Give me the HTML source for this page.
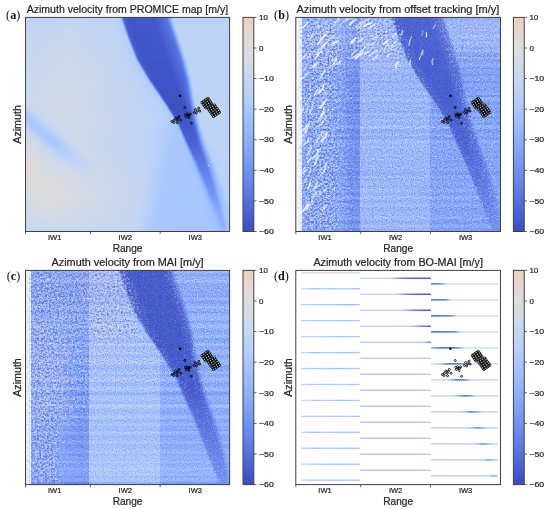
<!DOCTYPE html><html><head><meta charset="utf-8"><style>html,body{margin:0;padding:0;background:#fff;width:550px;height:509px;overflow:hidden;position:relative}.im{position:absolute}.im i{display:block;height:1px}svg{position:absolute;left:0;top:0;will-change:transform}</style></head><body><div class="im" style="left:25px;top:17px;width:205px"><i style="background:linear-gradient(90deg,#bed2f6 0.5px,#c0d4f5 60.5px,#b9d0f9 90.5px,#b5cdfa 94.5px,#a5c3fe 95.5px,#80a3fa 96.5px,#5a78e4 97.5px,#485fd1 98.5px,#4257c9 101.5px,#4358cb 128.5px,#5673e0 140.5px,#5a78e4 141.5px,#6485ec 142.5px,#86a9fc 144.5px,#98b9ff 145.5px,#a9c6fd 146.5px,#b5cdfa 147.5px,#bad0f8 148.5px,#bad0f8 204.5px)"></i><i style="background:linear-gradient(90deg,#bed2f6 0.5px,#c0d4f5 51.5px,#bbd1f8 86.5px,#b5cdfa 94.5px,#aec9fc 95.5px,#8db0fe 96.5px,#6687ed 97.5px,#4b64d5 98.5px,#445acc 100.5px,#4257c9 104.5px,#4358cb 128.5px,#4f69d9 136.5px,#5875e1 141.5px,#6180e9 142.5px,#6e90f2 143.5px,#93b5fe 145.5px,#a3c2fe 146.5px,#b1cbfc 147.5px,#b9d0f9 148.5px,#bad0f8 204.5px)"></i><i style="background:linear-gradient(90deg,#bed2f6 0.5px,#c1d4f4 48.5px,#bbd1f8 86.5px,#b3cdfb 95.5px,#9abbff 96.5px,#7295f4 97.5px,#516ddb 98.5px,#465ecf 99.5px,#4257c9 103.5px,#4358cb 129.5px,#5673e0 141.5px,#5d7ce6 142.5px,#7a9df8 144.5px,#8caffe 145.5px,#9ebeff 146.5px,#adc9fd 147.5px,#b7cff9 148.5px,#bad0f8 152.5px,#bad0f8 204.5px)"></i><i style="background:linear-gradient(90deg,#bed2f6 0.5px,#c1d4f4 51.5px,#bbd1f8 87.5px,#b5cdfa 95.5px,#a6c4fe 96.5px,#80a3fa 97.5px,#5a78e4 98.5px,#485fd1 99.5px,#4257c9 102.5px,#4358cb 129.5px,#5673e0 141.5px,#5a78e4 142.5px,#6485ec 143.5px,#86a9fc 145.5px,#98b9ff 146.5px,#a9c6fd 147.5px,#b5cdfa 148.5px,#bad0f8 149.5px,#bad0f8 204.5px)"></i><i style="background:linear-gradient(90deg,#bfd3f6 0.5px,#c1d4f4 61.5px,#bad0f8 90.5px,#b6cefa 95.5px,#aec9fc 96.5px,#8db0fe 97.5px,#6687ed 98.5px,#4b64d5 99.5px,#445acc 101.5px,#4257c9 105.5px,#4358cb 129.5px,#4f69d9 137.5px,#5875e1 142.5px,#6180e9 143.5px,#80a3fa 145.5px,#93b5fe 146.5px,#a5c3fe 147.5px,#b2ccfb 148.5px,#b9d0f9 149.5px,#bad0f8 204.5px)"></i><i style="background:linear-gradient(90deg,#bfd3f6 0.5px,#c3d5f4 49.5px,#bcd2f7 87.5px,#b5cdfa 96.5px,#9bbcff 97.5px,#7396f5 98.5px,#536edd 99.5px,#465ecf 100.5px,#4257c9 104.5px,#4358cb 130.5px,#5673e0 142.5px,#5d7ce6 143.5px,#7a9df8 145.5px,#8db0fe 146.5px,#9fbfff 147.5px,#aec9fc 148.5px,#b9d0f9 149.5px,#bbd1f8 153.5px,#bbd1f8 204.5px)"></i><i style="background:linear-gradient(90deg,#c0d4f5 0.5px,#c4d5f3 50.5px,#bed2f6 86.5px,#b6cefa 96.5px,#a7c5fe 97.5px,#81a4fb 98.5px,#5b7ae5 99.5px,#485fd1 100.5px,#4257c9 103.5px,#4358cb 130.5px,#5673e0 142.5px,#5a78e4 143.5px,#6485ec 144.5px,#86a9fc 146.5px,#9abbff 147.5px,#aac7fd 148.5px,#b6cefa 149.5px,#bbd1f8 150.5px,#bbd1f8 204.5px)"></i><i style="background:linear-gradient(90deg,#c1d4f4 0.5px,#c4d5f3 60.5px,#bcd2f7 90.5px,#b7cff9 96.5px,#b1cbfc 97.5px,#8fb1fe 98.5px,#6788ee 99.5px,#4b64d5 100.5px,#455cce 101.5px,#4257c9 104.5px,#4358cb 130.5px,#5875e1 143.5px,#6180e9 144.5px,#81a4fb 146.5px,#94b6ff 147.5px,#a6c4fe 148.5px,#b3cdfb 149.5px,#bbd1f8 150.5px,#bcd2f7 204.5px)"></i><i style="background:linear-gradient(90deg,#c1d4f4 0.5px,#c5d6f2 49.5px,#bfd3f6 87.5px,#b9d0f9 96.5px,#b6cefa 97.5px,#9dbdff 98.5px,#7597f6 99.5px,#536edd 100.5px,#465ecf 101.5px,#4257c9 105.5px,#4358cb 131.5px,#5673e0 143.5px,#5d7ce6 144.5px,#6a8bef 145.5px,#8db0fe 147.5px,#a1c0ff 148.5px,#afcafc 149.5px,#bad0f8 150.5px,#bcd2f7 154.5px,#bcd2f7 204.5px)"></i><i style="background:linear-gradient(90deg,#c3d5f4 0.5px,#c6d6f1 52.5px,#bfd3f6 89.5px,#b7cff9 97.5px,#a9c6fd 98.5px,#82a6fb 99.5px,#5b7ae5 100.5px,#485fd1 101.5px,#4257c9 104.5px,#4358cb 131.5px,#4f69d9 139.5px,#5673e0 143.5px,#5a78e4 144.5px,#6485ec 145.5px,#88abfd 147.5px,#9bbcff 148.5px,#b9d0f9 150.5px,#bed2f6 151.5px,#bed2f6 204.5px)"></i><i style="background:linear-gradient(90deg,#c3d5f4 0.5px,#c6d6f1 43.5px,#c1d4f4 85.5px,#b9d0f9 97.5px,#b2ccfb 98.5px,#90b2fe 99.5px,#6788ee 100.5px,#4b64d5 101.5px,#455cce 102.5px,#4257c9 105.5px,#4358cb 132.5px,#5875e1 144.5px,#6180e9 145.5px,#6f92f3 146.5px,#82a6fb 147.5px,#96b7ff 148.5px,#a7c5fe 149.5px,#b5cdfa 150.5px,#bed2f6 151.5px,#bed2f6 204.5px)"></i><i style="background:linear-gradient(90deg,#c4d5f3 0.5px,#c7d7f0 53.5px,#c0d4f5 89.5px,#b7cff9 98.5px,#9ebeff 99.5px,#7597f6 100.5px,#536edd 101.5px,#465ecf 102.5px,#4257c9 106.5px,#4358cb 132.5px,#5673e0 144.5px,#5d7ce6 145.5px,#6a8bef 146.5px,#8fb1fe 148.5px,#a2c1ff 149.5px,#b2ccfb 150.5px,#bbd1f8 151.5px,#bfd3f6 153.5px,#bfd3f6 204.5px)"></i><i style="background:linear-gradient(90deg,#c4d5f3 0.5px,#c7d7f0 49.5px,#c1d4f4 87.5px,#b9d0f9 98.5px,#aac7fd 99.5px,#84a7fc 100.5px,#5b7ae5 101.5px,#485fd1 102.5px,#4257c9 105.5px,#4358cb 132.5px,#4f69d9 140.5px,#5572df 144.5px,#5a78e4 145.5px,#6485ec 146.5px,#88abfd 148.5px,#9dbdff 149.5px,#adc9fd 150.5px,#bad0f8 151.5px,#bfd3f6 152.5px,#bfd3f6 204.5px)"></i><i style="background:linear-gradient(90deg,#c4d5f3 0.5px,#c7d7f0 45.5px,#c3d5f4 84.5px,#bad0f8 98.5px,#b2ccfb 99.5px,#92b4fe 100.5px,#688aef 101.5px,#4b64d5 102.5px,#455cce 103.5px,#4257c9 106.5px,#4358cb 133.5px,#5875e1 145.5px,#6180e9 146.5px,#6f92f3 147.5px,#82a6fb 148.5px,#96b7ff 149.5px,#a7c5fe 150.5px,#b6cefa 151.5px,#bed2f6 152.5px,#bfd3f6 204.5px)"></i><i style="background:linear-gradient(90deg,#c4d5f3 0.5px,#c9d7f0 46.5px,#c1d4f4 88.5px,#bad0f8 98.5px,#b7cff9 99.5px,#9fbfff 100.5px,#7699f6 101.5px,#5470de 102.5px,#465ecf 103.5px,#4055c8 108.5px,#4257c9 132.5px,#4e68d8 140.5px,#5673e0 145.5px,#5d7ce6 146.5px,#6a8bef 147.5px,#8fb1fe 149.5px,#a2c1ff 150.5px,#b2ccfb 151.5px,#bcd2f7 152.5px,#bfd3f6 156.5px,#bfd3f6 204.5px)"></i><i style="background:linear-gradient(90deg,#c4d5f3 0.5px,#c9d7f0 49.5px,#c1d4f4 88.5px,#b9d0f9 99.5px,#aac7fd 100.5px,#84a7fc 101.5px,#5d7ce6 102.5px,#485fd1 103.5px,#4055c8 107.5px,#4257c9 132.5px,#4b64d5 139.5px,#5572df 145.5px,#5a78e4 146.5px,#6485ec 147.5px,#88abfd 149.5px,#9dbdff 150.5px,#adc9fd 151.5px,#bad0f8 152.5px,#bfd3f6 153.5px,#bfd3f6 204.5px)"></i><i style="background:linear-gradient(90deg,#c5d6f2 0.5px,#c9d7f0 51.5px,#c0d4f5 91.5px,#bad0f8 99.5px,#b3cdfb 100.5px,#93b5fe 101.5px,#688aef 102.5px,#4b64d5 103.5px,#455cce 104.5px,#4055c8 108.5px,#4257c9 133.5px,#5875e1 146.5px,#6180e9 147.5px,#6f92f3 148.5px,#82a6fb 149.5px,#96b7ff 150.5px,#a7c5fe 151.5px,#b6cefa 152.5px,#bed2f6 153.5px,#bfd3f6 204.5px)"></i><i style="background:linear-gradient(90deg,#c5d6f2 0.5px,#c9d7f0 53.5px,#c0d4f5 92.5px,#b7cff9 100.5px,#9fbfff 101.5px,#7699f6 102.5px,#5470de 103.5px,#465ecf 104.5px,#4055c8 109.5px,#4257c9 133.5px,#4e68d8 141.5px,#5673e0 146.5px,#5d7ce6 147.5px,#6a8bef 148.5px,#8fb1fe 150.5px,#a2c1ff 151.5px,#b2ccfb 152.5px,#bcd2f7 153.5px,#bfd3f6 157.5px,#bfd3f6 204.5px)"></i><i style="background:linear-gradient(90deg,#c5d6f2 0.5px,#c9d7f0 54.5px,#c0d4f5 92.5px,#b9d0f9 100.5px,#abc8fd 101.5px,#85a8fc 102.5px,#5d7ce6 103.5px,#485fd1 104.5px,#4055c8 108.5px,#4257c9 133.5px,#4b64d5 140.5px,#5572df 146.5px,#5977e3 147.5px,#6485ec 148.5px,#88abfd 150.5px,#9dbdff 151.5px,#adc9fd 152.5px,#bad0f8 153.5px,#bfd3f6 154.5px,#bfd3f6 204.5px)"></i><i style="background:linear-gradient(90deg,#c5d6f2 0.5px,#c9d7f0 49.5px,#c1d4f4 90.5px,#bad0f8 100.5px,#b3cdfb 101.5px,#93b5fe 102.5px,#688aef 103.5px,#4b64d5 104.5px,#455cce 105.5px,#4055c8 109.5px,#4257c9 134.5px,#5875e1 147.5px,#6180e9 148.5px,#6f92f3 149.5px,#82a6fb 150.5px,#96b7ff 151.5px,#a7c5fe 152.5px,#b6cefa 153.5px,#bed2f6 154.5px,#bfd3f6 204.5px)"></i><i style="background:linear-gradient(90deg,#c5d6f2 0.5px,#c9d7f0 47.5px,#c3d5f4 87.5px,#bad0f8 100.5px,#b7cff9 101.5px,#a1c0ff 102.5px,#7699f6 103.5px,#5470de 104.5px,#465ecf 105.5px,#4055c8 108.5px,#4257c9 134.5px,#5673e0 147.5px,#5d7ce6 148.5px,#6a8bef 149.5px,#8fb1fe 151.5px,#a2c1ff 152.5px,#b2ccfb 153.5px,#bcd2f7 154.5px,#bfd3f6 158.5px,#bfd3f6 204.5px)"></i><i style="background:linear-gradient(90deg,#c5d6f2 0.5px,#cad8ef 47.5px,#c1d4f4 91.5px,#b9d0f9 101.5px,#abc8fd 102.5px,#86a9fc 103.5px,#5e7de7 104.5px,#485fd1 105.5px,#4055c8 109.5px,#4257c9 134.5px,#485fd1 139.5px,#5572df 147.5px,#5977e3 148.5px,#6485ec 149.5px,#88abfd 151.5px,#9dbdff 152.5px,#adc9fd 153.5px,#bad0f8 154.5px,#bfd3f6 155.5px,#bfd3f6 204.5px)"></i><i style="background:linear-gradient(90deg,#c5d6f2 0.5px,#cad8ef 49.5px,#c1d4f4 91.5px,#bad0f8 101.5px,#b5cdfa 102.5px,#97b8ff 103.5px,#6c8ff1 104.5px,#4e68d8 105.5px,#455cce 106.5px,#4055c8 110.5px,#4257c9 135.5px,#5572df 147.5px,#5875e1 148.5px,#6180e9 149.5px,#6f92f3 150.5px,#82a6fb 151.5px,#96b7ff 152.5px,#a7c5fe 153.5px,#b6cefa 154.5px,#bed2f6 155.5px,#bfd3f6 204.5px)"></i><i style="background:linear-gradient(90deg,#c5d6f2 0.5px,#cad8ef 46.5px,#c1d4f4 91.5px,#b9d0f9 102.5px,#a6c4fe 103.5px,#7da0f9 104.5px,#5977e3 105.5px,#465ecf 106.5px,#4055c8 109.5px,#4257c9 135.5px,#4b64d5 142.5px,#5572df 148.5px,#5d7ce6 149.5px,#6a8bef 150.5px,#8fb1fe 152.5px,#a2c1ff 153.5px,#b2ccfb 154.5px,#bcd2f7 155.5px,#bfd3f6 159.5px,#bfd3f6 204.5px)"></i><i style="background:linear-gradient(90deg,#c5d6f2 0.5px,#cad8ef 44.5px,#c3d5f4 89.5px,#b9d0f9 102.5px,#b1cbfc 103.5px,#8fb1fe 104.5px,#6485ec 105.5px,#4a63d3 106.5px,#4358cb 108.5px,#4055c8 112.5px,#4257c9 136.5px,#5572df 148.5px,#5977e3 149.5px,#6485ec 150.5px,#88abfd 152.5px,#9dbdff 153.5px,#adc9fd 154.5px,#bad0f8 155.5px,#bfd3f6 156.5px,#bfd3f6 204.5px)"></i><i style="background:linear-gradient(90deg,#c5d6f2 0.5px,#cad8ef 41.5px,#c5d6f2 81.5px,#bcd2f7 99.5px,#b7cff9 103.5px,#9ebeff 104.5px,#7597f6 105.5px,#536edd 106.5px,#455cce 107.5px,#4055c8 111.5px,#4257c9 136.5px,#4e68d8 144.5px,#5875e1 149.5px,#6180e9 150.5px,#6f92f3 151.5px,#82a6fb 152.5px,#96b7ff 153.5px,#a7c5fe 154.5px,#b6cefa 155.5px,#bed2f6 156.5px,#bfd3f6 204.5px)"></i><i style="background:linear-gradient(90deg,#c5d6f2 0.5px,#cad8ef 39.5px,#c6d6f1 77.5px,#bed2f6 98.5px,#b9d0f9 103.5px,#abc8fd 104.5px,#85a8fc 105.5px,#5e7de7 106.5px,#485fd1 107.5px,#4358cb 109.5px,#4055c8 113.5px,#4257c9 136.5px,#4b64d5 143.5px,#5572df 149.5px,#5d7ce6 150.5px,#6a8bef 151.5px,#8fb1fe 153.5px,#a2c1ff 154.5px,#b2ccfb 155.5px,#bcd2f7 156.5px,#bfd3f6 160.5px,#bfd3f6 204.5px)"></i><i style="background:linear-gradient(90deg,#c6d6f1 0.5px,#cad8ef 45.5px,#c4d5f3 86.5px,#bad0f8 102.5px,#b3cdfb 104.5px,#96b7ff 105.5px,#6c8ff1 106.5px,#4e68d8 107.5px,#455cce 108.5px,#4055c8 112.5px,#4257c9 137.5px,#5572df 149.5px,#5977e3 150.5px,#6485ec 151.5px,#89acfd 153.5px,#9dbdff 154.5px,#adc9fd 155.5px,#bad0f8 156.5px,#bfd3f6 157.5px,#bfd3f6 204.5px)"></i><i style="background:linear-gradient(90deg,#c6d6f1 0.5px,#cbd8ee 47.5px,#c1d4f4 93.5px,#b7cff9 104.5px,#a5c3fe 105.5px,#7da0f9 106.5px,#5977e3 107.5px,#465ecf 108.5px,#4055c8 111.5px,#4257c9 137.5px,#4e68d8 145.5px,#5875e1 150.5px,#6180e9 151.5px,#6f92f3 152.5px,#82a6fb 153.5px,#96b7ff 154.5px,#a9c6fd 155.5px,#b6cefa 156.5px,#bed2f6 157.5px,#bfd3f6 204.5px)"></i><i style="background:linear-gradient(90deg,#c6d6f1 0.5px,#cbd8ee 49.5px,#c1d4f4 93.5px,#b7cff9 104.5px,#afcafc 105.5px,#8db0fe 106.5px,#6485ec 107.5px,#4a63d3 108.5px,#4358cb 110.5px,#4055c8 114.5px,#4257c9 138.5px,#5572df 150.5px,#5d7ce6 151.5px,#6a8bef 152.5px,#90b2fe 154.5px,#b2ccfb 156.5px,#bcd2f7 157.5px,#bfd3f6 161.5px,#bfd3f6 204.5px)"></i><i style="background:linear-gradient(90deg,#c6d6f1 0.5px,#cbd8ee 48.5px,#c1d4f4 94.5px,#b9d0f9 104.5px,#b6cefa 105.5px,#9dbdff 106.5px,#7396f5 107.5px,#536edd 108.5px,#455cce 109.5px,#4055c8 113.5px,#4257c9 138.5px,#5572df 150.5px,#5977e3 151.5px,#6485ec 152.5px,#89acfd 154.5px,#9dbdff 155.5px,#aec9fc 156.5px,#bad0f8 157.5px,#bfd3f6 158.5px,#bfd3f6 204.5px)"></i><i style="background:linear-gradient(90deg,#c6d6f1 0.5px,#cbd8ee 44.5px,#c4d5f3 88.5px,#bad0f8 103.5px,#b7cff9 105.5px,#aac7fd 106.5px,#84a7fc 107.5px,#5d7ce6 108.5px,#465ecf 109.5px,#4055c8 112.5px,#4257c9 138.5px,#4e68d8 146.5px,#5673e0 151.5px,#6180e9 152.5px,#6f92f3 153.5px,#82a6fb 154.5px,#96b7ff 155.5px,#a9c6fd 156.5px,#b6cefa 157.5px,#bed2f6 158.5px,#bfd3f6 204.5px)"></i><i style="background:linear-gradient(90deg,#c6d6f1 0.5px,#cbd8ee 43.5px,#c5d6f2 84.5px,#bcd2f7 101.5px,#b7cff9 105.5px,#b2ccfb 106.5px,#94b6ff 107.5px,#6b8df0 108.5px,#4e68d8 109.5px,#455cce 110.5px,#4055c8 114.5px,#4257c9 139.5px,#5572df 151.5px,#5d7ce6 152.5px,#6a8bef 153.5px,#90b2fe 155.5px,#a3c2fe 156.5px,#b2ccfb 157.5px,#bcd2f7 158.5px,#bfd3f6 162.5px,#bfd3f6 204.5px)"></i><i style="background:linear-gradient(90deg,#c6d6f1 0.5px,#cbd8ee 39.5px,#c7d7f0 75.5px,#bed2f6 100.5px,#b6cefa 106.5px,#a3c2fe 107.5px,#7b9ff9 108.5px,#5977e3 109.5px,#455cce 110.5px,#4055c8 114.5px,#4257c9 139.5px,#4e68d8 147.5px,#5977e3 152.5px,#6485ec 153.5px,#89acfd 155.5px,#9dbdff 156.5px,#aec9fc 157.5px,#bad0f8 158.5px,#bfd3f6 159.5px,#bfd3f6 204.5px)"></i><i style="background:linear-gradient(90deg,#c6d6f1 0.5px,#ccd9ed 45.5px,#c3d5f4 92.5px,#b9d0f9 105.5px,#b6cefa 106.5px,#aec9fc 107.5px,#8caffe 108.5px,#6384eb 109.5px,#4961d2 110.5px,#445acc 111.5px,#4055c8 114.5px,#4257c9 140.5px,#5673e0 152.5px,#6180e9 153.5px,#6f92f3 154.5px,#82a6fb 155.5px,#97b8ff 156.5px,#a9c6fd 157.5px,#b6cefa 158.5px,#bed2f6 159.5px,#bfd3f6 204.5px)"></i><i style="background:linear-gradient(90deg,#c6d6f1 0.5px,#ccd9ed 44.5px,#c4d5f3 89.5px,#bad0f8 104.5px,#b5cdfa 107.5px,#9bbcff 108.5px,#7295f4 109.5px,#536edd 110.5px,#455cce 111.5px,#4055c8 115.5px,#4257c9 140.5px,#5572df 152.5px,#5d7ce6 153.5px,#6a8bef 154.5px,#90b2fe 156.5px,#a3c2fe 157.5px,#b2ccfb 158.5px,#bcd2f7 159.5px,#bfd3f6 163.5px,#bfd3f6 204.5px)"></i><i style="background:linear-gradient(90deg,#c6d6f1 0.5px,#ccd9ed 42.5px,#c4d5f3 90.5px,#bbd1f8 103.5px,#b6cefa 107.5px,#a7c5fe 108.5px,#82a6fb 109.5px,#5d7ce6 110.5px,#465ecf 111.5px,#4055c8 114.5px,#4257c9 140.5px,#4e68d8 148.5px,#5572df 152.5px,#5977e3 153.5px,#6485ec 154.5px,#89acfd 156.5px,#9dbdff 157.5px,#aec9fc 158.5px,#bad0f8 159.5px,#bfd3f6 160.5px,#bfd3f6 204.5px)"></i><i style="background:linear-gradient(90deg,#c6d6f1 0.5px,#ccd9ed 40.5px,#c6d6f1 82.5px,#bed2f6 101.5px,#b6cefa 107.5px,#b1cbfc 108.5px,#93b5fe 109.5px,#6a8bef 110.5px,#4c66d6 111.5px,#455cce 112.5px,#4055c8 114.5px,#4257c9 141.5px,#5673e0 153.5px,#6180e9 154.5px,#82a6fb 156.5px,#97b8ff 157.5px,#a9c6fd 158.5px,#b6cefa 159.5px,#bed2f6 160.5px,#bfd3f6 204.5px)"></i><i style="background:linear-gradient(90deg,#c6d6f1 0.5px,#ccd9ed 38.5px,#c7d7f0 77.5px,#bed2f6 101.5px,#b5cdfa 108.5px,#a1c0ff 109.5px,#7a9df8 110.5px,#5977e3 111.5px,#455cce 112.5px,#4055c8 116.5px,#4257c9 141.5px,#5572df 153.5px,#5d7ce6 154.5px,#6a8bef 155.5px,#7da0f9 156.5px,#90b2fe 157.5px,#a3c2fe 158.5px,#b2ccfb 159.5px,#bcd2f7 160.5px,#bfd3f6 164.5px,#bfd3f6 204.5px)"></i><i style="background:linear-gradient(90deg,#c7d7f0 0.5px,#ccd9ed 43.5px,#c6d6f1 82.5px,#bed2f6 102.5px,#b5cdfa 108.5px,#adc9fd 109.5px,#8badfd 110.5px,#6282ea 111.5px,#4961d2 112.5px,#4257c9 114.5px,#4257c9 141.5px,#4e68d8 149.5px,#5470de 153.5px,#5977e3 154.5px,#6485ec 155.5px,#89acfd 157.5px,#9dbdff 158.5px,#aec9fc 159.5px,#bad0f8 160.5px,#bfd3f6 161.5px,#bfd3f6 204.5px)"></i><i style="background:linear-gradient(90deg,#c7d7f0 0.5px,#ccd9ed 41.5px,#c9d7f0 73.5px,#bfd3f6 100.5px,#b3cdfb 109.5px,#9abbff 110.5px,#7295f4 111.5px,#516ddb 112.5px,#455cce 113.5px,#4055c8 117.5px,#4257c9 142.5px,#5673e0 154.5px,#6180e9 155.5px,#82a6fb 157.5px,#97b8ff 158.5px,#a9c6fd 159.5px,#b7cff9 160.5px,#bed2f6 161.5px,#bfd3f6 204.5px)"></i><i style="background:linear-gradient(90deg,#c7d7f0 0.5px,#cdd9ec 44.5px,#c4d5f3 91.5px,#bad0f8 106.5px,#b5cdfa 109.5px,#a6c4fe 110.5px,#81a4fb 111.5px,#5b7ae5 112.5px,#465ecf 113.5px,#4055c8 116.5px,#4257c9 142.5px,#5572df 154.5px,#5d7ce6 155.5px,#6a8bef 156.5px,#7da0f9 157.5px,#90b2fe 158.5px,#a3c2fe 159.5px,#b3cdfb 160.5px,#bcd2f7 161.5px,#bfd3f6 165.5px,#bfd3f6 204.5px)"></i><i style="background:linear-gradient(90deg,#c7d7f0 0.5px,#cdd9ec 47.5px,#c3d5f4 94.5px,#b7cff9 108.5px,#b1cbfc 110.5px,#93b5fe 111.5px,#6b8df0 112.5px,#4e68d8 113.5px,#445acc 114.5px,#4055c8 117.5px,#4257c9 143.5px,#5470de 154.5px,#5977e3 155.5px,#7699f6 157.5px,#8badfd 158.5px,#9ebeff 159.5px,#aec9fc 160.5px,#bad0f8 161.5px,#bfd3f6 162.5px,#bfd3f6 204.5px)"></i><i style="background:linear-gradient(90deg,#c7d7f0 0.5px,#cdd9ec 44.5px,#c4d5f3 92.5px,#bbd1f8 105.5px,#b3cdfb 110.5px,#a7c5fe 111.5px,#82a6fb 112.5px,#5d7ce6 113.5px,#465ecf 114.5px,#4055c8 117.5px,#4257c9 143.5px,#4b64d5 149.5px,#5470de 154.5px,#5875e1 155.5px,#6282ea 156.5px,#85a8fc 158.5px,#98b9ff 159.5px,#aac7fd 160.5px,#b7cff9 161.5px,#bfd3f6 162.5px,#bfd3f6 204.5px)"></i><i style="background:linear-gradient(90deg,#c7d7f0 0.5px,#cdd9ec 42.5px,#c6d6f1 84.5px,#bed2f6 103.5px,#b5cdfa 110.5px,#b2ccfb 111.5px,#9abbff 112.5px,#7295f4 113.5px,#536edd 114.5px,#455cce 115.5px,#4055c8 117.5px,#4055c8 142.5px,#4a63d3 149.5px,#5572df 155.5px,#5e7de7 156.5px,#6c8ff1 157.5px,#80a3fa 158.5px,#93b5fe 159.5px,#a6c4fe 160.5px,#b5cdfa 161.5px,#bed2f6 162.5px,#bfd3f6 204.5px)"></i><i style="background:linear-gradient(90deg,#c7d7f0 0.5px,#cdd9ec 42.5px,#c6d6f1 85.5px,#bcd2f7 105.5px,#b3cdfb 111.5px,#abc8fd 112.5px,#89acfd 113.5px,#6282ea 114.5px,#4961d2 115.5px,#4257c9 117.5px,#3f53c6 121.5px,#4055c8 143.5px,#4e68d8 151.5px,#5572df 155.5px,#5b7ae5 156.5px,#688aef 157.5px,#8fb1fe 159.5px,#a2c1ff 160.5px,#b2ccfb 161.5px,#bcd2f7 162.5px,#bfd3f6 166.5px,#bfd3f6 204.5px)"></i><i style="background:linear-gradient(90deg,#c7d7f0 0.5px,#cdd9ec 40.5px,#c9d7f0 76.5px,#bed2f6 104.5px,#b3cdfb 112.5px,#9fbfff 113.5px,#799cf8 114.5px,#5875e1 115.5px,#455cce 116.5px,#4055c8 118.5px,#4055c8 143.5px,#4c66d6 151.5px,#5470de 155.5px,#5977e3 156.5px,#6485ec 157.5px,#89acfd 159.5px,#9dbdff 160.5px,#aec9fc 161.5px,#bad0f8 162.5px,#bfd3f6 163.5px,#bfd3f6 204.5px)"></i><i style="background:linear-gradient(90deg,#c7d7f0 0.5px,#cdd9ec 38.5px,#c9d7f0 76.5px,#bfd3f6 103.5px,#b3cdfb 112.5px,#aec9fc 113.5px,#90b2fe 114.5px,#688aef 115.5px,#4c66d6 116.5px,#445acc 117.5px,#3f53c6 121.5px,#4055c8 144.5px,#5673e0 156.5px,#6180e9 157.5px,#84a7fc 159.5px,#98b9ff 160.5px,#aac7fd 161.5px,#b7cff9 162.5px,#bed2f6 163.5px,#bfd3f6 204.5px)"></i><i style="background:linear-gradient(90deg,#c7d7f0 0.5px,#cedaeb 40.5px,#c5d6f2 90.5px,#bbd1f8 108.5px,#b3cdfb 113.5px,#a5c3fe 114.5px,#80a3fa 115.5px,#5a78e4 116.5px,#465ecf 117.5px,#4257c9 119.5px,#3f53c6 123.5px,#4055c8 144.5px,#4e68d8 152.5px,#5572df 156.5px,#5e7de7 157.5px,#7ea1fa 159.5px,#93b5fe 160.5px,#a6c4fe 161.5px,#b5cdfa 162.5px,#bed2f6 163.5px,#bfd3f6 204.5px)"></i><i style="background:linear-gradient(90deg,#c7d7f0 0.5px,#cedaeb 43.5px,#c4d5f3 94.5px,#bad0f8 109.5px,#b1cbfc 114.5px,#97b8ff 115.5px,#6f92f3 116.5px,#516ddb 117.5px,#445acc 118.5px,#3f53c6 122.5px,#4055c8 144.5px,#4c66d6 152.5px,#5470de 156.5px,#5a78e4 157.5px,#6788ee 158.5px,#7a9df8 159.5px,#8db0fe 160.5px,#a1c0ff 161.5px,#b1cbfc 162.5px,#bbd1f8 163.5px,#bfd3f6 165.5px,#bfd3f6 204.5px)"></i><i style="background:linear-gradient(90deg,#c7d7f0 0.5px,#cedaeb 40.5px,#c6d6f1 86.5px,#bed2f6 106.5px,#b3cdfb 114.5px,#aac7fd 115.5px,#88abfd 116.5px,#6180e9 117.5px,#485fd1 118.5px,#4358cb 119.5px,#3f53c6 123.5px,#4055c8 145.5px,#5470de 156.5px,#5875e1 157.5px,#6384eb 158.5px,#88abfd 160.5px,#9dbdff 161.5px,#adc9fd 162.5px,#bad0f8 163.5px,#bfd3f6 164.5px,#bfd3f6 204.5px)"></i><i style="background:linear-gradient(90deg,#c7d7f0 0.5px,#cedaeb 39.5px,#c9d7f0 78.5px,#bed2f6 107.5px,#b2ccfb 115.5px,#9ebeff 116.5px,#779af7 117.5px,#5673e0 118.5px,#445acc 119.5px,#3f53c6 123.5px,#4055c8 145.5px,#4e68d8 153.5px,#536edd 156.5px,#5673e0 157.5px,#6180e9 158.5px,#6f92f3 159.5px,#82a6fb 160.5px,#97b8ff 161.5px,#a9c6fd 162.5px,#b7cff9 163.5px,#bed2f6 164.5px,#bfd3f6 204.5px)"></i><i style="background:linear-gradient(90deg,#c7d7f0 0.5px,#cedaeb 38.5px,#cad8ef 74.5px,#bfd3f6 106.5px,#b3cdfb 115.5px,#adc9fd 116.5px,#8fb1fe 117.5px,#6788ee 118.5px,#4b64d5 119.5px,#445acc 120.5px,#3f53c6 124.5px,#4055c8 146.5px,#5572df 157.5px,#5d7ce6 158.5px,#6b8df0 159.5px,#7ea1fa 160.5px,#92b4fe 161.5px,#a5c3fe 162.5px,#b3cdfb 163.5px,#bcd2f7 164.5px,#bfd3f6 168.5px,#bfd3f6 204.5px)"></i><i style="background:linear-gradient(90deg,#c9d7f0 0.5px,#cedaeb 44.5px,#c6d6f1 87.5px,#bcd2f7 109.5px,#b2ccfb 116.5px,#a3c2fe 117.5px,#7ea1fa 118.5px,#5977e3 119.5px,#455cce 120.5px,#3f53c6 123.5px,#4055c8 146.5px,#465ecf 150.5px,#5470de 157.5px,#5a78e4 158.5px,#6788ee 159.5px,#8caffe 161.5px,#9fbfff 162.5px,#b1cbfc 163.5px,#bbd1f8 164.5px,#bfd3f6 166.5px,#bfd3f6 204.5px)"></i><i style="background:linear-gradient(90deg,#c9d7f0 0.5px,#cedaeb 42.5px,#c7d7f0 83.5px,#bed2f6 108.5px,#b3cdfb 116.5px,#afcafc 117.5px,#96b7ff 118.5px,#6e90f2 119.5px,#506bda 120.5px,#445acc 121.5px,#3f53c6 125.5px,#4055c8 146.5px,#485fd1 151.5px,#536edd 157.5px,#5875e1 158.5px,#6384eb 159.5px,#7396f5 160.5px,#88abfd 161.5px,#9bbcff 162.5px,#adc9fd 163.5px,#b9d0f9 164.5px,#bfd3f6 165.5px,#bfd3f6 204.5px)"></i><i style="background:linear-gradient(90deg,#c9d7f0 0.5px,#cedaeb 41.5px,#c9d7f0 79.5px,#bed2f6 109.5px,#b3cdfb 117.5px,#a9c6fd 118.5px,#85a8fc 119.5px,#5f7fe8 120.5px,#485fd1 121.5px,#4055c8 123.5px,#4055c8 147.5px,#5572df 158.5px,#5f7fe8 159.5px,#82a6fb 161.5px,#96b7ff 162.5px,#a9c6fd 163.5px,#b6cefa 164.5px,#bed2f6 165.5px,#bfd3f6 204.5px)"></i><i style="background:linear-gradient(90deg,#c9d7f0 0.5px,#cedaeb 39.5px,#cbd8ee 70.5px,#bfd3f6 108.5px,#b2ccfb 118.5px,#9dbdff 119.5px,#7597f6 120.5px,#5572df 121.5px,#445acc 122.5px,#3f53c6 126.5px,#4055c8 147.5px,#4a63d3 153.5px,#5470de 158.5px,#5d7ce6 159.5px,#6a8bef 160.5px,#7da0f9 161.5px,#90b2fe 162.5px,#a3c2fe 163.5px,#b3cdfb 164.5px,#bcd2f7 165.5px,#bfd3f6 169.5px,#bfd3f6 204.5px)"></i><i style="background:linear-gradient(90deg,#c9d7f0 0.5px,#cedaeb 38.5px,#cbd8ee 71.5px,#bfd3f6 108.5px,#b3cdfb 118.5px,#adc9fd 119.5px,#8db0fe 120.5px,#6687ed 121.5px,#4a63d3 122.5px,#4358cb 123.5px,#3f53c6 126.5px,#4055c8 148.5px,#536edd 158.5px,#5977e3 159.5px,#6687ed 160.5px,#8caffe 162.5px,#9fbfff 163.5px,#afcafc 164.5px,#bbd1f8 165.5px,#bfd3f6 167.5px,#bfd3f6 204.5px)"></i><i style="background:linear-gradient(90deg,#c9d7f0 0.5px,#cfdaea 43.5px,#c4d5f3 97.5px,#bbd1f8 113.5px,#b2ccfb 119.5px,#a2c1ff 120.5px,#7da0f9 121.5px,#5875e1 122.5px,#445acc 123.5px,#3f53c6 127.5px,#4055c8 148.5px,#536edd 158.5px,#5673e0 159.5px,#6282ea 160.5px,#86a9fc 162.5px,#9abbff 163.5px,#abc8fd 164.5px,#b9d0f9 165.5px,#bfd3f6 166.5px,#bfd3f6 204.5px)"></i><i style="background:linear-gradient(90deg,#c9d7f0 0.5px,#cfdaea 43.5px,#c3d5f4 101.5px,#b9d0f9 116.5px,#afcafc 120.5px,#94b6ff 121.5px,#6c8ff1 122.5px,#4f69d9 123.5px,#4358cb 124.5px,#3f53c6 127.5px,#4055c8 148.5px,#4a63d3 154.5px,#5572df 159.5px,#5e7de7 160.5px,#81a4fb 162.5px,#96b7ff 163.5px,#a7c5fe 164.5px,#b6cefa 165.5px,#bed2f6 166.5px,#bfd3f6 204.5px)"></i><i style="background:linear-gradient(90deg,#c9d7f0 0.5px,#cfdaea 42.5px,#c6d6f1 89.5px,#bed2f6 111.5px,#b2ccfb 120.5px,#a7c5fe 121.5px,#84a7fc 122.5px,#5e7de7 123.5px,#465ecf 124.5px,#3f53c6 127.5px,#4055c8 149.5px,#5470de 159.5px,#5b7ae5 160.5px,#7b9ff9 162.5px,#90b2fe 163.5px,#a3c2fe 164.5px,#b2ccfb 165.5px,#bcd2f7 166.5px,#bfd3f6 170.5px,#bfd3f6 204.5px)"></i><i style="background:linear-gradient(90deg,#c9d7f0 0.5px,#cfdaea 42.5px,#c6d6f1 89.5px,#bcd2f7 114.5px,#b1cbfc 121.5px,#9bbcff 122.5px,#7396f5 123.5px,#5470de 124.5px,#445acc 125.5px,#3f53c6 127.5px,#4055c8 149.5px,#465ecf 153.5px,#536edd 159.5px,#5977e3 160.5px,#6687ed 161.5px,#8badfd 163.5px,#9ebeff 164.5px,#afcafc 165.5px,#bbd1f8 166.5px,#bfd3f6 168.5px,#bfd3f6 204.5px)"></i><i style="background:linear-gradient(90deg,#c9d7f0 0.5px,#cfdaea 40.5px,#cad8ef 76.5px,#bed2f6 113.5px,#b3cdfb 121.5px,#abc8fd 122.5px,#8caffe 123.5px,#6485ec 124.5px,#4961d2 125.5px,#4358cb 126.5px,#3f53c6 129.5px,#4055c8 150.5px,#536edd 159.5px,#5673e0 160.5px,#6282ea 161.5px,#85a8fc 163.5px,#9abbff 164.5px,#abc8fd 165.5px,#b9d0f9 166.5px,#bfd3f6 167.5px,#bfd3f6 204.5px)"></i><i style="background:linear-gradient(90deg,#c9d7f0 0.5px,#cfdaea 40.5px,#c9d7f0 81.5px,#bed2f6 113.5px,#b2ccfb 122.5px,#a1c0ff 123.5px,#7b9ff9 124.5px,#5673e0 125.5px,#445acc 126.5px,#3f53c6 128.5px,#4055c8 150.5px,#4e68d8 157.5px,#5470de 160.5px,#5e7de7 161.5px,#80a3fa 163.5px,#94b6ff 164.5px,#a7c5fe 165.5px,#b6cefa 166.5px,#bed2f6 167.5px,#bfd3f6 204.5px)"></i><i style="background:linear-gradient(90deg,#c9d7f0 0.5px,#cfdaea 40.5px,#c9d7f0 81.5px,#bed2f6 114.5px,#b3cdfb 122.5px,#b1cbfc 123.5px,#97b8ff 124.5px,#6f92f3 125.5px,#506bda 126.5px,#4358cb 127.5px,#3f53c6 130.5px,#4055c8 150.5px,#465ecf 154.5px,#5470de 160.5px,#5b7ae5 161.5px,#6a8bef 162.5px,#7da0f9 163.5px,#92b4fe 164.5px,#a5c3fe 165.5px,#b3cdfb 166.5px,#bcd2f7 167.5px,#bfd3f6 171.5px,#bfd3f6 204.5px)"></i><i style="background:linear-gradient(90deg,#c9d7f0 0.5px,#cfdaea 38.5px,#cbd8ee 73.5px,#bed2f6 114.5px,#b3cdfb 123.5px,#abc8fd 124.5px,#8badfd 125.5px,#6384eb 126.5px,#4961d2 127.5px,#4257c9 128.5px,#3f53c6 132.5px,#4055c8 151.5px,#536edd 160.5px,#5a78e4 161.5px,#6788ee 162.5px,#7a9df8 163.5px,#8db0fe 164.5px,#a1c0ff 165.5px,#b1cbfc 166.5px,#bbd1f8 167.5px,#bfd3f6 169.5px,#bfd3f6 204.5px)"></i><i style="background:linear-gradient(90deg,#c9d7f0 0.5px,#cfdaea 38.5px,#cbd8ee 73.5px,#bed2f6 115.5px,#b2ccfb 124.5px,#a3c2fe 125.5px,#7da0f9 126.5px,#5977e3 127.5px,#445acc 128.5px,#3f53c6 130.5px,#4055c8 151.5px,#4e68d8 158.5px,#516ddb 160.5px,#5875e1 161.5px,#6485ec 162.5px,#8badfd 164.5px,#9ebeff 165.5px,#afcafc 166.5px,#bad0f8 167.5px,#bfd3f6 168.5px,#bfd3f6 204.5px)"></i><i style="background:linear-gradient(90deg,#c9d7f0 0.5px,#cfdaea 36.5px,#ccd9ed 69.5px,#bed2f6 115.5px,#b3cdfb 124.5px,#b1cbfc 125.5px,#98b9ff 126.5px,#7093f3 127.5px,#516ddb 128.5px,#4358cb 129.5px,#3f53c6 132.5px,#4055c8 152.5px,#516ddb 160.5px,#5673e0 161.5px,#6282ea 162.5px,#86a9fc 164.5px,#9bbcff 165.5px,#adc9fd 166.5px,#b9d0f9 167.5px,#bfd3f6 168.5px,#bfd3f6 204.5px)"></i><i style="background:linear-gradient(90deg,#c9d7f0 0.5px,#cfdaea 36.5px,#ccd9ed 69.5px,#bed2f6 116.5px,#b3cdfb 125.5px,#adc9fd 126.5px,#8caffe 127.5px,#6485ec 128.5px,#4961d2 129.5px,#4257c9 130.5px,#3e51c5 133.5px,#3f53c6 151.5px,#4a63d3 157.5px,#5572df 161.5px,#5f7fe8 162.5px,#6f92f3 163.5px,#84a7fc 164.5px,#97b8ff 165.5px,#aac7fd 166.5px,#b7cff9 167.5px,#bed2f6 168.5px,#bfd3f6 204.5px)"></i><i style="background:linear-gradient(90deg,#c9d7f0 0.5px,#cfdaea 36.5px,#ccd9ed 69.5px,#bed2f6 117.5px,#b2ccfb 126.5px,#a5c3fe 127.5px,#80a3fa 128.5px,#5a78e4 129.5px,#445acc 130.5px,#3f53c6 132.5px,#3f53c6 152.5px,#5470de 161.5px,#5d7ce6 162.5px,#80a3fa 164.5px,#94b6ff 165.5px,#a7c5fe 166.5px,#b6cefa 167.5px,#bed2f6 168.5px,#bfd3f6 204.5px)"></i><i style="background:linear-gradient(90deg,#c9d7f0 0.5px,#cfdaea 36.5px,#ccd9ed 69.5px,#bed2f6 117.5px,#b3cdfb 126.5px,#b1cbfc 127.5px,#9bbcff 128.5px,#7396f5 129.5px,#536edd 130.5px,#4358cb 131.5px,#3e51c5 133.5px,#3f53c6 152.5px,#465ecf 156.5px,#536edd 161.5px,#5b7ae5 162.5px,#6a8bef 163.5px,#7da0f9 164.5px,#90b2fe 165.5px,#a3c2fe 166.5px,#b3cdfb 167.5px,#bcd2f7 168.5px,#bfd3f6 172.5px,#bfd3f6 204.5px)"></i><i style="background:linear-gradient(90deg,#c9d7f0 0.5px,#cfdaea 34.5px,#ccd9ed 69.5px,#bed2f6 118.5px,#b3cdfb 127.5px,#adc9fd 128.5px,#8fb1fe 129.5px,#6788ee 130.5px,#4a63d3 131.5px,#4257c9 132.5px,#3e51c5 135.5px,#3f53c6 152.5px,#455cce 156.5px,#516ddb 161.5px,#5977e3 162.5px,#799cf8 164.5px,#8db0fe 165.5px,#a1c0ff 166.5px,#b1cbfc 167.5px,#bbd1f8 168.5px,#bfd3f6 170.5px,#bfd3f6 204.5px)"></i><i style="background:linear-gradient(90deg,#c9d7f0 0.5px,#cfdaea 34.5px,#cdd9ec 65.5px,#bed2f6 118.5px,#b5cdfa 127.5px,#b2ccfb 128.5px,#a6c4fe 129.5px,#82a6fb 130.5px,#5b7ae5 131.5px,#445acc 132.5px,#3e51c5 134.5px,#3f53c6 153.5px,#516ddb 161.5px,#5673e0 162.5px,#7699f6 164.5px,#8badfd 165.5px,#9ebeff 166.5px,#afcafc 167.5px,#bad0f8 168.5px,#bfd3f6 169.5px,#bfd3f6 204.5px)"></i><i style="background:linear-gradient(90deg,#c9d7f0 0.5px,#d1dae9 40.5px,#c7d7f0 87.5px,#bcd2f7 121.5px,#b3cdfb 128.5px,#b1cbfc 129.5px,#9dbdff 130.5px,#7699f6 131.5px,#5572df 132.5px,#4257c9 133.5px,#3e51c5 136.5px,#3f53c6 153.5px,#465ecf 157.5px,#506bda 161.5px,#5572df 162.5px,#6282ea 163.5px,#86a9fc 165.5px,#9bbcff 166.5px,#adc9fd 167.5px,#b9d0f9 168.5px,#bfd3f6 169.5px,#bfd3f6 204.5px)"></i><i style="background:linear-gradient(90deg,#c9d7f0 0.5px,#d1dae9 40.5px,#c7d7f0 87.5px,#bcd2f7 121.5px,#b3cdfb 129.5px,#aec9fc 130.5px,#92b4fe 131.5px,#688aef 132.5px,#4b64d5 133.5px,#4055c8 134.5px,#3e51c5 138.5px,#3f53c6 154.5px,#506bda 161.5px,#5470de 162.5px,#5f7fe8 163.5px,#6f92f3 164.5px,#84a7fc 165.5px,#97b8ff 166.5px,#aac7fd 167.5px,#b7cff9 168.5px,#bed2f6 169.5px,#bfd3f6 204.5px)"></i><i style="background:linear-gradient(90deg,#c9d7f0 0.5px,#d1dae9 40.5px,#c9d7f0 83.5px,#bcd2f7 122.5px,#b2ccfb 130.5px,#a7c5fe 131.5px,#85a8fc 132.5px,#5e7de7 133.5px,#455cce 134.5px,#3e51c5 136.5px,#3f53c6 154.5px,#536edd 162.5px,#5d7ce6 163.5px,#80a3fa 165.5px,#94b6ff 166.5px,#a7c5fe 167.5px,#b6cefa 168.5px,#bed2f6 169.5px,#bfd3f6 204.5px)"></i><i style="background:linear-gradient(90deg,#cad8ef 0.5px,#d1dae9 44.5px,#c0d4f5 115.5px,#b7cff9 128.5px,#b2ccfb 131.5px,#9fbfff 132.5px,#779af7 133.5px,#5470de 134.5px,#4257c9 135.5px,#3e51c5 138.5px,#3f53c6 154.5px,#465ecf 158.5px,#516ddb 162.5px,#5a78e4 163.5px,#7da0f9 165.5px,#90b2fe 166.5px,#a3c2fe 167.5px,#b3cdfb 168.5px,#bcd2f7 169.5px,#bfd3f6 173.5px,#bfd3f6 204.5px)"></i><i style="background:linear-gradient(90deg,#cad8ef 0.5px,#d1dae9 44.5px,#bfd3f6 119.5px,#b3cdfb 131.5px,#afcafc 132.5px,#93b5fe 133.5px,#6b8df0 134.5px,#4c66d6 135.5px,#4055c8 136.5px,#3e51c5 138.5px,#3f53c6 155.5px,#506bda 162.5px,#5875e1 163.5px,#6687ed 164.5px,#799cf8 165.5px,#8db0fe 166.5px,#a1c0ff 167.5px,#b1cbfc 168.5px,#bbd1f8 169.5px,#bfd3f6 171.5px,#bfd3f6 204.5px)"></i><i style="background:linear-gradient(90deg,#cad8ef 0.5px,#d1dae9 44.5px,#bfd3f6 119.5px,#b5cdfa 131.5px,#b2ccfb 132.5px,#a9c6fd 133.5px,#86a9fc 134.5px,#5f7fe8 135.5px,#455cce 136.5px,#3f53c6 137.5px,#3f53c6 155.5px,#4f69d9 162.5px,#5673e0 163.5px,#6384eb 164.5px,#7699f6 165.5px,#89acfd 166.5px,#9ebeff 167.5px,#afcafc 168.5px,#bad0f8 169.5px,#bfd3f6 170.5px,#bfd3f6 204.5px)"></i><i style="background:linear-gradient(90deg,#cad8ef 0.5px,#d1dae9 44.5px,#bfd3f6 120.5px,#b7cff9 130.5px,#b2ccfb 133.5px,#a1c0ff 134.5px,#7a9df8 135.5px,#5572df 136.5px,#4257c9 137.5px,#3e51c5 138.5px,#3f53c6 156.5px,#4f69d9 162.5px,#5470de 163.5px,#6180e9 164.5px,#86a9fc 166.5px,#9bbcff 167.5px,#adc9fd 168.5px,#b9d0f9 169.5px,#bfd3f6 170.5px,#bfd3f6 204.5px)"></i><i style="background:linear-gradient(90deg,#cad8ef 0.5px,#d1dae9 44.5px,#bfd3f6 121.5px,#b3cdfb 133.5px,#afcafc 134.5px,#96b7ff 135.5px,#6e90f2 136.5px,#4e68d8 137.5px,#4055c8 138.5px,#3e51c5 140.5px,#3f53c6 156.5px,#4e68d8 162.5px,#536edd 163.5px,#5e7de7 164.5px,#82a6fb 166.5px,#97b8ff 167.5px,#aac7fd 168.5px,#b7cff9 169.5px,#bed2f6 170.5px,#bfd3f6 204.5px)"></i><i style="background:linear-gradient(90deg,#cad8ef 0.5px,#d1dae9 44.5px,#bfd3f6 121.5px,#b5cdfa 133.5px,#b2ccfb 134.5px,#aac7fd 135.5px,#89acfd 136.5px,#6282ea 137.5px,#465ecf 138.5px,#3f53c6 139.5px,#3e51c5 156.5px,#4e68d8 162.5px,#516ddb 163.5px,#5b7ae5 164.5px,#6b8df0 165.5px,#80a3fa 166.5px,#94b6ff 167.5px,#a7c5fe 168.5px,#b6cefa 169.5px,#bed2f6 170.5px,#bfd3f6 204.5px)"></i><i style="background:linear-gradient(90deg,#cad8ef 0.5px,#d1dae9 44.5px,#bed2f6 124.5px,#b5cdfa 133.5px,#b2ccfb 135.5px,#a2c1ff 136.5px,#7da0f9 137.5px,#5673e0 138.5px,#4257c9 139.5px,#3e51c5 140.5px,#3f53c6 157.5px,#506bda 163.5px,#5977e3 164.5px,#7b9ff9 166.5px,#90b2fe 167.5px,#a3c2fe 168.5px,#b3cdfb 169.5px,#bcd2f7 170.5px,#bfd3f6 174.5px,#bfd3f6 204.5px)"></i><i style="background:linear-gradient(90deg,#cad8ef 0.5px,#d1dae9 44.5px,#bed2f6 125.5px,#b3cdfb 135.5px,#b1cbfc 136.5px,#98b9ff 137.5px,#6f92f3 138.5px,#4f69d9 139.5px,#3f53c6 140.5px,#3d50c3 144.5px,#3e51c5 156.5px,#455cce 160.5px,#4f69d9 163.5px,#5673e0 164.5px,#799cf8 166.5px,#8db0fe 167.5px,#a1c0ff 168.5px,#b1cbfc 169.5px,#bbd1f8 170.5px,#bfd3f6 172.5px,#bfd3f6 204.5px)"></i><i style="background:linear-gradient(90deg,#cad8ef 0.5px,#d1dae9 44.5px,#bed2f6 125.5px,#b5cdfa 135.5px,#abc8fd 137.5px,#8caffe 138.5px,#6384eb 139.5px,#465ecf 140.5px,#3e51c5 141.5px,#3e51c5 157.5px,#485fd1 161.5px,#4e68d8 163.5px,#5572df 164.5px,#7597f6 166.5px,#89acfd 167.5px,#9ebeff 168.5px,#afcafc 169.5px,#bad0f8 170.5px,#bfd3f6 171.5px,#bfd3f6 204.5px)"></i><i style="background:linear-gradient(90deg,#c9d7f0 0.5px,#d1dae9 38.5px,#cad8ef 79.5px,#bcd2f7 128.5px,#b2ccfb 137.5px,#a2c1ff 138.5px,#7da0f9 139.5px,#5673e0 140.5px,#4055c8 141.5px,#3d50c3 144.5px,#3e51c5 157.5px,#4c66d6 163.5px,#536edd 164.5px,#5f7fe8 165.5px,#85a8fc 167.5px,#9abbff 168.5px,#abc8fd 169.5px,#b9d0f9 170.5px,#bfd3f6 171.5px,#bfd3f6 204.5px)"></i><i style="background:linear-gradient(90deg,#c9d7f0 0.5px,#d1dae9 38.5px,#cad8ef 79.5px,#bcd2f7 129.5px,#b3cdfb 137.5px,#afcafc 138.5px,#96b7ff 139.5px,#6e90f2 140.5px,#4e68d8 141.5px,#3f53c6 142.5px,#3d50c3 144.5px,#3e51c5 158.5px,#506bda 164.5px,#5b7ae5 165.5px,#81a4fb 167.5px,#96b7ff 168.5px,#a7c5fe 169.5px,#b6cefa 170.5px,#bed2f6 171.5px,#bfd3f6 204.5px)"></i><i style="background:linear-gradient(90deg,#c9d7f0 0.5px,#d1dae9 38.5px,#cad8ef 79.5px,#bcd2f7 129.5px,#b3cdfb 137.5px,#b2ccfb 138.5px,#aac7fd 139.5px,#88abfd 140.5px,#5f7fe8 141.5px,#445acc 142.5px,#3e51c5 143.5px,#3e51c5 158.5px,#485fd1 162.5px,#4f69d9 164.5px,#5977e3 165.5px,#688aef 166.5px,#7da0f9 167.5px,#92b4fe 168.5px,#a5c3fe 169.5px,#b3cdfb 170.5px,#bcd2f7 171.5px,#bfd3f6 175.5px,#bfd3f6 204.5px)"></i><i style="background:linear-gradient(90deg,#c7d7f0 0.5px,#cedaeb 22.5px,#cfdaea 55.5px,#bcd2f7 130.5px,#b1cbfc 139.5px,#9fbfff 140.5px,#799cf8 141.5px,#5470de 142.5px,#3f53c6 143.5px,#3d50c3 145.5px,#3d50c3 158.5px,#465ecf 162.5px,#4e68d8 164.5px,#5673e0 165.5px,#6485ec 166.5px,#779af7 167.5px,#8caffe 168.5px,#a1c0ff 169.5px,#b1cbfc 170.5px,#bbd1f8 171.5px,#bfd3f6 173.5px,#bfd3f6 204.5px)"></i><i style="background:linear-gradient(90deg,#c5d6f2 0.5px,#cdd9ec 14.5px,#d1dae9 47.5px,#bcd2f7 130.5px,#b5cdfa 138.5px,#aec9fc 140.5px,#93b5fe 141.5px,#6a8bef 142.5px,#4a63d3 143.5px,#3e51c5 144.5px,#3e51c5 159.5px,#4c66d6 164.5px,#536edd 165.5px,#6180e9 166.5px,#7396f5 167.5px,#88abfd 168.5px,#9dbdff 169.5px,#aec9fc 170.5px,#bad0f8 171.5px,#bfd3f6 172.5px,#bfd3f6 204.5px)"></i><i style="background:linear-gradient(90deg,#c3d5f4 0.5px,#ccd9ed 11.5px,#d1dae9 46.5px,#bcd2f7 131.5px,#b2ccfb 140.5px,#a7c5fe 141.5px,#84a7fc 142.5px,#5d7ce6 143.5px,#4257c9 144.5px,#3d50c3 145.5px,#3e51c5 159.5px,#485fd1 163.5px,#516ddb 165.5px,#5e7de7 166.5px,#84a7fc 168.5px,#98b9ff 169.5px,#aac7fd 170.5px,#b7cff9 171.5px,#bfd3f6 172.5px,#bfd3f6 204.5px)"></i><i style="background:linear-gradient(90deg,#bfd3f6 0.5px,#cbd8ee 9.5px,#d1dae9 42.5px,#c7d7f0 87.5px,#bcd2f7 132.5px,#b1cbfc 141.5px,#9dbdff 142.5px,#7597f6 143.5px,#536edd 144.5px,#3f53c6 145.5px,#3d50c3 147.5px,#3e51c5 160.5px,#4a63d3 164.5px,#4f69d9 165.5px,#5a78e4 166.5px,#80a3fa 168.5px,#94b6ff 169.5px,#a7c5fe 170.5px,#b6cefa 171.5px,#bed2f6 172.5px,#bfd3f6 204.5px)"></i><i style="background:linear-gradient(90deg,#bbd1f8 0.5px,#cbd8ee 9.5px,#d1dae9 42.5px,#c7d7f0 87.5px,#bcd2f7 132.5px,#b2ccfb 141.5px,#adc9fd 142.5px,#8fb1fe 143.5px,#6687ed 144.5px,#485fd1 145.5px,#3d50c3 146.5px,#3e51c5 160.5px,#455cce 163.5px,#4c66d6 165.5px,#5673e0 166.5px,#7a9df8 168.5px,#8fb1fe 169.5px,#a3c2fe 170.5px,#b3cdfb 171.5px,#bcd2f7 172.5px,#bfd3f6 176.5px,#bfd3f6 204.5px)"></i><i style="background:linear-gradient(90deg,#b7cff9 0.5px,#cad8ef 9.5px,#cfdaea 28.5px,#cedaeb 61.5px,#bbd1f8 134.5px,#b1cbfc 142.5px,#a5c3fe 143.5px,#80a3fa 144.5px,#5977e3 145.5px,#4055c8 146.5px,#3d50c3 147.5px,#3d50c3 160.5px,#4b64d5 165.5px,#5470de 166.5px,#7699f6 168.5px,#8badfd 169.5px,#9fbfff 170.5px,#afcafc 171.5px,#bbd1f8 172.5px,#bfd3f6 174.5px,#bfd3f6 204.5px)"></i><i style="background:linear-gradient(90deg,#b3cdfb 0.5px,#c9d7f0 9.5px,#cedaeb 22.5px,#cfdaea 55.5px,#bcd2f7 133.5px,#afcafc 143.5px,#98b9ff 144.5px,#7093f3 145.5px,#506bda 146.5px,#3e51c5 147.5px,#3d50c3 160.5px,#4b64d5 165.5px,#516ddb 166.5px,#5f7fe8 167.5px,#7295f4 168.5px,#86a9fc 169.5px,#9bbcff 170.5px,#adc9fd 171.5px,#bad0f8 172.5px,#bfd3f6 173.5px,#bfd3f6 204.5px)"></i><i style="background:linear-gradient(90deg,#afcafc 0.5px,#c9d7f0 10.5px,#cedaeb 20.5px,#cfdaea 54.5px,#bcd2f7 133.5px,#b2ccfb 142.5px,#b1cbfc 143.5px,#aac7fd 144.5px,#8badfd 145.5px,#6384eb 146.5px,#455cce 147.5px,#3e51c5 148.5px,#3e51c5 161.5px,#4a63d3 165.5px,#506bda 166.5px,#5d7ce6 167.5px,#82a6fb 169.5px,#97b8ff 170.5px,#aac7fd 171.5px,#b7cff9 172.5px,#bed2f6 173.5px,#bfd3f6 204.5px)"></i><i style="background:linear-gradient(90deg,#adc9fd 0.5px,#c9d7f0 11.5px,#cedaeb 21.5px,#cfdaea 54.5px,#c0d4f5 123.5px,#bad0f8 137.5px,#afcafc 144.5px,#a1c0ff 145.5px,#7da0f9 146.5px,#5673e0 147.5px,#4055c8 148.5px,#3e51c5 150.5px,#3e51c5 161.5px,#4a63d3 165.5px,#4f69d9 166.5px,#5a78e4 167.5px,#7ea1fa 169.5px,#93b5fe 170.5px,#a6c4fe 171.5px,#b5cdfa 172.5px,#bed2f6 173.5px,#bfd3f6 204.5px)"></i><i style="background:linear-gradient(90deg,#abc8fd 0.5px,#b3cdfb 4.5px,#c5d6f2 10.5px,#cdd9ec 18.5px,#cfdaea 49.5px,#bcd2f7 134.5px,#aec9fc 145.5px,#96b7ff 146.5px,#6e90f2 147.5px,#4e68d8 148.5px,#3f53c6 149.5px,#3f53c6 162.5px,#4c66d6 166.5px,#5673e0 167.5px,#7a9df8 169.5px,#8fb1fe 170.5px,#a2c1ff 171.5px,#b2ccfb 172.5px,#bcd2f7 173.5px,#bfd3f6 177.5px,#bfd3f6 204.5px)"></i><i style="background:linear-gradient(90deg,#aac7fd 0.5px,#b6cefa 6.5px,#c6d6f1 12.5px,#cedaeb 20.5px,#cfdaea 54.5px,#c0d4f5 123.5px,#bad0f8 137.5px,#afcafc 145.5px,#a7c5fe 146.5px,#88abfd 147.5px,#6180e9 148.5px,#445acc 149.5px,#3e51c5 150.5px,#3f53c6 162.5px,#485fd1 165.5px,#5470de 167.5px,#7699f6 169.5px,#8badfd 170.5px,#9ebeff 171.5px,#afcafc 172.5px,#bbd1f8 173.5px,#bfd3f6 175.5px,#bfd3f6 204.5px)"></i><i style="background:linear-gradient(90deg,#aac7fd 0.5px,#b1cbfc 5.5px,#cad8ef 15.5px,#cfdaea 28.5px,#cdd9ec 65.5px,#c0d4f5 123.5px,#bad0f8 137.5px,#aec9fc 146.5px,#9ebeff 147.5px,#799cf8 148.5px,#5470de 149.5px,#4055c8 150.5px,#4055c8 163.5px,#4b64d5 166.5px,#536edd 167.5px,#5f7fe8 168.5px,#7295f4 169.5px,#86a9fc 170.5px,#9bbcff 171.5px,#adc9fd 172.5px,#b9d0f9 173.5px,#bfd3f6 174.5px,#bfd3f6 204.5px)"></i><i style="background:linear-gradient(90deg,#a9c6fd 0.5px,#b1cbfc 6.5px,#cad8ef 16.5px,#cfdaea 27.5px,#cdd9ec 65.5px,#c0d4f5 123.5px,#bad0f8 137.5px,#afcafc 146.5px,#abc8fd 147.5px,#92b4fe 148.5px,#6b8df0 149.5px,#4b64d5 150.5px,#3f53c6 151.5px,#4055c8 163.5px,#4a63d3 166.5px,#506bda 167.5px,#5d7ce6 168.5px,#82a6fb 170.5px,#97b8ff 171.5px,#a9c6fd 172.5px,#b7cff9 173.5px,#bed2f6 174.5px,#bfd3f6 204.5px)"></i><i style="background:linear-gradient(90deg,#aac7fd 0.5px,#abc8fd 5.5px,#c6d6f1 15.5px,#cedaeb 23.5px,#cedaeb 59.5px,#c0d4f5 123.5px,#bad0f8 137.5px,#aec9fc 147.5px,#a5c3fe 148.5px,#84a7fc 149.5px,#5e7de7 150.5px,#445acc 151.5px,#3f53c6 152.5px,#4055c8 163.5px,#455cce 165.5px,#4f69d9 167.5px,#5a78e4 168.5px,#7ea1fa 170.5px,#93b5fe 171.5px,#a6c4fe 172.5px,#b5cdfa 173.5px,#bed2f6 174.5px,#bfd3f6 204.5px)"></i><i style="background:linear-gradient(90deg,#aac7fd 0.5px,#adc9fd 7.5px,#c7d7f0 17.5px,#cedaeb 24.5px,#cdd9ec 64.5px,#c0d4f5 124.5px,#b9d0f9 139.5px,#adc9fd 148.5px,#9abbff 149.5px,#7699f6 150.5px,#5470de 151.5px,#4055c8 152.5px,#4055c8 163.5px,#455cce 165.5px,#4c66d6 167.5px,#5673e0 168.5px,#7a9df8 170.5px,#8fb1fe 171.5px,#a2c1ff 172.5px,#b2ccfb 173.5px,#bcd2f7 174.5px,#bfd3f6 178.5px,#bfd3f6 204.5px)"></i><i style="background:linear-gradient(90deg,#abc8fd 0.5px,#abc8fd 7.5px,#c4d5f3 16.5px,#cdd9ec 23.5px,#cfdaea 52.5px,#c0d4f5 125.5px,#b6cefa 141.5px,#adc9fd 148.5px,#a9c6fd 149.5px,#8db0fe 150.5px,#688aef 151.5px,#4961d2 152.5px,#4055c8 153.5px,#4257c9 164.5px,#4c66d6 167.5px,#5470de 168.5px,#7699f6 170.5px,#8badfd 171.5px,#9ebeff 172.5px,#afcafc 173.5px,#bad0f8 174.5px,#bfd3f6 175.5px,#bfd3f6 204.5px)"></i><i style="background:linear-gradient(90deg,#adc9fd 0.5px,#aac7fd 7.5px,#b5cdfa 12.5px,#cbd8ee 21.5px,#cfdaea 34.5px,#ccd9ed 69.5px,#c0d4f5 124.5px,#b9d0f9 138.5px,#adc9fd 149.5px,#a1c0ff 150.5px,#80a3fa 151.5px,#5b7ae5 152.5px,#4358cb 153.5px,#4055c8 155.5px,#4257c9 164.5px,#465ecf 166.5px,#516ddb 168.5px,#5f7fe8 169.5px,#7295f4 170.5px,#86a9fc 171.5px,#9abbff 172.5px,#abc8fd 173.5px,#b9d0f9 174.5px,#bfd3f6 175.5px,#bfd3f6 204.5px)"></i><i style="background:linear-gradient(90deg,#aec9fc 0.5px,#aac7fd 5.5px,#adc9fd 10.5px,#cbd8ee 22.5px,#cfdaea 34.5px,#ccd9ed 69.5px,#c0d4f5 124.5px,#b9d0f9 138.5px,#abc8fd 150.5px,#97b8ff 151.5px,#7295f4 152.5px,#516ddb 153.5px,#4055c8 154.5px,#4055c8 164.5px,#4a63d3 167.5px,#506bda 168.5px,#5d7ce6 169.5px,#82a6fb 171.5px,#96b7ff 172.5px,#a9c6fd 173.5px,#b6cefa 174.5px,#bed2f6 175.5px,#bfd3f6 204.5px)"></i><i style="background:linear-gradient(90deg,#b1cbfc 0.5px,#aac7fd 5.5px,#adc9fd 11.5px,#cbd8ee 23.5px,#cfdaea 35.5px,#ccd9ed 69.5px,#c0d4f5 124.5px,#bad0f8 136.5px,#abc8fd 150.5px,#a3c2fe 151.5px,#84a7fc 152.5px,#5f7fe8 153.5px,#455cce 154.5px,#4257c9 155.5px,#4358cb 165.5px,#4e68d8 168.5px,#5977e3 169.5px,#7da0f9 171.5px,#92b4fe 172.5px,#b3cdfb 174.5px,#bcd2f7 175.5px,#bfd3f6 179.5px,#bfd3f6 204.5px)"></i><i style="background:linear-gradient(90deg,#b5cdfa 0.5px,#aac7fd 5.5px,#adc9fd 12.5px,#c5d6f2 21.5px,#cedaeb 28.5px,#cdd9ec 64.5px,#c0d4f5 124.5px,#bad0f8 136.5px,#aac7fd 151.5px,#93b5fe 152.5px,#6f92f3 153.5px,#4f69d9 154.5px,#4257c9 155.5px,#4257c9 165.5px,#4c66d6 168.5px,#5572df 169.5px,#779af7 171.5px,#8caffe 172.5px,#9fbfff 173.5px,#afcafc 174.5px,#bad0f8 175.5px,#bfd3f6 176.5px,#bfd3f6 204.5px)"></i><i style="background:linear-gradient(90deg,#b7cff9 0.5px,#abc8fd 6.5px,#abc8fd 12.5px,#b2ccfb 16.5px,#c9d7f0 24.5px,#cedaeb 30.5px,#cdd9ec 64.5px,#c0d4f5 124.5px,#b7cff9 138.5px,#abc8fd 151.5px,#9fbfff 152.5px,#7ea1fa 153.5px,#5b7ae5 154.5px,#445acc 155.5px,#4257c9 157.5px,#4257c9 165.5px,#465ecf 167.5px,#536edd 169.5px,#7295f4 171.5px,#86a9fc 172.5px,#9abbff 173.5px,#b7cff9 175.5px,#bed2f6 176.5px,#bfd3f6 204.5px)"></i><i style="background:linear-gradient(90deg,#bbd1f8 0.5px,#adc9fd 6.5px,#aac7fd 12.5px,#b2ccfb 17.5px,#c9d7f0 25.5px,#cfdaea 33.5px,#ccd9ed 68.5px,#c0d4f5 125.5px,#b6cefa 139.5px,#abc8fd 151.5px,#a7c5fe 152.5px,#8db0fe 153.5px,#6a8bef 154.5px,#4b64d5 155.5px,#4257c9 156.5px,#4358cb 166.5px,#4a63d3 168.5px,#506bda 169.5px,#5b7ae5 170.5px,#81a4fb 172.5px,#94b6ff 173.5px,#a6c4fe 174.5px,#b5cdfa 175.5px,#bcd2f7 176.5px,#bfd3f6 180.5px,#bfd3f6 204.5px)"></i><i style="background:linear-gradient(90deg,#bed2f6 0.5px,#abc8fd 8.5px,#abc8fd 15.5px,#c4d5f3 24.5px,#cedaeb 31.5px,#cdd9ec 63.5px,#c1d4f4 118.5px,#bcd2f7 132.5px,#aac7fd 152.5px,#9bbcff 153.5px,#7a9df8 154.5px,#5875e1 155.5px,#4358cb 156.5px,#4358cb 166.5px,#4e68d8 169.5px,#5875e1 170.5px,#7b9ff9 172.5px,#8fb1fe 173.5px,#b1cbfc 175.5px,#bbd1f8 176.5px,#bfd3f6 180.5px,#bfd3f6 204.5px)"></i><i style="background:linear-gradient(90deg,#c1d4f4 0.5px,#adc9fd 8.5px,#aac7fd 15.5px,#bad0f8 22.5px,#c7d7f0 27.5px,#cfdaea 35.5px,#cbd8ee 73.5px,#c0d4f5 125.5px,#b6cefa 138.5px,#aac7fd 152.5px,#a5c3fe 153.5px,#89acfd 154.5px,#6687ed 155.5px,#4961d2 156.5px,#4358cb 157.5px,#4358cb 166.5px,#485fd1 168.5px,#4c66d6 169.5px,#5572df 170.5px,#6384eb 171.5px,#7699f6 172.5px,#89acfd 173.5px,#9bbcff 174.5px,#adc9fd 175.5px,#b9d0f9 176.5px,#bed2f6 177.5px,#bfd3f6 204.5px)"></i><i style="background:linear-gradient(90deg,#c4d5f3 0.5px,#aac7fd 11.5px,#adc9fd 18.5px,#cbd8ee 30.5px,#cfdaea 39.5px,#cad8ef 77.5px,#bed2f6 130.5px,#abc8fd 150.5px,#a9c6fd 153.5px,#96b7ff 154.5px,#7597f6 155.5px,#5572df 156.5px,#4358cb 157.5px,#445acc 167.5px,#4b64d5 169.5px,#516ddb 170.5px,#7093f3 172.5px,#84a7fc 173.5px,#97b8ff 174.5px,#b5cdfa 176.5px,#bcd2f7 177.5px,#bfd3f6 191.5px,#bfd3f6 204.5px)"></i><i style="background:linear-gradient(90deg,#c6d6f1 0.5px,#abc8fd 11.5px,#abc8fd 18.5px,#b6cefa 23.5px,#cad8ef 30.5px,#cfdaea 38.5px,#cad8ef 77.5px,#bed2f6 130.5px,#abc8fd 150.5px,#aac7fd 153.5px,#a1c0ff 154.5px,#84a7fc 155.5px,#6282ea 156.5px,#485fd1 157.5px,#445acc 158.5px,#445acc 167.5px,#4a63d3 169.5px,#506bda 170.5px,#5b7ae5 171.5px,#7ea1fa 173.5px,#92b4fe 174.5px,#a3c2fe 175.5px,#b2ccfb 176.5px,#bbd1f8 177.5px,#bfd3f6 184.5px,#bfd3f6 204.5px)"></i><i style="background:linear-gradient(90deg,#c7d7f0 0.5px,#b9d0f9 7.5px,#abc8fd 12.5px,#abc8fd 19.5px,#b9d0f9 25.5px,#c7d7f0 30.5px,#cedaeb 37.5px,#ccd9ed 68.5px,#c1d4f4 119.5px,#bcd2f7 131.5px,#abc8fd 149.5px,#a7c5fe 154.5px,#92b4fe 155.5px,#7093f3 156.5px,#516ddb 157.5px,#445acc 158.5px,#455cce 168.5px,#4e68d8 170.5px,#5875e1 171.5px,#799cf8 173.5px,#8caffe 174.5px,#aec9fc 176.5px,#b9d0f9 177.5px,#bed2f6 178.5px,#bfd3f6 204.5px)"></i><i style="background:linear-gradient(90deg,#c9d7f0 0.5px,#c1d4f4 5.5px,#adc9fd 13.5px,#aac7fd 19.5px,#b2ccfb 24.5px,#c6d6f1 31.5px,#cdd9ec 36.5px,#cedaeb 55.5px,#bed2f6 130.5px,#abc8fd 148.5px,#a9c6fd 154.5px,#9dbdff 155.5px,#7ea1fa 156.5px,#5e7de7 157.5px,#465ecf 158.5px,#445acc 160.5px,#455cce 168.5px,#4c66d6 170.5px,#5470de 171.5px,#6282ea 172.5px,#7597f6 173.5px,#98b9ff 175.5px,#b6cefa 177.5px,#bcd2f7 178.5px,#bfd3f6 202.5px,#bfd3f6 204.5px)"></i><i style="background:linear-gradient(90deg,#cad8ef 0.5px,#c4d5f3 5.5px,#adc9fd 14.5px,#aac7fd 20.5px,#b2ccfb 25.5px,#c9d7f0 33.5px,#cedaeb 39.5px,#cbd8ee 73.5px,#c1d4f4 119.5px,#bcd2f7 131.5px,#adc9fd 146.5px,#a9c6fd 154.5px,#a5c3fe 155.5px,#8caffe 156.5px,#6b8df0 157.5px,#4f69d9 158.5px,#445acc 159.5px,#455cce 168.5px,#4b64d5 170.5px,#516ddb 171.5px,#5e7de7 172.5px,#81a4fb 174.5px,#a5c3fe 176.5px,#b2ccfb 177.5px,#bbd1f8 178.5px,#bed2f6 182.5px,#bfd3f6 204.5px)"></i><i style="background:linear-gradient(90deg,#cbd8ee 0.5px,#c5d6f2 6.5px,#adc9fd 15.5px,#aac7fd 22.5px,#b7cff9 28.5px,#c9d7f0 34.5px,#cedaeb 41.5px,#cbd8ee 73.5px,#c1d4f4 119.5px,#bcd2f7 131.5px,#abc8fd 147.5px,#a9c6fd 155.5px,#97b8ff 156.5px,#7a9df8 157.5px,#5a78e4 158.5px,#465ecf 159.5px,#465ecf 169.5px,#4f69d9 171.5px,#5a78e4 172.5px,#7da0f9 174.5px,#8fb1fe 175.5px,#aec9fc 177.5px,#b9d0f9 178.5px,#bed2f6 180.5px,#bfd3f6 204.5px)"></i><i style="background:linear-gradient(90deg,#ccd9ed 0.5px,#c7d7f0 6.5px,#adc9fd 16.5px,#aac7fd 23.5px,#bad0f8 30.5px,#c7d7f0 35.5px,#cedaeb 42.5px,#cbd8ee 73.5px,#c1d4f4 119.5px,#bcd2f7 130.5px,#abc8fd 147.5px,#a9c6fd 155.5px,#a1c0ff 156.5px,#86a9fc 157.5px,#6788ee 158.5px,#4c66d6 159.5px,#455cce 160.5px,#465ecf 169.5px,#4e68d8 171.5px,#5673e0 172.5px,#779af7 174.5px,#9bbcff 176.5px,#b6cefa 178.5px,#bcd2f7 179.5px,#bfd3f6 204.5px)"></i><i style="background:linear-gradient(90deg,#ccd9ed 0.5px,#cad8ef 6.5px,#adc9fd 17.5px,#aac7fd 24.5px,#b3cdfb 29.5px,#cad8ef 37.5px,#cedaeb 45.5px,#c9d7f0 82.5px,#bfd3f6 127.5px,#abc8fd 147.5px,#a9c6fd 155.5px,#a6c4fe 156.5px,#93b5fe 157.5px,#7699f6 158.5px,#5875e1 159.5px,#465ecf 160.5px,#465ecf 169.5px,#4c66d6 171.5px,#5470de 172.5px,#7295f4 174.5px,#84a7fc 175.5px,#a6c4fe 177.5px,#bbd1f8 179.5px,#bfd3f6 193.5px,#bfd3f6 204.5px)"></i><i style="background:linear-gradient(90deg,#cdd9ec 0.5px,#cad8ef 7.5px,#bbd1f8 13.5px,#abc8fd 19.5px,#abc8fd 26.5px,#b6cefa 31.5px,#cad8ef 38.5px,#cedaeb 46.5px,#c7d7f0 87.5px,#bfd3f6 127.5px,#abc8fd 146.5px,#a7c5fe 156.5px,#9dbdff 157.5px,#82a6fb 158.5px,#6485ec 159.5px,#4b64d5 160.5px,#465ecf 161.5px,#485fd1 170.5px,#516ddb 172.5px,#6e90f2 174.5px,#80a3fa 175.5px,#a1c0ff 177.5px,#afcafc 178.5px,#b9d0f9 179.5px,#bcd2f7 181.5px,#bfd3f6 204.5px)"></i><i style="background:linear-gradient(90deg,#cdd9ec 0.5px,#ccd9ed 7.5px,#b9d0f9 15.5px,#aec9fc 19.5px,#aac7fd 24.5px,#aec9fc 29.5px,#cad8ef 39.5px,#cedaeb 47.5px,#c6d6f1 92.5px,#bfd3f6 127.5px,#aac7fd 147.5px,#a7c5fe 156.5px,#a3c2fe 157.5px,#8fb1fe 158.5px,#7093f3 159.5px,#5572df 160.5px,#465ecf 161.5px,#485fd1 170.5px,#4f69d9 172.5px,#688aef 174.5px,#8caffe 176.5px,#abc8fd 178.5px,#b6cefa 179.5px,#bcd2f7 181.5px,#bfd3f6 204.5px)"></i><i style="background:linear-gradient(90deg,#cedaeb 0.5px,#cdd9ec 7.5px,#c5d6f2 12.5px,#adc9fd 21.5px,#aac7fd 27.5px,#b2ccfb 32.5px,#cad8ef 40.5px,#cedaeb 48.5px,#bfd3f6 127.5px,#abc8fd 145.5px,#a6c4fe 157.5px,#98b9ff 158.5px,#7ea1fa 159.5px,#6180e9 160.5px,#4a63d3 161.5px,#465ecf 162.5px,#485fd1 170.5px,#4e68d8 172.5px,#5673e0 173.5px,#7699f6 175.5px,#97b8ff 177.5px,#b3cdfb 179.5px,#bcd2f7 181.5px,#bfd3f6 204.5px)"></i><i style="background:linear-gradient(90deg,#cedaeb 0.5px,#cdd9ec 8.5px,#c3d5f4 14.5px,#adc9fd 22.5px,#aac7fd 28.5px,#b2ccfb 33.5px,#c7d7f0 40.5px,#cedaeb 47.5px,#c5d6f2 98.5px,#bfd3f6 127.5px,#aac7fd 146.5px,#a7c5fe 157.5px,#9fbfff 158.5px,#89acfd 159.5px,#6e90f2 160.5px,#536edd 161.5px,#485fd1 162.5px,#4961d2 171.5px,#4c66d6 172.5px,#5470de 173.5px,#7093f3 175.5px,#82a6fb 176.5px,#a2c1ff 178.5px,#afcafc 179.5px,#b9d0f9 180.5px,#bed2f6 185.5px,#bfd3f6 204.5px)"></i><i style="background:linear-gradient(90deg,#cfdaea 0.5px,#cedaeb 9.5px,#c0d4f5 16.5px,#adc9fd 23.5px,#aac7fd 29.5px,#b1cbfc 33.5px,#c7d7f0 41.5px,#cedaeb 48.5px,#bfd3f6 127.5px,#abc8fd 144.5px,#a7c5fe 157.5px,#a5c3fe 158.5px,#94b6ff 159.5px,#7a9df8 160.5px,#5e7de7 161.5px,#4a63d3 162.5px,#485fd1 164.5px,#4961d2 171.5px,#536edd 173.5px,#6c8ff1 175.5px,#7ea1fa 176.5px,#9ebeff 178.5px,#b6cefa 180.5px,#bbd1f8 181.5px,#bfd3f6 198.5px,#bfd3f6 204.5px)"></i><i style="background:linear-gradient(90deg,#d1dae9 0.5px,#cfdaea 9.5px,#c0d4f5 17.5px,#adc9fd 24.5px,#aac7fd 30.5px,#b6cefa 36.5px,#c7d7f0 42.5px,#cedaeb 49.5px,#bfd3f6 126.5px,#aac7fd 146.5px,#a6c4fe 158.5px,#9dbdff 159.5px,#85a8fc 160.5px,#6b8df0 161.5px,#516ddb 162.5px,#4961d2 163.5px,#4961d2 171.5px,#506bda 173.5px,#5a78e4 174.5px,#799cf8 176.5px,#9abbff 178.5px,#b3cdfb 180.5px,#bad0f8 181.5px,#bfd3f6 192.5px,#bfd3f6 204.5px)"></i><i style="background:linear-gradient(90deg,#d1dae9 0.5px,#cfdaea 10.5px,#c0d4f5 18.5px,#abc8fd 26.5px,#abc8fd 31.5px,#b7cff9 37.5px,#c9d7f0 44.5px,#cedaeb 52.5px,#bfd3f6 126.5px,#aac7fd 145.5px,#a6c4fe 158.5px,#a2c1ff 159.5px,#90b2fe 160.5px,#779af7 161.5px,#5b7ae5 162.5px,#4b64d5 163.5px,#4b64d5 172.5px,#5875e1 174.5px,#7597f6 176.5px,#94b6ff 178.5px,#afcafc 180.5px,#b7cff9 181.5px,#bbd1f8 183.5px,#bfd3f6 197.5px,#bfd3f6 204.5px)"></i><i style="background:linear-gradient(90deg,#d2dbe8 0.5px,#d1dae9 9.5px,#c6d6f1 17.5px,#aec9fc 26.5px,#abc8fd 31.5px,#b5cdfa 37.5px,#c9d7f0 45.5px,#cedaeb 53.5px,#bfd3f6 126.5px,#aac7fd 145.5px,#a6c4fe 159.5px,#98b9ff 160.5px,#82a6fb 161.5px,#688aef 162.5px,#516ddb 163.5px,#4a63d3 164.5px,#4b64d5 172.5px,#5572df 174.5px,#6180e9 175.5px,#80a3fa 177.5px,#9ebeff 179.5px,#abc8fd 180.5px,#b5cdfa 181.5px,#bbd1f8 183.5px,#bfd3f6 200.5px,#bfd3f6 204.5px)"></i><i style="background:linear-gradient(90deg,#d3dbe7 0.5px,#d2dbe8 9.5px,#c6d6f1 18.5px,#aec9fc 27.5px,#abc8fd 30.5px,#b1cbfc 36.5px,#c9d7f0 46.5px,#cedaeb 54.5px,#bfd3f6 126.5px,#aac7fd 145.5px,#a6c4fe 159.5px,#9fbfff 160.5px,#8db0fe 161.5px,#7597f6 162.5px,#5b7ae5 163.5px,#4c66d6 164.5px,#4b64d5 172.5px,#536edd 174.5px,#5d7ce6 175.5px,#7a9df8 177.5px,#8badfd 178.5px,#a6c4fe 180.5px,#b9d0f9 182.5px,#bfd3f6 192.5px,#bfd3f6 204.5px)"></i><i style="background:linear-gradient(90deg,#d3dbe7 0.5px,#d4dbe6 7.5px,#c9d7f0 18.5px,#afcafc 28.5px,#adc9fd 32.5px,#b6cefa 39.5px,#c9d7f0 47.5px,#cdd9ec 54.5px,#bfd3f6 126.5px,#aac7fd 145.5px,#a6c4fe 159.5px,#a5c3fe 160.5px,#96b7ff 161.5px,#80a3fa 162.5px,#6788ee 163.5px,#516ddb 164.5px,#4c66d6 165.5px,#4e68d8 173.5px,#516ddb 174.5px,#5977e3 175.5px,#7699f6 177.5px,#93b5fe 179.5px,#adc9fd 181.5px,#b6cefa 182.5px,#bbd1f8 184.5px,#bfd3f6 201.5px,#bfd3f6 204.5px)"></i><i style="background:linear-gradient(90deg,#d4dbe6 0.5px,#d3dbe7 9.5px,#c9d7f0 19.5px,#bad0f8 25.5px,#b1cbfc 29.5px,#aec9fc 33.5px,#b9d0f9 41.5px,#cad8ef 49.5px,#cdd9ec 58.5px,#bfd3f6 126.5px,#aac7fd 144.5px,#a6c4fe 160.5px,#9ebeff 161.5px,#8badfd 162.5px,#7396f5 163.5px,#5b7ae5 164.5px,#4e68d8 165.5px,#4e68d8 173.5px,#506bda 174.5px,#5673e0 175.5px,#7093f3 177.5px,#8db0fe 179.5px,#a9c6fd 181.5px,#b9d0f9 183.5px,#bfd3f6 193.5px,#bfd3f6 204.5px)"></i><i style="background:linear-gradient(90deg,#d5dbe5 0.5px,#d4dbe6 9.5px,#c7d7f0 21.5px,#b3cdfb 29.5px,#afcafc 35.5px,#b7cff9 41.5px,#cad8ef 50.5px,#cdd9ec 59.5px,#bfd3f6 126.5px,#aac7fd 144.5px,#a6c4fe 160.5px,#a2c1ff 161.5px,#93b5fe 162.5px,#7ea1fa 163.5px,#6687ed 164.5px,#536edd 165.5px,#4e68d8 166.5px,#4e68d8 173.5px,#5470de 175.5px,#6b8df0 177.5px,#89acfd 179.5px,#a3c2fe 181.5px,#afcafc 182.5px,#bad0f8 184.5px,#bfd3f6 198.5px,#bfd3f6 204.5px)"></i><i style="background:linear-gradient(90deg,#d5dbe5 0.5px,#d6dce4 7.5px,#c7d7f0 22.5px,#b3cdfb 31.5px,#b1cbfc 36.5px,#bad0f8 43.5px,#cad8ef 51.5px,#cdd9ec 60.5px,#bfd3f6 126.5px,#aac7fd 144.5px,#a7c5fe 159.5px,#a5c3fe 161.5px,#9bbcff 162.5px,#88abfd 163.5px,#7295f4 164.5px,#5b7ae5 165.5px,#4f69d9 166.5px,#506bda 174.5px,#536edd 175.5px,#5a78e4 176.5px,#7699f6 178.5px,#92b4fe 180.5px,#aac7fd 182.5px,#b3cdfb 183.5px,#bad0f8 185.5px,#bfd3f6 196.5px,#bfd3f6 204.5px)"></i><i style="background:linear-gradient(90deg,#d6dce4 0.5px,#d7dce3 6.5px,#cad8ef 22.5px,#b5cdfa 32.5px,#b2ccfb 37.5px,#bcd2f7 45.5px,#cbd8ee 53.5px,#ccd9ed 65.5px,#bfd3f6 125.5px,#aac7fd 144.5px,#a7c5fe 159.5px,#a6c4fe 161.5px,#a1c0ff 162.5px,#92b4fe 163.5px,#7da0f9 164.5px,#6687ed 165.5px,#5470de 166.5px,#4f69d9 167.5px,#506bda 174.5px,#5875e1 176.5px,#80a3fa 179.5px,#9abbff 181.5px,#b1cbfc 183.5px,#bad0f8 185.5px,#bfd3f6 199.5px,#bfd3f6 204.5px)"></i><i style="background:linear-gradient(90deg,#d7dce3 0.5px,#d6dce4 8.5px,#c9d7f0 24.5px,#b5cdfa 33.5px,#b5cdfa 40.5px,#c1d4f4 48.5px,#ccd9ed 56.5px,#cbd8ee 75.5px,#bfd3f6 125.5px,#aac7fd 144.5px,#a7c5fe 159.5px,#a3c2fe 162.5px,#98b9ff 163.5px,#86a9fc 164.5px,#7093f3 165.5px,#5b7ae5 166.5px,#516ddb 167.5px,#516ddb 175.5px,#5673e0 176.5px,#5f7fe8 177.5px,#7a9df8 179.5px,#94b6ff 181.5px,#adc9fd 183.5px,#b9d0f9 185.5px,#bfd3f6 195.5px,#bfd3f6 204.5px)"></i><i style="background:linear-gradient(90deg,#d8dce2 0.5px,#d7dce3 8.5px,#cedaeb 19.5px,#c7d7f0 26.5px,#b6cefa 35.5px,#b6cefa 42.5px,#ccd9ed 56.5px,#cbd8ee 76.5px,#bfd3f6 125.5px,#aac7fd 144.5px,#a7c5fe 159.5px,#a5c3fe 162.5px,#9ebeff 163.5px,#8fb1fe 164.5px,#7b9ff9 165.5px,#6485ec 166.5px,#5572df 167.5px,#516ddb 168.5px,#516ddb 175.5px,#5b7ae5 177.5px,#7699f6 179.5px,#90b2fe 181.5px,#a9c6fd 183.5px,#b2ccfb 184.5px,#bad0f8 186.5px,#bfd3f6 200.5px,#bfd3f6 204.5px)"></i><i style="background:linear-gradient(90deg,#d8dce2 0.5px,#d9dce1 6.5px,#cfdaea 17.5px,#c9d7f0 27.5px,#b6cefa 36.5px,#b9d0f9 44.5px,#ccd9ed 57.5px,#cbd8ee 76.5px,#bfd3f6 125.5px,#aac7fd 143.5px,#a7c5fe 160.5px,#a6c4fe 162.5px,#a2c1ff 163.5px,#96b7ff 164.5px,#84a7fc 165.5px,#7093f3 166.5px,#5b7ae5 167.5px,#536edd 168.5px,#536edd 175.5px,#5470de 176.5px,#5977e3 177.5px,#7093f3 179.5px,#8caffe 181.5px,#aec9fc 184.5px,#b6cefa 185.5px,#bed2f6 191.5px,#bfd3f6 204.5px)"></i><i style="background:linear-gradient(90deg,#d9dce1 0.5px,#dadce0 6.5px,#cfdaea 18.5px,#ccd9ed 26.5px,#b7cff9 37.5px,#bad0f8 45.5px,#ccd9ed 59.5px,#c9d7f0 87.5px,#bfd3f6 125.5px,#aac7fd 143.5px,#a7c5fe 160.5px,#a5c3fe 163.5px,#9dbdff 164.5px,#8caffe 165.5px,#7a9df8 166.5px,#6485ec 167.5px,#5673e0 168.5px,#536edd 169.5px,#5470de 176.5px,#5875e1 177.5px,#6c8ff1 179.5px,#88abfd 181.5px,#aac7fd 184.5px,#b3cdfb 185.5px,#bad0f8 187.5px,#bfd3f6 201.5px,#bfd3f6 204.5px)"></i><i style="background:linear-gradient(90deg,#dadce0 0.5px,#dbdcde 6.5px,#cfdaea 18.5px,#cbd8ee 28.5px,#b9d0f9 38.5px,#bad0f8 45.5px,#ccd9ed 60.5px,#cad8ef 82.5px,#bfd3f6 125.5px,#aac7fd 143.5px,#a7c5fe 160.5px,#a5c3fe 163.5px,#a1c0ff 164.5px,#94b6ff 165.5px,#82a6fb 166.5px,#6f92f3 167.5px,#5b7ae5 168.5px,#5470de 169.5px,#5470de 176.5px,#5673e0 177.5px,#5d7ce6 178.5px,#7699f6 180.5px,#8fb1fe 182.5px,#a6c4fe 184.5px,#b6cefa 186.5px,#bed2f6 192.5px,#bfd3f6 204.5px)"></i><i style="background:linear-gradient(90deg,#dbdcde 0.5px,#dadce0 7.5px,#cfdaea 19.5px,#ccd9ed 28.5px,#bad0f8 39.5px,#bbd1f8 47.5px,#ccd9ed 61.5px,#c7d7f0 93.5px,#c0d4f5 123.5px,#aac7fd 143.5px,#a7c5fe 161.5px,#a3c2fe 164.5px,#9abbff 165.5px,#8badfd 166.5px,#799cf8 167.5px,#6485ec 168.5px,#5875e1 169.5px,#5572df 171.5px,#5673e0 177.5px,#5b7ae5 178.5px,#6485ec 179.5px,#7ea1fa 181.5px,#97b8ff 183.5px,#adc9fd 185.5px,#b9d0f9 187.5px,#bfd3f6 199.5px,#bfd3f6 204.5px)"></i><i style="background:linear-gradient(90deg,#dbdcde 0.5px,#dddcdc 5.5px,#d1dae9 17.5px,#ccd9ed 30.5px,#bbd1f8 40.5px,#bcd2f7 48.5px,#ccd9ed 61.5px,#c9d7f0 88.5px,#c0d4f5 123.5px,#aac7fd 143.5px,#a7c5fe 161.5px,#a5c3fe 164.5px,#9fbfff 165.5px,#92b4fe 166.5px,#81a4fb 167.5px,#5d7ce6 169.5px,#5673e0 170.5px,#5673e0 177.5px,#5977e3 178.5px,#6e90f2 180.5px,#88abfd 182.5px,#a9c6fd 185.5px,#b7cff9 187.5px,#bed2f6 195.5px,#bfd3f6 204.5px)"></i><i style="background:linear-gradient(90deg,#dcdddd 0.5px,#dddcdc 5.5px,#d2dbe8 16.5px,#cdd9ec 30.5px,#bbd1f8 43.5px,#c1d4f4 53.5px,#ccd9ed 63.5px,#c1d4f4 122.5px,#aac7fd 143.5px,#a7c5fe 162.5px,#a2c1ff 165.5px,#98b9ff 166.5px,#799cf8 168.5px,#6485ec 169.5px,#5977e3 170.5px,#5673e0 172.5px,#5673e0 177.5px,#5e7de7 179.5px,#84a7fc 182.5px,#a5c3fe 185.5px,#b5cdfa 187.5px,#bbd1f8 190.5px,#bfd3f6 204.5px)"></i><i style="background:linear-gradient(90deg,#dcdddd 0.5px,#dedcdb 5.5px,#d2dbe8 17.5px,#cdd9ec 32.5px,#bed2f6 43.5px,#bfd3f6 51.5px,#ccd9ed 64.5px,#c1d4f4 122.5px,#aac7fd 142.5px,#a7c5fe 162.5px,#a5c3fe 165.5px,#9ebeff 166.5px,#81a4fb 168.5px,#5e7de7 170.5px,#5875e1 171.5px,#5875e1 178.5px,#5d7ce6 179.5px,#7295f4 181.5px,#8badfd 183.5px,#aac7fd 186.5px,#b7cff9 188.5px,#bed2f6 196.5px,#bfd3f6 204.5px)"></i><i style="background:linear-gradient(90deg,#dddcdc 0.5px,#dfdbd9 4.5px,#d2dbe8 17.5px,#cedaeb 32.5px,#bed2f6 45.5px,#c5d6f2 57.5px,#ccd9ed 65.5px,#c1d4f4 122.5px,#aac7fd 142.5px,#a7c5fe 162.5px,#a2c1ff 166.5px,#97b8ff 167.5px,#779af7 169.5px,#6485ec 170.5px,#5a78e4 171.5px,#5875e1 173.5px,#5875e1 178.5px,#5b7ae5 179.5px,#6e90f2 181.5px,#88abfd 183.5px,#a7c5fe 186.5px,#b6cefa 188.5px,#bed2f6 195.5px,#bfd3f6 204.5px)"></i><i style="background:linear-gradient(90deg,#dddcdc 0.5px,#dfdbd9 5.5px,#d2dbe8 18.5px,#cedaeb 34.5px,#bfd3f6 46.5px,#c4d5f3 56.5px,#ccd9ed 66.5px,#c0d4f5 123.5px,#aac7fd 142.5px,#a7c5fe 163.5px,#a3c2fe 166.5px,#9dbdff 167.5px,#80a3fa 169.5px,#5f7fe8 171.5px,#5977e3 172.5px,#5a78e4 179.5px,#6a8bef 181.5px,#84a7fc 183.5px,#a3c2fe 186.5px,#b3cdfb 188.5px,#bbd1f8 192.5px,#bfd3f6 204.5px)"></i><i style="background:linear-gradient(90deg,#dedcdb 0.5px,#e0dbd8 4.5px,#d2dbe8 18.5px,#cfdaea 34.5px,#c0d4f5 47.5px,#c5d6f2 57.5px,#ccd9ed 67.5px,#c0d4f5 123.5px,#abc8fd 140.5px,#a7c5fe 163.5px,#a5c3fe 166.5px,#a1c0ff 167.5px,#96b7ff 168.5px,#779af7 170.5px,#6485ec 171.5px,#5b7ae5 172.5px,#5a78e4 179.5px,#5e7de7 180.5px,#7396f5 182.5px,#8caffe 184.5px,#a9c6fd 187.5px,#b6cefa 189.5px,#bed2f6 195.5px,#bfd3f6 204.5px)"></i><i style="background:linear-gradient(90deg,#dedcdb 0.5px,#e0dbd8 5.5px,#d4dbe6 16.5px,#cfdaea 35.5px,#c1d4f4 47.5px,#c5d6f2 58.5px,#ccd9ed 68.5px,#c1d4f4 121.5px,#aac7fd 142.5px,#a9c6fd 161.5px,#a3c2fe 167.5px,#8db0fe 169.5px,#80a3fa 170.5px,#6e90f2 171.5px,#6180e9 172.5px,#5a78e4 173.5px,#5a78e4 179.5px,#5d7ce6 180.5px,#6f92f3 182.5px,#88abfd 184.5px,#a6c4fe 187.5px,#b5cdfa 189.5px,#bbd1f8 192.5px,#bfd3f6 204.5px)"></i><i style="background:linear-gradient(90deg,#dedcdb 0.5px,#e1dad6 4.5px,#d4dbe6 17.5px,#cfdaea 37.5px,#c3d5f4 48.5px,#c6d6f1 59.5px,#ccd9ed 71.5px,#c1d4f4 121.5px,#aac7fd 142.5px,#a7c5fe 164.5px,#a5c3fe 167.5px,#9fbfff 168.5px,#86a9fc 170.5px,#6687ed 172.5px,#5e7de7 173.5px,#5b7ae5 175.5px,#5d7ce6 180.5px,#6282ea 181.5px,#779af7 183.5px,#8fb1fe 185.5px,#abc8fd 188.5px,#b7cff9 190.5px,#bed2f6 198.5px,#bfd3f6 204.5px)"></i><i style="background:linear-gradient(90deg,#dfdbd9 0.5px,#e0dbd8 5.5px,#d4dbe6 17.5px,#d1dae9 37.5px,#c3d5f4 51.5px,#ccd9ed 71.5px,#c1d4f4 121.5px,#aac7fd 141.5px,#a9c6fd 162.5px,#a2c1ff 168.5px,#8caffe 170.5px,#7ea1fa 171.5px,#6c8ff1 172.5px,#6180e9 173.5px,#5d7ce6 174.5px,#5d7ce6 180.5px,#5f7fe8 181.5px,#688aef 182.5px,#ebf0fc 183.5px,#81a4fb 184.5px,#9fbfff 187.5px,#b6cefa 190.5px,#bed2f6 197.5px,#bfd3f6 204.5px)"></i><i style="background:linear-gradient(90deg,#dfdbd9 0.5px,#e1dad6 5.5px,#d5dbe5 16.5px,#cfdaea 40.5px,#c4d5f3 52.5px,#ccd9ed 71.5px,#c1d4f4 121.5px,#aac7fd 141.5px,#a9c6fd 162.5px,#a3c2fe 168.5px,#9dbdff 169.5px,#84a7fc 171.5px,#6687ed 173.5px,#5e7de7 174.5px,#5d7ce6 180.5px,#5f7fe8 181.5px,#6687ed 182.5px,#89acfd 185.5px,#a6c4fe 188.5px,#b5cdfa 190.5px,#bed2f6 197.5px,#bfd3f6 204.5px)"></i><i style="background:linear-gradient(90deg,#dfdbd9 0.5px,#e1dad6 5.5px,#d4dbe6 18.5px,#d1dae9 40.5px,#c5d6f2 52.5px,#cdd9ec 73.5px,#c1d4f4 121.5px,#aac7fd 141.5px,#a7c5fe 165.5px,#a5c3fe 168.5px,#9fbfff 169.5px,#89acfd 171.5px,#7b9ff9 172.5px,#6b8df0 173.5px,#6282ea 174.5px,#5e7de7 175.5px,#5e7de7 181.5px,#6e90f2 183.5px,#86a9fc 185.5px,#a3c2fe 188.5px,#b7cff9 191.5px,#bed2f6 199.5px,#bfd3f6 204.5px)"></i><i style="background:linear-gradient(90deg,#dfdbd9 0.5px,#e1dad6 5.5px,#d5dbe5 17.5px,#d1dae9 41.5px,#c6d6f1 53.5px,#cdd9ec 75.5px,#c1d4f4 121.5px,#abc8fd 139.5px,#a7c5fe 165.5px,#a2c1ff 169.5px,#8fb1fe 171.5px,#82a6fb 172.5px,#7295f4 173.5px,#6687ed 174.5px,#5f7fe8 175.5px,#5f7fe8 181.5px,#6282ea 182.5px,#779af7 184.5px,#8db0fe 186.5px,#a9c6fd 189.5px,#b6cefa 191.5px,#bed2f6 198.5px,#bfd3f6 204.5px)"></i><i style="background:linear-gradient(90deg,#dfdbd9 0.5px,#e1dad6 5.5px,#d5dbe5 17.5px,#d2dbe8 41.5px,#c7d7f0 55.5px,#cdd9ec 75.5px,#c1d4f4 121.5px,#abc8fd 139.5px,#a7c5fe 166.5px,#a3c2fe 169.5px,#9ebeff 170.5px,#88abfd 172.5px,#7a9df8 173.5px,#6a8bef 174.5px,#6282ea 175.5px,#5f7fe8 177.5px,#5f7fe8 181.5px,#6282ea 182.5px,#688aef 183.5px,#81a4fb 185.5px,#9ebeff 188.5px,#b3cdfb 191.5px,#bbd1f8 195.5px,#bfd3f6 204.5px)"></i><i style="background:linear-gradient(90deg,#dfdbd9 0.5px,#e1dad6 5.5px,#d5dbe5 18.5px,#d2dbe8 43.5px,#c9d7f0 55.5px,#cdd9ec 76.5px,#c1d4f4 121.5px,#aac7fd 140.5px,#a9c6fd 164.5px,#a5c3fe 169.5px,#a1c0ff 170.5px,#8db0fe 172.5px,#81a4fb 173.5px,#7093f3 174.5px,#6687ed 175.5px,#6180e9 176.5px,#6180e9 182.5px,#7093f3 184.5px,#89acfd 186.5px,#abc8fd 190.5px,#b7cff9 192.5px,#bed2f6 200.5px,#bfd3f6 204.5px)"></i><i style="background:linear-gradient(90deg,#dfdbd9 0.5px,#e1dad6 5.5px,#d6dce4 17.5px,#d2dbe8 44.5px,#cad8ef 57.5px,#cdd9ec 77.5px,#c1d4f4 121.5px,#abc8fd 138.5px,#a7c5fe 167.5px,#a3c2fe 170.5px,#9dbdff 171.5px,#86a9fc 173.5px,#6a8bef 175.5px,#6384eb 176.5px,#6180e9 178.5px,#6180e9 182.5px,#6e90f2 184.5px,#86a9fc 186.5px,#a1c0ff 189.5px,#b6cefa 192.5px,#bed2f6 199.5px,#bfd3f6 204.5px)"></i><i style="background:linear-gradient(90deg,#dfdbd9 0.5px,#e1dad6 5.5px,#d7dce3 16.5px,#d2dbe8 45.5px,#cad8ef 58.5px,#cdd9ec 74.5px,#c1d4f4 121.5px,#abc8fd 138.5px,#a7c5fe 167.5px,#a5c3fe 170.5px,#9fbfff 171.5px,#8badfd 173.5px,#6f92f3 175.5px,#6687ed 176.5px,#6282ea 177.5px,#6282ea 182.5px,#6485ec 183.5px,#82a6fb 186.5px,#9fbfff 189.5px,#b3cdfb 192.5px,#bbd1f8 196.5px,#bfd3f6 204.5px)"></i><i style="background:linear-gradient(90deg,#dedcdb 0.5px,#e1dad6 5.5px,#d7dce3 17.5px,#d2dbe8 47.5px,#cbd8ee 60.5px,#cdd9ec 74.5px,#c1d4f4 121.5px,#abc8fd 138.5px,#a7c5fe 167.5px,#a2c1ff 171.5px,#85a8fc 174.5px,#6a8bef 176.5px,#6282ea 178.5px,#6384eb 183.5px,#6a8bef 184.5px,#8badfd 187.5px,#a5c3fe 190.5px,#b6cefa 193.5px,#bed2f6 199.5px,#bfd3f6 204.5px)"></i><i style="background:linear-gradient(90deg,#dedcdb 0.5px,#e1dad6 5.5px,#d7dce3 18.5px,#d2dbe8 48.5px,#ccd9ed 61.5px,#cdd9ec 79.5px,#c1d4f4 121.5px,#abc8fd 138.5px,#a7c5fe 168.5px,#a3c2fe 171.5px,#9ebeff 172.5px,#89acfd 174.5px,#6e90f2 176.5px,#6384eb 178.5px,#6384eb 183.5px,#688aef 184.5px,#88abfd 187.5px,#a2c1ff 190.5px,#b6cefa 193.5px,#bed2f6 200.5px,#bfd3f6 204.5px)"></i><i style="background:linear-gradient(90deg,#dedcdb 0.5px,#e0dbd8 6.5px,#d7dce3 18.5px,#d3dbe7 47.5px,#cdd9ec 62.5px,#cedaeb 75.5px,#c3d5f4 119.5px,#aac7fd 140.5px,#a9c6fd 166.5px,#a5c3fe 171.5px,#a1c0ff 172.5px,#8db0fe 174.5px,#7597f6 176.5px,#6a8bef 177.5px,#6485ec 178.5px,#6485ec 183.5px,#6788ee 184.5px,#85a8fc 187.5px,#98b9ff 189.5px,#b3cdfb 193.5px,#bbd1f8 197.5px,#bfd3f6 204.5px)"></i><i style="background:linear-gradient(90deg,#dedcdb 0.5px,#e0dbd8 6.5px,#d8dce2 18.5px,#d2dbe8 51.5px,#cedaeb 63.5px,#ccd9ed 85.5px,#c3d5f4 119.5px,#aac7fd 139.5px,#a9c6fd 166.5px,#a2c1ff 172.5px,#92b4fe 174.5px,#88abfd 175.5px,#6e90f2 177.5px,#6788ee 178.5px,#6485ec 180.5px,#6687ed 184.5px,#6c8ff1 185.5px,#8db0fe 188.5px,#adc9fd 192.5px,#b9d0f9 195.5px,#bfd3f6 204.5px)"></i><i style="background:linear-gradient(90deg,#dddcdc 0.5px,#e0dbd8 5.5px,#d8dce2 18.5px,#d2dbe8 52.5px,#cedaeb 64.5px,#ccd9ed 85.5px,#c3d5f4 119.5px,#aac7fd 139.5px,#a9c6fd 166.5px,#a3c2fe 172.5px,#96b7ff 174.5px,#81a4fb 176.5px,#7396f5 177.5px,#6687ed 179.5px,#6687ed 184.5px,#6b8df0 185.5px,#8badfd 188.5px,#a3c2fe 191.5px,#b5cdfa 194.5px,#bad0f8 196.5px,#bed2f6 204.5px)"></i><i style="background:linear-gradient(90deg,#dddcdc 0.5px,#dfdbd9 5.5px,#d8dce2 22.5px,#d1dae9 57.5px,#c9d7f0 100.5px,#c3d5f4 119.5px,#abc8fd 137.5px,#a7c5fe 169.5px,#a5c3fe 172.5px,#9abbff 174.5px,#86a9fc 176.5px,#6e90f2 178.5px,#6687ed 180.5px,#6687ed 184.5px,#6a8bef 185.5px,#88abfd 188.5px,#a1c0ff 191.5px,#b3cdfb 194.5px,#bbd1f8 198.5px,#bed2f6 204.5px)"></i><i style="background:linear-gradient(90deg,#dcdddd 0.5px,#dfdbd9 5.5px,#d9dce1 19.5px,#d1dae9 59.5px,#c4d5f3 118.5px,#abc8fd 137.5px,#a9c6fd 167.5px,#a3c2fe 173.5px,#8badfd 176.5px,#7295f4 178.5px,#6788ee 180.5px,#688aef 185.5px,#6f92f3 186.5px,#90b2fe 189.5px,#adc9fd 193.5px,#b9d0f9 196.5px,#bed2f6 204.5px)"></i><i style="background:linear-gradient(90deg,#dcdddd 0.5px,#dfdbd9 6.5px,#d9dce1 19.5px,#d2dbe8 57.5px,#c3d5f4 119.5px,#abc8fd 137.5px,#a9c6fd 167.5px,#a3c2fe 173.5px,#98b9ff 175.5px,#85a8fc 177.5px,#779af7 178.5px,#6a8bef 180.5px,#688aef 185.5px,#6e90f2 186.5px,#8db0fe 189.5px,#aac7fd 193.5px,#b5cdfa 195.5px,#bbd1f8 199.5px,#bed2f6 204.5px)"></i><i style="background:linear-gradient(90deg,#dcdddd 0.5px,#dedcdb 8.5px,#d9dce1 22.5px,#c4d5f3 118.5px,#aac7fd 138.5px,#a9c6fd 168.5px,#a2c1ff 174.5px,#89acfd 177.5px,#7295f4 179.5px,#688aef 181.5px,#688aef 185.5px,#6b8df0 186.5px,#8badfd 189.5px,#9bbcff 191.5px,#afcafc 194.5px,#b9d0f9 197.5px,#bed2f6 204.5px)"></i><i style="background:linear-gradient(90deg,#dbdcde 0.5px,#dedcdb 6.5px,#dadce0 22.5px,#c4d5f3 118.5px,#aac7fd 138.5px,#a9c6fd 168.5px,#a3c2fe 174.5px,#97b8ff 176.5px,#84a7fc 178.5px,#7699f6 179.5px,#6b8df0 181.5px,#6b8df0 186.5px,#7295f4 187.5px,#92b4fe 190.5px,#adc9fd 194.5px,#b9d0f9 197.5px,#bed2f6 204.5px)"></i><i style="background:linear-gradient(90deg,#dbdcde 0.5px,#dedcdb 7.5px,#dadce0 23.5px,#c4d5f3 118.5px,#aac7fd 138.5px,#a9c6fd 168.5px,#a5c3fe 174.5px,#9abbff 176.5px,#89acfd 178.5px,#7b9ff9 179.5px,#7295f4 180.5px,#6a8bef 182.5px,#6b8df0 186.5px,#7093f3 187.5px,#8fb1fe 190.5px,#abc8fd 194.5px,#b7cff9 197.5px,#bed2f6 204.5px)"></i><i style="background:linear-gradient(90deg,#dadce0 0.5px,#dddcdc 6.5px,#c5d6f2 116.5px,#b5cdfa 129.5px,#aac7fd 138.5px,#a9c6fd 169.5px,#a2c1ff 175.5px,#8caffe 178.5px,#7699f6 180.5px,#6b8df0 182.5px,#6b8df0 186.5px,#6e90f2 187.5px,#8db0fe 190.5px,#a9c6fd 194.5px,#b7cff9 197.5px,#bed2f6 204.5px)"></i><i style="background:linear-gradient(90deg,#dadce0 0.5px,#dddcdc 9.5px,#c4d5f3 117.5px,#abc8fd 136.5px,#a9c6fd 169.5px,#a3c2fe 175.5px,#98b9ff 177.5px,#88abfd 179.5px,#7a9df8 180.5px,#6e90f2 182.5px,#6e90f2 187.5px,#7597f6 188.5px,#94b6ff 191.5px,#b2ccfb 196.5px,#bad0f8 199.5px,#bed2f6 204.5px)"></i><i style="background:linear-gradient(90deg,#d9dce1 0.5px,#dddcdc 8.5px,#d6dce4 45.5px,#c4d5f3 117.5px,#abc8fd 136.5px,#a9c6fd 170.5px,#a5c3fe 175.5px,#94b6ff 178.5px,#8caffe 179.5px,#7699f6 181.5px,#6c8ff1 183.5px,#6e90f2 187.5px,#7396f5 188.5px,#92b4fe 191.5px,#abc8fd 195.5px,#b7cff9 198.5px,#bed2f6 204.5px)"></i><i style="background:linear-gradient(90deg,#d9dce1 0.5px,#dcdddd 9.5px,#d8dce2 39.5px,#c4d5f3 117.5px,#aac7fd 137.5px,#a9c6fd 170.5px,#a2c1ff 176.5px,#97b8ff 178.5px,#86a9fc 180.5px,#7a9df8 181.5px,#6f92f3 183.5px,#6e90f2 187.5px,#7093f3 188.5px,#8fb1fe 191.5px,#aac7fd 195.5px,#b7cff9 198.5px,#bed2f6 204.5px)"></i><i style="background:linear-gradient(90deg,#d9dce1 0.5px,#dcdddd 12.5px,#d8dce2 39.5px,#c6d6f1 113.5px,#bad0f8 125.5px,#aac7fd 137.5px,#a9c6fd 170.5px,#a3c2fe 176.5px,#93b5fe 179.5px,#8badfd 180.5px,#7ea1fa 181.5px,#7093f3 183.5px,#6e90f2 186.5px,#7093f3 188.5px,#779af7 189.5px,#8db0fe 191.5px,#a9c6fd 195.5px,#b6cefa 198.5px,#bcd2f7 204.5px)"></i><i style="background:linear-gradient(90deg,#d8dce2 0.5px,#dcdddd 10.5px,#d9dce1 36.5px,#d1dae9 71.5px,#c4d5f3 117.5px,#aac7fd 137.5px,#a9c6fd 171.5px,#a2c1ff 177.5px,#8db0fe 180.5px,#799cf8 182.5px,#7093f3 184.5px,#7093f3 188.5px,#7699f6 189.5px,#94b6ff 192.5px,#b2ccfb 197.5px,#bad0f8 201.5px,#bcd2f7 204.5px)"></i><i style="background:linear-gradient(90deg,#d8dce2 0.5px,#dcdddd 16.5px,#d7dce3 43.5px,#c4d5f3 117.5px,#abc8fd 135.5px,#a9c6fd 171.5px,#a3c2fe 177.5px,#92b4fe 180.5px,#89acfd 181.5px,#7da0f9 182.5px,#7295f4 184.5px,#7093f3 188.5px,#7597f6 189.5px,#92b4fe 192.5px,#abc8fd 196.5px,#b7cff9 199.5px,#bcd2f7 204.5px)"></i><i style="background:linear-gradient(90deg,#d7dce3 0.5px,#dbdcde 9.5px,#dadce0 33.5px,#d1dae9 71.5px,#c4d5f3 117.5px,#abc8fd 135.5px,#a9c6fd 171.5px,#a3c2fe 177.5px,#9bbcff 179.5px,#8db0fe 181.5px,#7a9df8 183.5px,#7295f4 185.5px,#7093f3 188.5px,#7396f5 189.5px,#98b9ff 193.5px,#b3cdfb 198.5px,#bbd1f8 202.5px,#bcd2f7 204.5px)"></i><i style="background:linear-gradient(90deg,#d7dce3 0.5px,#dbdcde 12.5px,#dadce0 33.5px,#d1dae9 71.5px,#c4d5f3 117.5px,#aac7fd 136.5px,#a9c6fd 172.5px,#a2c1ff 178.5px,#90b2fe 181.5px,#7da0f9 183.5px,#7396f5 185.5px,#7396f5 189.5px,#799cf8 190.5px,#97b8ff 193.5px,#b6cefa 199.5px,#bcd2f7 204.5px)"></i><i style="background:linear-gradient(90deg,#d6dce4 0.5px,#dbdcde 11.5px,#dadce0 33.5px,#d1dae9 71.5px,#c4d5f3 117.5px,#aac7fd 136.5px,#a9c6fd 172.5px,#a3c2fe 178.5px,#93b5fe 181.5px,#8caffe 182.5px,#81a4fb 183.5px,#7699f6 185.5px,#7396f5 188.5px,#7396f5 189.5px,#779af7 190.5px,#96b7ff 193.5px,#b5cdfa 199.5px,#bcd2f7 204.5px)"></i><i style="background:linear-gradient(90deg,#d6dce4 0.5px,#dbdcde 13.5px,#dadce0 33.5px,#d1dae9 71.5px,#c4d5f3 116.5px,#aac7fd 136.5px,#a9c6fd 172.5px,#a5c3fe 178.5px,#96b7ff 181.5px,#90b2fe 182.5px,#7da0f9 184.5px,#7597f6 186.5px,#7597f6 189.5px,#779af7 190.5px,#7ea1fa 191.5px,#9bbcff 194.5px,#b3cdfb 199.5px,#bbd1f8 203.5px,#bbd1f8 204.5px)"></i><i style="background:linear-gradient(90deg,#d6dce4 0.5px,#dbdcde 15.5px,#dadce0 33.5px,#d2dbe8 65.5px,#c4d5f3 116.5px,#aac7fd 136.5px,#a9c6fd 173.5px,#a2c1ff 179.5px,#8caffe 183.5px,#81a4fb 184.5px,#7a9df8 185.5px,#7597f6 188.5px,#7699f6 190.5px,#86a9fc 192.5px,#9abbff 194.5px,#b6cefa 200.5px,#bbd1f8 204.5px)"></i><i style="background:linear-gradient(90deg,#d5dbe5 0.5px,#dbdcde 14.5px,#dadce0 33.5px,#d2dbe8 65.5px,#c4d5f3 116.5px,#abc8fd 134.5px,#a9c6fd 173.5px,#a1c0ff 180.5px,#8fb1fe 183.5px,#7ea1fa 185.5px,#7699f6 187.5px,#779af7 190.5px,#7b9ff9 191.5px,#98b9ff 194.5px,#b5cdfa 200.5px,#bbd1f8 204.5px)"></i><i style="background:linear-gradient(90deg,#d5dbe5 0.5px,#dbdcde 16.5px,#d9dce1 36.5px,#d1dae9 71.5px,#c4d5f3 116.5px,#abc8fd 134.5px,#a9c6fd 173.5px,#a2c1ff 180.5px,#92b4fe 183.5px,#7b9ff9 186.5px,#779af7 189.5px,#7a9df8 191.5px,#96b7ff 194.5px,#abc8fd 198.5px,#b9d0f9 202.5px,#bbd1f8 204.5px)"></i><i style="background:linear-gradient(90deg,#d5dbe5 0.5px,#dbdcde 18.5px,#d8dce2 39.5px,#cad8ef 99.5px,#c3d5f4 117.5px,#aac7fd 135.5px,#a9c6fd 174.5px,#a3c2fe 180.5px,#8fb1fe 184.5px,#84a7fc 185.5px,#7a9df8 187.5px,#7a9df8 191.5px,#80a3fa 192.5px,#9dbdff 195.5px,#b6cefa 201.5px,#bad0f8 204.5px)"></i><i style="background:linear-gradient(90deg,#d4dbe6 0.5px,#dadce0 14.5px,#d9dce1 35.5px,#d1dae9 70.5px,#c4d5f3 116.5px,#aac7fd 135.5px,#a9c6fd 174.5px,#a1c0ff 181.5px,#92b4fe 184.5px,#81a4fb 186.5px,#799cf8 189.5px,#7a9df8 191.5px,#7ea1fa 192.5px,#9bbcff 195.5px,#b5cdfa 201.5px,#bad0f8 204.5px)"></i><i style="background:linear-gradient(90deg,#d4dbe6 0.5px,#dadce0 16.5px,#d9dce1 34.5px,#cfdaea 75.5px,#c4d5f3 116.5px,#abc8fd 134.5px,#a9c6fd 174.5px,#a2c1ff 181.5px,#94b6ff 184.5px,#84a7fc 186.5px,#7a9df8 189.5px,#7da0f9 192.5px,#98b9ff 195.5px,#a7c5fe 198.5px,#b3cdfb 201.5px,#bad0f8 204.5px)"></i><i style="background:linear-gradient(90deg,#d3dbe7 0.5px,#dadce0 17.5px,#d7dce3 40.5px,#c5d6f2 114.5px,#abc8fd 133.5px,#a9c6fd 175.5px,#a1c0ff 182.5px,#92b4fe 185.5px,#81a4fb 187.5px,#7b9ff9 190.5px,#7da0f9 192.5px,#9ebeff 196.5px,#b6cefa 202.5px,#b9d0f9 204.5px)"></i><i style="background:linear-gradient(90deg,#d3dbe7 0.5px,#dadce0 20.5px,#c5d6f2 114.5px,#abc8fd 133.5px,#a9c6fd 175.5px,#a2c1ff 182.5px,#94b6ff 185.5px,#84a7fc 187.5px,#7da0f9 189.5px,#7da0f9 192.5px,#8badfd 194.5px,#96b7ff 195.5px,#a6c4fe 198.5px,#b7cff9 203.5px,#b9d0f9 204.5px)"></i><i style="background:linear-gradient(90deg,#d3dbe7 0.5px,#dadce0 21.5px,#c5d6f2 114.5px,#aac7fd 134.5px,#a9c6fd 175.5px,#a3c2fe 182.5px,#92b4fe 186.5px,#86a9fc 187.5px,#7da0f9 190.5px,#81a4fb 193.5px,#9bbcff 196.5px,#b5cdfa 202.5px,#b9d0f9 204.5px)"></i><i style="background:linear-gradient(90deg,#d2dbe8 0.5px,#d9dce1 18.5px,#d6dce4 41.5px,#c5d6f2 114.5px,#aac7fd 134.5px,#a9c6fd 176.5px,#a1c0ff 183.5px,#94b6ff 186.5px,#85a8fc 188.5px,#7ea1fa 190.5px,#81a4fb 193.5px,#86a9fc 194.5px,#9abbff 196.5px,#a5c3fe 198.5px,#b6cefa 203.5px,#b7cff9 204.5px)"></i><i style="background:linear-gradient(90deg,#d2dbe8 0.5px,#d9dce1 22.5px,#c5d6f2 113.5px,#aac7fd 134.5px,#a9c6fd 176.5px,#a2c1ff 183.5px,#96b7ff 186.5px,#84a7fc 189.5px,#80a3fa 192.5px,#85a8fc 194.5px,#98b9ff 196.5px,#a7c5fe 199.5px,#b7cff9 204.5px)"></i><i style="background:linear-gradient(90deg,#d1dae9 0.5px,#d8dce2 17.5px,#d7dce3 35.5px,#c5d6f2 113.5px,#aac7fd 134.5px,#a9c6fd 176.5px,#a3c2fe 183.5px,#94b6ff 187.5px,#8badfd 188.5px,#82a6fb 190.5px,#81a4fb 193.5px,#84a7fc 194.5px,#9ebeff 197.5px,#b5cdfa 203.5px,#b6cefa 204.5px)"></i><i style="background:linear-gradient(90deg,#d1dae9 0.5px,#d8dce2 20.5px,#c6d6f1 111.5px,#b3cdfb 126.5px,#aac7fd 134.5px,#a9c6fd 177.5px,#a2c1ff 184.5px,#96b7ff 187.5px,#84a7fc 190.5px,#82a6fb 193.5px,#84a7fc 194.5px,#9dbdff 197.5px,#b3cdfb 203.5px,#b6cefa 204.5px)"></i><i style="background:linear-gradient(90deg,#d1dae9 0.5px,#d8dce2 23.5px,#c5d6f2 113.5px,#abc8fd 132.5px,#a9c6fd 177.5px,#a2c1ff 184.5px,#93b5fe 188.5px,#8badfd 189.5px,#82a6fb 192.5px,#84a7fc 194.5px,#89acfd 195.5px,#9dbdff 197.5px,#b2ccfb 203.5px,#b5cdfa 204.5px)"></i><i style="background:linear-gradient(90deg,#cfdaea 0.5px,#d7dce3 19.5px,#cad8ef 97.5px,#c3d5f4 115.5px,#aac7fd 133.5px,#a9c6fd 177.5px,#a3c2fe 184.5px,#96b7ff 188.5px,#8db0fe 189.5px,#84a7fc 192.5px,#88abfd 195.5px,#9bbcff 197.5px,#a2c1ff 198.5px,#b5cdfa 204.5px)"></i><i style="background:linear-gradient(90deg,#cfdaea 0.5px,#d7dce3 23.5px,#c5d6f2 112.5px,#aac7fd 133.5px,#a9c6fd 178.5px,#a2c1ff 185.5px,#93b5fe 189.5px,#8badfd 190.5px,#84a7fc 193.5px,#88abfd 195.5px,#8fb1fe 196.5px,#9abbff 197.5px,#a5c3fe 199.5px,#b3cdfb 204.5px)"></i><i style="background:linear-gradient(90deg,#cedaeb 0.5px,#d6dce4 21.5px,#c7d7f0 106.5px,#c0d4f5 116.5px,#aac7fd 133.5px,#a9c6fd 178.5px,#a1c0ff 186.5px,#96b7ff 189.5px,#8db0fe 190.5px,#85a8fc 193.5px,#88abfd 195.5px,#8db0fe 196.5px,#9fbfff 198.5px,#aac7fd 201.5px,#b3cdfb 204.5px)"></i><i style="background:linear-gradient(90deg,#cedaeb 0.5px,#d5dbe5 20.5px,#ccd9ed 84.5px,#c4d5f3 113.5px,#abc8fd 131.5px,#a9c6fd 178.5px,#a3c2fe 185.5px,#97b8ff 189.5px,#8badfd 191.5px,#86a9fc 194.5px,#8caffe 196.5px,#9fbfff 198.5px,#a5c3fe 199.5px,#b2ccfb 204.5px)"></i><i style="background:linear-gradient(90deg,#cedaeb 0.5px,#d5dbe5 24.5px,#c5d6f2 112.5px,#abc8fd 131.5px,#a9c6fd 178.5px,#a2c1ff 186.5px,#96b7ff 190.5px,#8db0fe 191.5px,#86a9fc 194.5px,#8badfd 196.5px,#a3c2fe 199.5px,#b2ccfb 204.5px)"></i><i style="background:linear-gradient(90deg,#cdd9ec 0.5px,#d4dbe6 21.5px,#c9d7f0 99.5px,#c3d5f4 114.5px,#aac7fd 132.5px,#a9c6fd 179.5px,#a1c0ff 187.5px,#97b8ff 190.5px,#8caffe 192.5px,#88abfd 195.5px,#8badfd 196.5px,#a3c2fe 199.5px,#b1cbfc 204.5px)"></i><i style="background:linear-gradient(90deg,#cdd9ec 0.5px,#d4dbe6 26.5px,#c5d6f2 111.5px,#aac7fd 132.5px,#a9c6fd 179.5px,#a2c1ff 187.5px,#94b6ff 191.5px,#8db0fe 192.5px,#88abfd 195.5px,#89acfd 196.5px,#a2c1ff 199.5px,#b1cbfc 204.5px)"></i><i style="background:linear-gradient(90deg,#ccd9ed 0.5px,#d3dbe7 22.5px,#c9d7f0 97.5px,#c4d5f3 112.5px,#aac7fd 132.5px,#a9c6fd 179.5px,#a2c1ff 187.5px,#97b8ff 191.5px,#8fb1fe 192.5px,#89acfd 195.5px,#8db0fe 197.5px,#a1c0ff 199.5px,#a6c4fe 200.5px,#afcafc 204.5px)"></i><i style="background:linear-gradient(90deg,#ccd9ed 0.5px,#d3dbe7 26.5px,#c5d6f2 110.5px,#aac7fd 132.5px,#a9c6fd 180.5px,#a1c0ff 188.5px,#98b9ff 191.5px,#8badfd 194.5px,#8badfd 196.5px,#8db0fe 197.5px,#9fbfff 199.5px,#aac7fd 202.5px,#afcafc 204.5px)"></i><i style="background:linear-gradient(90deg,#cbd8ee 0.5px,#d2dbe8 22.5px,#c9d7f0 95.5px,#c3d5f4 113.5px,#abc8fd 130.5px,#a9c6fd 180.5px,#a2c1ff 188.5px,#97b8ff 192.5px,#8fb1fe 193.5px,#8badfd 196.5px,#8caffe 197.5px,#93b5fe 198.5px,#9ebeff 199.5px,#a5c3fe 200.5px,#aec9fc 204.5px)"></i><i style="background:linear-gradient(90deg,#cbd8ee 0.5px,#d2dbe8 26.5px,#c6d6f1 107.5px,#bfd3f6 116.5px,#abc8fd 130.5px,#a9c6fd 180.5px,#a1c0ff 189.5px,#98b9ff 192.5px,#8db0fe 194.5px,#8caffe 197.5px,#92b4fe 198.5px,#a3c2fe 200.5px,#aec9fc 204.5px)"></i><i style="background:linear-gradient(90deg,#cbd8ee 0.5px,#d1dae9 29.5px,#c6d6f1 106.5px,#c0d4f5 114.5px,#aac7fd 131.5px,#a9c6fd 181.5px,#9fbfff 190.5px,#96b7ff 193.5px,#8fb1fe 194.5px,#8caffe 197.5px,#90b2fe 198.5px,#a3c2fe 200.5px,#adc9fd 204.5px)"></i><i style="background:linear-gradient(90deg,#cad8ef 0.5px,#cfdaea 24.5px,#c9d7f0 92.5px,#c3d5f4 112.5px,#aac7fd 131.5px,#a9c6fd 181.5px,#a2c1ff 189.5px,#98b9ff 193.5px,#92b4fe 194.5px,#8db0fe 197.5px,#8fb1fe 198.5px,#a2c1ff 200.5px,#a7c5fe 201.5px,#adc9fd 204.5px)"></i><i style="background:linear-gradient(90deg,#cad8ef 0.5px,#cfdaea 28.5px,#c6d6f1 104.5px,#c0d4f5 114.5px,#aac7fd 131.5px,#a9c6fd 181.5px,#a1c0ff 190.5px,#9abbff 193.5px,#8db0fe 196.5px,#8fb1fe 198.5px,#a6c4fe 201.5px,#abc8fd 204.5px)"></i><i style="background:linear-gradient(90deg,#c9d7f0 0.5px,#cedaeb 23.5px,#c9d7f0 89.5px,#c3d5f4 111.5px,#abc8fd 129.5px,#a9c6fd 182.5px,#9fbfff 191.5px,#98b9ff 194.5px,#92b4fe 195.5px,#8fb1fe 198.5px,#93b5fe 199.5px,#a6c4fe 201.5px,#abc8fd 204.5px)"></i><i style="background:linear-gradient(90deg,#c9d7f0 0.5px,#cedaeb 30.5px,#c5d6f2 108.5px,#abc8fd 129.5px,#a9c6fd 182.5px,#a2c1ff 190.5px,#9abbff 194.5px,#93b5fe 195.5px,#8fb1fe 198.5px,#92b4fe 199.5px,#a5c3fe 201.5px,#abc8fd 204.5px)"></i><i style="background:linear-gradient(90deg,#c9d7f0 0.5px,#cdd9ec 29.5px,#c7d7f0 94.5px,#c1d4f4 112.5px,#aac7fd 130.5px,#a9c6fd 182.5px,#9fbfff 192.5px,#97b8ff 195.5px,#92b4fe 196.5px,#92b4fe 199.5px,#a3c2fe 201.5px,#aac7fd 204.5px)"></i><i style="background:linear-gradient(90deg,#c7d7f0 0.5px,#cdd9ec 29.5px,#c6d6f1 100.5px,#c1d4f4 112.5px,#aac7fd 130.5px,#a9c6fd 182.5px,#9ebeff 193.5px,#9abbff 195.5px,#93b5fe 196.5px,#92b4fe 199.5px,#97b8ff 200.5px,#a2c1ff 201.5px,#a7c5fe 202.5px,#aac7fd 204.5px)"></i><i style="background:linear-gradient(90deg,#c7d7f0 0.5px,#ccd9ed 29.5px,#c7d7f0 91.5px,#c3d5f4 110.5px,#aac7fd 130.5px,#a9c6fd 183.5px,#a1c0ff 192.5px,#9bbcff 195.5px,#94b6ff 196.5px,#92b4fe 199.5px,#94b6ff 200.5px,#a7c5fe 202.5px,#aac7fd 204.5px)"></i><i style="background:linear-gradient(90deg,#c7d7f0 0.5px,#ccd9ed 38.5px,#c4d5f3 108.5px,#aac7fd 130.5px,#a9c6fd 183.5px,#9ebeff 194.5px,#92b4fe 198.5px,#94b6ff 200.5px,#a7c5fe 202.5px,#aac7fd 204.5px)"></i><i style="background:linear-gradient(90deg,#c6d6f1 0.5px,#cbd8ee 29.5px,#c6d6f1 95.5px,#c1d4f4 111.5px,#abc8fd 128.5px,#a9c6fd 183.5px,#9ebeff 194.5px,#9abbff 196.5px,#94b6ff 197.5px,#93b5fe 200.5px,#a6c4fe 202.5px,#aac7fd 204.5px)"></i><i style="background:linear-gradient(90deg,#c6d6f1 0.5px,#cbd8ee 37.5px,#c4d5f3 108.5px,#abc8fd 128.5px,#a9c6fd 183.5px,#9ebeff 194.5px,#9bbcff 196.5px,#93b5fe 198.5px,#94b6ff 200.5px,#9abbff 201.5px,#a5c3fe 202.5px,#aac7fd 204.5px)"></i><i style="background:linear-gradient(90deg,#c6d6f1 0.5px,#cad8ef 36.5px,#c5d6f2 101.5px,#bfd3f6 113.5px,#aac7fd 129.5px,#a9c6fd 184.5px,#9ebeff 194.5px,#9dbdff 196.5px,#96b7ff 197.5px,#94b6ff 200.5px,#98b9ff 201.5px,#a3c2fe 202.5px,#a9c6fd 203.5px,#aac7fd 204.5px)"></i></div><div class="im" style="left:295px;top:17px;width:206px"><i style="background:linear-gradient(90deg,#f6f6fa 0.5px,#f6f6fa 6.5px,#94b6ff 7.5px,#9ebeff 34.5px,#97b8ff 46.5px,#80a3fa 56.5px,#7da0f9 64.5px,#a5c3fe 65.5px,#a5c3fe 95.5px,#86a9fc 96.5px,#5977e3 97.5px,#465ecf 98.5px,#485fd1 131.5px,#536edd 145.5px,#5b7ae5 146.5px,#85a8fc 148.5px,#98b9ff 149.5px,#9fbfff 150.5px,#9fbfff 205.5px)"></i><i style="background:linear-gradient(90deg,#f6f6fa 0.5px,#f6f6fa 6.5px,#86a9fc 7.5px,#90b2fe 30.5px,#8caffe 45.5px,#7295f4 56.5px,#6f92f3 64.5px,#97b8ff 65.5px,#97b8ff 95.5px,#89acfd 96.5px,#6282ea 97.5px,#485fd1 98.5px,#485fd1 131.5px,#536edd 145.5px,#5673e0 146.5px,#7699f6 148.5px,#86a9fc 149.5px,#92b4fe 150.5px,#92b4fe 205.5px)"></i><i style="background:linear-gradient(90deg,#f6f6fa 0.5px,#f6f6fa 6.5px,#85a8fc 7.5px,#90b2fe 31.5px,#8badfd 45.5px,#7295f4 56.5px,#6e90f2 64.5px,#97b8ff 65.5px,#97b8ff 95.5px,#92b4fe 96.5px,#6f92f3 97.5px,#4c66d6 98.5px,#465ecf 99.5px,#485fd1 132.5px,#5470de 146.5px,#5e7de7 147.5px,#81a4fb 149.5px,#8db0fe 150.5px,#90b2fe 205.5px)"></i><i style="background:linear-gradient(90deg,#f6f6fa 0.5px,#f6f6fa 6.5px,#8badfd 7.5px,#96b7ff 31.5px,#90b2fe 45.5px,#779af7 56.5px,#7396f5 64.5px,#9bbcff 65.5px,#9bbcff 96.5px,#80a3fa 97.5px,#5875e1 98.5px,#465ecf 99.5px,#485fd1 132.5px,#536edd 146.5px,#5a78e4 147.5px,#7ea1fa 149.5px,#8fb1fe 150.5px,#96b7ff 151.5px,#96b7ff 205.5px)"></i><i style="background:linear-gradient(90deg,#f6f6fa 0.5px,#f6f6fa 6.5px,#8fb1fe 7.5px,#9abbff 29.5px,#96b7ff 45.5px,#7b9ff9 56.5px,#779af7 64.5px,#9fbfff 65.5px,#9fbfff 96.5px,#90b2fe 97.5px,#6485ec 98.5px,#485fd1 99.5px,#485fd1 132.5px,#536edd 146.5px,#5673e0 147.5px,#7a9df8 149.5px,#8db0fe 150.5px,#9abbff 151.5px,#9abbff 205.5px)"></i><i style="background:linear-gradient(90deg,#f6f6fa 0.5px,#f6f6fa 6.5px,#92b4fe 7.5px,#9dbdff 30.5px,#97b8ff 45.5px,#7da0f9 56.5px,#7a9df8 64.5px,#a1c0ff 65.5px,#a1c0ff 96.5px,#9bbcff 97.5px,#7597f6 98.5px,#4e68d8 99.5px,#465ecf 100.5px,#485fd1 133.5px,#5470de 147.5px,#5f7fe8 148.5px,#89acfd 150.5px,#98b9ff 151.5px,#9bbcff 205.5px)"></i><i style="background:linear-gradient(90deg,#f6f6fa 0.5px,#f6f6fa 6.5px,#8db0fe 7.5px,#98b9ff 29.5px,#96b7ff 44.5px,#7a9df8 56.5px,#7699f6 64.5px,#9ebeff 65.5px,#9dbdff 97.5px,#82a6fb 98.5px,#5875e1 99.5px,#465ecf 100.5px,#485fd1 133.5px,#536edd 147.5px,#5a78e4 148.5px,#80a3fa 150.5px,#90b2fe 151.5px,#97b8ff 152.5px,#97b8ff 205.5px)"></i><i style="background:linear-gradient(90deg,#f6f6fa 0.5px,#f6f6fa 6.5px,#8caffe 7.5px,#97b8ff 31.5px,#90b2fe 46.5px,#779af7 56.5px,#7597f6 64.5px,#9bbcff 65.5px,#9bbcff 97.5px,#8db0fe 98.5px,#6485ec 99.5px,#485fd1 100.5px,#485fd1 134.5px,#536edd 147.5px,#5673e0 148.5px,#779af7 150.5px,#8badfd 151.5px,#94b6ff 152.5px,#96b7ff 205.5px)"></i><i style="background:linear-gradient(90deg,#f6f6fa 0.5px,#f6f6fa 6.5px,#90b2fe 7.5px,#9bbcff 29.5px,#97b8ff 45.5px,#7ea1fa 55.5px,#799cf8 64.5px,#9fbfff 65.5px,#9fbfff 97.5px,#9bbcff 98.5px,#7597f6 99.5px,#4e68d8 100.5px,#465ecf 101.5px,#485fd1 134.5px,#5470de 148.5px,#5f7fe8 149.5px,#88abfd 151.5px,#97b8ff 152.5px,#9abbff 205.5px)"></i><i style="background:linear-gradient(90deg,#f6f6fa 0.5px,#f6f6fa 6.5px,#98b9ff 7.5px,#a3c2fe 31.5px,#9ebeff 45.5px,#84a7fc 56.5px,#81a4fb 64.5px,#a7c5fe 65.5px,#a7c5fe 98.5px,#89acfd 99.5px,#5a78e4 100.5px,#465ecf 101.5px,#485fd1 134.5px,#536edd 148.5px,#5b7ae5 149.5px,#86a9fc 151.5px,#9abbff 152.5px,#a2c1ff 153.5px,#a2c1ff 205.5px)"></i><i style="background:linear-gradient(90deg,#f6f6fa 0.5px,#f6f6fa 6.5px,#96b7ff 7.5px,#a1c0ff 30.5px,#9dbdff 44.5px,#81a4fb 57.5px,#7ea1fa 64.5px,#a5c3fe 65.5px,#a5c3fe 98.5px,#96b7ff 99.5px,#688aef 100.5px,#485fd1 101.5px,#485fd1 135.5px,#536edd 148.5px,#5673e0 149.5px,#7da0f9 151.5px,#92b4fe 152.5px,#9ebeff 153.5px,#9fbfff 205.5px)"></i><i style="background:linear-gradient(90deg,#f6f6fa 0.5px,#f6f6fa 6.5px,#92b4fe 7.5px,#9ebeff 29.5px,#98b9ff 45.5px,#7ea1fa 56.5px,#7a9df8 64.5px,#a2c1ff 65.5px,#a2c1ff 98.5px,#9dbdff 99.5px,#7699f6 100.5px,#4f69d9 101.5px,#465ecf 102.5px,#485fd1 135.5px,#5470de 149.5px,#5f7fe8 150.5px,#89acfd 152.5px,#98b9ff 153.5px,#9bbcff 205.5px)"></i><i style="background:linear-gradient(90deg,#f6f6fa 0.5px,#f6f6fa 6.5px,#94b6ff 7.5px,#9fbfff 28.5px,#9bbcff 45.5px,#82a6fb 55.5px,#7da0f9 64.5px,#a3c2fe 65.5px,#a3c2fe 99.5px,#88abfd 100.5px,#5a78e4 101.5px,#465ecf 102.5px,#485fd1 136.5px,#536edd 149.5px,#5b7ae5 150.5px,#84a7fc 152.5px,#97b8ff 153.5px,#9ebeff 154.5px,#9ebeff 205.5px)"></i><i style="background:linear-gradient(90deg,#f6f6fa 0.5px,#f6f6fa 6.5px,#92b4fe 7.5px,#9dbdff 28.5px,#98b9ff 45.5px,#80a3fa 55.5px,#7a9df8 64.5px,#a1c0ff 65.5px,#a1c0ff 99.5px,#93b5fe 100.5px,#6788ee 101.5px,#485fd1 102.5px,#485fd1 136.5px,#536edd 149.5px,#5673e0 150.5px,#6687ed 151.5px,#7b9ff9 152.5px,#8fb1fe 153.5px,#9bbcff 154.5px,#9bbcff 205.5px)"></i><i style="background:linear-gradient(90deg,#f6f6fa 0.5px,#f6f6fa 6.5px,#8caffe 7.5px,#97b8ff 27.5px,#94b6ff 44.5px,#799cf8 56.5px,#7597f6 64.5px,#9bbcff 65.5px,#9bbcff 99.5px,#97b8ff 100.5px,#7396f5 101.5px,#4f69d9 102.5px,#465ecf 103.5px,#485fd1 136.5px,#5470de 150.5px,#7093f3 152.5px,#85a8fc 153.5px,#93b5fe 154.5px,#96b7ff 205.5px)"></i><i style="background:linear-gradient(90deg,#f6f6fa 0.5px,#f6f6fa 6.5px,#8badfd 7.5px,#96b7ff 28.5px,#92b4fe 44.5px,#779af7 56.5px,#7396f5 64.5px,#9abbff 65.5px,#9abbff 100.5px,#81a4fb 101.5px,#5977e3 102.5px,#465ecf 103.5px,#485fd1 137.5px,#536edd 150.5px,#5a78e4 151.5px,#7da0f9 153.5px,#8db0fe 154.5px,#94b6ff 155.5px,#94b6ff 205.5px)"></i><i style="background:linear-gradient(90deg,#f6f6fa 0.5px,#f6f6fa 6.5px,#8caffe 7.5px,#97b8ff 28.5px,#92b4fe 45.5px,#799cf8 56.5px,#7597f6 64.5px,#9dbdff 65.5px,#9dbdff 100.5px,#8fb1fe 101.5px,#6687ed 102.5px,#485fd1 103.5px,#485fd1 137.5px,#536edd 150.5px,#5673e0 151.5px,#779af7 153.5px,#8badfd 154.5px,#96b7ff 155.5px,#96b7ff 205.5px)"></i><i style="background:linear-gradient(90deg,#f6f6fa 0.5px,#f6f6fa 6.5px,#90b2fe 7.5px,#9bbcff 29.5px,#96b7ff 45.5px,#7b9ff9 56.5px,#799cf8 64.5px,#9fbfff 65.5px,#9fbfff 100.5px,#9bbcff 101.5px,#779af7 102.5px,#4f69d9 103.5px,#465ecf 104.5px,#485fd1 137.5px,#5470de 151.5px,#5f7fe8 152.5px,#88abfd 154.5px,#97b8ff 155.5px,#9abbff 205.5px)"></i><i style="background:linear-gradient(90deg,#f6f6fa 0.5px,#f6f6fa 6.5px,#96b7ff 7.5px,#a1c0ff 26.5px,#9dbdff 44.5px,#81a4fb 57.5px,#7ea1fa 64.5px,#a6c4fe 65.5px,#a6c4fe 101.5px,#8badfd 102.5px,#5b7ae5 103.5px,#465ecf 104.5px,#485fd1 138.5px,#536edd 151.5px,#5b7ae5 152.5px,#85a8fc 154.5px,#98b9ff 155.5px,#a1c0ff 156.5px,#a1c0ff 205.5px)"></i><i style="background:linear-gradient(90deg,#f6f6fa 0.5px,#f6f6fa 6.5px,#98b9ff 7.5px,#a3c2fe 30.5px,#9ebeff 45.5px,#85a8fc 55.5px,#80a3fa 64.5px,#a9c6fd 65.5px,#a9c6fd 101.5px,#9abbff 102.5px,#6b8df0 103.5px,#4961d2 104.5px,#465ecf 112.5px,#485fd1 138.5px,#536edd 151.5px,#5673e0 152.5px,#6788ee 153.5px,#7ea1fa 154.5px,#94b6ff 155.5px,#a2c1ff 156.5px,#a2c1ff 205.5px)"></i><i style="background:linear-gradient(90deg,#f6f6fa 0.5px,#f6f6fa 6.5px,#9abbff 7.5px,#a3c2fe 28.5px,#9ebeff 45.5px,#84a7fc 56.5px,#81a4fb 64.5px,#a9c6fd 65.5px,#a9c6fd 101.5px,#a5c3fe 102.5px,#7da0f9 103.5px,#506bda 104.5px,#465ecf 105.5px,#485fd1 139.5px,#5470de 152.5px,#6180e9 153.5px,#779af7 154.5px,#8fb1fe 155.5px,#9fbfff 156.5px,#a3c2fe 159.5px,#a3c2fe 205.5px)"></i><i style="background:linear-gradient(90deg,#f6f6fa 0.5px,#f6f6fa 6.5px,#9abbff 7.5px,#a3c2fe 28.5px,#9ebeff 45.5px,#84a7fc 56.5px,#81a4fb 64.5px,#aac7fd 65.5px,#aac7fd 102.5px,#8fb1fe 103.5px,#5e7de7 104.5px,#465ecf 105.5px,#485fd1 139.5px,#536edd 152.5px,#5b7ae5 153.5px,#86a9fc 155.5px,#9bbcff 156.5px,#a3c2fe 157.5px,#a3c2fe 205.5px)"></i><i style="background:linear-gradient(90deg,#f6f6fa 0.5px,#f6f6fa 6.5px,#90b2fe 7.5px,#9bbcff 28.5px,#96b7ff 45.5px,#7da0f9 55.5px,#799cf8 64.5px,#a2c1ff 65.5px,#a2c1ff 102.5px,#97b8ff 103.5px,#6e90f2 104.5px,#4a63d3 105.5px,#465ecf 107.5px,#485fd1 139.5px,#536edd 152.5px,#5673e0 153.5px,#7a9df8 155.5px,#8db0fe 156.5px,#9abbff 157.5px,#9abbff 205.5px)"></i><i style="background:linear-gradient(90deg,#f6f6fa 0.5px,#f6f6fa 6.5px,#89acfd 7.5px,#93b5fe 30.5px,#8db0fe 45.5px,#7597f6 55.5px,#7093f3 64.5px,#9abbff 65.5px,#98b9ff 103.5px,#7b9ff9 104.5px,#5470de 105.5px,#465ecf 106.5px,#485fd1 140.5px,#5470de 153.5px,#5e7de7 154.5px,#82a6fb 156.5px,#8fb1fe 157.5px,#92b4fe 205.5px)"></i><i style="background:linear-gradient(90deg,#f6f6fa 0.5px,#f6f6fa 6.5px,#8caffe 7.5px,#96b7ff 28.5px,#90b2fe 45.5px,#779af7 55.5px,#7396f5 64.5px,#9dbdff 65.5px,#9dbdff 103.5px,#8db0fe 104.5px,#6384eb 105.5px,#465ecf 106.5px,#485fd1 140.5px,#536edd 153.5px,#5a78e4 154.5px,#7da0f9 156.5px,#8db0fe 157.5px,#94b6ff 158.5px,#94b6ff 205.5px)"></i><i style="background:linear-gradient(90deg,#f6f6fa 0.5px,#f6f6fa 6.5px,#97b8ff 7.5px,#a1c0ff 27.5px,#9bbcff 45.5px,#81a4fb 56.5px,#7ea1fa 64.5px,#a9c6fd 65.5px,#a9c6fd 103.5px,#a3c2fe 104.5px,#7a9df8 105.5px,#4f69d9 106.5px,#465ecf 107.5px,#485fd1 140.5px,#536edd 153.5px,#5673e0 154.5px,#7da0f9 156.5px,#93b5fe 157.5px,#9ebeff 158.5px,#9fbfff 205.5px)"></i><i style="background:linear-gradient(90deg,#f6f6fa 0.5px,#f6f6fa 6.5px,#9ebeff 7.5px,#a7c5fe 30.5px,#9fbfff 46.5px,#88abfd 56.5px,#84a7fc 64.5px,#afcafc 65.5px,#afcafc 104.5px,#93b5fe 105.5px,#5f7fe8 106.5px,#465ecf 107.5px,#485fd1 141.5px,#5470de 154.5px,#6282ea 155.5px,#799cf8 156.5px,#90b2fe 157.5px,#a1c0ff 158.5px,#a5c3fe 161.5px,#a5c3fe 205.5px)"></i><i style="background:linear-gradient(90deg,#f6f6fa 0.5px,#f6f6fa 6.5px,#97b8ff 7.5px,#a1c0ff 30.5px,#9abbff 45.5px,#80a3fa 56.5px,#7da0f9 64.5px,#a9c6fd 65.5px,#a9c6fd 104.5px,#9ebeff 105.5px,#7093f3 106.5px,#4a63d3 107.5px,#465ecf 109.5px,#485fd1 141.5px,#536edd 154.5px,#5a78e4 155.5px,#84a7fc 157.5px,#96b7ff 158.5px,#9dbdff 159.5px,#9dbdff 205.5px)"></i><i style="background:linear-gradient(90deg,#f6f6fa 0.5px,#f6f6fa 6.5px,#90b2fe 7.5px,#9abbff 30.5px,#93b5fe 45.5px,#799cf8 56.5px,#7699f6 64.5px,#a2c1ff 65.5px,#a2c1ff 105.5px,#81a4fb 106.5px,#5572df 107.5px,#465ecf 108.5px,#485fd1 142.5px,#536edd 154.5px,#5673e0 155.5px,#779af7 157.5px,#8badfd 158.5px,#94b6ff 159.5px,#96b7ff 205.5px)"></i><i style="background:linear-gradient(90deg,#f6f6fa 0.5px,#f6f6fa 6.5px,#8caffe 7.5px,#96b7ff 27.5px,#8fb1fe 45.5px,#7597f6 56.5px,#7295f4 64.5px,#9fbfff 65.5px,#9fbfff 105.5px,#8fb1fe 106.5px,#6384eb 107.5px,#465ecf 108.5px,#465ecf 140.5px,#5470de 155.5px,#5e7de7 156.5px,#81a4fb 158.5px,#8db0fe 159.5px,#90b2fe 205.5px)"></i><i style="background:linear-gradient(90deg,#f6f6fa 0.5px,#f6f6fa 6.5px,#85a8fc 7.5px,#8fb1fe 28.5px,#88abfd 45.5px,#6e90f2 56.5px,#6c8ff1 64.5px,#98b9ff 65.5px,#98b9ff 105.5px,#94b6ff 106.5px,#7295f4 107.5px,#4e68d8 108.5px,#455cce 109.5px,#485fd1 142.5px,#536edd 155.5px,#5977e3 156.5px,#7699f6 158.5px,#84a7fc 159.5px,#89acfd 161.5px,#89acfd 205.5px)"></i><i style="background:linear-gradient(90deg,#f6f6fa 0.5px,#f6f6fa 6.5px,#89acfd 7.5px,#92b4fe 30.5px,#8badfd 45.5px,#7295f4 56.5px,#6f92f3 64.5px,#9dbdff 65.5px,#9dbdff 106.5px,#85a8fc 107.5px,#5a78e4 108.5px,#455cce 109.5px,#465ecf 141.5px,#5572df 156.5px,#7396f5 158.5px,#82a6fb 159.5px,#8badfd 160.5px,#8caffe 205.5px)"></i><i style="background:linear-gradient(90deg,#f6f6fa 0.5px,#f6f6fa 6.5px,#93b5fe 7.5px,#9bbcff 27.5px,#94b6ff 45.5px,#7b9ff9 56.5px,#799cf8 64.5px,#a7c5fe 65.5px,#a7c5fe 106.5px,#9dbdff 107.5px,#6f92f3 108.5px,#4a63d3 109.5px,#455cce 110.5px,#465ecf 141.5px,#5470de 156.5px,#5f7fe8 157.5px,#85a8fc 159.5px,#93b5fe 160.5px,#96b7ff 205.5px)"></i><i style="background:linear-gradient(90deg,#f6f6fa 0.5px,#f6f6fa 6.5px,#97b8ff 7.5px,#9fbfff 30.5px,#98b9ff 45.5px,#80a3fa 55.5px,#7da0f9 64.5px,#abc8fd 65.5px,#aac7fd 107.5px,#86a9fc 108.5px,#5572df 109.5px,#455cce 110.5px,#465ecf 142.5px,#536edd 156.5px,#5a78e4 157.5px,#81a4fb 159.5px,#92b4fe 160.5px,#98b9ff 161.5px,#98b9ff 205.5px)"></i><i style="background:linear-gradient(90deg,#f6f6fa 0.5px,#f6f6fa 6.5px,#94b6ff 7.5px,#9dbdff 27.5px,#96b7ff 45.5px,#7da0f9 56.5px,#7a9df8 64.5px,#a9c6fd 65.5px,#a9c6fd 107.5px,#97b8ff 108.5px,#6687ed 109.5px,#465ecf 110.5px,#465ecf 142.5px,#516ddb 156.5px,#5673e0 157.5px,#779af7 159.5px,#8badfd 160.5px,#94b6ff 161.5px,#94b6ff 205.5px)"></i><i style="background:linear-gradient(90deg,#f6f6fa 0.5px,#f6f6fa 6.5px,#8badfd 7.5px,#92b4fe 28.5px,#8badfd 45.5px,#7295f4 56.5px,#6f92f3 64.5px,#9fbfff 65.5px,#9fbfff 107.5px,#9bbcff 108.5px,#7597f6 109.5px,#4e68d8 110.5px,#455cce 111.5px,#465ecf 143.5px,#5470de 157.5px,#5d7ce6 158.5px,#7b9ff9 160.5px,#86a9fc 161.5px,#89acfd 205.5px)"></i><i style="background:linear-gradient(90deg,#f6f6fa 0.5px,#f6f6fa 6.5px,#80a3fa 7.5px,#86a9fc 28.5px,#80a3fa 45.5px,#6788ee 56.5px,#6687ed 64.5px,#94b6ff 65.5px,#94b6ff 108.5px,#80a3fa 109.5px,#5977e3 110.5px,#455cce 111.5px,#465ecf 143.5px,#536edd 157.5px,#5875e1 158.5px,#7a9df8 161.5px,#7da0f9 205.5px)"></i><i style="background:linear-gradient(90deg,#f6f6fa 0.5px,#f6f6fa 6.5px,#82a6fb 7.5px,#89acfd 29.5px,#81a4fb 45.5px,#688aef 56.5px,#6788ee 64.5px,#97b8ff 65.5px,#97b8ff 108.5px,#8fb1fe 109.5px,#688aef 110.5px,#4961d2 111.5px,#455cce 113.5px,#465ecf 143.5px,#516ddb 157.5px,#5572df 158.5px,#779af7 161.5px,#7ea1fa 162.5px,#7ea1fa 205.5px)"></i><i style="background:linear-gradient(90deg,#f6f6fa 0.5px,#f6f6fa 6.5px,#82a6fb 7.5px,#89acfd 28.5px,#82a6fb 45.5px,#6a8bef 56.5px,#6788ee 64.5px,#98b9ff 65.5px,#97b8ff 109.5px,#7a9df8 110.5px,#536edd 111.5px,#455cce 112.5px,#465ecf 144.5px,#536edd 158.5px,#7597f6 161.5px,#7da0f9 162.5px,#7ea1fa 205.5px)"></i><i style="background:linear-gradient(90deg,#f6f6fa 0.5px,#f6f6fa 6.5px,#85a8fc 7.5px,#8caffe 29.5px,#84a7fc 45.5px,#6b8df0 56.5px,#6a8bef 64.5px,#9bbcff 65.5px,#9bbcff 109.5px,#8badfd 110.5px,#6180e9 111.5px,#465ecf 112.5px,#465ecf 144.5px,#536edd 158.5px,#5875e1 159.5px,#7b9ff9 162.5px,#80a3fa 165.5px,#80a3fa 205.5px)"></i><i style="background:linear-gradient(90deg,#f6f6fa 0.5px,#f6f6fa 6.5px,#90b2fe 7.5px,#96b7ff 28.5px,#8fb1fe 45.5px,#7699f6 56.5px,#7597f6 64.5px,#a6c4fe 65.5px,#a6c4fe 109.5px,#a1c0ff 110.5px,#799cf8 111.5px,#4e68d8 112.5px,#455cce 113.5px,#465ecf 145.5px,#516ddb 158.5px,#5572df 159.5px,#81a4fb 162.5px,#89acfd 163.5px,#8badfd 205.5px)"></i><i style="background:linear-gradient(90deg,#f6f6fa 0.5px,#f6f6fa 6.5px,#93b5fe 7.5px,#98b9ff 30.5px,#92b4fe 45.5px,#799cf8 55.5px,#779af7 64.5px,#a3c2fe 65.5px,#a3c2fe 110.5px,#89acfd 111.5px,#5b7ae5 112.5px,#455cce 113.5px,#465ecf 145.5px,#5470de 159.5px,#6e90f2 161.5px,#8badfd 163.5px,#8caffe 205.5px)"></i><i style="background:linear-gradient(90deg,#f6f6fa 0.5px,#f6f6fa 6.5px,#88abfd 7.5px,#8fb1fe 28.5px,#85a8fc 46.5px,#6e90f2 56.5px,#6c8ff1 64.5px,#9abbff 65.5px,#9abbff 110.5px,#92b4fe 111.5px,#6a8bef 112.5px,#4a63d3 113.5px,#455cce 114.5px,#465ecf 145.5px,#516ddb 159.5px,#5875e1 160.5px,#7ea1fa 163.5px,#81a4fb 205.5px)"></i><i style="background:linear-gradient(90deg,#f6f6fa 0.5px,#f6f6fa 6.5px,#81a4fb 7.5px,#86a9fc 31.5px,#7da0f9 46.5px,#6687ed 56.5px,#6485ec 64.5px,#92b4fe 65.5px,#92b4fe 111.5px,#7ea1fa 112.5px,#5977e3 113.5px,#455cce 114.5px,#465ecf 146.5px,#516ddb 159.5px,#5572df 160.5px,#7597f6 163.5px,#799cf8 166.5px,#799cf8 205.5px)"></i><i style="background:linear-gradient(90deg,#f6f6fa 0.5px,#f6f6fa 6.5px,#81a4fb 7.5px,#88abfd 28.5px,#80a3fa 45.5px,#6788ee 56.5px,#6687ed 64.5px,#93b5fe 65.5px,#93b5fe 111.5px,#8fb1fe 112.5px,#6f92f3 113.5px,#4c66d6 114.5px,#455cce 115.5px,#465ecf 146.5px,#5470de 160.5px,#7295f4 163.5px,#7a9df8 165.5px,#7a9df8 205.5px)"></i><i style="background:linear-gradient(90deg,#f6f6fa 0.5px,#f6f6fa 6.5px,#89acfd 7.5px,#8fb1fe 30.5px,#86a9fc 45.5px,#6e90f2 56.5px,#6c8ff1 64.5px,#9bbcff 65.5px,#9bbcff 112.5px,#8badfd 113.5px,#6282ea 114.5px,#465ecf 115.5px,#465ecf 147.5px,#536edd 160.5px,#5a78e4 161.5px,#7597f6 163.5px,#7ea1fa 164.5px,#81a4fb 205.5px)"></i><i style="background:linear-gradient(90deg,#f6f6fa 0.5px,#f6f6fa 6.5px,#93b5fe 7.5px,#98b9ff 29.5px,#90b2fe 45.5px,#779af7 56.5px,#7699f6 64.5px,#a5c3fe 65.5px,#a3c2fe 113.5px,#81a4fb 114.5px,#5470de 115.5px,#455cce 116.5px,#465ecf 147.5px,#516ddb 160.5px,#5977e3 161.5px,#779af7 163.5px,#85a8fc 164.5px,#8badfd 166.5px,#8badfd 205.5px)"></i><i style="background:linear-gradient(90deg,#f6f6fa 0.5px,#f6f6fa 6.5px,#96b7ff 7.5px,#9bbcff 29.5px,#93b5fe 45.5px,#7a9df8 56.5px,#799cf8 64.5px,#a7c5fe 65.5px,#a7c5fe 113.5px,#9dbdff 114.5px,#6f92f3 115.5px,#4961d2 116.5px,#455cce 118.5px,#465ecf 147.5px,#516ddb 160.5px,#5673e0 161.5px,#85a8fc 164.5px,#8db0fe 165.5px,#8db0fe 205.5px)"></i><i style="background:linear-gradient(90deg,#f6f6fa 0.5px,#f6f6fa 6.5px,#93b5fe 7.5px,#98b9ff 30.5px,#90b2fe 45.5px,#779af7 56.5px,#7699f6 64.5px,#a5c3fe 65.5px,#a5c3fe 114.5px,#8badfd 115.5px,#5b7ae5 116.5px,#455cce 117.5px,#465ecf 148.5px,#5470de 161.5px,#6f92f3 163.5px,#80a3fa 164.5px,#89acfd 165.5px,#8badfd 205.5px)"></i><i style="background:linear-gradient(90deg,#f6f6fa 0.5px,#f6f6fa 6.5px,#8fb1fe 7.5px,#93b5fe 28.5px,#8badfd 45.5px,#7396f5 55.5px,#7295f4 64.5px,#a1c0ff 65.5px,#a1c0ff 114.5px,#9bbcff 115.5px,#7597f6 116.5px,#4c66d6 117.5px,#455cce 118.5px,#465ecf 148.5px,#536edd 161.5px,#5a78e4 162.5px,#799cf8 164.5px,#84a7fc 165.5px,#86a9fc 205.5px)"></i><i style="background:linear-gradient(90deg,#f6f6fa 0.5px,#f6f6fa 6.5px,#84a7fc 7.5px,#89acfd 28.5px,#81a4fb 45.5px,#688aef 56.5px,#6788ee 64.5px,#97b8ff 65.5px,#97b8ff 115.5px,#86a9fc 116.5px,#5e7de7 117.5px,#455cce 118.5px,#465ecf 149.5px,#516ddb 161.5px,#5673e0 162.5px,#799cf8 165.5px,#7da0f9 168.5px,#7da0f9 205.5px)"></i><i style="background:linear-gradient(90deg,#f6f6fa 0.5px,#f6f6fa 6.5px,#80a3fa 7.5px,#85a8fc 28.5px,#7a9df8 46.5px,#6485ec 55.5px,#6384eb 64.5px,#93b5fe 65.5px,#90b2fe 116.5px,#7597f6 117.5px,#506bda 118.5px,#455cce 119.5px,#465ecf 149.5px,#5470de 162.5px,#7295f4 165.5px,#779af7 167.5px,#779af7 205.5px)"></i><i style="background:linear-gradient(90deg,#f6f6fa 0.5px,#f6f6fa 6.5px,#86a9fc 7.5px,#8caffe 29.5px,#81a4fb 46.5px,#6b8df0 56.5px,#6a8bef 64.5px,#9abbff 65.5px,#9abbff 116.5px,#8fb1fe 117.5px,#6788ee 118.5px,#485fd1 119.5px,#455cce 127.5px,#485fd1 151.5px,#536edd 162.5px,#7699f6 165.5px,#7ea1fa 166.5px,#80a3fa 205.5px)"></i><i style="background:linear-gradient(90deg,#f6f6fa 0.5px,#f6f6fa 6.5px,#8db0fe 7.5px,#93b5fe 28.5px,#88abfd 46.5px,#7295f4 55.5px,#7093f3 64.5px,#a1c0ff 65.5px,#a1c0ff 117.5px,#85a8fc 118.5px,#5977e3 119.5px,#455cce 120.5px,#465ecf 150.5px,#516ddb 162.5px,#688aef 164.5px,#82a6fb 166.5px,#86a9fc 169.5px,#86a9fc 205.5px)"></i><i style="background:linear-gradient(90deg,#f6f6fa 0.5px,#f6f6fa 6.5px,#8caffe 7.5px,#92b4fe 26.5px,#89acfd 45.5px,#7093f3 56.5px,#6f92f3 64.5px,#9fbfff 65.5px,#9fbfff 117.5px,#9abbff 118.5px,#7295f4 119.5px,#4b64d5 120.5px,#455cce 121.5px,#465ecf 150.5px,#516ddb 162.5px,#5875e1 163.5px,#80a3fa 166.5px,#85a8fc 168.5px,#85a8fc 205.5px)"></i><i style="background:linear-gradient(90deg,#f6f6fa 0.5px,#f6f6fa 6.5px,#8badfd 7.5px,#8fb1fe 28.5px,#86a9fc 45.5px,#6e90f2 56.5px,#6e90f2 64.5px,#9ebeff 65.5px,#9ebeff 118.5px,#8badfd 119.5px,#5f7fe8 120.5px,#455cce 121.5px,#465ecf 151.5px,#516ddb 162.5px,#5572df 163.5px,#7b9ff9 166.5px,#84a7fc 168.5px,#84a7fc 205.5px)"></i><i style="background:linear-gradient(90deg,#f6f6fa 0.5px,#f6f6fa 6.5px,#82a6fb 7.5px,#88abfd 26.5px,#7ea1fa 45.5px,#6788ee 56.5px,#6687ed 64.5px,#97b8ff 65.5px,#94b6ff 119.5px,#7597f6 120.5px,#506bda 121.5px,#455cce 122.5px,#465ecf 151.5px,#536edd 163.5px,#6687ed 165.5px,#7396f5 166.5px,#7b9ff9 167.5px,#7b9ff9 205.5px)"></i><i style="background:linear-gradient(90deg,#f6f6fa 0.5px,#f6f6fa 6.5px,#7b9ff9 7.5px,#81a4fb 27.5px,#779af7 45.5px,#5f7fe8 56.5px,#5f7fe8 64.5px,#8fb1fe 65.5px,#8fb1fe 119.5px,#84a7fc 120.5px,#6180e9 121.5px,#465ecf 122.5px,#465ecf 151.5px,#516ddb 163.5px,#5673e0 164.5px,#7295f4 167.5px,#7597f6 205.5px)"></i><i style="background:linear-gradient(90deg,#f6f6fa 0.5px,#f6f6fa 6.5px,#81a4fb 7.5px,#85a8fc 30.5px,#7a9df8 46.5px,#6485ec 56.5px,#6384eb 64.5px,#94b6ff 65.5px,#94b6ff 120.5px,#7a9df8 121.5px,#5572df 122.5px,#455cce 123.5px,#465ecf 152.5px,#516ddb 163.5px,#5572df 164.5px,#7597f6 167.5px,#7a9df8 169.5px,#7a9df8 205.5px)"></i><i style="background:linear-gradient(90deg,#f6f6fa 0.5px,#f6f6fa 6.5px,#84a7fc 7.5px,#89acfd 28.5px,#80a3fa 45.5px,#688aef 55.5px,#6788ee 64.5px,#98b9ff 65.5px,#98b9ff 120.5px,#92b4fe 121.5px,#6c8ff1 122.5px,#4a63d3 123.5px,#455cce 124.5px,#465ecf 152.5px,#5470de 164.5px,#7699f6 167.5px,#7ea1fa 169.5px,#7ea1fa 205.5px)"></i><i style="background:linear-gradient(90deg,#f6f6fa 0.5px,#f6f6fa 6.5px,#84a7fc 7.5px,#89acfd 28.5px,#80a3fa 45.5px,#6788ee 56.5px,#6788ee 64.5px,#98b9ff 65.5px,#98b9ff 121.5px,#84a7fc 122.5px,#5b7ae5 123.5px,#455cce 124.5px,#465ecf 153.5px,#536edd 164.5px,#6687ed 166.5px,#7396f5 167.5px,#7b9ff9 168.5px,#7da0f9 205.5px)"></i><i style="background:linear-gradient(90deg,#f6f6fa 0.5px,#f6f6fa 6.5px,#88abfd 7.5px,#8db0fe 28.5px,#82a6fb 46.5px,#6c8ff1 55.5px,#6b8df0 64.5px,#9dbdff 65.5px,#9abbff 122.5px,#7699f6 123.5px,#4f69d9 124.5px,#455cce 125.5px,#465ecf 153.5px,#516ddb 164.5px,#5875e1 165.5px,#7396f5 167.5px,#7ea1fa 168.5px,#82a6fb 171.5px,#82a6fb 205.5px)"></i><i style="background:linear-gradient(90deg,#f6f6fa 0.5px,#f6f6fa 6.5px,#8badfd 7.5px,#90b2fe 27.5px,#86a9fc 45.5px,#6e90f2 56.5px,#6e90f2 64.5px,#9ebeff 65.5px,#9ebeff 122.5px,#90b2fe 123.5px,#6687ed 124.5px,#465ecf 125.5px,#465ecf 153.5px,#516ddb 164.5px,#5673e0 165.5px,#7ea1fa 168.5px,#84a7fc 170.5px,#84a7fc 205.5px)"></i><i style="background:linear-gradient(90deg,#f6f6fa 0.5px,#f6f6fa 6.5px,#85a8fc 7.5px,#8badfd 28.5px,#81a4fb 45.5px,#688aef 56.5px,#688aef 64.5px,#9abbff 65.5px,#98b9ff 123.5px,#7da0f9 124.5px,#5572df 125.5px,#455cce 126.5px,#465ecf 154.5px,#5470de 165.5px,#779af7 168.5px,#7ea1fa 169.5px,#7ea1fa 205.5px)"></i><i style="background:linear-gradient(90deg,#f6f6fa 0.5px,#f6f6fa 6.5px,#7a9df8 7.5px,#80a3fa 28.5px,#7699f6 45.5px,#5f7fe8 55.5px,#5e7de7 64.5px,#8fb1fe 65.5px,#8fb1fe 123.5px,#8badfd 124.5px,#6a8bef 125.5px,#4b64d5 126.5px,#455cce 127.5px,#465ecf 154.5px,#536edd 165.5px,#7396f5 169.5px,#7597f6 205.5px)"></i><i style="background:linear-gradient(90deg,#f6f6fa 0.5px,#f6f6fa 6.5px,#7b9ff9 7.5px,#80a3fa 29.5px,#7597f6 46.5px,#5f7fe8 55.5px,#5e7de7 64.5px,#8fb1fe 65.5px,#8fb1fe 124.5px,#82a6fb 125.5px,#5f7fe8 126.5px,#465ecf 127.5px,#465ecf 155.5px,#516ddb 165.5px,#7396f5 169.5px,#7597f6 205.5px)"></i><i style="background:linear-gradient(90deg,#f6f6fa 0.5px,#f6f6fa 6.5px,#88abfd 7.5px,#8caffe 29.5px,#81a4fb 46.5px,#6b8df0 55.5px,#6a8bef 64.5px,#9bbcff 65.5px,#9bbcff 125.5px,#81a4fb 126.5px,#5875e1 127.5px,#455cce 128.5px,#465ecf 155.5px,#516ddb 165.5px,#5875e1 166.5px,#7da0f9 169.5px,#81a4fb 172.5px,#81a4fb 205.5px)"></i><i style="background:linear-gradient(90deg,#f6f6fa 0.5px,#f6f6fa 6.5px,#8badfd 7.5px,#90b2fe 28.5px,#86a9fc 45.5px,#6e90f2 56.5px,#6e90f2 64.5px,#9fbfff 65.5px,#9fbfff 125.5px,#9bbcff 126.5px,#7699f6 127.5px,#4e68d8 128.5px,#455cce 129.5px,#465ecf 155.5px,#516ddb 165.5px,#5673e0 166.5px,#80a3fa 169.5px,#85a8fc 171.5px,#85a8fc 205.5px)"></i><i style="background:linear-gradient(90deg,#f6f6fa 0.5px,#f6f6fa 6.5px,#85a8fc 7.5px,#8badfd 28.5px,#81a4fb 45.5px,#688aef 56.5px,#688aef 64.5px,#9abbff 65.5px,#9abbff 126.5px,#8db0fe 127.5px,#6485ec 128.5px,#465ecf 129.5px,#465ecf 156.5px,#506bda 165.5px,#5572df 166.5px,#799cf8 169.5px,#80a3fa 170.5px,#80a3fa 205.5px)"></i><i style="background:linear-gradient(90deg,#f6f6fa 0.5px,#f6f6fa 6.5px,#86a9fc 7.5px,#8caffe 28.5px,#82a6fb 45.5px,#6a8bef 56.5px,#6a8bef 64.5px,#9bbcff 65.5px,#9bbcff 127.5px,#84a7fc 128.5px,#5977e3 129.5px,#445acc 130.5px,#465ecf 156.5px,#506bda 165.5px,#5470de 166.5px,#799cf8 169.5px,#81a4fb 171.5px,#81a4fb 205.5px)"></i><i style="background:linear-gradient(90deg,#f6f6fa 0.5px,#f6f6fa 6.5px,#88abfd 7.5px,#8caffe 29.5px,#81a4fb 46.5px,#6b8df0 55.5px,#6a8bef 64.5px,#9bbcff 65.5px,#98b9ff 128.5px,#7699f6 129.5px,#4f69d9 130.5px,#445acc 131.5px,#465ecf 156.5px,#536edd 166.5px,#7699f6 169.5px,#80a3fa 170.5px,#81a4fb 205.5px)"></i><i style="background:linear-gradient(90deg,#f6f6fa 0.5px,#f6f6fa 6.5px,#85a8fc 7.5px,#89acfd 29.5px,#7ea1fa 46.5px,#688aef 55.5px,#6788ee 64.5px,#98b9ff 65.5px,#98b9ff 128.5px,#8fb1fe 129.5px,#6788ee 130.5px,#485fd1 131.5px,#445acc 133.5px,#465ecf 157.5px,#516ddb 166.5px,#5977e3 167.5px,#7295f4 169.5px,#7b9ff9 170.5px,#7ea1fa 205.5px)"></i><i style="background:linear-gradient(90deg,#f6f6fa 0.5px,#f6f6fa 6.5px,#84a7fc 7.5px,#89acfd 28.5px,#80a3fa 45.5px,#6788ee 56.5px,#6788ee 64.5px,#98b9ff 65.5px,#98b9ff 129.5px,#84a7fc 130.5px,#5a78e4 131.5px,#445acc 132.5px,#455cce 156.5px,#516ddb 166.5px,#5875e1 167.5px,#7093f3 169.5px,#7a9df8 170.5px,#7ea1fa 173.5px,#7ea1fa 205.5px)"></i><i style="background:linear-gradient(90deg,#f6f6fa 0.5px,#f6f6fa 6.5px,#84a7fc 7.5px,#88abfd 29.5px,#7ea1fa 45.5px,#6788ee 55.5px,#6687ed 64.5px,#97b8ff 65.5px,#96b7ff 130.5px,#7699f6 131.5px,#506bda 132.5px,#445acc 133.5px,#465ecf 157.5px,#506bda 166.5px,#5572df 167.5px,#799cf8 170.5px,#7da0f9 173.5px,#7da0f9 205.5px)"></i><i style="background:linear-gradient(90deg,#f6f6fa 0.5px,#f6f6fa 6.5px,#86a9fc 7.5px,#8badfd 28.5px,#80a3fa 46.5px,#6a8bef 55.5px,#688aef 64.5px,#9abbff 65.5px,#9abbff 130.5px,#92b4fe 131.5px,#6a8bef 132.5px,#4961d2 133.5px,#445acc 134.5px,#465ecf 158.5px,#5470de 167.5px,#799cf8 170.5px,#80a3fa 171.5px,#80a3fa 205.5px)"></i><i style="background:linear-gradient(90deg,#f6f6fa 0.5px,#f6f6fa 6.5px,#8caffe 7.5px,#92b4fe 28.5px,#88abfd 45.5px,#6f92f3 56.5px,#6f92f3 64.5px,#a1c0ff 65.5px,#a1c0ff 131.5px,#8caffe 132.5px,#5f7fe8 133.5px,#455cce 134.5px,#455cce 157.5px,#5470de 167.5px,#7da0f9 170.5px,#85a8fc 171.5px,#86a9fc 205.5px)"></i><i style="background:linear-gradient(90deg,#f6f6fa 0.5px,#f6f6fa 6.5px,#90b2fe 7.5px,#96b7ff 27.5px,#89acfd 46.5px,#7396f5 56.5px,#7396f5 64.5px,#a5c3fe 65.5px,#a3c2fe 132.5px,#81a4fb 133.5px,#5470de 134.5px,#445acc 135.5px,#465ecf 158.5px,#536edd 167.5px,#5d7ce6 168.5px,#7ea1fa 170.5px,#88abfd 171.5px,#89acfd 205.5px)"></i><i style="background:linear-gradient(90deg,#f6f6fa 0.5px,#f6f6fa 6.5px,#8badfd 7.5px,#8fb1fe 28.5px,#84a7fc 46.5px,#6e90f2 55.5px,#6c8ff1 64.5px,#9ebeff 65.5px,#9ebeff 132.5px,#97b8ff 133.5px,#6f92f3 134.5px,#4961d2 135.5px,#445acc 136.5px,#465ecf 159.5px,#516ddb 167.5px,#6788ee 169.5px,#779af7 170.5px,#81a4fb 171.5px,#84a7fc 205.5px)"></i><i style="background:linear-gradient(90deg,#f6f6fa 0.5px,#f6f6fa 6.5px,#7ea1fa 7.5px,#84a7fc 26.5px,#799cf8 45.5px,#6282ea 55.5px,#6180e9 64.5px,#92b4fe 65.5px,#92b4fe 133.5px,#84a7fc 134.5px,#5572df 135.5px,#455cce 136.5px,#455cce 158.5px,#506bda 167.5px,#6180e9 169.5px,#7597f6 171.5px,#779af7 205.5px)"></i><i style="background:linear-gradient(90deg,#f6f6fa 0.5px,#f6f6fa 6.5px,#7da0f9 7.5px,#82a6fb 27.5px,#779af7 45.5px,#6282ea 55.5px,#5f7fe8 64.5px,#92b4fe 65.5px,#90b2fe 134.5px,#6687ed 135.5px,#4e68d8 136.5px,#445acc 137.5px,#455cce 158.5px,#506bda 167.5px,#5e7de7 169.5px,#7396f5 171.5px,#7699f6 205.5px)"></i><i style="background:linear-gradient(90deg,#f6f6fa 0.5px,#f6f6fa 6.5px,#89acfd 7.5px,#8db0fe 28.5px,#82a6fb 46.5px,#6c8ff1 55.5px,#6b8df0 64.5px,#9dbdff 65.5px,#9dbdff 134.5px,#7ea1fa 135.5px,#6384eb 136.5px,#4961d2 137.5px,#445acc 138.5px,#465ecf 160.5px,#5470de 168.5px,#6f92f3 170.5px,#7b9ff9 171.5px,#82a6fb 172.5px,#82a6fb 205.5px)"></i><i style="background:linear-gradient(90deg,#f6f6fa 0.5px,#f6f6fa 6.5px,#92b4fe 7.5px,#97b8ff 26.5px,#8caffe 45.5px,#7597f6 55.5px,#7396f5 64.5px,#a5c3fe 65.5px,#a5c3fe 134.5px,#8badfd 135.5px,#80a3fa 136.5px,#5d7ce6 137.5px,#455cce 138.5px,#455cce 159.5px,#5470de 168.5px,#7093f3 170.5px,#81a4fb 171.5px,#8badfd 172.5px,#8badfd 205.5px)"></i><i style="background:linear-gradient(90deg,#f6f6fa 0.5px,#f6f6fa 6.5px,#94b6ff 7.5px,#9abbff 26.5px,#8fb1fe 45.5px,#779af7 55.5px,#7699f6 64.5px,#a7c5fe 65.5px,#a7c5fe 134.5px,#8db0fe 135.5px,#8db0fe 136.5px,#779af7 137.5px,#5470de 138.5px,#445acc 139.5px,#455cce 159.5px,#536edd 168.5px,#6f92f3 170.5px,#81a4fb 171.5px,#8caffe 172.5px,#8db0fe 205.5px)"></i><i style="background:linear-gradient(90deg,#f6f6fa 0.5px,#f6f6fa 6.5px,#94b6ff 7.5px,#98b9ff 29.5px,#8fb1fe 45.5px,#7699f6 56.5px,#7699f6 64.5px,#a7c5fe 65.5px,#a7c5fe 134.5px,#8db0fe 135.5px,#89acfd 137.5px,#6b8df0 138.5px,#4b64d5 139.5px,#445acc 140.5px,#465ecf 161.5px,#516ddb 168.5px,#5b7ae5 169.5px,#7ea1fa 171.5px,#8badfd 172.5px,#8db0fe 205.5px)"></i><i style="background:linear-gradient(90deg,#f6f6fa 0.5px,#f6f6fa 6.5px,#8badfd 7.5px,#90b2fe 27.5px,#84a7fc 46.5px,#6e90f2 56.5px,#6e90f2 64.5px,#9fbfff 65.5px,#9fbfff 134.5px,#84a7fc 135.5px,#84a7fc 137.5px,#7b9ff9 138.5px,#5d7ce6 139.5px,#465ecf 140.5px,#445acc 148.5px,#465ecf 161.5px,#506bda 168.5px,#5875e1 169.5px,#7597f6 171.5px,#81a4fb 172.5px,#84a7fc 205.5px)"></i><i style="background:linear-gradient(90deg,#f6f6fa 0.5px,#f6f6fa 6.5px,#80a3fa 7.5px,#85a8fc 26.5px,#7a9df8 45.5px,#6384eb 55.5px,#6282ea 64.5px,#94b6ff 65.5px,#94b6ff 134.5px,#799cf8 135.5px,#799cf8 138.5px,#6a8bef 139.5px,#506bda 140.5px,#445acc 141.5px,#455cce 160.5px,#506bda 168.5px,#5e7de7 170.5px,#7597f6 172.5px,#799cf8 175.5px,#799cf8 205.5px)"></i><i style="background:linear-gradient(90deg,#f6f6fa 0.5px,#f6f6fa 6.5px,#7b9ff9 7.5px,#80a3fa 29.5px,#7699f6 45.5px,#5f7fe8 55.5px,#5e7de7 64.5px,#8fb1fe 65.5px,#8fb1fe 134.5px,#7597f6 135.5px,#7295f4 139.5px,#5e7de7 140.5px,#4961d2 141.5px,#445acc 142.5px,#465ecf 162.5px,#536edd 169.5px,#6f92f3 172.5px,#7597f6 174.5px,#7597f6 205.5px)"></i><i style="background:linear-gradient(90deg,#f6f6fa 0.5px,#f6f6fa 6.5px,#82a6fb 7.5px,#86a9fc 29.5px,#7da0f9 45.5px,#6687ed 55.5px,#6485ec 64.5px,#96b7ff 65.5px,#96b7ff 134.5px,#7b9ff9 135.5px,#7b9ff9 139.5px,#7295f4 140.5px,#5875e1 141.5px,#455cce 142.5px,#455cce 161.5px,#516ddb 169.5px,#7295f4 172.5px,#7a9df8 173.5px,#7b9ff9 205.5px)"></i><i style="background:linear-gradient(90deg,#f6f6fa 0.5px,#f6f6fa 6.5px,#8badfd 7.5px,#8fb1fe 29.5px,#84a7fc 46.5px,#6e90f2 55.5px,#6c8ff1 64.5px,#9ebeff 65.5px,#9ebeff 134.5px,#84a7fc 135.5px,#84a7fc 140.5px,#6e90f2 141.5px,#506bda 142.5px,#445acc 143.5px,#465ecf 162.5px,#506bda 169.5px,#6788ee 171.5px,#81a4fb 173.5px,#84a7fc 205.5px)"></i><i style="background:linear-gradient(90deg,#f6f6fa 0.5px,#f6f6fa 6.5px,#89acfd 7.5px,#8db0fe 29.5px,#84a7fc 45.5px,#6c8ff1 55.5px,#6b8df0 64.5px,#9dbdff 65.5px,#9dbdff 134.5px,#82a6fb 135.5px,#82a6fb 140.5px,#7da0f9 141.5px,#6282ea 142.5px,#4961d2 143.5px,#445acc 144.5px,#465ecf 162.5px,#506bda 169.5px,#5673e0 170.5px,#7ea1fa 173.5px,#82a6fb 176.5px,#82a6fb 205.5px)"></i><i style="background:linear-gradient(90deg,#f6f6fa 0.5px,#f6f6fa 6.5px,#86a9fc 7.5px,#8caffe 27.5px,#80a3fa 46.5px,#6b8df0 55.5px,#6a8bef 64.5px,#9bbcff 65.5px,#9bbcff 134.5px,#80a3fa 135.5px,#80a3fa 141.5px,#7396f5 142.5px,#5673e0 143.5px,#455cce 144.5px,#465ecf 163.5px,#5470de 170.5px,#799cf8 173.5px,#80a3fa 174.5px,#80a3fa 205.5px)"></i><i style="background:linear-gradient(90deg,#f6f6fa 0.5px,#f6f6fa 6.5px,#86a9fc 7.5px,#8badfd 29.5px,#80a3fa 46.5px,#6a8bef 55.5px,#688aef 64.5px,#9abbff 65.5px,#9abbff 134.5px,#80a3fa 135.5px,#7ea1fa 142.5px,#688aef 143.5px,#4e68d8 144.5px,#455cce 145.5px,#465ecf 163.5px,#536edd 170.5px,#7699f6 173.5px,#7ea1fa 174.5px,#80a3fa 205.5px)"></i><i style="background:linear-gradient(90deg,#f6f6fa 0.5px,#f6f6fa 6.5px,#85a8fc 7.5px,#89acfd 29.5px,#80a3fa 45.5px,#688aef 55.5px,#6788ee 64.5px,#98b9ff 65.5px,#98b9ff 134.5px,#7ea1fa 135.5px,#7ea1fa 142.5px,#779af7 143.5px,#485fd1 145.5px,#455cce 153.5px,#485fd1 164.5px,#516ddb 170.5px,#6485ec 172.5px,#7b9ff9 174.5px,#7ea1fa 205.5px)"></i><i style="background:linear-gradient(90deg,#f6f6fa 0.5px,#f6f6fa 6.5px,#81a4fb 7.5px,#86a9fc 28.5px,#7da0f9 45.5px,#6485ec 56.5px,#6485ec 64.5px,#96b7ff 65.5px,#96b7ff 134.5px,#7b9ff9 135.5px,#7b9ff9 143.5px,#6c8ff1 144.5px,#536edd 145.5px,#455cce 146.5px,#465ecf 164.5px,#506bda 170.5px,#6180e9 172.5px,#779af7 174.5px,#7b9ff9 177.5px,#7b9ff9 205.5px)"></i><i style="background:linear-gradient(90deg,#f6f6fa 0.5px,#f6f6fa 6.5px,#7da0f9 7.5px,#81a4fb 29.5px,#779af7 45.5px,#6180e9 55.5px,#5f7fe8 64.5px,#90b2fe 65.5px,#90b2fe 134.5px,#7699f6 135.5px,#7597f6 144.5px,#6180e9 145.5px,#4b64d5 146.5px,#455cce 147.5px,#465ecf 164.5px,#5470de 171.5px,#7093f3 174.5px,#7699f6 176.5px,#7699f6 205.5px)"></i><i style="background:linear-gradient(90deg,#f6f6fa 0.5px,#f6f6fa 6.5px,#80a3fa 7.5px,#84a7fc 28.5px,#7a9df8 45.5px,#6384eb 55.5px,#6282ea 64.5px,#94b6ff 65.5px,#94b6ff 134.5px,#799cf8 135.5px,#799cf8 144.5px,#7295f4 145.5px,#5977e3 146.5px,#465ecf 147.5px,#465ecf 164.5px,#536edd 171.5px,#799cf8 175.5px,#799cf8 205.5px)"></i><i style="background:linear-gradient(90deg,#f6f6fa 0.5px,#f6f6fa 6.5px,#8caffe 7.5px,#92b4fe 26.5px,#86a9fc 45.5px,#6f92f3 55.5px,#6e90f2 64.5px,#a1c0ff 65.5px,#a1c0ff 134.5px,#85a8fc 135.5px,#85a8fc 145.5px,#7295f4 146.5px,#536edd 147.5px,#455cce 148.5px,#465ecf 165.5px,#516ddb 171.5px,#688aef 173.5px,#82a6fb 175.5px,#85a8fc 205.5px)"></i><i style="background:linear-gradient(90deg,#f6f6fa 0.5px,#f6f6fa 6.5px,#93b5fe 7.5px,#98b9ff 27.5px,#8caffe 46.5px,#7699f6 56.5px,#7699f6 64.5px,#a7c5fe 65.5px,#a7c5fe 134.5px,#8db0fe 135.5px,#8db0fe 145.5px,#89acfd 146.5px,#6a8bef 147.5px,#4b64d5 148.5px,#455cce 149.5px,#465ecf 165.5px,#506bda 171.5px,#5875e1 172.5px,#799cf8 174.5px,#86a9fc 175.5px,#8db0fe 176.5px,#8db0fe 205.5px)"></i><i style="background:linear-gradient(90deg,#f6f6fa 0.5px,#f6f6fa 6.5px,#8fb1fe 7.5px,#93b5fe 29.5px,#89acfd 45.5px,#7295f4 55.5px,#7093f3 64.5px,#a2c1ff 65.5px,#a2c1ff 134.5px,#88abfd 135.5px,#88abfd 146.5px,#7b9ff9 147.5px,#5b7ae5 148.5px,#465ecf 149.5px,#465ecf 165.5px,#5470de 172.5px,#80a3fa 175.5px,#88abfd 176.5px,#88abfd 205.5px)"></i><i style="background:linear-gradient(90deg,#f6f6fa 0.5px,#f6f6fa 6.5px,#85a8fc 7.5px,#89acfd 29.5px,#7ea1fa 46.5px,#688aef 55.5px,#6788ee 64.5px,#98b9ff 65.5px,#98b9ff 134.5px,#7ea1fa 135.5px,#7ea1fa 147.5px,#6b8df0 148.5px,#506bda 149.5px,#455cce 150.5px,#465ecf 166.5px,#536edd 172.5px,#7597f6 175.5px,#7da0f9 176.5px,#7ea1fa 205.5px)"></i><i style="background:linear-gradient(90deg,#f6f6fa 0.5px,#f6f6fa 6.5px,#81a4fb 7.5px,#85a8fc 28.5px,#7b9ff9 45.5px,#6485ec 55.5px,#6384eb 64.5px,#96b7ff 65.5px,#96b7ff 134.5px,#7a9df8 135.5px,#7a9df8 147.5px,#7699f6 148.5px,#5f7fe8 149.5px,#4961d2 150.5px,#455cce 152.5px,#485fd1 167.5px,#516ddb 172.5px,#5875e1 173.5px,#6f92f3 175.5px,#779af7 176.5px,#7a9df8 205.5px)"></i><i style="background:linear-gradient(90deg,#f6f6fa 0.5px,#f6f6fa 6.5px,#84a7fc 7.5px,#89acfd 26.5px,#7ea1fa 45.5px,#6788ee 56.5px,#6788ee 64.5px,#98b9ff 65.5px,#98b9ff 134.5px,#7ea1fa 135.5px,#7ea1fa 148.5px,#7295f4 149.5px,#5673e0 150.5px,#455cce 151.5px,#485fd1 167.5px,#506bda 172.5px,#5572df 173.5px,#799cf8 176.5px,#7ea1fa 178.5px,#7ea1fa 205.5px)"></i><i style="background:linear-gradient(90deg,#f6f6fa 0.5px,#f6f6fa 6.5px,#8badfd 7.5px,#8fb1fe 29.5px,#84a7fc 46.5px,#6e90f2 55.5px,#6c8ff1 64.5px,#9fbfff 65.5px,#9fbfff 134.5px,#84a7fc 135.5px,#82a6fb 149.5px,#6c8ff1 150.5px,#4f69d9 151.5px,#455cce 152.5px,#465ecf 167.5px,#5470de 173.5px,#7b9ff9 176.5px,#84a7fc 177.5px,#84a7fc 205.5px)"></i><i style="background:linear-gradient(90deg,#f6f6fa 0.5px,#f6f6fa 6.5px,#8fb1fe 7.5px,#92b4fe 30.5px,#89acfd 45.5px,#7295f4 55.5px,#7093f3 64.5px,#a2c1ff 65.5px,#a2c1ff 134.5px,#88abfd 135.5px,#88abfd 149.5px,#81a4fb 150.5px,#6282ea 151.5px,#4961d2 152.5px,#455cce 154.5px,#485fd1 168.5px,#536edd 173.5px,#6b8df0 175.5px,#7b9ff9 176.5px,#86a9fc 177.5px,#88abfd 205.5px)"></i><i style="background:linear-gradient(90deg,#f6f6fa 0.5px,#f6f6fa 6.5px,#8badfd 7.5px,#90b2fe 27.5px,#86a9fc 45.5px,#6e90f2 56.5px,#6e90f2 64.5px,#9fbfff 65.5px,#9fbfff 134.5px,#85a8fc 135.5px,#85a8fc 150.5px,#7597f6 151.5px,#5673e0 152.5px,#455cce 153.5px,#485fd1 168.5px,#506bda 173.5px,#6687ed 175.5px,#81a4fb 177.5px,#85a8fc 180.5px,#85a8fc 205.5px)"></i><i style="background:linear-gradient(90deg,#f6f6fa 0.5px,#f6f6fa 6.5px,#86a9fc 7.5px,#8caffe 26.5px,#82a6fb 45.5px,#6a8bef 56.5px,#6a8bef 64.5px,#9bbcff 65.5px,#9bbcff 134.5px,#81a4fb 135.5px,#7ea1fa 151.5px,#6788ee 152.5px,#4c66d6 153.5px,#455cce 154.5px,#465ecf 168.5px,#506bda 173.5px,#5572df 174.5px,#7a9df8 177.5px,#81a4fb 178.5px,#81a4fb 205.5px)"></i><i style="background:linear-gradient(90deg,#f6f6fa 0.5px,#f6f6fa 6.5px,#84a7fc 7.5px,#88abfd 28.5px,#7ea1fa 45.5px,#6788ee 56.5px,#6788ee 64.5px,#98b9ff 65.5px,#98b9ff 134.5px,#7ea1fa 135.5px,#7ea1fa 151.5px,#7295f4 152.5px,#5673e0 153.5px,#465ecf 154.5px,#465ecf 168.5px,#536edd 174.5px,#7597f6 177.5px,#7da0f9 178.5px,#7ea1fa 205.5px)"></i><i style="background:linear-gradient(90deg,#f6f6fa 0.5px,#f6f6fa 6.5px,#84a7fc 7.5px,#88abfd 29.5px,#7da0f9 46.5px,#6788ee 55.5px,#6687ed 64.5px,#98b9ff 65.5px,#98b9ff 134.5px,#7da0f9 135.5px,#7a9df8 152.5px,#6282ea 153.5px,#4a63d3 154.5px,#455cce 155.5px,#485fd1 169.5px,#516ddb 174.5px,#5875e1 175.5px,#7093f3 177.5px,#7a9df8 178.5px,#7da0f9 205.5px)"></i><i style="background:linear-gradient(90deg,#f6f6fa 0.5px,#f6f6fa 6.5px,#8badfd 7.5px,#90b2fe 26.5px,#86a9fc 45.5px,#6e90f2 56.5px,#6e90f2 64.5px,#9fbfff 65.5px,#9fbfff 134.5px,#85a8fc 135.5px,#85a8fc 152.5px,#7396f5 153.5px,#5572df 154.5px,#465ecf 155.5px,#465ecf 169.5px,#506bda 174.5px,#5572df 175.5px,#7ea1fa 178.5px,#85a8fc 179.5px,#85a8fc 205.5px)"></i><i style="background:linear-gradient(90deg,#f6f6fa 0.5px,#f6f6fa 6.5px,#97b8ff 7.5px,#9bbcff 29.5px,#90b2fe 46.5px,#7a9df8 56.5px,#7a9df8 64.5px,#abc8fd 65.5px,#abc8fd 134.5px,#92b4fe 135.5px,#92b4fe 152.5px,#89acfd 153.5px,#6788ee 154.5px,#4a63d3 155.5px,#465ecf 157.5px,#485fd1 170.5px,#536edd 175.5px,#7295f4 177.5px,#84a7fc 178.5px,#8fb1fe 179.5px,#92b4fe 205.5px)"></i><i style="background:linear-gradient(90deg,#f6f6fa 0.5px,#f6f6fa 6.5px,#9bbcff 7.5px,#9fbfff 30.5px,#94b6ff 46.5px,#7ea1fa 56.5px,#7ea1fa 64.5px,#afcafc 65.5px,#afcafc 134.5px,#96b7ff 135.5px,#94b6ff 153.5px,#7a9df8 154.5px,#5470de 155.5px,#465ecf 156.5px,#4961d2 171.5px,#516ddb 175.5px,#5b7ae5 176.5px,#81a4fb 178.5px,#90b2fe 179.5px,#96b7ff 181.5px,#96b7ff 205.5px)"></i><i style="background:linear-gradient(90deg,#f6f6fa 0.5px,#f6f6fa 6.5px,#92b4fe 7.5px,#96b7ff 29.5px,#8badfd 46.5px,#7597f6 56.5px,#7597f6 64.5px,#a6c4fe 65.5px,#a6c4fe 134.5px,#8caffe 135.5px,#8caffe 153.5px,#81a4fb 154.5px,#5f7fe8 155.5px,#485fd1 156.5px,#465ecf 170.5px,#506bda 175.5px,#5673e0 176.5px,#7597f6 178.5px,#84a7fc 179.5px,#8caffe 181.5px,#8caffe 205.5px)"></i><i style="background:linear-gradient(90deg,#f6f6fa 0.5px,#f6f6fa 6.5px,#82a6fb 7.5px,#85a8fc 30.5px,#7b9ff9 46.5px,#6687ed 55.5px,#6485ec 64.5px,#96b7ff 65.5px,#96b7ff 134.5px,#7b9ff9 135.5px,#7a9df8 154.5px,#6687ed 155.5px,#4c66d6 156.5px,#465ecf 157.5px,#485fd1 171.5px,#536edd 176.5px,#7396f5 179.5px,#7b9ff9 181.5px,#7b9ff9 205.5px)"></i><i style="background:linear-gradient(90deg,#f6f6fa 0.5px,#f6f6fa 6.5px,#7b9ff9 7.5px,#81a4fb 26.5px,#779af7 45.5px,#5f7fe8 56.5px,#5f7fe8 64.5px,#90b2fe 65.5px,#90b2fe 134.5px,#7699f6 135.5px,#7699f6 154.5px,#6b8df0 155.5px,#5572df 156.5px,#465ecf 157.5px,#4961d2 172.5px,#5673e0 177.5px,#7396f5 180.5px,#7699f6 205.5px)"></i><i style="background:linear-gradient(90deg,#f6f6fa 0.5px,#f6f6fa 6.5px,#7ea1fa 7.5px,#84a7fc 26.5px,#7a9df8 45.5px,#6384eb 55.5px,#6282ea 64.5px,#93b5fe 65.5px,#93b5fe 134.5px,#799cf8 135.5px,#7699f6 155.5px,#5f7fe8 156.5px,#4a63d3 157.5px,#465ecf 159.5px,#465ecf 171.5px,#506bda 176.5px,#5e7de7 178.5px,#7396f5 180.5px,#799cf8 182.5px,#799cf8 205.5px)"></i><i style="background:linear-gradient(90deg,#f6f6fa 0.5px,#f6f6fa 6.5px,#80a3fa 7.5px,#84a7fc 29.5px,#799cf8 46.5px,#6384eb 56.5px,#6384eb 64.5px,#94b6ff 65.5px,#94b6ff 134.5px,#7a9df8 135.5px,#7a9df8 155.5px,#6b8df0 156.5px,#536edd 157.5px,#465ecf 158.5px,#485fd1 172.5px,#536edd 177.5px,#799cf8 181.5px,#7a9df8 205.5px)"></i><i style="background:linear-gradient(90deg,#f6f6fa 0.5px,#f6f6fa 6.5px,#82a6fb 7.5px,#88abfd 26.5px,#7ea1fa 45.5px,#6788ee 55.5px,#6687ed 64.5px,#97b8ff 65.5px,#97b8ff 134.5px,#7da0f9 135.5px,#7da0f9 155.5px,#779af7 156.5px,#4961d2 158.5px,#465ecf 166.5px,#4961d2 173.5px,#516ddb 177.5px,#5875e1 178.5px,#7a9df8 181.5px,#7da0f9 205.5px)"></i><i style="background:linear-gradient(90deg,#f6f6fa 0.5px,#f6f6fa 6.5px,#8fb1fe 7.5px,#93b5fe 29.5px,#88abfd 46.5px,#7295f4 56.5px,#7295f4 64.5px,#a3c2fe 65.5px,#a3c2fe 134.5px,#89acfd 135.5px,#88abfd 156.5px,#7295f4 157.5px,#536edd 158.5px,#465ecf 159.5px,#4961d2 173.5px,#506bda 177.5px,#5572df 178.5px,#81a4fb 181.5px,#89acfd 182.5px,#89acfd 205.5px)"></i><i style="background:linear-gradient(90deg,#f6f6fa 0.5px,#f6f6fa 6.5px,#90b2fe 7.5px,#94b6ff 29.5px,#89acfd 46.5px,#7396f5 56.5px,#7396f5 64.5px,#a5c3fe 65.5px,#a5c3fe 134.5px,#8badfd 135.5px,#8badfd 156.5px,#80a3fa 157.5px,#5f7fe8 158.5px,#485fd1 159.5px,#485fd1 173.5px,#536edd 178.5px,#6e90f2 180.5px,#7ea1fa 181.5px,#89acfd 182.5px,#8badfd 205.5px)"></i><i style="background:linear-gradient(90deg,#f6f6fa 0.5px,#f6f6fa 6.5px,#82a6fb 7.5px,#86a9fc 29.5px,#7ea1fa 45.5px,#6687ed 56.5px,#6687ed 64.5px,#97b8ff 65.5px,#97b8ff 134.5px,#7da0f9 135.5px,#7b9ff9 157.5px,#6687ed 158.5px,#4e68d8 159.5px,#465ecf 160.5px,#4961d2 174.5px,#516ddb 178.5px,#5875e1 179.5px,#799cf8 182.5px,#7da0f9 185.5px,#7da0f9 205.5px)"></i><i style="background:linear-gradient(90deg,#f6f6fa 0.5px,#f6f6fa 6.5px,#7a9df8 7.5px,#7ea1fa 29.5px,#7699f6 45.5px,#5e7de7 56.5px,#5e7de7 64.5px,#8fb1fe 65.5px,#8fb1fe 134.5px,#7597f6 135.5px,#7597f6 157.5px,#6a8bef 158.5px,#5470de 159.5px,#465ecf 160.5px,#4961d2 174.5px,#506bda 178.5px,#5d7ce6 180.5px,#6f92f3 182.5px,#7597f6 184.5px,#7597f6 205.5px)"></i><i style="background:linear-gradient(90deg,#f6f6fa 0.5px,#f6f6fa 6.5px,#7b9ff9 7.5px,#7ea1fa 30.5px,#7699f6 45.5px,#5f7fe8 56.5px,#5f7fe8 64.5px,#90b2fe 65.5px,#90b2fe 134.5px,#7699f6 135.5px,#7699f6 157.5px,#7295f4 158.5px,#5e7de7 159.5px,#4a63d3 160.5px,#465ecf 162.5px,#485fd1 174.5px,#536edd 179.5px,#7597f6 183.5px,#7699f6 205.5px)"></i><i style="background:linear-gradient(90deg,#f6f6fa 0.5px,#f6f6fa 6.5px,#82a6fb 7.5px,#86a9fc 28.5px,#7da0f9 46.5px,#6788ee 55.5px,#6687ed 64.5px,#98b9ff 65.5px,#98b9ff 134.5px,#7da0f9 135.5px,#7da0f9 158.5px,#6e90f2 159.5px,#5470de 160.5px,#465ecf 161.5px,#4961d2 175.5px,#516ddb 179.5px,#7a9df8 183.5px,#7da0f9 205.5px)"></i><i style="background:linear-gradient(90deg,#f6f6fa 0.5px,#f6f6fa 6.5px,#8fb1fe 7.5px,#93b5fe 28.5px,#89acfd 46.5px,#7396f5 55.5px,#7295f4 64.5px,#a5c3fe 65.5px,#a5c3fe 134.5px,#89acfd 135.5px,#89acfd 158.5px,#82a6fb 159.5px,#6384eb 160.5px,#4a63d3 161.5px,#465ecf 163.5px,#4961d2 175.5px,#5673e0 180.5px,#82a6fb 183.5px,#89acfd 184.5px,#89acfd 205.5px)"></i><i style="background:linear-gradient(90deg,#f6f6fa 0.5px,#f6f6fa 6.5px,#96b7ff 7.5px,#98b9ff 31.5px,#8fb1fe 46.5px,#799cf8 56.5px,#799cf8 64.5px,#aac7fd 65.5px,#aac7fd 134.5px,#90b2fe 135.5px,#8fb1fe 159.5px,#7699f6 160.5px,#5470de 161.5px,#485fd1 162.5px,#4a63d3 176.5px,#5470de 180.5px,#82a6fb 183.5px,#8fb1fe 184.5px,#90b2fe 205.5px)"></i><i style="background:linear-gradient(90deg,#f6f6fa 0.5px,#f6f6fa 6.5px,#90b2fe 7.5px,#94b6ff 29.5px,#8badfd 46.5px,#7597f6 55.5px,#7597f6 64.5px,#a6c4fe 65.5px,#a6c4fe 134.5px,#8caffe 135.5px,#8caffe 159.5px,#80a3fa 160.5px,#5f7fe8 161.5px,#4961d2 162.5px,#4961d2 175.5px,#536edd 180.5px,#6a8bef 182.5px,#88abfd 184.5px,#8caffe 187.5px,#8caffe 205.5px)"></i><i style="background:linear-gradient(90deg,#f6f6fa 0.5px,#f6f6fa 6.5px,#8badfd 7.5px,#8db0fe 31.5px,#84a7fc 46.5px,#6e90f2 56.5px,#6e90f2 64.5px,#9fbfff 65.5px,#9fbfff 134.5px,#85a8fc 135.5px,#82a6fb 160.5px,#6b8df0 161.5px,#4f69d9 162.5px,#485fd1 163.5px,#4a63d3 176.5px,#516ddb 180.5px,#5875e1 181.5px,#7ea1fa 184.5px,#85a8fc 185.5px,#85a8fc 205.5px)"></i><i style="background:linear-gradient(90deg,#f6f6fa 0.5px,#f6f6fa 6.5px,#88abfd 7.5px,#8badfd 30.5px,#84a7fc 45.5px,#6c8ff1 55.5px,#6b8df0 64.5px,#9dbdff 65.5px,#9dbdff 134.5px,#82a6fb 135.5px,#82a6fb 160.5px,#7699f6 161.5px,#5977e3 162.5px,#4961d2 163.5px,#4961d2 176.5px,#5572df 181.5px,#799cf8 184.5px,#81a4fb 185.5px,#82a6fb 205.5px)"></i><i style="background:linear-gradient(90deg,#f6f6fa 0.5px,#f6f6fa 6.5px,#89acfd 7.5px,#8caffe 30.5px,#85a8fc 45.5px,#6e90f2 55.5px,#6c8ff1 64.5px,#9ebeff 65.5px,#9ebeff 134.5px,#84a7fc 135.5px,#81a4fb 161.5px,#6788ee 162.5px,#4e68d8 163.5px,#4961d2 164.5px,#4a63d3 177.5px,#536edd 181.5px,#5a78e4 182.5px,#80a3fa 185.5px,#84a7fc 188.5px,#84a7fc 205.5px)"></i><i style="background:linear-gradient(90deg,#f6f6fa 0.5px,#f6f6fa 6.5px,#8caffe 7.5px,#90b2fe 29.5px,#88abfd 45.5px,#7093f3 55.5px,#6f92f3 64.5px,#a2c1ff 65.5px,#a2c1ff 134.5px,#86a9fc 135.5px,#86a9fc 161.5px,#7699f6 162.5px,#5875e1 163.5px,#4961d2 164.5px,#4a63d3 177.5px,#5673e0 182.5px,#7ea1fa 185.5px,#86a9fc 186.5px,#86a9fc 205.5px)"></i><i style="background:linear-gradient(90deg,#f6f6fa 0.5px,#f6f6fa 6.5px,#8db0fe 7.5px,#90b2fe 31.5px,#86a9fc 46.5px,#7093f3 56.5px,#7093f3 64.5px,#a2c1ff 65.5px,#a2c1ff 134.5px,#88abfd 135.5px,#88abfd 161.5px,#82a6fb 162.5px,#6687ed 163.5px,#4c66d6 164.5px,#4961d2 166.5px,#4b64d5 178.5px,#5572df 182.5px,#6b8df0 184.5px,#85a8fc 186.5px,#88abfd 205.5px)"></i><i style="background:linear-gradient(90deg,#f6f6fa 0.5px,#f6f6fa 6.5px,#89acfd 7.5px,#8db0fe 30.5px,#84a7fc 46.5px,#6e90f2 56.5px,#6e90f2 64.5px,#9fbfff 65.5px,#9fbfff 134.5px,#85a8fc 135.5px,#85a8fc 162.5px,#7295f4 163.5px,#5572df 164.5px,#4961d2 165.5px,#4b64d5 178.5px,#5977e3 183.5px,#80a3fa 186.5px,#85a8fc 188.5px,#85a8fc 205.5px)"></i><i style="background:linear-gradient(90deg,#f6f6fa 0.5px,#f6f6fa 6.5px,#86a9fc 7.5px,#89acfd 30.5px,#82a6fb 45.5px,#6b8df0 55.5px,#6b8df0 64.5px,#9dbdff 65.5px,#9dbdff 134.5px,#82a6fb 135.5px,#82a6fb 162.5px,#7a9df8 163.5px,#4b64d5 165.5px,#4b64d5 178.5px,#5673e0 183.5px,#799cf8 186.5px,#81a4fb 187.5px,#82a6fb 205.5px)"></i><i style="background:linear-gradient(90deg,#f6f6fa 0.5px,#f6f6fa 6.5px,#86a9fc 7.5px,#89acfd 31.5px,#80a3fa 46.5px,#6b8df0 55.5px,#6a8bef 64.5px,#9bbcff 65.5px,#9bbcff 134.5px,#81a4fb 135.5px,#81a4fb 163.5px,#6c8ff1 164.5px,#536edd 165.5px,#4a63d3 166.5px,#4a63d3 178.5px,#5572df 183.5px,#5b7ae5 184.5px,#7597f6 186.5px,#7ea1fa 187.5px,#81a4fb 205.5px)"></i><i style="background:linear-gradient(90deg,#f6f6fa 0.5px,#f6f6fa 6.5px,#88abfd 7.5px,#8badfd 31.5px,#81a4fb 46.5px,#6c8ff1 55.5px,#6b8df0 64.5px,#9dbdff 65.5px,#9dbdff 134.5px,#82a6fb 135.5px,#82a6fb 163.5px,#7a9df8 164.5px,#5e7de7 165.5px,#4b64d5 166.5px,#4b64d5 179.5px,#5977e3 184.5px,#7b9ff9 187.5px,#82a6fb 188.5px,#82a6fb 205.5px)"></i><i style="background:linear-gradient(90deg,#f6f6fa 0.5px,#f6f6fa 6.5px,#85a8fc 7.5px,#88abfd 31.5px,#7ea1fa 46.5px,#6a8bef 56.5px,#688aef 64.5px,#9bbcff 65.5px,#9bbcff 134.5px,#80a3fa 135.5px,#7ea1fa 164.5px,#6a8bef 165.5px,#516ddb 166.5px,#4a63d3 167.5px,#4c66d6 180.5px,#5673e0 184.5px,#7699f6 187.5px,#7ea1fa 188.5px,#80a3fa 205.5px)"></i><i style="background:linear-gradient(90deg,#f6f6fa 0.5px,#f6f6fa 6.5px,#81a4fb 7.5px,#85a8fc 29.5px,#7b9ff9 46.5px,#6687ed 56.5px,#6687ed 64.5px,#97b8ff 65.5px,#97b8ff 134.5px,#7da0f9 135.5px,#7da0f9 164.5px,#7295f4 165.5px,#5a78e4 166.5px,#4b64d5 167.5px,#4c66d6 180.5px,#5572df 184.5px,#799cf8 188.5px,#7da0f9 191.5px,#7da0f9 205.5px)"></i><i style="background:linear-gradient(90deg,#f6f6fa 0.5px,#f6f6fa 6.5px,#86a9fc 7.5px,#89acfd 31.5px,#80a3fa 46.5px,#6b8df0 56.5px,#6a8bef 64.5px,#9bbcff 65.5px,#9bbcff 134.5px,#81a4fb 135.5px,#7ea1fa 165.5px,#688aef 166.5px,#506bda 167.5px,#4b64d5 168.5px,#4e68d8 181.5px,#5977e3 185.5px,#7a9df8 188.5px,#81a4fb 189.5px,#81a4fb 205.5px)"></i><i style="background:linear-gradient(90deg,#f6f6fa 0.5px,#f6f6fa 6.5px,#8badfd 7.5px,#8fb1fe 29.5px,#85a8fc 46.5px,#6f92f3 56.5px,#6f92f3 64.5px,#a1c0ff 65.5px,#a1c0ff 134.5px,#86a9fc 135.5px,#86a9fc 165.5px,#779af7 166.5px,#5b7ae5 167.5px,#4b64d5 168.5px,#4e68d8 181.5px,#5673e0 185.5px,#7a9df8 188.5px,#84a7fc 189.5px,#86a9fc 205.5px)"></i><i style="background:linear-gradient(90deg,#f6f6fa 0.5px,#f6f6fa 6.5px,#86a9fc 7.5px,#8badfd 29.5px,#81a4fb 46.5px,#6c8ff1 55.5px,#6b8df0 64.5px,#9dbdff 65.5px,#9dbdff 134.5px,#82a6fb 135.5px,#82a6fb 165.5px,#7ea1fa 166.5px,#6687ed 167.5px,#4f69d9 168.5px,#4c66d6 176.5px,#4f69d9 182.5px,#5b7ae5 186.5px,#7da0f9 189.5px,#82a6fb 191.5px,#82a6fb 205.5px)"></i><i style="background:linear-gradient(90deg,#f6f6fa 0.5px,#f6f6fa 6.5px,#82a6fb 7.5px,#85a8fc 31.5px,#7ea1fa 45.5px,#6788ee 55.5px,#6788ee 64.5px,#98b9ff 65.5px,#98b9ff 134.5px,#7ea1fa 135.5px,#7ea1fa 166.5px,#6f92f3 167.5px,#5875e1 168.5px,#4c66d6 169.5px,#4c66d6 181.5px,#5977e3 186.5px,#7699f6 189.5px,#7ea1fa 191.5px,#7ea1fa 205.5px)"></i><i style="background:linear-gradient(90deg,#f6f6fa 0.5px,#f6f6fa 6.5px,#86a9fc 7.5px,#89acfd 31.5px,#82a6fb 45.5px,#6c8ff1 55.5px,#6b8df0 64.5px,#9dbdff 65.5px,#9dbdff 134.5px,#82a6fb 135.5px,#82a6fb 166.5px,#7b9ff9 167.5px,#4f69d9 169.5px,#4c66d6 177.5px,#4e68d8 182.5px,#5875e1 186.5px,#5e7de7 187.5px,#7ea1fa 190.5px,#82a6fb 193.5px,#82a6fb 205.5px)"></i><i style="background:linear-gradient(90deg,#f6f6fa 0.5px,#f6f6fa 6.5px,#89acfd 7.5px,#8db0fe 29.5px,#85a8fc 45.5px,#6f92f3 55.5px,#6e90f2 64.5px,#9fbfff 65.5px,#9fbfff 134.5px,#85a8fc 135.5px,#85a8fc 167.5px,#7295f4 168.5px,#5673e0 169.5px,#4c66d6 170.5px,#4e68d8 182.5px,#5b7ae5 187.5px,#7ea1fa 190.5px,#85a8fc 191.5px,#85a8fc 205.5px)"></i><i style="background:linear-gradient(90deg,#f6f6fa 0.5px,#f6f6fa 6.5px,#85a8fc 7.5px,#88abfd 31.5px,#81a4fb 45.5px,#6b8df0 55.5px,#6a8bef 64.5px,#9bbcff 65.5px,#9bbcff 134.5px,#81a4fb 135.5px,#81a4fb 167.5px,#799cf8 168.5px,#6180e9 169.5px,#4f69d9 170.5px,#4f69d9 183.5px,#5977e3 187.5px,#80a3fa 191.5px,#81a4fb 205.5px)"></i><i style="background:linear-gradient(90deg,#f6f6fa 0.5px,#f6f6fa 6.5px,#82a6fb 7.5px,#82a6fb 39.5px,#7a9df8 47.5px,#688aef 55.5px,#6788ee 64.5px,#98b9ff 65.5px,#98b9ff 134.5px,#7ea1fa 135.5px,#7da0f9 168.5px,#6a8bef 169.5px,#5470de 170.5px,#4e68d8 171.5px,#506bda 184.5px,#5d7ce6 188.5px,#7a9df8 191.5px,#7ea1fa 194.5px,#7ea1fa 205.5px)"></i><i style="background:linear-gradient(90deg,#f6f6fa 0.5px,#f6f6fa 6.5px,#82a6fb 7.5px,#85a8fc 31.5px,#7da0f9 46.5px,#6788ee 56.5px,#6788ee 64.5px,#98b9ff 65.5px,#98b9ff 134.5px,#7ea1fa 135.5px,#7ea1fa 168.5px,#7597f6 169.5px,#5e7de7 170.5px,#4e68d8 171.5px,#506bda 184.5px,#5b7ae5 188.5px,#7ea1fa 192.5px,#7ea1fa 205.5px)"></i><i style="background:linear-gradient(90deg,#f6f6fa 0.5px,#f6f6fa 6.5px,#84a7fc 7.5px,#86a9fc 31.5px,#7ea1fa 46.5px,#688aef 56.5px,#688aef 64.5px,#9abbff 65.5px,#9abbff 134.5px,#80a3fa 135.5px,#7da0f9 169.5px,#6a8bef 170.5px,#5470de 171.5px,#4e68d8 172.5px,#506bda 184.5px,#5977e3 188.5px,#7da0f9 192.5px,#80a3fa 205.5px)"></i><i style="background:linear-gradient(90deg,#f6f6fa 0.5px,#f6f6fa 6.5px,#88abfd 7.5px,#88abfd 38.5px,#80a3fa 47.5px,#6c8ff1 55.5px,#6c8ff1 64.5px,#9ebeff 65.5px,#9ebeff 134.5px,#84a7fc 135.5px,#84a7fc 169.5px,#7699f6 170.5px,#5d7ce6 171.5px,#4f69d9 172.5px,#4f69d9 184.5px,#5e7de7 189.5px,#7ea1fa 192.5px,#84a7fc 196.5px,#84a7fc 205.5px)"></i><i style="background:linear-gradient(90deg,#f6f6fa 0.5px,#f6f6fa 6.5px,#85a8fc 7.5px,#88abfd 32.5px,#80a3fa 46.5px,#6b8df0 55.5px,#6a8bef 64.5px,#9bbcff 65.5px,#9bbcff 134.5px,#81a4fb 135.5px,#81a4fb 169.5px,#7da0f9 170.5px,#536edd 172.5px,#4f69d9 174.5px,#4f69d9 184.5px,#5b7ae5 189.5px,#7a9df8 192.5px,#81a4fb 193.5px,#81a4fb 205.5px)"></i><i style="background:linear-gradient(90deg,#f6f6fa 0.5px,#f6f6fa 6.5px,#81a4fb 7.5px,#84a7fc 32.5px,#7b9ff9 46.5px,#6788ee 55.5px,#6687ed 64.5px,#98b9ff 65.5px,#98b9ff 134.5px,#7da0f9 135.5px,#7da0f9 170.5px,#6f92f3 171.5px,#5977e3 172.5px,#4f69d9 173.5px,#506bda 185.5px,#5a78e4 189.5px,#7b9ff9 193.5px,#7da0f9 205.5px)"></i><i style="background:linear-gradient(90deg,#f6f6fa 0.5px,#f6f6fa 6.5px,#84a7fc 7.5px,#84a7fc 38.5px,#7b9ff9 47.5px,#6a8bef 55.5px,#688aef 64.5px,#9abbff 65.5px,#9abbff 134.5px,#80a3fa 135.5px,#80a3fa 170.5px,#799cf8 171.5px,#6282ea 172.5px,#516ddb 173.5px,#506bda 185.5px,#5e7de7 190.5px,#7b9ff9 193.5px,#80a3fa 196.5px,#80a3fa 205.5px)"></i><i style="background:linear-gradient(90deg,#f6f6fa 0.5px,#f6f6fa 6.5px,#88abfd 7.5px,#8badfd 32.5px,#82a6fb 46.5px,#6e90f2 56.5px,#6c8ff1 64.5px,#9fbfff 65.5px,#9fbfff 134.5px,#84a7fc 135.5px,#82a6fb 171.5px,#6f92f3 172.5px,#5673e0 173.5px,#506bda 174.5px,#506bda 185.5px,#5d7ce6 190.5px,#7da0f9 193.5px,#84a7fc 194.5px,#84a7fc 205.5px)"></i><i style="background:linear-gradient(90deg,#f6f6fa 0.5px,#f6f6fa 6.5px,#88abfd 7.5px,#8badfd 32.5px,#85a8fc 45.5px,#6e90f2 55.5px,#6e90f2 64.5px,#9fbfff 65.5px,#9fbfff 134.5px,#85a8fc 135.5px,#85a8fc 171.5px,#799cf8 172.5px,#5f7fe8 173.5px,#506bda 174.5px,#516ddb 186.5px,#5b7ae5 190.5px,#82a6fb 194.5px,#85a8fc 205.5px)"></i><i style="background:linear-gradient(90deg,#f6f6fa 0.5px,#f6f6fa 6.5px,#84a7fc 7.5px,#84a7fc 38.5px,#7da0f9 46.5px,#688aef 56.5px,#688aef 64.5px,#9abbff 65.5px,#9abbff 134.5px,#80a3fa 135.5px,#80a3fa 171.5px,#7b9ff9 172.5px,#5470de 174.5px,#516ddb 183.5px,#5470de 187.5px,#6180e9 191.5px,#7b9ff9 194.5px,#80a3fa 197.5px,#80a3fa 205.5px)"></i><i style="background:linear-gradient(90deg,#f6f6fa 0.5px,#f6f6fa 6.5px,#81a4fb 7.5px,#81a4fb 40.5px,#7699f6 48.5px,#6687ed 56.5px,#6687ed 64.5px,#97b8ff 65.5px,#97b8ff 134.5px,#7da0f9 135.5px,#7da0f9 172.5px,#6f92f3 173.5px,#5a78e4 174.5px,#516ddb 175.5px,#516ddb 186.5px,#5e7de7 191.5px,#779af7 194.5px,#7da0f9 196.5px,#7da0f9 205.5px)"></i><i style="background:linear-gradient(90deg,#f6f6fa 0.5px,#f6f6fa 6.5px,#7ea1fa 7.5px,#7ea1fa 41.5px,#7295f4 49.5px,#6485ec 56.5px,#6384eb 64.5px,#96b7ff 65.5px,#94b6ff 134.5px,#7a9df8 135.5px,#7a9df8 172.5px,#7597f6 173.5px,#536edd 175.5px,#536edd 187.5px,#5d7ce6 191.5px,#7a9df8 195.5px,#7a9df8 205.5px)"></i><i style="background:linear-gradient(90deg,#f6f6fa 0.5px,#f6f6fa 6.5px,#7a9df8 7.5px,#7da0f9 32.5px,#779af7 45.5px,#6282ea 55.5px,#6180e9 64.5px,#92b4fe 65.5px,#90b2fe 134.5px,#779af7 135.5px,#7699f6 173.5px,#5673e0 175.5px,#536edd 177.5px,#536edd 187.5px,#6180e9 192.5px,#7597f6 195.5px,#779af7 205.5px)"></i><i style="background:linear-gradient(90deg,#f6f6fa 0.5px,#f6f6fa 6.5px,#7b9ff9 7.5px,#7ea1fa 32.5px,#799cf8 45.5px,#6384eb 55.5px,#6282ea 64.5px,#93b5fe 65.5px,#92b4fe 134.5px,#799cf8 135.5px,#799cf8 173.5px,#7093f3 174.5px,#5e7de7 175.5px,#536edd 176.5px,#536edd 187.5px,#5f7fe8 192.5px,#799cf8 196.5px,#799cf8 205.5px)"></i><i style="background:linear-gradient(90deg,#f6f6fa 0.5px,#f6f6fa 6.5px,#81a4fb 7.5px,#84a7fc 32.5px,#7ea1fa 45.5px,#688aef 55.5px,#6788ee 64.5px,#98b9ff 65.5px,#97b8ff 134.5px,#7ea1fa 135.5px,#7ea1fa 173.5px,#7a9df8 174.5px,#5673e0 176.5px,#536edd 178.5px,#5470de 188.5px,#5f7fe8 192.5px,#7da0f9 196.5px,#7ea1fa 205.5px)"></i><i style="background:linear-gradient(90deg,#f6f6fa 0.5px,#f6f6fa 6.5px,#89acfd 7.5px,#89acfd 39.5px,#81a4fb 47.5px,#6f92f3 55.5px,#6e90f2 64.5px,#9fbfff 65.5px,#9ebeff 134.5px,#85a8fc 135.5px,#85a8fc 174.5px,#7699f6 175.5px,#5e7de7 176.5px,#5470de 177.5px,#5470de 188.5px,#5e7de7 192.5px,#82a6fb 196.5px,#85a8fc 205.5px)"></i><i style="background:linear-gradient(90deg,#f6f6fa 0.5px,#f6f6fa 6.5px,#8caffe 7.5px,#8caffe 39.5px,#84a7fc 47.5px,#7295f4 55.5px,#7093f3 64.5px,#a3c2fe 65.5px,#a1c0ff 134.5px,#88abfd 135.5px,#88abfd 174.5px,#81a4fb 175.5px,#5572df 177.5px,#5470de 188.5px,#6282ea 193.5px,#82a6fb 196.5px,#88abfd 198.5px,#88abfd 205.5px)"></i><i style="background:linear-gradient(90deg,#f6f6fa 0.5px,#f6f6fa 6.5px,#85a8fc 7.5px,#85a8fc 40.5px,#799cf8 49.5px,#6b8df0 56.5px,#6b8df0 64.5px,#9dbdff 65.5px,#9abbff 124.5px,#9abbff 134.5px,#81a4fb 135.5px,#81a4fb 175.5px,#6f92f3 176.5px,#5a78e4 177.5px,#5470de 178.5px,#5572df 189.5px,#6180e9 193.5px,#7b9ff9 196.5px,#81a4fb 198.5px,#81a4fb 205.5px)"></i><i style="background:linear-gradient(90deg,#f6f6fa 0.5px,#f6f6fa 6.5px,#81a4fb 7.5px,#81a4fb 38.5px,#7b9ff9 46.5px,#6687ed 56.5px,#6687ed 64.5px,#97b8ff 65.5px,#94b6ff 125.5px,#94b6ff 134.5px,#7da0f9 135.5px,#7da0f9 175.5px,#7597f6 176.5px,#6180e9 177.5px,#5572df 178.5px,#5572df 189.5px,#6485ec 194.5px,#7b9ff9 197.5px,#7da0f9 205.5px)"></i><i style="background:linear-gradient(90deg,#f6f6fa 0.5px,#f6f6fa 6.5px,#82a6fb 7.5px,#82a6fb 41.5px,#799cf8 48.5px,#688aef 56.5px,#688aef 64.5px,#9abbff 65.5px,#97b8ff 121.5px,#96b7ff 134.5px,#80a3fa 135.5px,#80a3fa 175.5px,#7b9ff9 176.5px,#5875e1 178.5px,#5572df 187.5px,#5977e3 191.5px,#6384eb 194.5px,#7b9ff9 197.5px,#80a3fa 200.5px,#80a3fa 205.5px)"></i><i style="background:linear-gradient(90deg,#f6f6fa 0.5px,#f6f6fa 6.5px,#89acfd 7.5px,#89acfd 38.5px,#84a7fc 46.5px,#6e90f2 56.5px,#6e90f2 64.5px,#9fbfff 65.5px,#9dbdff 121.5px,#9bbcff 134.5px,#85a8fc 135.5px,#85a8fc 176.5px,#7699f6 177.5px,#5f7fe8 178.5px,#5572df 179.5px,#5673e0 190.5px,#6282ea 194.5px,#85a8fc 198.5px,#85a8fc 205.5px)"></i><i style="background:linear-gradient(90deg,#f6f6fa 0.5px,#f6f6fa 6.5px,#8badfd 7.5px,#8badfd 38.5px,#85a8fc 46.5px,#7093f3 55.5px,#6f92f3 64.5px,#a1c0ff 65.5px,#9ebeff 121.5px,#9bbcff 133.5px,#9dbdff 134.5px,#86a9fc 135.5px,#86a9fc 176.5px,#80a3fa 177.5px,#688aef 178.5px,#5875e1 179.5px,#5673e0 190.5px,#6180e9 194.5px,#85a8fc 198.5px,#86a9fc 205.5px)"></i><i style="background:linear-gradient(90deg,#f6f6fa 0.5px,#f6f6fa 6.5px,#86a9fc 7.5px,#86a9fc 41.5px,#7da0f9 48.5px,#6c8ff1 56.5px,#6c8ff1 64.5px,#9ebeff 65.5px,#9bbcff 119.5px,#96b7ff 131.5px,#98b9ff 134.5px,#84a7fc 135.5px,#82a6fb 177.5px,#5d7ce6 179.5px,#5673e0 180.5px,#5977e3 191.5px,#6687ed 195.5px,#80a3fa 198.5px,#84a7fc 201.5px,#84a7fc 205.5px)"></i><i style="background:linear-gradient(90deg,#f6f6fa 0.5px,#f6f6fa 6.5px,#88abfd 7.5px,#88abfd 39.5px,#7ea1fa 48.5px,#6e90f2 56.5px,#6e90f2 64.5px,#9fbfff 65.5px,#9dbdff 118.5px,#96b7ff 131.5px,#98b9ff 134.5px,#85a8fc 135.5px,#85a8fc 177.5px,#7a9df8 178.5px,#6485ec 179.5px,#5673e0 180.5px,#5875e1 191.5px,#6485ec 195.5px,#84a7fc 199.5px,#85a8fc 205.5px)"></i><i style="background:linear-gradient(90deg,#f6f6fa 0.5px,#f6f6fa 6.5px,#85a8fc 7.5px,#85a8fc 40.5px,#799cf8 49.5px,#6b8df0 56.5px,#6b8df0 64.5px,#9dbdff 65.5px,#9abbff 117.5px,#92b4fe 130.5px,#94b6ff 134.5px,#82a6fb 135.5px,#82a6fb 177.5px,#7ea1fa 178.5px,#5a78e4 180.5px,#5875e1 191.5px,#6282ea 195.5px,#81a4fb 199.5px,#82a6fb 205.5px)"></i><i style="background:linear-gradient(90deg,#f6f6fa 0.5px,#f6f6fa 6.5px,#81a4fb 7.5px,#81a4fb 41.5px,#779af7 48.5px,#6788ee 56.5px,#6788ee 64.5px,#98b9ff 65.5px,#96b7ff 117.5px,#8db0fe 131.5px,#90b2fe 134.5px,#7ea1fa 135.5px,#7ea1fa 178.5px,#7295f4 179.5px,#5f7fe8 180.5px,#5875e1 181.5px,#5a78e4 192.5px,#6788ee 196.5px,#7b9ff9 199.5px,#7ea1fa 205.5px)"></i><i style="background:linear-gradient(90deg,#f6f6fa 0.5px,#f6f6fa 6.5px,#84a7fc 7.5px,#84a7fc 41.5px,#7a9df8 48.5px,#6a8bef 56.5px,#6a8bef 64.5px,#9bbcff 65.5px,#98b9ff 117.5px,#8fb1fe 130.5px,#92b4fe 134.5px,#81a4fb 135.5px,#81a4fb 178.5px,#7b9ff9 179.5px,#5977e3 181.5px,#5977e3 192.5px,#6687ed 196.5px,#7da0f9 199.5px,#81a4fb 202.5px,#81a4fb 205.5px)"></i><i style="background:linear-gradient(90deg,#f6f6fa 0.5px,#f6f6fa 6.5px,#89acfd 7.5px,#88abfd 43.5px,#6f92f3 56.5px,#6f92f3 64.5px,#a1c0ff 65.5px,#9ebeff 116.5px,#93b5fe 130.5px,#97b8ff 134.5px,#86a9fc 135.5px,#84a7fc 179.5px,#7396f5 180.5px,#5e7de7 181.5px,#5977e3 182.5px,#5b7ae5 193.5px,#6485ec 196.5px,#85a8fc 200.5px,#86a9fc 205.5px)"></i><i style="background:linear-gradient(90deg,#f6f6fa 0.5px,#f6f6fa 6.5px,#8caffe 7.5px,#8caffe 43.5px,#7396f5 55.5px,#7295f4 64.5px,#a5c3fe 65.5px,#a2c1ff 115.5px,#96b7ff 129.5px,#9abbff 134.5px,#89acfd 135.5px,#89acfd 179.5px,#7ea1fa 180.5px,#6788ee 181.5px,#5977e3 182.5px,#5b7ae5 193.5px,#6384eb 196.5px,#88abfd 200.5px,#89acfd 205.5px)"></i><i style="background:linear-gradient(90deg,#f6f6fa 0.5px,#f6f6fa 6.5px,#90b2fe 7.5px,#8fb1fe 43.5px,#7699f6 56.5px,#7699f6 64.5px,#a7c5fe 65.5px,#a5c3fe 116.5px,#98b9ff 129.5px,#9dbdff 134.5px,#8db0fe 135.5px,#8db0fe 179.5px,#88abfd 180.5px,#5d7ce6 182.5px,#5977e3 184.5px,#5b7ae5 193.5px,#688aef 197.5px,#88abfd 200.5px,#8db0fe 202.5px,#8db0fe 205.5px)"></i><i style="background:linear-gradient(90deg,#f6f6fa 0.5px,#f6f6fa 6.5px,#90b2fe 7.5px,#8fb1fe 43.5px,#7699f6 56.5px,#7699f6 64.5px,#a7c5fe 65.5px,#a5c3fe 116.5px,#98b9ff 129.5px,#9dbdff 134.5px,#8db0fe 135.5px,#8caffe 180.5px,#7b9ff9 181.5px,#6384eb 182.5px,#5a78e4 183.5px,#5d7ce6 194.5px,#6788ee 197.5px,#85a8fc 200.5px,#8db0fe 202.5px,#8db0fe 205.5px)"></i><i style="background:linear-gradient(90deg,#f6f6fa 0.5px,#f6f6fa 6.5px,#86a9fc 7.5px,#86a9fc 41.5px,#7da0f9 48.5px,#6c8ff1 56.5px,#6c8ff1 64.5px,#9ebeff 65.5px,#9bbcff 116.5px,#90b2fe 129.5px,#93b5fe 134.5px,#84a7fc 135.5px,#84a7fc 180.5px,#7da0f9 181.5px,#5b7ae5 183.5px,#5d7ce6 194.5px,#6687ed 197.5px,#82a6fb 201.5px,#84a7fc 205.5px)"></i><i style="background:linear-gradient(90deg,#f6f6fa 0.5px,#f6f6fa 6.5px,#80a3fa 7.5px,#80a3fa 43.5px,#6788ee 56.5px,#6687ed 64.5px,#97b8ff 65.5px,#94b6ff 117.5px,#89acfd 130.5px,#8db0fe 134.5px,#7da0f9 135.5px,#7b9ff9 181.5px,#5f7fe8 183.5px,#5b7ae5 185.5px,#5d7ce6 194.5px,#6a8bef 198.5px,#7b9ff9 201.5px,#7da0f9 205.5px)"></i><i style="background:linear-gradient(90deg,#f6f6fa 0.5px,#f6f6fa 6.5px,#80a3fa 7.5px,#80a3fa 41.5px,#7699f6 48.5px,#6687ed 56.5px,#6687ed 64.5px,#97b8ff 65.5px,#94b6ff 116.5px,#89acfd 130.5px,#8db0fe 134.5px,#7da0f9 135.5px,#7da0f9 181.5px,#7597f6 182.5px,#6485ec 183.5px,#5b7ae5 184.5px,#5d7ce6 194.5px,#6e90f2 199.5px,#7da0f9 202.5px,#7da0f9 205.5px)"></i><i style="background:linear-gradient(90deg,#f6f6fa 0.5px,#f6f6fa 6.5px,#85a8fc 7.5px,#84a7fc 43.5px,#6b8df0 56.5px,#6b8df0 64.5px,#9bbcff 65.5px,#98b9ff 117.5px,#8fb1fe 130.5px,#92b4fe 134.5px,#81a4fb 135.5px,#7ea1fa 182.5px,#5e7de7 184.5px,#5e7de7 195.5px,#6788ee 198.5px,#81a4fb 202.5px,#81a4fb 205.5px)"></i><i style="background:linear-gradient(90deg,#f6f6fa 0.5px,#f6f6fa 6.5px,#90b2fe 7.5px,#8fb1fe 44.5px,#7699f6 56.5px,#7699f6 64.5px,#a7c5fe 65.5px,#a5c3fe 116.5px,#9bbcff 130.5px,#9ebeff 134.5px,#8db0fe 135.5px,#8caffe 182.5px,#7b9ff9 183.5px,#6485ec 184.5px,#5d7ce6 185.5px,#5e7de7 195.5px,#6788ee 198.5px,#8badfd 202.5px,#8db0fe 205.5px)"></i><i style="background:linear-gradient(90deg,#f6f6fa 0.5px,#f6f6fa 6.5px,#97b8ff 7.5px,#97b8ff 42.5px,#8badfd 49.5px,#7da0f9 57.5px,#7da0f9 64.5px,#aec9fc 65.5px,#abc8fd 117.5px,#a3c2fe 129.5px,#a6c4fe 134.5px,#94b6ff 135.5px,#94b6ff 182.5px,#8badfd 183.5px,#6f92f3 184.5px,#5e7de7 185.5px,#5e7de7 195.5px,#6687ed 198.5px,#779af7 200.5px,#8fb1fe 202.5px,#94b6ff 204.5px,#94b6ff 205.5px)"></i><i style="background:linear-gradient(90deg,#f6f6fa 0.5px,#f6f6fa 6.5px,#94b6ff 7.5px,#94b6ff 43.5px,#7b9ff9 56.5px,#7b9ff9 64.5px,#abc8fd 65.5px,#a9c6fd 118.5px,#a2c1ff 130.5px,#a3c2fe 134.5px,#92b4fe 135.5px,#8fb1fe 183.5px,#799cf8 184.5px,#6384eb 185.5px,#5e7de7 186.5px,#6180e9 196.5px,#6a8bef 199.5px,#89acfd 202.5px,#92b4fe 204.5px,#92b4fe 205.5px)"></i><i style="background:linear-gradient(90deg,#f6f6fa 0.5px,#f6f6fa 6.5px,#89acfd 7.5px,#88abfd 44.5px,#6f92f3 56.5px,#6f92f3 64.5px,#9fbfff 65.5px,#9dbdff 119.5px,#97b8ff 132.5px,#98b9ff 134.5px,#85a8fc 135.5px,#85a8fc 183.5px,#7a9df8 184.5px,#6788ee 185.5px,#5e7de7 186.5px,#6180e9 196.5px,#688aef 199.5px,#84a7fc 203.5px,#85a8fc 205.5px)"></i><i style="background:linear-gradient(90deg,#f6f6fa 0.5px,#f6f6fa 6.5px,#80a3fa 7.5px,#7ea1fa 44.5px,#6687ed 56.5px,#6687ed 64.5px,#96b7ff 65.5px,#93b5fe 119.5px,#8fb1fe 132.5px,#90b2fe 134.5px,#7b9ff9 135.5px,#799cf8 184.5px,#6180e9 186.5px,#6282ea 197.5px,#7b9ff9 204.5px,#7b9ff9 205.5px)"></i><i style="background:linear-gradient(90deg,#f6f6fa 0.5px,#f6f6fa 6.5px,#81a4fb 7.5px,#80a3fa 43.5px,#6788ee 56.5px,#6788ee 64.5px,#97b8ff 65.5px,#94b6ff 119.5px,#90b2fe 133.5px,#92b4fe 134.5px,#7da0f9 135.5px,#7b9ff9 184.5px,#7295f4 185.5px,#6384eb 186.5px,#5f7fe8 188.5px,#6282ea 197.5px,#7b9ff9 204.5px,#7da0f9 205.5px)"></i><i style="background:linear-gradient(90deg,#f6f6fa 0.5px,#f6f6fa 6.5px,#84a7fc 7.5px,#84a7fc 43.5px,#6b8df0 56.5px,#6b8df0 64.5px,#9abbff 65.5px,#97b8ff 121.5px,#96b7ff 134.5px,#80a3fa 135.5px,#80a3fa 184.5px,#799cf8 185.5px,#6180e9 187.5px,#6282ea 197.5px,#7699f6 202.5px,#80a3fa 204.5px,#80a3fa 205.5px)"></i><i style="background:linear-gradient(90deg,#f6f6fa 0.5px,#f6f6fa 6.5px,#88abfd 7.5px,#86a9fc 43.5px,#7597f6 52.5px,#6e90f2 58.5px,#6e90f2 64.5px,#9dbdff 65.5px,#9abbff 123.5px,#9abbff 134.5px,#82a6fb 135.5px,#81a4fb 185.5px,#6384eb 187.5px,#6180e9 196.5px,#6f92f3 201.5px,#81a4fb 204.5px,#82a6fb 205.5px)"></i><i style="background:linear-gradient(90deg,#f6f6fa 0.5px,#f6f6fa 6.5px,#8caffe 7.5px,#8badfd 44.5px,#7396f5 55.5px,#7295f4 64.5px,#a2c1ff 65.5px,#9fbfff 122.5px,#9ebeff 134.5px,#86a9fc 135.5px,#86a9fc 185.5px,#7b9ff9 186.5px,#6a8bef 187.5px,#6180e9 188.5px,#6384eb 198.5px,#7699f6 202.5px,#86a9fc 205.5px)"></i><i style="background:linear-gradient(90deg,#f6f6fa 0.5px,#f6f6fa 6.5px,#90b2fe 7.5px,#8fb1fe 43.5px,#7699f6 56.5px,#7699f6 64.5px,#a5c3fe 65.5px,#a2c1ff 126.5px,#a2c1ff 134.5px,#8badfd 135.5px,#8badfd 185.5px,#85a8fc 186.5px,#6384eb 188.5px,#6384eb 198.5px,#7597f6 202.5px,#89acfd 205.5px)"></i><i style="background:linear-gradient(90deg,#f6f6fa 0.5px,#f6f6fa 6.5px,#8caffe 7.5px,#8caffe 43.5px,#7396f5 56.5px,#7396f5 64.5px,#a2c1ff 65.5px,#9fbfff 134.5px,#86a9fc 135.5px,#86a9fc 186.5px,#6788ee 188.5px,#6282ea 189.5px,#6384eb 198.5px,#7396f5 202.5px,#85a8fc 205.5px)"></i><i style="background:linear-gradient(90deg,#f6f6fa 0.5px,#f6f6fa 6.5px,#85a8fc 7.5px,#84a7fc 44.5px,#6c8ff1 55.5px,#6c8ff1 64.5px,#9abbff 65.5px,#98b9ff 134.5px,#80a3fa 135.5px,#80a3fa 186.5px,#799cf8 187.5px,#6384eb 189.5px,#6687ed 199.5px,#7ea1fa 205.5px)"></i><i style="background:linear-gradient(90deg,#f6f6fa 0.5px,#f6f6fa 6.5px,#82a6fb 7.5px,#81a4fb 44.5px,#6a8bef 55.5px,#6a8bef 64.5px,#97b8ff 65.5px,#96b7ff 134.5px,#7da0f9 135.5px,#7a9df8 187.5px,#6485ec 189.5px,#6687ed 199.5px,#7b9ff9 205.5px)"></i><i style="background:linear-gradient(90deg,#f6f6fa 0.5px,#f6f6fa 6.5px,#81a4fb 7.5px,#80a3fa 44.5px,#688aef 56.5px,#688aef 64.5px,#96b7ff 65.5px,#94b6ff 134.5px,#7b9ff9 135.5px,#7b9ff9 187.5px,#688aef 189.5px,#6485ec 191.5px,#6687ed 199.5px,#799cf8 205.5px)"></i><i style="background:linear-gradient(90deg,#f6f6fa 0.5px,#f6f6fa 6.5px,#82a6fb 7.5px,#81a4fb 44.5px,#6a8bef 56.5px,#6a8bef 64.5px,#97b8ff 65.5px,#96b7ff 134.5px,#7da0f9 135.5px,#7da0f9 187.5px,#799cf8 188.5px,#6485ec 190.5px,#6687ed 199.5px,#7a9df8 205.5px)"></i><i style="background:linear-gradient(90deg,#f6f6fa 0.5px,#f6f6fa 6.5px,#86a9fc 7.5px,#84a7fc 45.5px,#6c8ff1 56.5px,#6c8ff1 64.5px,#9abbff 65.5px,#9abbff 134.5px,#80a3fa 135.5px,#7ea1fa 188.5px,#688aef 190.5px,#6485ec 192.5px,#6788ee 200.5px,#7b9ff9 205.5px)"></i><i style="background:linear-gradient(90deg,#f6f6fa 0.5px,#f6f6fa 6.5px,#86a9fc 7.5px,#85a8fc 44.5px,#6e90f2 56.5px,#6e90f2 64.5px,#9bbcff 65.5px,#9abbff 134.5px,#81a4fb 135.5px,#81a4fb 188.5px,#7a9df8 189.5px,#6687ed 191.5px,#6788ee 200.5px,#7b9ff9 205.5px)"></i><i style="background:linear-gradient(90deg,#f6f6fa 0.5px,#f6f6fa 6.5px,#89acfd 7.5px,#88abfd 44.5px,#7093f3 55.5px,#7093f3 64.5px,#9dbdff 65.5px,#9dbdff 134.5px,#82a6fb 135.5px,#80a3fa 189.5px,#688aef 191.5px,#6788ee 200.5px,#7b9ff9 205.5px)"></i><i style="background:linear-gradient(90deg,#f6f6fa 0.5px,#f6f6fa 6.5px,#89acfd 7.5px,#86a9fc 45.5px,#7093f3 55.5px,#6f92f3 64.5px,#9dbdff 65.5px,#9dbdff 134.5px,#82a6fb 135.5px,#81a4fb 189.5px,#6687ed 192.5px,#6788ee 200.5px,#7b9ff9 205.5px)"></i><i style="background:linear-gradient(90deg,#f6f6fa 0.5px,#f6f6fa 6.5px,#86a9fc 7.5px,#84a7fc 45.5px,#6e90f2 55.5px,#6e90f2 64.5px,#9abbff 65.5px,#9abbff 134.5px,#80a3fa 135.5px,#80a3fa 189.5px,#7b9ff9 190.5px,#6788ee 192.5px,#6a8bef 201.5px,#7a9df8 205.5px)"></i><i style="background:linear-gradient(90deg,#f6f6fa 0.5px,#f6f6fa 6.5px,#8badfd 7.5px,#89acfd 44.5px,#7295f4 56.5px,#7295f4 64.5px,#9ebeff 65.5px,#9ebeff 134.5px,#84a7fc 135.5px,#84a7fc 190.5px,#6b8df0 192.5px,#6788ee 194.5px,#6a8bef 201.5px,#7b9ff9 205.5px)"></i><i style="background:linear-gradient(90deg,#f6f6fa 0.5px,#f6f6fa 6.5px,#93b5fe 7.5px,#92b4fe 44.5px,#7a9df8 56.5px,#7a9df8 64.5px,#a6c4fe 65.5px,#a6c4fe 134.5px,#8caffe 135.5px,#8caffe 190.5px,#84a7fc 191.5px,#7295f4 192.5px,#688aef 193.5px,#688aef 201.5px,#7699f6 204.5px,#7da0f9 205.5px)"></i><i style="background:linear-gradient(90deg,#f6f6fa 0.5px,#f6f6fa 6.5px,#93b5fe 7.5px,#92b4fe 44.5px,#7a9df8 56.5px,#7a9df8 64.5px,#a6c4fe 65.5px,#a6c4fe 134.5px,#8caffe 135.5px,#89acfd 191.5px,#6b8df0 193.5px,#688aef 201.5px,#7b9ff9 205.5px)"></i><i style="background:linear-gradient(90deg,#f6f6fa 0.5px,#f6f6fa 6.5px,#8fb1fe 7.5px,#8caffe 45.5px,#7699f6 56.5px,#7699f6 64.5px,#a2c1ff 65.5px,#a2c1ff 134.5px,#86a9fc 135.5px,#86a9fc 191.5px,#7ea1fa 192.5px,#6f92f3 193.5px,#688aef 194.5px,#6b8df0 202.5px,#7a9df8 205.5px)"></i><i style="background:linear-gradient(90deg,#f6f6fa 0.5px,#f6f6fa 6.5px,#85a8fc 7.5px,#84a7fc 44.5px,#6c8ff1 56.5px,#6c8ff1 64.5px,#98b9ff 65.5px,#98b9ff 134.5px,#7ea1fa 135.5px,#7b9ff9 192.5px,#6a8bef 194.5px,#6b8df0 202.5px,#779af7 205.5px)"></i><i style="background:linear-gradient(90deg,#f6f6fa 0.5px,#f6f6fa 6.5px,#7ea1fa 7.5px,#7da0f9 44.5px,#6687ed 56.5px,#6687ed 64.5px,#92b4fe 65.5px,#92b4fe 134.5px,#779af7 135.5px,#779af7 192.5px,#6b8df0 194.5px,#6b8df0 202.5px,#7699f6 205.5px)"></i><i style="background:linear-gradient(90deg,#f6f6fa 0.5px,#f6f6fa 6.5px,#7ea1fa 7.5px,#7da0f9 44.5px,#6687ed 56.5px,#6687ed 64.5px,#92b4fe 65.5px,#92b4fe 134.5px,#779af7 135.5px,#7597f6 193.5px,#6a8bef 195.5px,#6b8df0 202.5px,#7699f6 205.5px)"></i><i style="background:linear-gradient(90deg,#f6f6fa 0.5px,#f6f6fa 6.5px,#81a4fb 7.5px,#7ea1fa 45.5px,#688aef 55.5px,#688aef 64.5px,#94b6ff 65.5px,#94b6ff 134.5px,#799cf8 135.5px,#799cf8 193.5px,#6c8ff1 195.5px,#6c8ff1 203.5px,#7597f6 205.5px)"></i><i style="background:linear-gradient(90deg,#f6f6fa 0.5px,#f6f6fa 6.5px,#89acfd 7.5px,#86a9fc 45.5px,#7093f3 56.5px,#7093f3 64.5px,#9dbdff 65.5px,#9dbdff 134.5px,#82a6fb 135.5px,#82a6fb 193.5px,#6b8df0 196.5px,#6c8ff1 203.5px,#7597f6 205.5px)"></i><i style="background:linear-gradient(90deg,#f6f6fa 0.5px,#f6f6fa 6.5px,#92b4fe 7.5px,#90b2fe 44.5px,#799cf8 56.5px,#799cf8 64.5px,#a5c3fe 65.5px,#a5c3fe 134.5px,#8badfd 135.5px,#8badfd 193.5px,#86a9fc 194.5px,#6c8ff1 196.5px,#6c8ff1 203.5px,#7597f6 205.5px)"></i><i style="background:linear-gradient(90deg,#f6f6fa 0.5px,#f6f6fa 6.5px,#92b4fe 7.5px,#90b2fe 44.5px,#7a9df8 56.5px,#799cf8 64.5px,#a5c3fe 65.5px,#a5c3fe 134.5px,#8badfd 135.5px,#8badfd 194.5px,#7093f3 196.5px,#6c8ff1 199.5px,#6f92f3 204.5px,#7396f5 205.5px)"></i><i style="background:linear-gradient(90deg,#f6f6fa 0.5px,#f6f6fa 6.5px,#89acfd 7.5px,#88abfd 44.5px,#7093f3 56.5px,#7093f3 64.5px,#9dbdff 65.5px,#9dbdff 134.5px,#82a6fb 135.5px,#82a6fb 194.5px,#7ea1fa 195.5px,#6c8ff1 197.5px,#6f92f3 204.5px,#7396f5 205.5px)"></i><i style="background:linear-gradient(90deg,#f6f6fa 0.5px,#f6f6fa 6.5px,#81a4fb 7.5px,#80a3fa 44.5px,#688aef 56.5px,#688aef 64.5px,#94b6ff 65.5px,#94b6ff 134.5px,#7a9df8 135.5px,#799cf8 195.5px,#6e90f2 197.5px,#6f92f3 204.5px,#7295f4 205.5px)"></i><i style="background:linear-gradient(90deg,#f6f6fa 0.5px,#f6f6fa 6.5px,#81a4fb 7.5px,#7ea1fa 45.5px,#688aef 56.5px,#688aef 64.5px,#94b6ff 65.5px,#94b6ff 134.5px,#7a9df8 135.5px,#799cf8 195.5px,#6e90f2 198.5px,#6f92f3 204.5px,#7295f4 205.5px)"></i><i style="background:linear-gradient(90deg,#f6f6fa 0.5px,#f6f6fa 6.5px,#82a6fb 7.5px,#81a4fb 44.5px,#6b8df0 56.5px,#6a8bef 64.5px,#96b7ff 65.5px,#96b7ff 134.5px,#7b9ff9 135.5px,#7b9ff9 195.5px,#6e90f2 198.5px,#6f92f3 204.5px,#7295f4 205.5px)"></i><i style="background:linear-gradient(90deg,#f6f6fa 0.5px,#f6f6fa 6.5px,#88abfd 7.5px,#86a9fc 44.5px,#6f92f3 56.5px,#6f92f3 64.5px,#9bbcff 65.5px,#9bbcff 134.5px,#81a4fb 135.5px,#81a4fb 195.5px,#6f92f3 198.5px,#7295f4 205.5px)"></i></div><div class="im" style="left:25px;top:270px;width:205px"><i style="background:linear-gradient(90deg,#f0f0f6 0.5px,#f0f0f6 5.5px,#89acfd 6.5px,#88abfd 63.5px,#abc8fd 64.5px,#abc8fd 91.5px,#a5c3fe 92.5px,#89acfd 93.5px,#6687ed 94.5px,#4a63d3 95.5px,#4257c9 96.5px,#4358cb 137.5px,#485fd1 143.5px,#4b64d5 144.5px,#6485ec 146.5px,#85a8fc 148.5px,#93b5fe 149.5px,#98b9ff 151.5px,#98b9ff 204.5px)"></i><i style="background:linear-gradient(90deg,#f0f0f6 0.5px,#f0f0f6 5.5px,#8caffe 6.5px,#8caffe 63.5px,#aec9fc 64.5px,#adc9fd 92.5px,#97b8ff 93.5px,#7396f5 94.5px,#516ddb 95.5px,#4257c9 96.5px,#4358cb 138.5px,#4961d2 144.5px,#516ddb 145.5px,#82a6fb 148.5px,#9bbcff 150.5px,#9bbcff 204.5px)"></i><i style="background:linear-gradient(90deg,#f0f0f6 0.5px,#f0f0f6 5.5px,#86a9fc 6.5px,#85a8fc 63.5px,#a9c6fd 64.5px,#a9c6fd 92.5px,#9bbcff 93.5px,#7b9ff9 94.5px,#5a78e4 95.5px,#455cce 96.5px,#4257c9 98.5px,#4358cb 138.5px,#485fd1 144.5px,#4e68d8 145.5px,#688aef 147.5px,#88abfd 149.5px,#93b5fe 150.5px,#96b7ff 204.5px)"></i><i style="background:linear-gradient(90deg,#f0f0f6 0.5px,#f0f0f6 5.5px,#7da0f9 6.5px,#7b9ff9 63.5px,#9fbfff 64.5px,#9fbfff 92.5px,#9abbff 93.5px,#81a4fb 94.5px,#6282ea 95.5px,#4961d2 96.5px,#4257c9 97.5px,#4358cb 138.5px,#485fd1 144.5px,#4b64d5 145.5px,#6e90f2 148.5px,#7da0f9 149.5px,#8caffe 151.5px,#8caffe 204.5px)"></i><i style="background:linear-gradient(90deg,#f0f0f6 0.5px,#f0f0f6 5.5px,#7699f6 6.5px,#7597f6 63.5px,#98b9ff 64.5px,#97b8ff 93.5px,#85a8fc 94.5px,#688aef 95.5px,#4f69d9 96.5px,#4257c9 97.5px,#4358cb 139.5px,#4961d2 145.5px,#5977e3 147.5px,#7da0f9 150.5px,#85a8fc 152.5px,#85a8fc 204.5px)"></i><i style="background:linear-gradient(90deg,#f0f0f6 0.5px,#f0f0f6 5.5px,#7295f4 6.5px,#7093f3 63.5px,#94b6ff 64.5px,#94b6ff 93.5px,#89acfd 94.5px,#7093f3 95.5px,#5572df 96.5px,#445acc 97.5px,#4257c9 104.5px,#4358cb 139.5px,#485fd1 145.5px,#5572df 147.5px,#779af7 150.5px,#81a4fb 152.5px,#81a4fb 204.5px)"></i><i style="background:linear-gradient(90deg,#f0f0f6 0.5px,#f0f0f6 5.5px,#7a9df8 6.5px,#799cf8 63.5px,#9dbdff 64.5px,#9dbdff 93.5px,#97b8ff 94.5px,#80a3fa 95.5px,#6180e9 96.5px,#4961d2 97.5px,#4257c9 98.5px,#4358cb 139.5px,#4a63d3 146.5px,#6c8ff1 149.5px,#84a7fc 151.5px,#89acfd 153.5px,#89acfd 204.5px)"></i><i style="background:linear-gradient(90deg,#f0f0f6 0.5px,#f0f0f6 5.5px,#84a7fc 6.5px,#82a6fb 63.5px,#a5c3fe 64.5px,#a3c2fe 94.5px,#90b2fe 95.5px,#6f92f3 96.5px,#516ddb 97.5px,#4257c9 98.5px,#4358cb 140.5px,#4961d2 146.5px,#506bda 147.5px,#7b9ff9 150.5px,#89acfd 151.5px,#92b4fe 152.5px,#93b5fe 204.5px)"></i><i style="background:linear-gradient(90deg,#f0f0f6 0.5px,#f0f0f6 5.5px,#81a4fb 6.5px,#81a4fb 63.5px,#a3c2fe 64.5px,#a3c2fe 94.5px,#97b8ff 95.5px,#7a9df8 96.5px,#5a78e4 97.5px,#455cce 98.5px,#4257c9 100.5px,#4358cb 140.5px,#485fd1 146.5px,#5875e1 148.5px,#7699f6 150.5px,#8db0fe 152.5px,#90b2fe 204.5px)"></i><i style="background:linear-gradient(90deg,#f0f0f6 0.5px,#f0f0f6 5.5px,#85a8fc 6.5px,#84a7fc 63.5px,#a6c4fe 64.5px,#a6c4fe 94.5px,#a1c0ff 95.5px,#86a9fc 96.5px,#6485ec 97.5px,#4a63d3 98.5px,#4257c9 99.5px,#4358cb 140.5px,#485fd1 146.5px,#4b64d5 147.5px,#5470de 148.5px,#82a6fb 151.5px,#93b5fe 153.5px,#93b5fe 204.5px)"></i><i style="background:linear-gradient(90deg,#f0f0f6 0.5px,#f0f0f6 5.5px,#8fb1fe 6.5px,#8db0fe 63.5px,#afcafc 64.5px,#aec9fc 95.5px,#98b9ff 96.5px,#7597f6 97.5px,#536edd 98.5px,#4257c9 99.5px,#4358cb 141.5px,#4961d2 147.5px,#516ddb 148.5px,#7295f4 150.5px,#93b5fe 152.5px,#9bbcff 153.5px,#9dbdff 204.5px)"></i><i style="background:linear-gradient(90deg,#f0f0f6 0.5px,#f0f0f6 5.5px,#8fb1fe 6.5px,#8db0fe 63.5px,#b1cbfc 64.5px,#b1cbfc 95.5px,#a3c2fe 96.5px,#82a6fb 97.5px,#5d7ce6 98.5px,#455cce 99.5px,#4257c9 101.5px,#4358cb 141.5px,#485fd1 147.5px,#4e68d8 148.5px,#6b8df0 150.5px,#8fb1fe 152.5px,#9abbff 153.5px,#9ebeff 156.5px,#9ebeff 204.5px)"></i><i style="background:linear-gradient(90deg,#f0f0f6 0.5px,#f0f0f6 5.5px,#84a7fc 6.5px,#84a7fc 63.5px,#a6c4fe 64.5px,#a6c4fe 95.5px,#a1c0ff 96.5px,#86a9fc 97.5px,#6485ec 98.5px,#4a63d3 99.5px,#4257c9 100.5px,#4358cb 142.5px,#485fd1 147.5px,#4b64d5 148.5px,#5470de 149.5px,#7295f4 151.5px,#8db0fe 153.5px,#93b5fe 155.5px,#93b5fe 204.5px)"></i><i style="background:linear-gradient(90deg,#f0f0f6 0.5px,#f0f0f6 5.5px,#799cf8 6.5px,#779af7 63.5px,#9bbcff 64.5px,#9abbff 96.5px,#88abfd 97.5px,#6b8df0 98.5px,#506bda 99.5px,#4257c9 100.5px,#4358cb 142.5px,#4961d2 148.5px,#4f69d9 149.5px,#7597f6 152.5px,#86a9fc 154.5px,#88abfd 204.5px)"></i><i style="background:linear-gradient(90deg,#f0f0f6 0.5px,#f0f0f6 5.5px,#799cf8 6.5px,#779af7 63.5px,#9bbcff 64.5px,#9bbcff 96.5px,#90b2fe 97.5px,#7699f6 98.5px,#5875e1 99.5px,#445acc 100.5px,#4257c9 107.5px,#4358cb 142.5px,#485fd1 148.5px,#4c66d6 149.5px,#7093f3 152.5px,#85a8fc 154.5px,#88abfd 204.5px)"></i><i style="background:linear-gradient(90deg,#f0f0f6 0.5px,#f0f0f6 5.5px,#799cf8 6.5px,#779af7 63.5px,#9bbcff 64.5px,#9bbcff 96.5px,#96b7ff 97.5px,#80a3fa 98.5px,#6282ea 99.5px,#4a63d3 100.5px,#4257c9 101.5px,#4358cb 143.5px,#4a63d3 149.5px,#6b8df0 152.5px,#82a6fb 154.5px,#88abfd 156.5px,#88abfd 204.5px)"></i><i style="background:linear-gradient(90deg,#f0f0f6 0.5px,#f0f0f6 5.5px,#7597f6 6.5px,#7396f5 63.5px,#96b7ff 64.5px,#96b7ff 97.5px,#85a8fc 98.5px,#6a8bef 99.5px,#4f69d9 100.5px,#4257c9 101.5px,#4358cb 143.5px,#4961d2 149.5px,#5977e3 151.5px,#7295f4 153.5px,#82a6fb 155.5px,#84a7fc 204.5px)"></i><i style="background:linear-gradient(90deg,#f0f0f6 0.5px,#f0f0f6 5.5px,#7699f6 6.5px,#7396f5 63.5px,#97b8ff 64.5px,#97b8ff 97.5px,#8db0fe 98.5px,#7396f5 99.5px,#5875e1 100.5px,#445acc 101.5px,#4257c9 108.5px,#4358cb 143.5px,#485fd1 149.5px,#5572df 151.5px,#799cf8 154.5px,#84a7fc 156.5px,#84a7fc 204.5px)"></i><i style="background:linear-gradient(90deg,#f0f0f6 0.5px,#f0f0f6 5.5px,#779af7 6.5px,#7699f6 63.5px,#98b9ff 64.5px,#98b9ff 97.5px,#94b6ff 98.5px,#7ea1fa 99.5px,#6180e9 100.5px,#4a63d3 101.5px,#4257c9 102.5px,#4358cb 144.5px,#4a63d3 150.5px,#779af7 154.5px,#85a8fc 156.5px,#85a8fc 204.5px)"></i><i style="background:linear-gradient(90deg,#f0f0f6 0.5px,#f0f0f6 5.5px,#779af7 6.5px,#7699f6 63.5px,#9abbff 64.5px,#98b9ff 98.5px,#88abfd 99.5px,#6b8df0 100.5px,#506bda 101.5px,#4257c9 102.5px,#4257c9 143.5px,#4961d2 150.5px,#4f69d9 151.5px,#7396f5 154.5px,#85a8fc 156.5px,#86a9fc 204.5px)"></i><i style="background:linear-gradient(90deg,#f0f0f6 0.5px,#f0f0f6 5.5px,#7a9df8 6.5px,#799cf8 63.5px,#9bbcff 64.5px,#9bbcff 98.5px,#92b4fe 99.5px,#7699f6 100.5px,#5977e3 101.5px,#455cce 102.5px,#4055c8 103.5px,#4257c9 143.5px,#485fd1 150.5px,#4c66d6 151.5px,#7093f3 154.5px,#86a9fc 156.5px,#89acfd 204.5px)"></i><i style="background:linear-gradient(90deg,#f0f0f6 0.5px,#f0f0f6 5.5px,#7a9df8 6.5px,#799cf8 63.5px,#9dbdff 64.5px,#9dbdff 98.5px,#98b9ff 99.5px,#82a6fb 100.5px,#6384eb 101.5px,#4a63d3 102.5px,#4055c8 103.5px,#4257c9 143.5px,#4a63d3 151.5px,#6c8ff1 154.5px,#84a7fc 156.5px,#89acfd 158.5px,#89acfd 204.5px)"></i><i style="background:linear-gradient(90deg,#f0f0f6 0.5px,#f0f0f6 5.5px,#779af7 6.5px,#7699f6 63.5px,#98b9ff 64.5px,#98b9ff 99.5px,#89acfd 100.5px,#6e90f2 101.5px,#536edd 102.5px,#4358cb 103.5px,#4055c8 110.5px,#4257c9 144.5px,#4961d2 151.5px,#5977e3 153.5px,#7ea1fa 156.5px,#85a8fc 157.5px,#85a8fc 204.5px)"></i><i style="background:linear-gradient(90deg,#f0f0f6 0.5px,#f0f0f6 5.5px,#799cf8 6.5px,#779af7 63.5px,#9abbff 64.5px,#9abbff 99.5px,#93b5fe 100.5px,#7a9df8 101.5px,#5d7ce6 102.5px,#465ecf 103.5px,#4055c8 104.5px,#4257c9 144.5px,#485fd1 151.5px,#4c66d6 152.5px,#7b9ff9 156.5px,#86a9fc 158.5px,#86a9fc 204.5px)"></i><i style="background:linear-gradient(90deg,#f0f0f6 0.5px,#f0f0f6 5.5px,#7b9ff9 6.5px,#799cf8 63.5px,#9dbdff 64.5px,#9abbff 100.5px,#88abfd 101.5px,#6a8bef 102.5px,#4f69d9 103.5px,#4257c9 104.5px,#4257c9 145.5px,#4a63d3 152.5px,#6c8ff1 155.5px,#84a7fc 157.5px,#89acfd 159.5px,#89acfd 204.5px)"></i><i style="background:linear-gradient(90deg,#f0f0f6 0.5px,#f0f0f6 5.5px,#7597f6 6.5px,#7295f4 63.5px,#96b7ff 64.5px,#96b7ff 100.5px,#8badfd 101.5px,#7295f4 102.5px,#5673e0 103.5px,#445acc 104.5px,#4055c8 106.5px,#4257c9 145.5px,#4961d2 152.5px,#5977e3 154.5px,#7b9ff9 157.5px,#82a6fb 159.5px,#82a6fb 204.5px)"></i><i style="background:linear-gradient(90deg,#f0f0f6 0.5px,#f0f0f6 5.5px,#7093f3 6.5px,#6f92f3 63.5px,#92b4fe 64.5px,#8fb1fe 101.5px,#7a9df8 102.5px,#4961d2 104.5px,#4055c8 105.5px,#4257c9 145.5px,#485fd1 152.5px,#4b64d5 153.5px,#7597f6 157.5px,#7da0f9 158.5px,#7ea1fa 204.5px)"></i><i style="background:linear-gradient(90deg,#f0f0f6 0.5px,#f0f0f6 5.5px,#7ea1fa 6.5px,#7b9ff9 63.5px,#9fbfff 64.5px,#9ebeff 101.5px,#8fb1fe 102.5px,#7093f3 103.5px,#5470de 104.5px,#4257c9 105.5px,#4257c9 146.5px,#465ecf 152.5px,#4a63d3 153.5px,#5f7fe8 155.5px,#7b9ff9 157.5px,#8caffe 159.5px,#8caffe 204.5px)"></i><i style="background:linear-gradient(90deg,#f0f0f6 0.5px,#f0f0f6 5.5px,#8caffe 6.5px,#89acfd 63.5px,#abc8fd 64.5px,#abc8fd 101.5px,#a3c2fe 102.5px,#86a9fc 103.5px,#6282ea 104.5px,#485fd1 105.5px,#4055c8 106.5px,#4257c9 146.5px,#4961d2 153.5px,#516ddb 154.5px,#7093f3 156.5px,#90b2fe 158.5px,#98b9ff 159.5px,#98b9ff 204.5px)"></i><i style="background:linear-gradient(90deg,#f0f0f6 0.5px,#f0f0f6 5.5px,#88abfd 6.5px,#85a8fc 63.5px,#a7c5fe 64.5px,#a6c4fe 102.5px,#90b2fe 103.5px,#6f92f3 104.5px,#506bda 105.5px,#4055c8 106.5px,#4257c9 146.5px,#485fd1 153.5px,#4e68d8 154.5px,#688aef 156.5px,#88abfd 158.5px,#93b5fe 159.5px,#96b7ff 204.5px)"></i><i style="background:linear-gradient(90deg,#f0f0f6 0.5px,#f0f0f6 5.5px,#7b9ff9 6.5px,#799cf8 63.5px,#9dbdff 64.5px,#9dbdff 102.5px,#92b4fe 103.5px,#7699f6 104.5px,#5875e1 105.5px,#445acc 106.5px,#4055c8 108.5px,#4257c9 147.5px,#465ecf 153.5px,#4a63d3 154.5px,#6c8ff1 157.5px,#85a8fc 159.5px,#89acfd 162.5px,#89acfd 204.5px)"></i><i style="background:linear-gradient(90deg,#f0f0f6 0.5px,#f0f0f6 5.5px,#7597f6 6.5px,#7396f5 63.5px,#96b7ff 64.5px,#96b7ff 102.5px,#92b4fe 103.5px,#7da0f9 104.5px,#6180e9 105.5px,#4961d2 106.5px,#4055c8 107.5px,#4257c9 147.5px,#4961d2 154.5px,#5977e3 156.5px,#7295f4 158.5px,#82a6fb 160.5px,#82a6fb 204.5px)"></i><i style="background:linear-gradient(90deg,#f0f0f6 0.5px,#f0f0f6 5.5px,#7093f3 6.5px,#6e90f2 63.5px,#92b4fe 64.5px,#92b4fe 103.5px,#84a7fc 104.5px,#6a8bef 105.5px,#506bda 106.5px,#4257c9 107.5px,#4257c9 148.5px,#485fd1 154.5px,#4b64d5 155.5px,#7597f6 159.5px,#7da0f9 160.5px,#7ea1fa 204.5px)"></i><i style="background:linear-gradient(90deg,#f0f0f6 0.5px,#f0f0f6 5.5px,#7699f6 6.5px,#7396f5 63.5px,#96b7ff 64.5px,#96b7ff 103.5px,#8fb1fe 104.5px,#779af7 105.5px,#5b7ae5 106.5px,#465ecf 107.5px,#4055c8 108.5px,#4257c9 148.5px,#465ecf 154.5px,#516ddb 156.5px,#7699f6 159.5px,#82a6fb 161.5px,#82a6fb 204.5px)"></i><i style="background:linear-gradient(90deg,#f0f0f6 0.5px,#f0f0f6 5.5px,#80a3fa 6.5px,#7da0f9 63.5px,#9fbfff 64.5px,#9ebeff 104.5px,#8badfd 105.5px,#6b8df0 106.5px,#4f69d9 107.5px,#4055c8 108.5px,#4257c9 148.5px,#4961d2 155.5px,#5b7ae5 157.5px,#799cf8 159.5px,#8caffe 161.5px,#8db0fe 204.5px)"></i><i style="background:linear-gradient(90deg,#f0f0f6 0.5px,#f0f0f6 5.5px,#82a6fb 6.5px,#80a3fa 63.5px,#a2c1ff 64.5px,#a2c1ff 104.5px,#97b8ff 105.5px,#799cf8 106.5px,#5977e3 107.5px,#445acc 108.5px,#4055c8 110.5px,#4257c9 149.5px,#485fd1 155.5px,#4c66d6 156.5px,#7699f6 159.5px,#8db0fe 161.5px,#90b2fe 204.5px)"></i><i style="background:linear-gradient(90deg,#f0f0f6 0.5px,#f0f0f6 5.5px,#8badfd 6.5px,#88abfd 63.5px,#aac7fd 64.5px,#aac7fd 104.5px,#a6c4fe 105.5px,#8caffe 106.5px,#688aef 107.5px,#4b64d5 108.5px,#4055c8 109.5px,#4257c9 149.5px,#465ecf 155.5px,#4b64d5 156.5px,#6485ec 158.5px,#86a9fc 160.5px,#97b8ff 162.5px,#97b8ff 204.5px)"></i><i style="background:linear-gradient(90deg,#f0f0f6 0.5px,#f0f0f6 5.5px,#92b4fe 6.5px,#8fb1fe 63.5px,#b1cbfc 64.5px,#b1cbfc 105.5px,#9ebeff 106.5px,#7a9df8 107.5px,#5673e0 108.5px,#4257c9 109.5px,#4257c9 149.5px,#4961d2 156.5px,#6180e9 158.5px,#85a8fc 160.5px,#9ebeff 162.5px,#9ebeff 204.5px)"></i><i style="background:linear-gradient(90deg,#f0f0f6 0.5px,#f0f0f6 5.5px,#8caffe 6.5px,#88abfd 63.5px,#abc8fd 64.5px,#abc8fd 105.5px,#a2c1ff 106.5px,#85a8fc 107.5px,#6282ea 108.5px,#485fd1 109.5px,#4055c8 110.5px,#4257c9 150.5px,#485fd1 156.5px,#4e68d8 157.5px,#7b9ff9 160.5px,#96b7ff 162.5px,#98b9ff 204.5px)"></i><i style="background:linear-gradient(90deg,#f0f0f6 0.5px,#f0f0f6 5.5px,#86a9fc 6.5px,#82a6fb 63.5px,#a5c3fe 64.5px,#a3c2fe 106.5px,#8db0fe 107.5px,#6c8ff1 108.5px,#4f69d9 109.5px,#4055c8 110.5px,#4257c9 150.5px,#465ecf 156.5px,#4a63d3 157.5px,#6282ea 159.5px,#82a6fb 161.5px,#8db0fe 162.5px,#92b4fe 165.5px,#92b4fe 204.5px)"></i><i style="background:linear-gradient(90deg,#f0f0f6 0.5px,#f0f0f6 5.5px,#82a6fb 6.5px,#80a3fa 53.5px,#7ea1fa 63.5px,#a1c0ff 64.5px,#a1c0ff 106.5px,#96b7ff 107.5px,#799cf8 108.5px,#5977e3 109.5px,#445acc 110.5px,#4055c8 112.5px,#4257c9 151.5px,#4961d2 157.5px,#506bda 158.5px,#7a9df8 161.5px,#8db0fe 163.5px,#8fb1fe 204.5px)"></i><i style="background:linear-gradient(90deg,#f0f0f6 0.5px,#f0f0f6 5.5px,#7a9df8 6.5px,#779af7 49.5px,#7699f6 63.5px,#98b9ff 64.5px,#98b9ff 106.5px,#94b6ff 107.5px,#7ea1fa 108.5px,#6180e9 109.5px,#4961d2 110.5px,#4055c8 111.5px,#4257c9 151.5px,#485fd1 157.5px,#4c66d6 158.5px,#7b9ff9 162.5px,#84a7fc 163.5px,#85a8fc 204.5px)"></i><i style="background:linear-gradient(90deg,#f0f0f6 0.5px,#f0f0f6 5.5px,#7597f6 6.5px,#7396f5 42.5px,#7093f3 63.5px,#93b5fe 64.5px,#93b5fe 107.5px,#85a8fc 108.5px,#6b8df0 109.5px,#516ddb 110.5px,#4257c9 111.5px,#4257c9 151.5px,#465ecf 157.5px,#516ddb 159.5px,#7396f5 162.5px,#7da0f9 163.5px,#80a3fa 204.5px)"></i><i style="background:linear-gradient(90deg,#f0f0f6 0.5px,#f0f0f6 5.5px,#81a4fb 6.5px,#7b9ff9 63.5px,#9fbfff 64.5px,#9fbfff 107.5px,#9bbcff 108.5px,#84a7fc 109.5px,#6485ec 110.5px,#4a63d3 111.5px,#4055c8 112.5px,#4257c9 152.5px,#4961d2 158.5px,#6b8df0 161.5px,#85a8fc 163.5px,#8caffe 164.5px,#8caffe 204.5px)"></i><i style="background:linear-gradient(90deg,#f0f0f6 0.5px,#f0f0f6 5.5px,#89acfd 6.5px,#89acfd 39.5px,#85a8fc 63.5px,#a9c6fd 64.5px,#a9c6fd 108.5px,#9dbdff 109.5px,#7da0f9 110.5px,#5b7ae5 111.5px,#445acc 112.5px,#4055c8 114.5px,#4257c9 152.5px,#485fd1 158.5px,#4f69d9 159.5px,#7da0f9 162.5px,#94b6ff 164.5px,#96b7ff 204.5px)"></i><i style="background:linear-gradient(90deg,#f0f0f6 0.5px,#f0f0f6 5.5px,#89acfd 6.5px,#88abfd 43.5px,#85a8fc 63.5px,#a9c6fd 64.5px,#a6c4fe 109.5px,#90b2fe 110.5px,#6e90f2 111.5px,#506bda 112.5px,#4055c8 113.5px,#4257c9 152.5px,#465ecf 158.5px,#4c66d6 159.5px,#6788ee 161.5px,#86a9fc 163.5px,#92b4fe 164.5px,#94b6ff 204.5px)"></i><i style="background:linear-gradient(90deg,#f0f0f6 0.5px,#f0f0f6 5.5px,#90b2fe 6.5px,#8fb1fe 43.5px,#8caffe 63.5px,#afcafc 64.5px,#afcafc 109.5px,#a6c4fe 110.5px,#88abfd 111.5px,#6384eb 112.5px,#485fd1 113.5px,#4055c8 114.5px,#4257c9 153.5px,#465ecf 158.5px,#4a63d3 159.5px,#6687ed 161.5px,#89acfd 163.5px,#96b7ff 164.5px,#9bbcff 166.5px,#9bbcff 204.5px)"></i><i style="background:linear-gradient(90deg,#f0f0f6 0.5px,#f0f0f6 5.5px,#90b2fe 6.5px,#8fb1fe 40.5px,#8badfd 63.5px,#aec9fc 64.5px,#aec9fc 110.5px,#9bbcff 111.5px,#799cf8 112.5px,#5572df 113.5px,#4257c9 114.5px,#4257c9 153.5px,#4961d2 159.5px,#6180e9 161.5px,#84a7fc 163.5px,#93b5fe 164.5px,#9bbcff 166.5px,#9bbcff 204.5px)"></i><i style="background:linear-gradient(90deg,#f0f0f6 0.5px,#f0f0f6 5.5px,#8caffe 6.5px,#8badfd 42.5px,#86a9fc 63.5px,#abc8fd 64.5px,#abc8fd 110.5px,#a6c4fe 111.5px,#8caffe 112.5px,#6788ee 113.5px,#4b64d5 114.5px,#4055c8 115.5px,#4257c9 154.5px,#485fd1 159.5px,#4f69d9 160.5px,#7da0f9 163.5px,#8caffe 164.5px,#96b7ff 165.5px,#97b8ff 204.5px)"></i><i style="background:linear-gradient(90deg,#f0f0f6 0.5px,#f0f0f6 5.5px,#90b2fe 6.5px,#8fb1fe 42.5px,#8badfd 63.5px,#afcafc 64.5px,#afcafc 111.5px,#a1c0ff 112.5px,#80a3fa 113.5px,#5b7ae5 114.5px,#445acc 115.5px,#4055c8 117.5px,#4257c9 154.5px,#465ecf 159.5px,#4c66d6 160.5px,#688aef 162.5px,#8caffe 164.5px,#97b8ff 165.5px,#9bbcff 168.5px,#9bbcff 204.5px)"></i><i style="background:linear-gradient(90deg,#f0f0f6 0.5px,#f0f0f6 5.5px,#85a8fc 6.5px,#85a8fc 37.5px,#81a4fb 63.5px,#a5c3fe 64.5px,#a2c1ff 112.5px,#8db0fe 113.5px,#6b8df0 114.5px,#4e68d8 115.5px,#4055c8 116.5px,#4257c9 154.5px,#465ecf 159.5px,#4a63d3 160.5px,#536edd 161.5px,#7093f3 163.5px,#8badfd 165.5px,#90b2fe 167.5px,#90b2fe 204.5px)"></i><i style="background:linear-gradient(90deg,#f0f0f6 0.5px,#f0f0f6 5.5px,#799cf8 6.5px,#779af7 38.5px,#7396f5 63.5px,#97b8ff 64.5px,#97b8ff 112.5px,#90b2fe 113.5px,#779af7 114.5px,#5a78e4 115.5px,#455cce 116.5px,#4055c8 117.5px,#4257c9 155.5px,#485fd1 160.5px,#6687ed 163.5px,#7da0f9 165.5px,#82a6fb 167.5px,#82a6fb 204.5px)"></i><i style="background:linear-gradient(90deg,#f0f0f6 0.5px,#f0f0f6 5.5px,#80a3fa 6.5px,#7ea1fa 39.5px,#7a9df8 63.5px,#9fbfff 64.5px,#9ebeff 113.5px,#8db0fe 114.5px,#6f92f3 115.5px,#516ddb 116.5px,#4257c9 117.5px,#4257c9 155.5px,#465ecf 160.5px,#4c66d6 161.5px,#7396f5 164.5px,#88abfd 166.5px,#89acfd 204.5px)"></i><i style="background:linear-gradient(90deg,#f0f0f6 0.5px,#f0f0f6 5.5px,#8badfd 6.5px,#89acfd 40.5px,#85a8fc 63.5px,#aac7fd 64.5px,#aac7fd 113.5px,#a5c3fe 114.5px,#89acfd 115.5px,#6687ed 116.5px,#4a63d3 117.5px,#4055c8 118.5px,#4257c9 155.5px,#465ecf 160.5px,#4b64d5 161.5px,#6687ed 163.5px,#86a9fc 165.5px,#92b4fe 166.5px,#94b6ff 204.5px)"></i><i style="background:linear-gradient(90deg,#f0f0f6 0.5px,#f0f0f6 5.5px,#90b2fe 6.5px,#90b2fe 36.5px,#8badfd 63.5px,#afcafc 64.5px,#afcafc 114.5px,#a1c0ff 115.5px,#7ea1fa 116.5px,#5a78e4 117.5px,#4358cb 118.5px,#4055c8 125.5px,#4257c9 156.5px,#4a63d3 161.5px,#5470de 162.5px,#7597f6 164.5px,#94b6ff 166.5px,#9abbff 168.5px,#9abbff 204.5px)"></i><i style="background:linear-gradient(90deg,#f0f0f6 0.5px,#f0f0f6 5.5px,#94b6ff 6.5px,#94b6ff 36.5px,#8fb1fe 63.5px,#b3cdfb 64.5px,#b1cbfc 115.5px,#97b8ff 116.5px,#7093f3 117.5px,#4f69d9 118.5px,#4055c8 119.5px,#4257c9 156.5px,#485fd1 161.5px,#516ddb 162.5px,#7295f4 164.5px,#94b6ff 166.5px,#9ebeff 167.5px,#9ebeff 204.5px)"></i><i style="background:linear-gradient(90deg,#f0f0f6 0.5px,#f0f0f6 5.5px,#94b6ff 6.5px,#93b5fe 38.5px,#8db0fe 63.5px,#b3cdfb 64.5px,#b3cdfb 115.5px,#a9c6fd 116.5px,#88abfd 117.5px,#6180e9 118.5px,#465ecf 119.5px,#4055c8 120.5px,#4257c9 156.5px,#465ecf 161.5px,#4e68d8 162.5px,#80a3fa 165.5px,#90b2fe 166.5px,#9bbcff 167.5px,#9ebeff 204.5px)"></i><i style="background:linear-gradient(90deg,#f0f0f6 0.5px,#f0f0f6 5.5px,#94b6ff 6.5px,#93b5fe 37.5px,#8db0fe 63.5px,#b3cdfb 64.5px,#b2ccfb 116.5px,#9dbdff 117.5px,#779af7 118.5px,#5470de 119.5px,#4055c8 120.5px,#4257c9 157.5px,#465ecf 161.5px,#4b64d5 162.5px,#688aef 164.5px,#8caffe 166.5px,#98b9ff 167.5px,#9dbdff 170.5px,#9dbdff 204.5px)"></i><i style="background:linear-gradient(90deg,#f0f0f6 0.5px,#f0f0f6 5.5px,#8db0fe 6.5px,#8db0fe 36.5px,#86a9fc 63.5px,#aec9fc 64.5px,#aec9fc 116.5px,#a7c5fe 117.5px,#8badfd 118.5px,#6687ed 119.5px,#4961d2 120.5px,#4055c8 121.5px,#4257c9 157.5px,#455cce 161.5px,#4961d2 162.5px,#536edd 163.5px,#7295f4 165.5px,#84a7fc 166.5px,#97b8ff 168.5px,#97b8ff 204.5px)"></i><i style="background:linear-gradient(90deg,#f0f0f6 0.5px,#f0f0f6 5.5px,#81a4fb 6.5px,#80a3fa 38.5px,#7a9df8 63.5px,#a1c0ff 64.5px,#a1c0ff 117.5px,#93b5fe 118.5px,#7597f6 119.5px,#5572df 120.5px,#4257c9 121.5px,#3f53c6 128.5px,#4055c8 156.5px,#485fd1 162.5px,#4e68d8 163.5px,#7699f6 166.5px,#89acfd 168.5px,#89acfd 204.5px)"></i><i style="background:linear-gradient(90deg,#f0f0f6 0.5px,#f0f0f6 5.5px,#7da0f9 6.5px,#7b9ff9 37.5px,#7699f6 63.5px,#9dbdff 64.5px,#9abbff 118.5px,#85a8fc 119.5px,#6687ed 120.5px,#4b64d5 121.5px,#3f53c6 122.5px,#4055c8 156.5px,#465ecf 162.5px,#4b64d5 163.5px,#6f92f3 166.5px,#84a7fc 168.5px,#85a8fc 204.5px)"></i><i style="background:linear-gradient(90deg,#f0f0f6 0.5px,#f0f0f6 5.5px,#81a4fb 6.5px,#80a3fa 37.5px,#799cf8 63.5px,#a1c0ff 64.5px,#a1c0ff 118.5px,#97b8ff 119.5px,#7b9ff9 120.5px,#5a78e4 121.5px,#445acc 122.5px,#3f53c6 123.5px,#4055c8 157.5px,#455cce 162.5px,#536edd 164.5px,#7b9ff9 167.5px,#89acfd 169.5px,#89acfd 204.5px)"></i><i style="background:linear-gradient(90deg,#f0f0f6 0.5px,#f0f0f6 5.5px,#84a7fc 6.5px,#84a7fc 36.5px,#7da0f9 63.5px,#a5c3fe 64.5px,#a3c2fe 119.5px,#90b2fe 120.5px,#6f92f3 121.5px,#506bda 122.5px,#4055c8 123.5px,#4055c8 157.5px,#485fd1 163.5px,#6c8ff1 166.5px,#86a9fc 168.5px,#8db0fe 170.5px,#8db0fe 204.5px)"></i><i style="background:linear-gradient(90deg,#f0f0f6 0.5px,#f0f0f6 5.5px,#86a9fc 6.5px,#86a9fc 33.5px,#7ea1fa 63.5px,#a7c5fe 64.5px,#a7c5fe 119.5px,#a1c0ff 120.5px,#85a8fc 121.5px,#6282ea 122.5px,#485fd1 123.5px,#3f53c6 124.5px,#4055c8 157.5px,#465ecf 163.5px,#5a78e4 165.5px,#799cf8 167.5px,#8db0fe 169.5px,#8fb1fe 204.5px)"></i><i style="background:linear-gradient(90deg,#f0f0f6 0.5px,#f0f0f6 5.5px,#8badfd 6.5px,#8badfd 34.5px,#82a6fb 63.5px,#abc8fd 64.5px,#abc8fd 120.5px,#9ebeff 121.5px,#7da0f9 122.5px,#5a78e4 123.5px,#4358cb 124.5px,#3f53c6 126.5px,#4055c8 158.5px,#465ecf 163.5px,#4c66d6 164.5px,#799cf8 167.5px,#90b2fe 169.5px,#93b5fe 204.5px)"></i><i style="background:linear-gradient(90deg,#f0f0f6 0.5px,#f0f0f6 5.5px,#92b4fe 6.5px,#92b4fe 34.5px,#89acfd 63.5px,#b2ccfb 64.5px,#b1cbfc 121.5px,#9abbff 122.5px,#7597f6 123.5px,#516ddb 124.5px,#4055c8 125.5px,#4055c8 158.5px,#455cce 163.5px,#4b64d5 164.5px,#688aef 166.5px,#8badfd 168.5px,#96b7ff 169.5px,#9abbff 172.5px,#9abbff 204.5px)"></i><i style="background:linear-gradient(90deg,#f0f0f6 0.5px,#f0f0f6 5.5px,#96b7ff 6.5px,#96b7ff 34.5px,#8db0fe 63.5px,#b6cefa 64.5px,#b6cefa 121.5px,#afcafc 122.5px,#93b5fe 123.5px,#6a8bef 124.5px,#4a63d3 125.5px,#3f53c6 126.5px,#4055c8 158.5px,#455cce 163.5px,#4a63d3 164.5px,#6788ee 166.5px,#8badfd 168.5px,#98b9ff 169.5px,#9dbdff 172.5px,#9dbdff 204.5px)"></i><i style="background:linear-gradient(90deg,#f0f0f6 0.5px,#f0f0f6 5.5px,#8caffe 6.5px,#8caffe 34.5px,#84a7fc 63.5px,#adc9fd 64.5px,#adc9fd 122.5px,#a1c0ff 123.5px,#81a4fb 124.5px,#5b7ae5 125.5px,#445acc 126.5px,#3f53c6 127.5px,#4055c8 159.5px,#4961d2 164.5px,#6180e9 166.5px,#81a4fb 168.5px,#8db0fe 169.5px,#94b6ff 171.5px,#94b6ff 204.5px)"></i><i style="background:linear-gradient(90deg,#f0f0f6 0.5px,#f0f0f6 5.5px,#7a9df8 6.5px,#7a9df8 33.5px,#7295f4 63.5px,#9bbcff 64.5px,#9bbcff 123.5px,#89acfd 124.5px,#6b8df0 125.5px,#506bda 126.5px,#4055c8 127.5px,#4055c8 159.5px,#485fd1 164.5px,#4e68d8 165.5px,#7295f4 168.5px,#81a4fb 170.5px,#81a4fb 204.5px)"></i><i style="background:linear-gradient(90deg,#f0f0f6 0.5px,#f0f0f6 5.5px,#799cf8 6.5px,#799cf8 35.5px,#7093f3 63.5px,#9bbcff 64.5px,#9bbcff 123.5px,#97b8ff 124.5px,#80a3fa 125.5px,#6282ea 126.5px,#4961d2 127.5px,#3f53c6 128.5px,#4055c8 159.5px,#465ecf 164.5px,#5673e0 166.5px,#6f92f3 168.5px,#80a3fa 170.5px,#81a4fb 204.5px)"></i><i style="background:linear-gradient(90deg,#f0f0f6 0.5px,#f0f0f6 5.5px,#80a3fa 6.5px,#80a3fa 33.5px,#7699f6 63.5px,#a1c0ff 64.5px,#a1c0ff 124.5px,#97b8ff 125.5px,#7a9df8 126.5px,#5a78e4 127.5px,#445acc 128.5px,#3f53c6 129.5px,#4055c8 159.5px,#455cce 164.5px,#4b64d5 165.5px,#7093f3 168.5px,#85a8fc 170.5px,#86a9fc 204.5px)"></i><i style="background:linear-gradient(90deg,#f0f0f6 0.5px,#f0f0f6 5.5px,#7ea1fa 6.5px,#7ea1fa 34.5px,#7597f6 63.5px,#9fbfff 64.5px,#9fbfff 125.5px,#8fb1fe 126.5px,#6f92f3 127.5px,#516ddb 128.5px,#4055c8 129.5px,#4055c8 160.5px,#455cce 164.5px,#4a63d3 165.5px,#6e90f2 168.5px,#82a6fb 170.5px,#85a8fc 204.5px)"></i><i style="background:linear-gradient(90deg,#f0f0f6 0.5px,#f0f0f6 5.5px,#86a9fc 6.5px,#89acfd 28.5px,#7ea1fa 63.5px,#a9c6fd 64.5px,#a9c6fd 125.5px,#a5c3fe 126.5px,#8caffe 127.5px,#6a8bef 128.5px,#4b64d5 129.5px,#3f53c6 130.5px,#4055c8 160.5px,#455cce 164.5px,#4a63d3 165.5px,#6282ea 167.5px,#80a3fa 169.5px,#8db0fe 171.5px,#8db0fe 204.5px)"></i><i style="background:linear-gradient(90deg,#f0f0f6 0.5px,#f0f0f6 5.5px,#96b7ff 6.5px,#98b9ff 28.5px,#8db0fe 62.5px,#8db0fe 63.5px,#b7cff9 64.5px,#b7cff9 126.5px,#adc9fd 127.5px,#8caffe 128.5px,#6384eb 129.5px,#465ecf 130.5px,#3f53c6 131.5px,#4055c8 160.5px,#445acc 164.5px,#4961d2 165.5px,#6485ec 167.5px,#88abfd 169.5px,#96b7ff 170.5px,#9dbdff 171.5px,#9dbdff 204.5px)"></i><i style="background:linear-gradient(90deg,#f0f0f6 0.5px,#f0f0f6 5.5px,#9dbdff 6.5px,#9fbfff 28.5px,#94b6ff 62.5px,#94b6ff 63.5px,#bed2f6 64.5px,#bed2f6 127.5px,#aac7fd 128.5px,#82a6fb 129.5px,#5a78e4 130.5px,#4257c9 131.5px,#3f53c6 138.5px,#4055c8 161.5px,#485fd1 165.5px,#6384eb 167.5px,#8badfd 169.5px,#a3c2fe 171.5px,#a3c2fe 204.5px)"></i><i style="background:linear-gradient(90deg,#f0f0f6 0.5px,#f0f0f6 5.5px,#96b7ff 6.5px,#96b7ff 34.5px,#8caffe 63.5px,#b6cefa 64.5px,#b3cdfb 128.5px,#9abbff 129.5px,#7295f4 130.5px,#4f69d9 131.5px,#3f53c6 132.5px,#4055c8 161.5px,#465ecf 165.5px,#4f69d9 166.5px,#82a6fb 169.5px,#92b4fe 170.5px,#9abbff 171.5px,#9bbcff 204.5px)"></i><i style="background:linear-gradient(90deg,#f0f0f6 0.5px,#f0f0f6 5.5px,#86a9fc 6.5px,#86a9fc 34.5px,#7da0f9 63.5px,#a9c6fd 64.5px,#a9c6fd 128.5px,#a1c0ff 129.5px,#84a7fc 130.5px,#6180e9 131.5px,#465ecf 132.5px,#3f53c6 133.5px,#4055c8 161.5px,#455cce 165.5px,#5875e1 167.5px,#82a6fb 170.5px,#8badfd 171.5px,#8caffe 204.5px)"></i><i style="background:linear-gradient(90deg,#f0f0f6 0.5px,#f0f0f6 5.5px,#7ea1fa 6.5px,#81a4fb 28.5px,#7597f6 63.5px,#a1c0ff 64.5px,#a1c0ff 129.5px,#92b4fe 130.5px,#7597f6 131.5px,#5572df 132.5px,#4257c9 133.5px,#3f53c6 140.5px,#4055c8 161.5px,#455cce 165.5px,#4a63d3 166.5px,#6e90f2 169.5px,#82a6fb 171.5px,#85a8fc 204.5px)"></i><i style="background:linear-gradient(90deg,#f0f0f6 0.5px,#f0f0f6 5.5px,#84a7fc 6.5px,#86a9fc 28.5px,#7a9df8 61.5px,#7a9df8 63.5px,#a6c4fe 64.5px,#a3c2fe 130.5px,#8db0fe 131.5px,#6c8ff1 132.5px,#4e68d8 133.5px,#3f53c6 134.5px,#4055c8 162.5px,#445acc 165.5px,#4961d2 166.5px,#6e90f2 169.5px,#86a9fc 171.5px,#89acfd 204.5px)"></i><i style="background:linear-gradient(90deg,#f0f0f6 0.5px,#f0f0f6 5.5px,#8db0fe 6.5px,#8db0fe 33.5px,#82a6fb 63.5px,#aec9fc 64.5px,#aec9fc 130.5px,#a7c5fe 131.5px,#8badfd 132.5px,#6485ec 133.5px,#485fd1 134.5px,#3f53c6 135.5px,#4055c8 162.5px,#485fd1 166.5px,#7093f3 169.5px,#8db0fe 171.5px,#93b5fe 173.5px,#93b5fe 204.5px)"></i><i style="background:linear-gradient(90deg,#f0f0f6 0.5px,#f0f0f6 5.5px,#8db0fe 6.5px,#8db0fe 33.5px,#82a6fb 63.5px,#aec9fc 64.5px,#aec9fc 131.5px,#9fbfff 132.5px,#7ea1fa 133.5px,#5a78e4 134.5px,#4257c9 135.5px,#3f53c6 142.5px,#4055c8 162.5px,#465ecf 166.5px,#5e7de7 168.5px,#7ea1fa 170.5px,#92b4fe 172.5px,#93b5fe 204.5px)"></i><i style="background:linear-gradient(90deg,#f0f0f6 0.5px,#f0f0f6 5.5px,#90b2fe 6.5px,#93b5fe 27.5px,#85a8fc 62.5px,#85a8fc 63.5px,#b1cbfc 64.5px,#afcafc 132.5px,#98b9ff 133.5px,#7396f5 134.5px,#4c66d6 135.5px,#3f53c6 136.5px,#4055c8 163.5px,#455cce 166.5px,#5b7ae5 168.5px,#7da0f9 170.5px,#8caffe 171.5px,#94b6ff 172.5px,#96b7ff 204.5px)"></i><i style="background:linear-gradient(90deg,#f0f0f6 0.5px,#f0f0f6 5.5px,#97b8ff 6.5px,#97b8ff 33.5px,#8caffe 61.5px,#8caffe 63.5px,#b7cff9 64.5px,#b7cff9 132.5px,#b1cbfc 133.5px,#93b5fe 134.5px,#5f7fe8 135.5px,#485fd1 136.5px,#3f53c6 137.5px,#4055c8 163.5px,#455cce 166.5px,#4c66d6 167.5px,#6c8ff1 169.5px,#8fb1fe 171.5px,#9abbff 172.5px,#9bbcff 204.5px)"></i><i style="background:linear-gradient(90deg,#f0f0f6 0.5px,#f0f0f6 5.5px,#94b6ff 6.5px,#97b8ff 27.5px,#89acfd 62.5px,#89acfd 63.5px,#b5cdfa 64.5px,#b5cdfa 133.5px,#a7c5fe 134.5px,#7396f5 135.5px,#5673e0 136.5px,#4358cb 137.5px,#3f53c6 139.5px,#4055c8 163.5px,#445acc 166.5px,#4b64d5 167.5px,#688aef 169.5px,#8badfd 171.5px,#96b7ff 172.5px,#9abbff 175.5px,#9abbff 204.5px)"></i><i style="background:linear-gradient(90deg,#f0f0f6 0.5px,#f0f0f6 5.5px,#8badfd 6.5px,#8badfd 33.5px,#80a3fa 61.5px,#7ea1fa 63.5px,#aac7fd 64.5px,#aac7fd 134.5px,#80a3fa 135.5px,#6687ed 136.5px,#4e68d8 137.5px,#4055c8 138.5px,#4055c8 163.5px,#445acc 166.5px,#4961d2 167.5px,#7295f4 170.5px,#8badfd 172.5px,#8fb1fe 175.5px,#8fb1fe 204.5px)"></i><i style="background:linear-gradient(90deg,#f0f0f6 0.5px,#f0f0f6 5.5px,#81a4fb 6.5px,#84a7fc 28.5px,#7699f6 61.5px,#7699f6 63.5px,#a2c1ff 64.5px,#a2c1ff 134.5px,#82a6fb 135.5px,#7093f3 136.5px,#465ecf 138.5px,#3f53c6 139.5px,#4055c8 164.5px,#485fd1 167.5px,#688aef 170.5px,#81a4fb 172.5px,#86a9fc 176.5px,#86a9fc 204.5px)"></i><i style="background:linear-gradient(90deg,#f0f0f6 0.5px,#f0f0f6 5.5px,#80a3fa 6.5px,#80a3fa 33.5px,#7396f5 62.5px,#7396f5 63.5px,#9fbfff 64.5px,#9fbfff 134.5px,#84a7fc 135.5px,#7b9ff9 136.5px,#6687ed 137.5px,#506bda 138.5px,#4257c9 139.5px,#3f53c6 146.5px,#4055c8 164.5px,#465ecf 167.5px,#6485ec 170.5px,#7da0f9 172.5px,#84a7fc 174.5px,#84a7fc 204.5px)"></i><i style="background:linear-gradient(90deg,#f0f0f6 0.5px,#f0f0f6 5.5px,#84a7fc 6.5px,#88abfd 25.5px,#799cf8 61.5px,#799cf8 63.5px,#a5c3fe 64.5px,#a5c3fe 134.5px,#88abfd 135.5px,#88abfd 136.5px,#779af7 137.5px,#6180e9 138.5px,#4a63d3 139.5px,#3f53c6 140.5px,#4055c8 164.5px,#455cce 167.5px,#4b64d5 168.5px,#7396f5 171.5px,#80a3fa 172.5px,#88abfd 174.5px,#88abfd 204.5px)"></i><i style="background:linear-gradient(90deg,#f0f0f6 0.5px,#f0f0f6 5.5px,#8fb1fe 6.5px,#92b4fe 27.5px,#84a7fc 60.5px,#82a6fb 63.5px,#afcafc 64.5px,#afcafc 134.5px,#93b5fe 135.5px,#8db0fe 137.5px,#779af7 138.5px,#5b7ae5 139.5px,#465ecf 140.5px,#3f53c6 141.5px,#4055c8 164.5px,#445acc 167.5px,#4a63d3 168.5px,#7699f6 171.5px,#90b2fe 173.5px,#93b5fe 204.5px)"></i><i style="background:linear-gradient(90deg,#f0f0f6 0.5px,#f0f0f6 5.5px,#96b7ff 6.5px,#96b7ff 32.5px,#89acfd 61.5px,#89acfd 63.5px,#b5cdfa 64.5px,#b5cdfa 134.5px,#9abbff 135.5px,#9abbff 137.5px,#8caffe 138.5px,#7093f3 139.5px,#5470de 140.5px,#4257c9 141.5px,#3f53c6 148.5px,#4055c8 164.5px,#445acc 167.5px,#4961d2 168.5px,#7699f6 171.5px,#88abfd 172.5px,#94b6ff 173.5px,#9abbff 175.5px,#9abbff 204.5px)"></i><i style="background:linear-gradient(90deg,#f0f0f6 0.5px,#f0f0f6 5.5px,#97b8ff 6.5px,#9bbcff 26.5px,#8caffe 59.5px,#8badfd 63.5px,#b7cff9 64.5px,#b7cff9 134.5px,#9bbcff 135.5px,#9abbff 138.5px,#85a8fc 139.5px,#6687ed 140.5px,#4b64d5 141.5px,#3f53c6 142.5px,#4055c8 165.5px,#485fd1 168.5px,#6282ea 170.5px,#86a9fc 172.5px,#94b6ff 173.5px,#9bbcff 174.5px,#9bbcff 204.5px)"></i><i style="background:linear-gradient(90deg,#f0f0f6 0.5px,#f0f0f6 5.5px,#9abbff 6.5px,#9dbdff 28.5px,#8db0fe 61.5px,#8db0fe 63.5px,#b9d0f9 64.5px,#b9d0f9 134.5px,#9ebeff 135.5px,#9ebeff 138.5px,#96b7ff 139.5px,#7b9ff9 140.5px,#5b7ae5 141.5px,#455cce 142.5px,#3f53c6 143.5px,#4055c8 165.5px,#465ecf 168.5px,#506bda 169.5px,#7295f4 171.5px,#93b5fe 173.5px,#9dbdff 174.5px,#9ebeff 204.5px)"></i><i style="background:linear-gradient(90deg,#f0f0f6 0.5px,#f0f0f6 5.5px,#98b9ff 6.5px,#9dbdff 26.5px,#8caffe 61.5px,#8caffe 63.5px,#b7cff9 64.5px,#b7cff9 134.5px,#9dbdff 135.5px,#9dbdff 139.5px,#8db0fe 140.5px,#6f92f3 141.5px,#536edd 142.5px,#4257c9 143.5px,#3f53c6 150.5px,#4055c8 165.5px,#455cce 168.5px,#4c66d6 169.5px,#6c8ff1 171.5px,#90b2fe 173.5px,#9abbff 174.5px,#9dbdff 204.5px)"></i><i style="background:linear-gradient(90deg,#f0f0f6 0.5px,#f0f0f6 5.5px,#96b7ff 6.5px,#9abbff 26.5px,#89acfd 61.5px,#89acfd 63.5px,#b5cdfa 64.5px,#b5cdfa 134.5px,#9abbff 135.5px,#97b8ff 140.5px,#81a4fb 141.5px,#6384eb 142.5px,#4a63d3 143.5px,#3f53c6 144.5px,#4055c8 165.5px,#445acc 168.5px,#4a63d3 169.5px,#7a9df8 172.5px,#8badfd 173.5px,#96b7ff 174.5px,#9abbff 177.5px,#9abbff 204.5px)"></i><i style="background:linear-gradient(90deg,#f0f0f6 0.5px,#f0f0f6 5.5px,#8fb1fe 6.5px,#93b5fe 26.5px,#82a6fb 61.5px,#82a6fb 63.5px,#aec9fc 64.5px,#aec9fc 134.5px,#93b5fe 135.5px,#93b5fe 140.5px,#8badfd 141.5px,#7295f4 142.5px,#5673e0 143.5px,#445acc 144.5px,#4055c8 146.5px,#4257c9 167.5px,#4961d2 169.5px,#536edd 170.5px,#7295f4 172.5px,#8db0fe 174.5px,#93b5fe 176.5px,#93b5fe 204.5px)"></i><i style="background:linear-gradient(90deg,#f0f0f6 0.5px,#f0f0f6 5.5px,#85a8fc 6.5px,#88abfd 27.5px,#779af7 60.5px,#779af7 63.5px,#a5c3fe 64.5px,#a5c3fe 134.5px,#88abfd 135.5px,#88abfd 141.5px,#7a9df8 142.5px,#6384eb 143.5px,#4c66d6 144.5px,#4055c8 145.5px,#4257c9 167.5px,#465ecf 169.5px,#688aef 172.5px,#82a6fb 174.5px,#88abfd 176.5px,#88abfd 204.5px)"></i><i style="background:linear-gradient(90deg,#f0f0f6 0.5px,#f0f0f6 5.5px,#7ea1fa 6.5px,#82a6fb 26.5px,#7295f4 59.5px,#7295f4 63.5px,#9ebeff 64.5px,#9ebeff 134.5px,#82a6fb 135.5px,#82a6fb 141.5px,#7ea1fa 142.5px,#6e90f2 143.5px,#465ecf 145.5px,#4055c8 146.5px,#4257c9 167.5px,#455cce 169.5px,#5673e0 171.5px,#7a9df8 174.5px,#82a6fb 176.5px,#82a6fb 204.5px)"></i><i style="background:linear-gradient(90deg,#f0f0f6 0.5px,#f0f0f6 5.5px,#81a4fb 6.5px,#84a7fc 27.5px,#7396f5 59.5px,#7396f5 63.5px,#9fbfff 64.5px,#9fbfff 134.5px,#84a7fc 135.5px,#84a7fc 142.5px,#7b9ff9 143.5px,#6788ee 144.5px,#516ddb 145.5px,#4358cb 146.5px,#4055c8 153.5px,#4257c9 167.5px,#445acc 169.5px,#4a63d3 170.5px,#6e90f2 173.5px,#7a9df8 174.5px,#84a7fc 176.5px,#84a7fc 204.5px)"></i><i style="background:linear-gradient(90deg,#f0f0f6 0.5px,#f0f0f6 5.5px,#7ea1fa 6.5px,#81a4fb 27.5px,#7093f3 59.5px,#7093f3 63.5px,#9dbdff 64.5px,#9dbdff 134.5px,#81a4fb 135.5px,#80a3fa 143.5px,#7295f4 144.5px,#4a63d3 146.5px,#4055c8 147.5px,#4055c8 167.5px,#4961d2 170.5px,#7699f6 174.5px,#81a4fb 176.5px,#81a4fb 204.5px)"></i><i style="background:linear-gradient(90deg,#f0f0f6 0.5px,#f0f0f6 5.5px,#81a4fb 6.5px,#84a7fc 27.5px,#7396f5 59.5px,#7396f5 63.5px,#9fbfff 64.5px,#9fbfff 134.5px,#84a7fc 135.5px,#84a7fc 143.5px,#80a3fa 144.5px,#6c8ff1 145.5px,#455cce 147.5px,#4055c8 148.5px,#4257c9 168.5px,#485fd1 170.5px,#688aef 173.5px,#80a3fa 175.5px,#84a7fc 178.5px,#84a7fc 204.5px)"></i><i style="background:linear-gradient(90deg,#f0f0f6 0.5px,#f0f0f6 5.5px,#8caffe 6.5px,#90b2fe 25.5px,#7ea1fa 60.5px,#7ea1fa 63.5px,#abc8fd 64.5px,#abc8fd 134.5px,#8fb1fe 135.5px,#8fb1fe 144.5px,#84a7fc 145.5px,#6b8df0 146.5px,#516ddb 147.5px,#4257c9 148.5px,#4257c9 168.5px,#465ecf 170.5px,#4f69d9 171.5px,#6c8ff1 173.5px,#88abfd 175.5px,#8fb1fe 176.5px,#8fb1fe 204.5px)"></i><i style="background:linear-gradient(90deg,#f0f0f6 0.5px,#f0f0f6 5.5px,#90b2fe 6.5px,#93b5fe 25.5px,#82a6fb 60.5px,#82a6fb 63.5px,#aec9fc 64.5px,#aec9fc 134.5px,#93b5fe 135.5px,#92b4fe 145.5px,#7ea1fa 146.5px,#6384eb 147.5px,#4b64d5 148.5px,#4055c8 149.5px,#4257c9 168.5px,#455cce 170.5px,#5a78e4 172.5px,#7a9df8 174.5px,#89acfd 175.5px,#92b4fe 176.5px,#93b5fe 204.5px)"></i><i style="background:linear-gradient(90deg,#f0f0f6 0.5px,#f0f0f6 5.5px,#97b8ff 6.5px,#9abbff 27.5px,#89acfd 58.5px,#88abfd 63.5px,#b5cdfa 64.5px,#b5cdfa 134.5px,#9abbff 135.5px,#9abbff 145.5px,#92b4fe 146.5px,#799cf8 147.5px,#5b7ae5 148.5px,#465ecf 149.5px,#4055c8 150.5px,#4055c8 168.5px,#445acc 170.5px,#4b64d5 171.5px,#7b9ff9 174.5px,#8caffe 175.5px,#97b8ff 176.5px,#9abbff 204.5px)"></i><i style="background:linear-gradient(90deg,#f0f0f6 0.5px,#f0f0f6 5.5px,#97b8ff 6.5px,#9bbcff 25.5px,#89acfd 58.5px,#89acfd 63.5px,#b5cdfa 64.5px,#b5cdfa 134.5px,#9abbff 135.5px,#9abbff 146.5px,#8badfd 147.5px,#6e90f2 148.5px,#536edd 149.5px,#4257c9 150.5px,#4257c9 169.5px,#4961d2 171.5px,#779af7 174.5px,#89acfd 175.5px,#96b7ff 176.5px,#9abbff 179.5px,#9abbff 204.5px)"></i><i style="background:linear-gradient(90deg,#f0f0f6 0.5px,#f0f0f6 5.5px,#85a8fc 6.5px,#89acfd 26.5px,#779af7 59.5px,#779af7 63.5px,#a5c3fe 64.5px,#a5c3fe 134.5px,#89acfd 135.5px,#89acfd 146.5px,#85a8fc 147.5px,#7597f6 148.5px,#4961d2 150.5px,#4055c8 151.5px,#4257c9 169.5px,#465ecf 171.5px,#799cf8 175.5px,#88abfd 177.5px,#89acfd 204.5px)"></i><i style="background:linear-gradient(90deg,#f0f0f6 0.5px,#f0f0f6 5.5px,#7ea1fa 6.5px,#82a6fb 26.5px,#7093f3 58.5px,#7093f3 63.5px,#9ebeff 64.5px,#9ebeff 134.5px,#81a4fb 135.5px,#81a4fb 147.5px,#7a9df8 148.5px,#6788ee 149.5px,#445acc 151.5px,#4055c8 153.5px,#4257c9 169.5px,#455cce 171.5px,#6485ec 174.5px,#7b9ff9 176.5px,#81a4fb 178.5px,#81a4fb 204.5px)"></i><i style="background:linear-gradient(90deg,#f0f0f6 0.5px,#f0f0f6 5.5px,#89acfd 6.5px,#8caffe 27.5px,#7a9df8 60.5px,#7a9df8 63.5px,#a7c5fe 64.5px,#a7c5fe 134.5px,#8caffe 135.5px,#8badfd 148.5px,#7a9df8 149.5px,#4b64d5 151.5px,#4055c8 152.5px,#4055c8 169.5px,#445acc 171.5px,#4b64d5 172.5px,#7597f6 175.5px,#89acfd 177.5px,#8caffe 204.5px)"></i><i style="background:linear-gradient(90deg,#f0f0f6 0.5px,#f0f0f6 5.5px,#92b4fe 6.5px,#96b7ff 25.5px,#82a6fb 60.5px,#82a6fb 63.5px,#b1cbfc 64.5px,#b1cbfc 134.5px,#94b6ff 135.5px,#94b6ff 148.5px,#89acfd 149.5px,#7093f3 150.5px,#5572df 151.5px,#445acc 152.5px,#4055c8 154.5px,#4257c9 170.5px,#4961d2 172.5px,#7597f6 175.5px,#85a8fc 176.5px,#90b2fe 177.5px,#94b6ff 180.5px,#94b6ff 204.5px)"></i><i style="background:linear-gradient(90deg,#f0f0f6 0.5px,#f0f0f6 5.5px,#94b6ff 6.5px,#98b9ff 25.5px,#85a8fc 59.5px,#85a8fc 63.5px,#b2ccfb 64.5px,#b2ccfb 134.5px,#97b8ff 135.5px,#97b8ff 148.5px,#93b5fe 149.5px,#7ea1fa 150.5px,#6282ea 151.5px,#4a63d3 152.5px,#4055c8 153.5px,#4257c9 170.5px,#485fd1 172.5px,#516ddb 173.5px,#7295f4 175.5px,#90b2fe 177.5px,#97b8ff 178.5px,#97b8ff 204.5px)"></i><i style="background:linear-gradient(90deg,#f0f0f6 0.5px,#f0f0f6 5.5px,#98b9ff 6.5px,#9bbcff 28.5px,#89acfd 58.5px,#89acfd 63.5px,#b6cefa 64.5px,#b6cefa 134.5px,#9bbcff 135.5px,#9bbcff 149.5px,#8caffe 150.5px,#6f92f3 151.5px,#5470de 152.5px,#4358cb 153.5px,#4055c8 160.5px,#4358cb 171.5px,#455cce 172.5px,#5d7ce6 174.5px,#81a4fb 176.5px,#9abbff 178.5px,#9bbcff 204.5px)"></i><i style="background:linear-gradient(90deg,#f0f0f6 0.5px,#f0f0f6 5.5px,#9dbdff 6.5px,#9fbfff 27.5px,#8db0fe 57.5px,#8db0fe 63.5px,#bad0f8 64.5px,#bad0f8 134.5px,#9fbfff 135.5px,#9fbfff 149.5px,#98b9ff 150.5px,#80a3fa 151.5px,#5f7fe8 152.5px,#485fd1 153.5px,#4055c8 154.5px,#4257c9 171.5px,#445acc 172.5px,#4b64d5 173.5px,#6b8df0 175.5px,#8fb1fe 177.5px,#9bbcff 178.5px,#9fbfff 181.5px,#9fbfff 204.5px)"></i><i style="background:linear-gradient(90deg,#f0f0f6 0.5px,#f0f0f6 5.5px,#94b6ff 6.5px,#97b8ff 27.5px,#85a8fc 57.5px,#85a8fc 63.5px,#b2ccfb 64.5px,#b2ccfb 134.5px,#97b8ff 135.5px,#96b7ff 150.5px,#85a8fc 151.5px,#688aef 152.5px,#4f69d9 153.5px,#4257c9 154.5px,#4257c9 171.5px,#4961d2 173.5px,#6384eb 175.5px,#84a7fc 177.5px,#97b8ff 179.5px,#97b8ff 204.5px)"></i><i style="background:linear-gradient(90deg,#f0f0f6 0.5px,#f0f0f6 5.5px,#85a8fc 6.5px,#89acfd 26.5px,#7699f6 58.5px,#7699f6 63.5px,#a5c3fe 64.5px,#a5c3fe 134.5px,#88abfd 135.5px,#88abfd 150.5px,#81a4fb 151.5px,#6c8ff1 152.5px,#5572df 153.5px,#455cce 154.5px,#4055c8 155.5px,#4257c9 171.5px,#465ecf 173.5px,#688aef 176.5px,#81a4fb 178.5px,#88abfd 179.5px,#88abfd 204.5px)"></i><i style="background:linear-gradient(90deg,#f0f0f6 0.5px,#f0f0f6 5.5px,#82a6fb 6.5px,#85a8fc 27.5px,#7396f5 57.5px,#7396f5 63.5px,#a1c0ff 64.5px,#a1c0ff 134.5px,#85a8fc 135.5px,#84a7fc 151.5px,#7396f5 152.5px,#4a63d3 154.5px,#4257c9 155.5px,#4358cb 172.5px,#445acc 173.5px,#5673e0 175.5px,#7b9ff9 178.5px,#84a7fc 179.5px,#85a8fc 204.5px)"></i><i style="background:linear-gradient(90deg,#f0f0f6 0.5px,#f0f0f6 5.5px,#81a4fb 6.5px,#85a8fc 26.5px,#7295f4 58.5px,#7295f4 63.5px,#a1c0ff 64.5px,#a1c0ff 134.5px,#84a7fc 135.5px,#84a7fc 151.5px,#7b9ff9 152.5px,#6788ee 153.5px,#516ddb 154.5px,#4358cb 155.5px,#4257c9 172.5px,#4961d2 174.5px,#6b8df0 177.5px,#81a4fb 179.5px,#84a7fc 204.5px)"></i><i style="background:linear-gradient(90deg,#f0f0f6 0.5px,#f0f0f6 5.5px,#82a6fb 6.5px,#85a8fc 27.5px,#7295f4 59.5px,#7396f5 63.5px,#a1c0ff 64.5px,#a1c0ff 134.5px,#85a8fc 135.5px,#82a6fb 152.5px,#7093f3 153.5px,#485fd1 155.5px,#4257c9 156.5px,#4358cb 173.5px,#465ecf 174.5px,#7699f6 178.5px,#85a8fc 180.5px,#85a8fc 204.5px)"></i><i style="background:linear-gradient(90deg,#f0f0f6 0.5px,#f0f0f6 5.5px,#89acfd 6.5px,#8db0fe 25.5px,#7a9df8 58.5px,#7a9df8 63.5px,#a9c6fd 64.5px,#a9c6fd 134.5px,#8db0fe 135.5px,#8caffe 152.5px,#80a3fa 153.5px,#688aef 154.5px,#506bda 155.5px,#4358cb 156.5px,#4358cb 173.5px,#455cce 174.5px,#5a78e4 176.5px,#779af7 178.5px,#8caffe 180.5px,#8db0fe 204.5px)"></i><i style="background:linear-gradient(90deg,#f0f0f6 0.5px,#f0f0f6 5.5px,#93b5fe 6.5px,#97b8ff 25.5px,#82a6fb 59.5px,#84a7fc 63.5px,#b1cbfc 64.5px,#b1cbfc 134.5px,#96b7ff 135.5px,#96b7ff 152.5px,#90b2fe 153.5px,#799cf8 154.5px,#5d7ce6 155.5px,#485fd1 156.5px,#4257c9 157.5px,#4358cb 173.5px,#445acc 174.5px,#4b64d5 175.5px,#799cf8 178.5px,#93b5fe 180.5px,#96b7ff 204.5px)"></i><i style="background:linear-gradient(90deg,#f0f0f6 0.5px,#f0f0f6 5.5px,#9bbcff 6.5px,#9fbfff 26.5px,#8caffe 58.5px,#8caffe 63.5px,#bad0f8 64.5px,#bad0f8 134.5px,#9fbfff 135.5px,#9ebeff 153.5px,#8caffe 154.5px,#6c8ff1 155.5px,#506bda 156.5px,#4257c9 157.5px,#4257c9 173.5px,#4961d2 175.5px,#6788ee 177.5px,#8badfd 179.5px,#98b9ff 180.5px,#9fbfff 181.5px,#9fbfff 204.5px)"></i><i style="background:linear-gradient(90deg,#f0f0f6 0.5px,#f0f0f6 5.5px,#9bbcff 6.5px,#9ebeff 28.5px,#8badfd 57.5px,#8badfd 63.5px,#b9d0f9 64.5px,#b9d0f9 134.5px,#9ebeff 135.5px,#9ebeff 153.5px,#94b6ff 154.5px,#7a9df8 155.5px,#5b7ae5 156.5px,#465ecf 157.5px,#4257c9 158.5px,#4358cb 174.5px,#465ecf 175.5px,#516ddb 176.5px,#7396f5 178.5px,#94b6ff 180.5px,#9dbdff 181.5px,#9ebeff 204.5px)"></i><i style="background:linear-gradient(90deg,#f0f0f6 0.5px,#f0f0f6 5.5px,#90b2fe 6.5px,#94b6ff 25.5px,#80a3fa 59.5px,#81a4fb 63.5px,#afcafc 64.5px,#afcafc 134.5px,#94b6ff 135.5px,#92b4fe 154.5px,#7ea1fa 155.5px,#6384eb 156.5px,#4c66d6 157.5px,#4257c9 158.5px,#4358cb 174.5px,#455cce 175.5px,#4c66d6 176.5px,#7a9df8 179.5px,#92b4fe 181.5px,#94b6ff 204.5px)"></i><i style="background:linear-gradient(90deg,#f0f0f6 0.5px,#f0f0f6 5.5px,#86a9fc 6.5px,#89acfd 27.5px,#7699f6 58.5px,#7699f6 63.5px,#a6c4fe 64.5px,#a6c4fe 134.5px,#89acfd 135.5px,#89acfd 154.5px,#80a3fa 155.5px,#6a8bef 156.5px,#536edd 157.5px,#445acc 158.5px,#4257c9 165.5px,#445acc 175.5px,#5470de 177.5px,#6f92f3 179.5px,#86a9fc 181.5px,#89acfd 204.5px)"></i><i style="background:linear-gradient(90deg,#f0f0f6 0.5px,#f0f0f6 5.5px,#7da0f9 6.5px,#80a3fa 26.5px,#6c8ff1 56.5px,#6c8ff1 63.5px,#9bbcff 64.5px,#9bbcff 134.5px,#80a3fa 135.5px,#7da0f9 155.5px,#6c8ff1 156.5px,#485fd1 158.5px,#4257c9 159.5px,#4257c9 174.5px,#485fd1 176.5px,#6687ed 179.5px,#7a9df8 181.5px,#80a3fa 183.5px,#80a3fa 204.5px)"></i><i style="background:linear-gradient(90deg,#f0f0f6 0.5px,#f0f0f6 5.5px,#7396f5 6.5px,#779af7 24.5px,#6384eb 57.5px,#6384eb 63.5px,#93b5fe 64.5px,#93b5fe 134.5px,#779af7 135.5px,#7699f6 155.5px,#6e90f2 156.5px,#4c66d6 158.5px,#4358cb 159.5px,#4358cb 175.5px,#455cce 176.5px,#688aef 180.5px,#7699f6 182.5px,#779af7 204.5px)"></i><i style="background:linear-gradient(90deg,#f0f0f6 0.5px,#f0f0f6 5.5px,#7b9ff9 6.5px,#7ea1fa 27.5px,#6b8df0 56.5px,#6b8df0 63.5px,#9abbff 64.5px,#9abbff 134.5px,#7ea1fa 135.5px,#7ea1fa 155.5px,#7a9df8 156.5px,#6a8bef 157.5px,#465ecf 159.5px,#4358cb 161.5px,#4358cb 175.5px,#4b64d5 177.5px,#7597f6 181.5px,#7da0f9 182.5px,#7ea1fa 204.5px)"></i><i style="background:linear-gradient(90deg,#f0f0f6 0.5px,#f0f0f6 5.5px,#85a8fc 6.5px,#89acfd 25.5px,#7597f6 58.5px,#7699f6 63.5px,#a5c3fe 64.5px,#a5c3fe 134.5px,#89acfd 135.5px,#88abfd 156.5px,#7a9df8 157.5px,#4f69d9 159.5px,#445acc 160.5px,#445acc 175.5px,#4a63d3 177.5px,#6e90f2 180.5px,#85a8fc 182.5px,#89acfd 185.5px,#89acfd 204.5px)"></i><i style="background:linear-gradient(90deg,#f0f0f6 0.5px,#f0f0f6 5.5px,#8badfd 6.5px,#8badfd 32.5px,#799cf8 58.5px,#7a9df8 63.5px,#a9c6fd 64.5px,#a9c6fd 134.5px,#8db0fe 135.5px,#8db0fe 156.5px,#86a9fc 157.5px,#7093f3 158.5px,#5977e3 159.5px,#485fd1 160.5px,#445acc 162.5px,#455cce 176.5px,#4961d2 177.5px,#5e7de7 179.5px,#7a9df8 181.5px,#8db0fe 183.5px,#8db0fe 204.5px)"></i><i style="background:linear-gradient(90deg,#f0f0f6 0.5px,#f0f0f6 5.5px,#90b2fe 6.5px,#93b5fe 27.5px,#80a3fa 56.5px,#80a3fa 63.5px,#afcafc 64.5px,#afcafc 134.5px,#94b6ff 135.5px,#92b4fe 157.5px,#80a3fa 158.5px,#6687ed 159.5px,#4f69d9 160.5px,#445acc 161.5px,#455cce 176.5px,#485fd1 177.5px,#4f69d9 178.5px,#7a9df8 181.5px,#92b4fe 183.5px,#94b6ff 204.5px)"></i><i style="background:linear-gradient(90deg,#f0f0f6 0.5px,#f0f0f6 5.5px,#90b2fe 6.5px,#90b2fe 31.5px,#7ea1fa 57.5px,#80a3fa 63.5px,#afcafc 64.5px,#afcafc 134.5px,#93b5fe 135.5px,#93b5fe 157.5px,#89acfd 158.5px,#7295f4 159.5px,#5875e1 160.5px,#485fd1 161.5px,#455cce 169.5px,#465ecf 177.5px,#4b64d5 178.5px,#7597f6 181.5px,#8fb1fe 183.5px,#93b5fe 186.5px,#93b5fe 204.5px)"></i><i style="background:linear-gradient(90deg,#f0f0f6 0.5px,#f0f0f6 5.5px,#8db0fe 6.5px,#8db0fe 32.5px,#7b9ff9 57.5px,#7da0f9 63.5px,#adc9fd 64.5px,#adc9fd 134.5px,#92b4fe 135.5px,#92b4fe 157.5px,#8db0fe 158.5px,#7b9ff9 159.5px,#4e68d8 161.5px,#455cce 162.5px,#465ecf 177.5px,#4a63d3 178.5px,#5f7fe8 180.5px,#7da0f9 182.5px,#90b2fe 184.5px,#92b4fe 204.5px)"></i><i style="background:linear-gradient(90deg,#f0f0f6 0.5px,#f0f0f6 5.5px,#89acfd 6.5px,#8caffe 27.5px,#779af7 58.5px,#799cf8 63.5px,#a9c6fd 64.5px,#a9c6fd 134.5px,#8db0fe 135.5px,#8db0fe 158.5px,#82a6fb 159.5px,#6c8ff1 160.5px,#5572df 161.5px,#485fd1 162.5px,#465ecf 177.5px,#4f69d9 179.5px,#7597f6 182.5px,#8badfd 184.5px,#8db0fe 204.5px)"></i><i style="background:linear-gradient(90deg,#f0f0f6 0.5px,#f0f0f6 5.5px,#86a9fc 6.5px,#8badfd 25.5px,#7699f6 57.5px,#779af7 63.5px,#a7c5fe 64.5px,#a7c5fe 134.5px,#8caffe 135.5px,#8caffe 158.5px,#88abfd 159.5px,#7699f6 160.5px,#4c66d6 162.5px,#465ecf 163.5px,#4961d2 178.5px,#4c66d6 179.5px,#6f92f3 182.5px,#86a9fc 184.5px,#8caffe 188.5px,#8caffe 204.5px)"></i><i style="background:linear-gradient(90deg,#f0f0f6 0.5px,#f0f0f6 5.5px,#81a4fb 6.5px,#85a8fc 25.5px,#7093f3 57.5px,#7295f4 63.5px,#a2c1ff 64.5px,#a2c1ff 134.5px,#86a9fc 135.5px,#85a8fc 159.5px,#7a9df8 160.5px,#5470de 162.5px,#4961d2 163.5px,#4961d2 178.5px,#4a63d3 179.5px,#7396f5 183.5px,#85a8fc 185.5px,#86a9fc 204.5px)"></i><i style="background:linear-gradient(90deg,#f0f0f6 0.5px,#f0f0f6 5.5px,#81a4fb 6.5px,#84a7fc 27.5px,#6f92f3 58.5px,#7093f3 63.5px,#a2c1ff 64.5px,#a2c1ff 134.5px,#85a8fc 135.5px,#85a8fc 159.5px,#81a4fb 160.5px,#7093f3 161.5px,#5b7ae5 162.5px,#4c66d6 163.5px,#485fd1 164.5px,#4a63d3 179.5px,#4f69d9 180.5px,#7a9df8 184.5px,#85a8fc 186.5px,#85a8fc 204.5px)"></i><i style="background:linear-gradient(90deg,#f0f0f6 0.5px,#f0f0f6 5.5px,#94b6ff 6.5px,#97b8ff 27.5px,#82a6fb 57.5px,#84a7fc 63.5px,#b5cdfa 64.5px,#b5cdfa 134.5px,#9abbff 135.5px,#98b9ff 160.5px,#88abfd 161.5px,#6e90f2 162.5px,#5673e0 163.5px,#4961d2 164.5px,#4a63d3 179.5px,#4e68d8 180.5px,#6687ed 182.5px,#85a8fc 184.5px,#98b9ff 186.5px,#9abbff 204.5px)"></i><i style="background:linear-gradient(90deg,#f0f0f6 0.5px,#f0f0f6 5.5px,#9fbfff 6.5px,#a3c2fe 25.5px,#8fb1fe 56.5px,#90b2fe 63.5px,#bfd3f6 64.5px,#bfd3f6 134.5px,#a5c3fe 135.5px,#a5c3fe 160.5px,#9bbcff 161.5px,#82a6fb 162.5px,#6384eb 163.5px,#4e68d8 164.5px,#4961d2 165.5px,#4a63d3 179.5px,#4c66d6 180.5px,#5470de 181.5px,#7597f6 183.5px,#97b8ff 185.5px,#a2c1ff 186.5px,#a5c3fe 204.5px)"></i><i style="background:linear-gradient(90deg,#f0f0f6 0.5px,#f0f0f6 5.5px,#9abbff 6.5px,#9abbff 31.5px,#88abfd 57.5px,#89acfd 63.5px,#b9d0f9 64.5px,#b9d0f9 134.5px,#9ebeff 135.5px,#9dbdff 161.5px,#8badfd 162.5px,#6e90f2 163.5px,#5572df 164.5px,#4a63d3 165.5px,#4b64d5 180.5px,#506bda 181.5px,#7da0f9 184.5px,#98b9ff 186.5px,#9ebeff 188.5px,#9ebeff 204.5px)"></i><i style="background:linear-gradient(90deg,#f0f0f6 0.5px,#f0f0f6 5.5px,#92b4fe 6.5px,#94b6ff 27.5px,#81a4fb 56.5px,#82a6fb 63.5px,#b2ccfb 64.5px,#b2ccfb 134.5px,#97b8ff 135.5px,#97b8ff 161.5px,#8db0fe 162.5px,#779af7 163.5px,#5e7de7 164.5px,#4e68d8 165.5px,#4a63d3 167.5px,#4b64d5 180.5px,#4f69d9 181.5px,#6485ec 183.5px,#82a6fb 185.5px,#96b7ff 187.5px,#97b8ff 204.5px)"></i><i style="background:linear-gradient(90deg,#f0f0f6 0.5px,#f0f0f6 5.5px,#8badfd 6.5px,#8badfd 31.5px,#799cf8 56.5px,#7a9df8 63.5px,#abc8fd 64.5px,#abc8fd 134.5px,#8fb1fe 135.5px,#8db0fe 162.5px,#7da0f9 163.5px,#536edd 165.5px,#4b64d5 166.5px,#4b64d5 180.5px,#5470de 182.5px,#779af7 185.5px,#8caffe 187.5px,#8fb1fe 204.5px)"></i><i style="background:linear-gradient(90deg,#f0f0f6 0.5px,#f0f0f6 5.5px,#85a8fc 6.5px,#85a8fc 32.5px,#7396f5 56.5px,#7597f6 63.5px,#a6c4fe 64.5px,#a6c4fe 134.5px,#8badfd 135.5px,#8badfd 162.5px,#81a4fb 163.5px,#5a78e4 165.5px,#4e68d8 166.5px,#4b64d5 174.5px,#4e68d8 181.5px,#5977e3 183.5px,#7da0f9 186.5px,#8badfd 188.5px,#8badfd 204.5px)"></i><i style="background:linear-gradient(90deg,#f0f0f6 0.5px,#f0f0f6 5.5px,#85a8fc 6.5px,#88abfd 27.5px,#7396f5 58.5px,#7597f6 63.5px,#a6c4fe 64.5px,#a6c4fe 134.5px,#8badfd 135.5px,#88abfd 163.5px,#779af7 164.5px,#536edd 166.5px,#4c66d6 167.5px,#4f69d9 182.5px,#6c8ff1 185.5px,#82a6fb 187.5px,#8badfd 189.5px,#8badfd 204.5px)"></i><i style="background:linear-gradient(90deg,#f0f0f6 0.5px,#f0f0f6 5.5px,#82a6fb 6.5px,#82a6fb 31.5px,#7093f3 56.5px,#7295f4 63.5px,#a3c2fe 64.5px,#a3c2fe 134.5px,#88abfd 135.5px,#88abfd 163.5px,#7da0f9 164.5px,#5977e3 166.5px,#4e68d8 167.5px,#4e68d8 181.5px,#5470de 183.5px,#7da0f9 187.5px,#88abfd 189.5px,#88abfd 204.5px)"></i><i style="background:linear-gradient(90deg,#f0f0f6 0.5px,#f0f0f6 5.5px,#81a4fb 6.5px,#81a4fb 31.5px,#6f92f3 57.5px,#7093f3 63.5px,#a2c1ff 64.5px,#a2c1ff 134.5px,#86a9fc 135.5px,#86a9fc 163.5px,#82a6fb 164.5px,#6180e9 166.5px,#516ddb 167.5px,#4e68d8 169.5px,#4f69d9 182.5px,#516ddb 183.5px,#799cf8 187.5px,#86a9fc 189.5px,#86a9fc 204.5px)"></i><i style="background:linear-gradient(90deg,#f0f0f6 0.5px,#f0f0f6 5.5px,#84a7fc 6.5px,#86a9fc 27.5px,#7295f4 58.5px,#7597f6 63.5px,#a6c4fe 64.5px,#a6c4fe 134.5px,#8badfd 135.5px,#89acfd 164.5px,#7ea1fa 165.5px,#5977e3 167.5px,#4f69d9 168.5px,#506bda 183.5px,#6180e9 185.5px,#81a4fb 188.5px,#8badfd 190.5px,#8badfd 204.5px)"></i><i style="background:linear-gradient(90deg,#f0f0f6 0.5px,#f0f0f6 5.5px,#86a9fc 6.5px,#86a9fc 32.5px,#7597f6 56.5px,#779af7 63.5px,#a9c6fd 64.5px,#a9c6fd 134.5px,#8db0fe 135.5px,#8db0fe 164.5px,#88abfd 165.5px,#6282ea 167.5px,#536edd 168.5px,#4f69d9 170.5px,#506bda 183.5px,#5e7de7 185.5px,#80a3fa 188.5px,#8db0fe 190.5px,#8db0fe 204.5px)"></i><i style="background:linear-gradient(90deg,#f0f0f6 0.5px,#f0f0f6 5.5px,#8fb1fe 6.5px,#8fb1fe 31.5px,#7da0f9 55.5px,#7ea1fa 63.5px,#afcafc 64.5px,#afcafc 134.5px,#94b6ff 135.5px,#93b5fe 165.5px,#85a8fc 166.5px,#5a78e4 168.5px,#506bda 169.5px,#506bda 183.5px,#536edd 184.5px,#81a4fb 188.5px,#93b5fe 190.5px,#94b6ff 204.5px)"></i><i style="background:linear-gradient(90deg,#f0f0f6 0.5px,#f0f0f6 5.5px,#97b8ff 6.5px,#97b8ff 31.5px,#85a8fc 56.5px,#86a9fc 63.5px,#b9d0f9 64.5px,#b9d0f9 134.5px,#9dbdff 135.5px,#9dbdff 165.5px,#94b6ff 166.5px,#7ea1fa 167.5px,#6485ec 168.5px,#5470de 169.5px,#506bda 171.5px,#506bda 183.5px,#5977e3 185.5px,#82a6fb 188.5px,#9abbff 190.5px,#9dbdff 204.5px)"></i><i style="background:linear-gradient(90deg,#f0f0f6 0.5px,#f0f0f6 5.5px,#94b6ff 6.5px,#94b6ff 31.5px,#82a6fb 56.5px,#84a7fc 63.5px,#b6cefa 64.5px,#b6cefa 134.5px,#9bbcff 135.5px,#98b9ff 166.5px,#88abfd 167.5px,#5a78e4 169.5px,#516ddb 170.5px,#516ddb 184.5px,#5f7fe8 186.5px,#7b9ff9 188.5px,#94b6ff 190.5px,#9bbcff 192.5px,#9bbcff 204.5px)"></i><i style="background:linear-gradient(90deg,#f0f0f6 0.5px,#f0f0f6 5.5px,#8caffe 6.5px,#8fb1fe 27.5px,#7b9ff9 56.5px,#7da0f9 63.5px,#afcafc 64.5px,#afcafc 134.5px,#93b5fe 135.5px,#93b5fe 166.5px,#8badfd 167.5px,#7699f6 168.5px,#6180e9 169.5px,#536edd 170.5px,#516ddb 184.5px,#5470de 185.5px,#7396f5 188.5px,#8badfd 190.5px,#93b5fe 192.5px,#93b5fe 204.5px)"></i><i style="background:linear-gradient(90deg,#f0f0f6 0.5px,#f0f0f6 5.5px,#82a6fb 6.5px,#82a6fb 32.5px,#7093f3 57.5px,#7396f5 63.5px,#a6c4fe 64.5px,#a6c4fe 134.5px,#89acfd 135.5px,#86a9fc 167.5px,#799cf8 168.5px,#5673e0 170.5px,#516ddb 171.5px,#5470de 185.5px,#6282ea 187.5px,#80a3fa 190.5px,#89acfd 192.5px,#89acfd 204.5px)"></i><i style="background:linear-gradient(90deg,#f0f0f6 0.5px,#f0f0f6 5.5px,#7b9ff9 6.5px,#7b9ff9 31.5px,#6a8bef 55.5px,#6b8df0 63.5px,#9ebeff 64.5px,#9ebeff 134.5px,#82a6fb 135.5px,#82a6fb 167.5px,#799cf8 168.5px,#5a78e4 170.5px,#536edd 171.5px,#5470de 185.5px,#5673e0 186.5px,#779af7 190.5px,#82a6fb 192.5px,#82a6fb 204.5px)"></i><i style="background:linear-gradient(90deg,#f0f0f6 0.5px,#f0f0f6 5.5px,#7da0f9 6.5px,#7da0f9 33.5px,#6c8ff1 55.5px,#6e90f2 63.5px,#a1c0ff 64.5px,#a1c0ff 134.5px,#85a8fc 135.5px,#85a8fc 167.5px,#80a3fa 168.5px,#6282ea 170.5px,#5572df 171.5px,#536edd 180.5px,#5572df 186.5px,#779af7 190.5px,#84a7fc 192.5px,#85a8fc 204.5px)"></i><i style="background:linear-gradient(90deg,#f0f0f6 0.5px,#f0f0f6 5.5px,#85a8fc 6.5px,#85a8fc 32.5px,#7396f5 56.5px,#7699f6 63.5px,#a9c6fd 64.5px,#a9c6fd 134.5px,#8db0fe 135.5px,#8badfd 168.5px,#7ea1fa 169.5px,#5a78e4 171.5px,#536edd 172.5px,#5572df 186.5px,#5a78e4 187.5px,#7a9df8 190.5px,#8badfd 192.5px,#8db0fe 204.5px)"></i><i style="background:linear-gradient(90deg,#f0f0f6 0.5px,#f0f0f6 5.5px,#8db0fe 6.5px,#8caffe 33.5px,#7b9ff9 55.5px,#7da0f9 63.5px,#afcafc 64.5px,#afcafc 134.5px,#94b6ff 135.5px,#94b6ff 168.5px,#8caffe 169.5px,#6384eb 171.5px,#5572df 172.5px,#5572df 186.5px,#5977e3 187.5px,#7b9ff9 190.5px,#90b2fe 192.5px,#94b6ff 195.5px,#94b6ff 204.5px)"></i><i style="background:linear-gradient(90deg,#f0f0f6 0.5px,#f0f0f6 5.5px,#8fb1fe 6.5px,#8fb1fe 33.5px,#7ea1fa 55.5px,#80a3fa 63.5px,#b3cdfb 64.5px,#b3cdfb 134.5px,#97b8ff 135.5px,#97b8ff 168.5px,#93b5fe 169.5px,#82a6fb 170.5px,#5a78e4 172.5px,#5470de 173.5px,#5572df 186.5px,#5875e1 187.5px,#6c8ff1 189.5px,#90b2fe 192.5px,#97b8ff 193.5px,#97b8ff 204.5px)"></i><i style="background:linear-gradient(90deg,#f0f0f6 0.5px,#f0f0f6 5.5px,#89acfd 6.5px,#89acfd 33.5px,#799cf8 55.5px,#7a9df8 63.5px,#aec9fc 64.5px,#aec9fc 134.5px,#92b4fe 135.5px,#92b4fe 169.5px,#86a9fc 170.5px,#5f7fe8 172.5px,#5572df 173.5px,#5572df 186.5px,#5673e0 187.5px,#6788ee 189.5px,#89acfd 192.5px,#92b4fe 194.5px,#92b4fe 204.5px)"></i><i style="background:linear-gradient(90deg,#f0f0f6 0.5px,#f0f0f6 5.5px,#80a3fa 6.5px,#80a3fa 32.5px,#6e90f2 56.5px,#7093f3 63.5px,#a3c2fe 64.5px,#a3c2fe 134.5px,#88abfd 135.5px,#88abfd 169.5px,#82a6fb 170.5px,#5875e1 173.5px,#5572df 182.5px,#5673e0 187.5px,#6282ea 189.5px,#7ea1fa 192.5px,#88abfd 194.5px,#88abfd 204.5px)"></i><i style="background:linear-gradient(90deg,#f0f0f6 0.5px,#f0f0f6 5.5px,#81a4fb 6.5px,#81a4fb 31.5px,#6f92f3 57.5px,#7295f4 63.5px,#a5c3fe 64.5px,#a5c3fe 134.5px,#89acfd 135.5px,#88abfd 170.5px,#7da0f9 171.5px,#5b7ae5 173.5px,#5572df 174.5px,#5673e0 187.5px,#5977e3 188.5px,#7da0f9 192.5px,#89acfd 194.5px,#89acfd 204.5px)"></i><i style="background:linear-gradient(90deg,#f0f0f6 0.5px,#f0f0f6 5.5px,#86a9fc 6.5px,#85a8fc 33.5px,#7597f6 56.5px,#779af7 63.5px,#aac7fd 64.5px,#aac7fd 134.5px,#8fb1fe 135.5px,#8fb1fe 170.5px,#86a9fc 171.5px,#6384eb 173.5px,#5875e1 174.5px,#5572df 183.5px,#5875e1 188.5px,#7396f5 191.5px,#8db0fe 194.5px,#8fb1fe 204.5px)"></i><i style="background:linear-gradient(90deg,#f0f0f6 0.5px,#f0f0f6 5.5px,#7da0f9 6.5px,#7b9ff9 33.5px,#6b8df0 57.5px,#6e90f2 63.5px,#a1c0ff 64.5px,#a1c0ff 134.5px,#85a8fc 135.5px,#82a6fb 171.5px,#5a78e4 174.5px,#5673e0 176.5px,#5875e1 188.5px,#6384eb 190.5px,#82a6fb 194.5px,#85a8fc 204.5px)"></i><i style="background:linear-gradient(90deg,#f0f0f6 0.5px,#f0f0f6 5.5px,#7a9df8 6.5px,#7a9df8 32.5px,#6a8bef 56.5px,#6b8df0 63.5px,#9fbfff 64.5px,#9fbfff 134.5px,#84a7fc 135.5px,#82a6fb 171.5px,#7a9df8 172.5px,#5e7de7 174.5px,#5673e0 175.5px,#5875e1 188.5px,#6180e9 190.5px,#80a3fa 194.5px,#84a7fc 201.5px,#84a7fc 204.5px)"></i><i style="background:linear-gradient(90deg,#f0f0f6 0.5px,#f0f0f6 5.5px,#8caffe 6.5px,#8badfd 33.5px,#7a9df8 57.5px,#7da0f9 63.5px,#b1cbfc 64.5px,#b1cbfc 134.5px,#94b6ff 135.5px,#94b6ff 171.5px,#8fb1fe 172.5px,#688aef 174.5px,#5a78e4 175.5px,#5673e0 177.5px,#5977e3 189.5px,#82a6fb 193.5px,#93b5fe 195.5px,#94b6ff 204.5px)"></i><i style="background:linear-gradient(90deg,#f0f0f6 0.5px,#f0f0f6 5.5px,#94b6ff 6.5px,#93b5fe 33.5px,#82a6fb 57.5px,#85a8fc 63.5px,#b9d0f9 64.5px,#b9d0f9 134.5px,#9dbdff 135.5px,#9bbcff 172.5px,#8caffe 173.5px,#6180e9 175.5px,#5875e1 176.5px,#5977e3 189.5px,#5e7de7 190.5px,#85a8fc 193.5px,#9abbff 195.5px,#9dbdff 204.5px)"></i><i style="background:linear-gradient(90deg,#f0f0f6 0.5px,#f0f0f6 5.5px,#8caffe 6.5px,#8badfd 34.5px,#7a9df8 56.5px,#7da0f9 63.5px,#b1cbfc 64.5px,#b1cbfc 134.5px,#96b7ff 135.5px,#96b7ff 172.5px,#8caffe 173.5px,#6687ed 175.5px,#5977e3 176.5px,#5977e3 189.5px,#5d7ce6 190.5px,#88abfd 194.5px,#94b6ff 196.5px,#96b7ff 204.5px)"></i><i style="background:linear-gradient(90deg,#f0f0f6 0.5px,#f0f0f6 5.5px,#88abfd 6.5px,#86a9fc 34.5px,#779af7 56.5px,#7a9df8 63.5px,#adc9fd 64.5px,#adc9fd 134.5px,#92b4fe 135.5px,#8fb1fe 173.5px,#6c8ff1 175.5px,#5d7ce6 176.5px,#5875e1 177.5px,#5a78e4 190.5px,#82a6fb 194.5px,#90b2fe 196.5px,#92b4fe 204.5px)"></i><i style="background:linear-gradient(90deg,#f0f0f6 0.5px,#f0f0f6 5.5px,#80a3fa 6.5px,#80a3fa 32.5px,#6f92f3 57.5px,#7295f4 63.5px,#a6c4fe 64.5px,#a6c4fe 134.5px,#89acfd 135.5px,#89acfd 173.5px,#81a4fb 174.5px,#6282ea 176.5px,#5977e3 177.5px,#5a78e4 190.5px,#7a9df8 194.5px,#88abfd 196.5px,#89acfd 204.5px)"></i><i style="background:linear-gradient(90deg,#f0f0f6 0.5px,#f0f0f6 5.5px,#799cf8 6.5px,#779af7 34.5px,#688aef 55.5px,#6b8df0 63.5px,#9ebeff 64.5px,#9ebeff 134.5px,#82a6fb 135.5px,#82a6fb 173.5px,#7ea1fa 174.5px,#5b7ae5 177.5px,#5977e3 189.5px,#5d7ce6 191.5px,#7a9df8 195.5px,#82a6fb 198.5px,#82a6fb 204.5px)"></i><i style="background:linear-gradient(90deg,#f0f0f6 0.5px,#f0f0f6 5.5px,#7da0f9 6.5px,#7da0f9 33.5px,#6c8ff1 56.5px,#7093f3 63.5px,#a3c2fe 64.5px,#a3c2fe 134.5px,#88abfd 135.5px,#86a9fc 174.5px,#6c8ff1 176.5px,#5f7fe8 177.5px,#5977e3 178.5px,#5a78e4 190.5px,#6384eb 192.5px,#82a6fb 196.5px,#88abfd 200.5px,#88abfd 204.5px)"></i><i style="background:linear-gradient(90deg,#f0f0f6 0.5px,#f0f0f6 5.5px,#80a3fa 6.5px,#7ea1fa 34.5px,#6f92f3 57.5px,#7295f4 63.5px,#a6c4fe 64.5px,#a6c4fe 134.5px,#8badfd 135.5px,#8badfd 174.5px,#84a7fc 175.5px,#6687ed 177.5px,#5b7ae5 178.5px,#5b7ae5 191.5px,#84a7fc 196.5px,#8badfd 199.5px,#8badfd 204.5px)"></i><i style="background:linear-gradient(90deg,#f0f0f6 0.5px,#f0f0f6 5.5px,#7ea1fa 6.5px,#7da0f9 35.5px,#6e90f2 57.5px,#7093f3 63.5px,#a5c3fe 64.5px,#a5c3fe 134.5px,#89acfd 135.5px,#86a9fc 175.5px,#5e7de7 178.5px,#5a78e4 180.5px,#5b7ae5 191.5px,#6788ee 193.5px,#81a4fb 196.5px,#89acfd 199.5px,#89acfd 204.5px)"></i><i style="background:linear-gradient(90deg,#f0f0f6 0.5px,#f0f0f6 5.5px,#84a7fc 6.5px,#82a6fb 34.5px,#7396f5 56.5px,#7699f6 63.5px,#aac7fd 64.5px,#aac7fd 134.5px,#8fb1fe 135.5px,#8db0fe 175.5px,#84a7fc 176.5px,#6485ec 178.5px,#5b7ae5 179.5px,#5b7ae5 191.5px,#5e7de7 192.5px,#82a6fb 196.5px,#8fb1fe 199.5px,#8fb1fe 204.5px)"></i><i style="background:linear-gradient(90deg,#f0f0f6 0.5px,#f0f0f6 5.5px,#8caffe 6.5px,#8badfd 33.5px,#7b9ff9 56.5px,#7ea1fa 63.5px,#b2ccfb 64.5px,#b2ccfb 134.5px,#96b7ff 135.5px,#96b7ff 175.5px,#90b2fe 176.5px,#6c8ff1 178.5px,#5e7de7 179.5px,#5b7ae5 191.5px,#5d7ce6 192.5px,#85a8fc 196.5px,#94b6ff 198.5px,#96b7ff 204.5px)"></i><i style="background:linear-gradient(90deg,#f0f0f6 0.5px,#f0f0f6 5.5px,#8db0fe 6.5px,#8caffe 34.5px,#7da0f9 57.5px,#81a4fb 63.5px,#b3cdfb 64.5px,#b3cdfb 134.5px,#98b9ff 135.5px,#96b7ff 176.5px,#89acfd 177.5px,#6384eb 179.5px,#5b7ae5 180.5px,#5d7ce6 192.5px,#6c8ff1 194.5px,#8db0fe 197.5px,#98b9ff 199.5px,#98b9ff 204.5px)"></i><i style="background:linear-gradient(90deg,#f0f0f6 0.5px,#f0f0f6 5.5px,#88abfd 6.5px,#86a9fc 35.5px,#799cf8 55.5px,#7b9ff9 63.5px,#aec9fc 64.5px,#aec9fc 134.5px,#93b5fe 135.5px,#93b5fe 176.5px,#8badfd 177.5px,#688aef 179.5px,#5d7ce6 180.5px,#5d7ce6 192.5px,#688aef 194.5px,#88abfd 197.5px,#93b5fe 199.5px,#93b5fe 204.5px)"></i><i style="background:linear-gradient(90deg,#f0f0f6 0.5px,#f0f0f6 5.5px,#7da0f9 6.5px,#7b9ff9 35.5px,#6e90f2 56.5px,#7093f3 63.5px,#a5c3fe 64.5px,#a5c3fe 134.5px,#89acfd 135.5px,#86a9fc 177.5px,#6180e9 180.5px,#5d7ce6 182.5px,#5f7fe8 193.5px,#84a7fc 198.5px,#89acfd 202.5px,#89acfd 204.5px)"></i><i style="background:linear-gradient(90deg,#f0f0f6 0.5px,#f0f0f6 5.5px,#7b9ff9 6.5px,#7a9df8 34.5px,#6c8ff1 55.5px,#6f92f3 63.5px,#a2c1ff 64.5px,#a2c1ff 134.5px,#86a9fc 135.5px,#86a9fc 177.5px,#7ea1fa 178.5px,#6485ec 180.5px,#5e7de7 181.5px,#5e7de7 193.5px,#81a4fb 198.5px,#86a9fc 202.5px,#86a9fc 204.5px)"></i><i style="background:linear-gradient(90deg,#f0f0f6 0.5px,#f0f0f6 5.5px,#80a3fa 6.5px,#7ea1fa 35.5px,#7093f3 57.5px,#7396f5 63.5px,#a7c5fe 64.5px,#a7c5fe 134.5px,#8caffe 135.5px,#8caffe 177.5px,#86a9fc 178.5px,#5f7fe8 181.5px,#5e7de7 193.5px,#6a8bef 195.5px,#89acfd 199.5px,#8caffe 204.5px)"></i><i style="background:linear-gradient(90deg,#f0f0f6 0.5px,#f0f0f6 5.5px,#7ea1fa 6.5px,#7da0f9 34.5px,#6f92f3 55.5px,#7295f4 63.5px,#a6c4fe 64.5px,#a6c4fe 134.5px,#89acfd 135.5px,#88abfd 178.5px,#7ea1fa 179.5px,#6384eb 181.5px,#5e7de7 182.5px,#6180e9 194.5px,#80a3fa 198.5px,#89acfd 200.5px,#89acfd 204.5px)"></i><i style="background:linear-gradient(90deg,#f0f0f6 0.5px,#f0f0f6 5.5px,#80a3fa 6.5px,#7ea1fa 34.5px,#7093f3 56.5px,#7396f5 63.5px,#a7c5fe 64.5px,#a7c5fe 134.5px,#8badfd 135.5px,#8badfd 178.5px,#84a7fc 179.5px,#5f7fe8 182.5px,#6180e9 194.5px,#85a8fc 199.5px,#8badfd 201.5px,#8badfd 204.5px)"></i><i style="background:linear-gradient(90deg,#f0f0f6 0.5px,#f0f0f6 5.5px,#85a8fc 6.5px,#82a6fb 36.5px,#7699f6 56.5px,#799cf8 63.5px,#adc9fd 64.5px,#adc9fd 134.5px,#90b2fe 135.5px,#8db0fe 179.5px,#6384eb 182.5px,#5f7fe8 184.5px,#6180e9 194.5px,#6485ec 195.5px,#88abfd 199.5px,#90b2fe 201.5px,#90b2fe 204.5px)"></i><i style="background:linear-gradient(90deg,#f0f0f6 0.5px,#f0f0f6 5.5px,#86a9fc 6.5px,#85a8fc 35.5px,#799cf8 56.5px,#7b9ff9 63.5px,#aec9fc 64.5px,#aec9fc 134.5px,#93b5fe 135.5px,#92b4fe 179.5px,#88abfd 180.5px,#688aef 182.5px,#6180e9 183.5px,#6384eb 195.5px,#88abfd 199.5px,#93b5fe 201.5px,#93b5fe 204.5px)"></i><i style="background:linear-gradient(90deg,#f0f0f6 0.5px,#f0f0f6 5.5px,#8caffe 6.5px,#8badfd 34.5px,#7da0f9 56.5px,#81a4fb 63.5px,#b3cdfb 64.5px,#b3cdfb 134.5px,#98b9ff 135.5px,#98b9ff 179.5px,#92b4fe 180.5px,#6f92f3 182.5px,#6384eb 183.5px,#6180e9 194.5px,#6282ea 195.5px,#89acfd 199.5px,#97b8ff 201.5px,#98b9ff 204.5px)"></i><i style="background:linear-gradient(90deg,#f0f0f6 0.5px,#f0f0f6 5.5px,#8fb1fe 6.5px,#8caffe 37.5px,#81a4fb 56.5px,#84a7fc 63.5px,#b6cefa 64.5px,#b6cefa 134.5px,#9bbcff 135.5px,#98b9ff 180.5px,#8badfd 181.5px,#6788ee 183.5px,#6180e9 184.5px,#6282ea 195.5px,#7295f4 197.5px,#92b4fe 200.5px,#9bbcff 202.5px,#9bbcff 204.5px)"></i><i style="background:linear-gradient(90deg,#f0f0f6 0.5px,#f0f0f6 5.5px,#88abfd 6.5px,#85a8fc 36.5px,#799cf8 56.5px,#7da0f9 63.5px,#afcafc 64.5px,#afcafc 134.5px,#94b6ff 135.5px,#94b6ff 180.5px,#8badfd 181.5px,#6b8df0 183.5px,#6282ea 184.5px,#6282ea 195.5px,#6e90f2 197.5px,#8badfd 200.5px,#94b6ff 202.5px,#94b6ff 204.5px)"></i><i style="background:linear-gradient(90deg,#f0f0f6 0.5px,#f0f0f6 5.5px,#80a3fa 6.5px,#7da0f9 36.5px,#7295f4 56.5px,#7597f6 63.5px,#a7c5fe 64.5px,#a7c5fe 134.5px,#8caffe 135.5px,#8caffe 180.5px,#88abfd 181.5px,#6485ec 184.5px,#6282ea 195.5px,#6b8df0 197.5px,#88abfd 201.5px,#8caffe 204.5px)"></i><i style="background:linear-gradient(90deg,#f0f0f6 0.5px,#f0f0f6 5.5px,#80a3fa 6.5px,#7da0f9 37.5px,#7295f4 56.5px,#7597f6 63.5px,#a7c5fe 64.5px,#a7c5fe 134.5px,#8caffe 135.5px,#8badfd 181.5px,#82a6fb 182.5px,#688aef 184.5px,#6384eb 185.5px,#6384eb 196.5px,#86a9fc 201.5px,#8caffe 204.5px)"></i><i style="background:linear-gradient(90deg,#f0f0f6 0.5px,#f0f0f6 5.5px,#85a8fc 6.5px,#82a6fb 36.5px,#779af7 57.5px,#7a9df8 63.5px,#adc9fd 64.5px,#adc9fd 134.5px,#92b4fe 135.5px,#92b4fe 181.5px,#8caffe 182.5px,#6485ec 185.5px,#6384eb 196.5px,#89acfd 201.5px,#92b4fe 204.5px)"></i><i style="background:linear-gradient(90deg,#f0f0f6 0.5px,#f0f0f6 5.5px,#88abfd 6.5px,#85a8fc 37.5px,#7a9df8 58.5px,#7da0f9 63.5px,#afcafc 64.5px,#afcafc 134.5px,#94b6ff 135.5px,#92b4fe 182.5px,#86a9fc 183.5px,#688aef 185.5px,#6485ec 187.5px,#6788ee 197.5px,#89acfd 201.5px,#94b6ff 203.5px,#94b6ff 204.5px)"></i><i style="background:linear-gradient(90deg,#f0f0f6 0.5px,#f0f0f6 5.5px,#86a9fc 6.5px,#85a8fc 36.5px,#7a9df8 57.5px,#7da0f9 63.5px,#afcafc 64.5px,#afcafc 134.5px,#94b6ff 135.5px,#94b6ff 182.5px,#7da0f9 184.5px,#6485ec 186.5px,#6687ed 197.5px,#88abfd 201.5px,#94b6ff 204.5px)"></i><i style="background:linear-gradient(90deg,#f0f0f6 0.5px,#f0f0f6 5.5px,#84a7fc 6.5px,#81a4fb 37.5px,#7699f6 55.5px,#7a9df8 63.5px,#adc9fd 64.5px,#adc9fd 134.5px,#90b2fe 135.5px,#90b2fe 182.5px,#8caffe 183.5px,#6788ee 186.5px,#6687ed 197.5px,#7396f5 199.5px,#8badfd 202.5px,#90b2fe 204.5px)"></i><i style="background:linear-gradient(90deg,#f0f0f6 0.5px,#f0f0f6 5.5px,#85a8fc 6.5px,#84a7fc 36.5px,#799cf8 57.5px,#7b9ff9 63.5px,#aec9fc 64.5px,#aec9fc 134.5px,#93b5fe 135.5px,#92b4fe 183.5px,#88abfd 184.5px,#6b8df0 186.5px,#6687ed 187.5px,#688aef 198.5px,#8badfd 202.5px,#93b5fe 204.5px)"></i><i style="background:linear-gradient(90deg,#f0f0f6 0.5px,#f0f0f6 5.5px,#90b2fe 6.5px,#8fb1fe 36.5px,#85a8fc 56.5px,#88abfd 63.5px,#bad0f8 64.5px,#bad0f8 134.5px,#9ebeff 135.5px,#9ebeff 183.5px,#97b8ff 184.5px,#7396f5 186.5px,#6788ee 187.5px,#688aef 198.5px,#92b4fe 202.5px,#9ebeff 204.5px)"></i><i style="background:linear-gradient(90deg,#f0f0f6 0.5px,#f0f0f6 5.5px,#90b2fe 6.5px,#8caffe 39.5px,#84a7fc 57.5px,#86a9fc 63.5px,#b9d0f9 64.5px,#b9d0f9 134.5px,#9dbdff 135.5px,#9abbff 184.5px,#7a9df8 186.5px,#6b8df0 187.5px,#6788ee 189.5px,#688aef 198.5px,#8fb1fe 202.5px,#9dbdff 204.5px)"></i><i style="background:linear-gradient(90deg,#f0f0f6 0.5px,#f0f0f6 5.5px,#84a7fc 6.5px,#81a4fb 38.5px,#799cf8 56.5px,#7b9ff9 63.5px,#adc9fd 64.5px,#adc9fd 134.5px,#92b4fe 135.5px,#92b4fe 184.5px,#7da0f9 186.5px,#6788ee 188.5px,#6788ee 198.5px,#8caffe 203.5px,#90b2fe 204.5px)"></i><i style="background:linear-gradient(90deg,#f0f0f6 0.5px,#f0f0f6 5.5px,#81a4fb 6.5px,#7ea1fa 37.5px,#7597f6 57.5px,#779af7 63.5px,#aac7fd 64.5px,#aac7fd 134.5px,#8fb1fe 135.5px,#8fb1fe 184.5px,#8badfd 185.5px,#6a8bef 188.5px,#6788ee 198.5px,#88abfd 203.5px,#8caffe 204.5px)"></i><i style="background:linear-gradient(90deg,#f0f0f6 0.5px,#f0f0f6 5.5px,#84a7fc 6.5px,#80a3fa 40.5px,#799cf8 57.5px,#7a9df8 63.5px,#adc9fd 64.5px,#adc9fd 134.5px,#92b4fe 135.5px,#90b2fe 185.5px,#6e90f2 188.5px,#688aef 189.5px,#6b8df0 199.5px,#89acfd 203.5px,#8fb1fe 204.5px)"></i><i style="background:linear-gradient(90deg,#f0f0f6 0.5px,#f0f0f6 5.5px,#88abfd 6.5px,#85a8fc 39.5px,#7da0f9 58.5px,#80a3fa 63.5px,#b1cbfc 64.5px,#b1cbfc 134.5px,#96b7ff 135.5px,#96b7ff 185.5px,#90b2fe 186.5px,#7396f5 188.5px,#6a8bef 189.5px,#6a8bef 199.5px,#8caffe 203.5px,#92b4fe 204.5px)"></i><i style="background:linear-gradient(90deg,#f0f0f6 0.5px,#f0f0f6 5.5px,#8badfd 6.5px,#88abfd 38.5px,#80a3fa 58.5px,#82a6fb 63.5px,#b3cdfb 64.5px,#b3cdfb 134.5px,#98b9ff 135.5px,#96b7ff 186.5px,#8badfd 187.5px,#6e90f2 189.5px,#6a8bef 191.5px,#6a8bef 199.5px,#8caffe 203.5px,#93b5fe 204.5px)"></i><i style="background:linear-gradient(90deg,#f0f0f6 0.5px,#f0f0f6 5.5px,#8fb1fe 6.5px,#8badfd 40.5px,#84a7fc 59.5px,#86a9fc 63.5px,#b7cff9 64.5px,#b7cff9 134.5px,#9dbdff 135.5px,#9dbdff 186.5px,#93b5fe 187.5px,#7396f5 189.5px,#6a8bef 190.5px,#6a8bef 199.5px,#799cf8 201.5px,#96b7ff 204.5px)"></i><i style="background:linear-gradient(90deg,#f0f0f6 0.5px,#f0f0f6 5.5px,#90b2fe 6.5px,#8fb1fe 37.5px,#86a9fc 58.5px,#89acfd 63.5px,#bad0f8 64.5px,#bad0f8 134.5px,#9fbfff 135.5px,#9fbfff 186.5px,#9abbff 187.5px,#7a9df8 189.5px,#6c8ff1 190.5px,#6a8bef 199.5px,#779af7 201.5px,#96b7ff 204.5px)"></i><i style="background:linear-gradient(90deg,#f0f0f6 0.5px,#f0f0f6 5.5px,#8badfd 6.5px,#88abfd 39.5px,#81a4fb 58.5px,#82a6fb 63.5px,#b5cdfa 64.5px,#b5cdfa 134.5px,#9abbff 135.5px,#98b9ff 187.5px,#7ea1fa 189.5px,#7093f3 190.5px,#6b8df0 191.5px,#6c8ff1 200.5px,#90b2fe 204.5px)"></i><i style="background:linear-gradient(90deg,#f0f0f6 0.5px,#f0f0f6 5.5px,#89acfd 6.5px,#86a9fc 39.5px,#80a3fa 58.5px,#81a4fb 63.5px,#b3cdfb 64.5px,#b3cdfb 134.5px,#97b8ff 135.5px,#97b8ff 187.5px,#92b4fe 188.5px,#6c8ff1 191.5px,#6c8ff1 200.5px,#8db0fe 204.5px)"></i><i style="background:linear-gradient(90deg,#f0f0f6 0.5px,#f0f0f6 5.5px,#88abfd 6.5px,#85a8fc 40.5px,#7ea1fa 59.5px,#81a4fb 63.5px,#b2ccfb 64.5px,#b2ccfb 134.5px,#97b8ff 135.5px,#94b6ff 188.5px,#6f92f3 191.5px,#6b8df0 193.5px,#6c8ff1 200.5px,#8badfd 204.5px)"></i><i style="background:linear-gradient(90deg,#f0f0f6 0.5px,#f0f0f6 5.5px,#88abfd 6.5px,#84a7fc 41.5px,#7ea1fa 60.5px,#80a3fa 63.5px,#b2ccfb 64.5px,#b2ccfb 134.5px,#96b7ff 135.5px,#96b7ff 188.5px,#8fb1fe 189.5px,#7597f6 191.5px,#6c8ff1 192.5px,#6c8ff1 200.5px,#799cf8 202.5px,#89acfd 204.5px)"></i><i style="background:linear-gradient(90deg,#f0f0f6 0.5px,#f0f0f6 5.5px,#8db0fe 6.5px,#89acfd 41.5px,#84a7fc 59.5px,#85a8fc 63.5px,#b6cefa 64.5px,#b6cefa 134.5px,#9bbcff 135.5px,#9bbcff 188.5px,#97b8ff 189.5px,#6f92f3 192.5px,#6f92f3 201.5px,#8badfd 204.5px)"></i><i style="background:linear-gradient(90deg,#f0f0f6 0.5px,#f0f0f6 5.5px,#88abfd 6.5px,#85a8fc 41.5px,#80a3fa 60.5px,#81a4fb 63.5px,#b2ccfb 64.5px,#b2ccfb 134.5px,#97b8ff 135.5px,#96b7ff 189.5px,#8db0fe 190.5px,#7396f5 192.5px,#6c8ff1 194.5px,#6f92f3 201.5px,#88abfd 204.5px)"></i><i style="background:linear-gradient(90deg,#f0f0f6 0.5px,#f0f0f6 5.5px,#7a9df8 6.5px,#779af7 41.5px,#7295f4 59.5px,#7396f5 63.5px,#a5c3fe 64.5px,#a5c3fe 134.5px,#89acfd 135.5px,#89acfd 189.5px,#7597f6 192.5px,#6e90f2 193.5px,#6e90f2 201.5px,#80a3fa 204.5px)"></i><i style="background:linear-gradient(90deg,#f0f0f6 0.5px,#f0f0f6 5.5px,#7da0f9 6.5px,#799cf8 43.5px,#7597f6 60.5px,#7699f6 63.5px,#a7c5fe 64.5px,#a7c5fe 134.5px,#8caffe 135.5px,#89acfd 190.5px,#7093f3 193.5px,#6e90f2 201.5px,#80a3fa 204.5px)"></i><i style="background:linear-gradient(90deg,#f0f0f6 0.5px,#f0f0f6 5.5px,#88abfd 6.5px,#85a8fc 42.5px,#81a4fb 60.5px,#82a6fb 63.5px,#b2ccfb 64.5px,#b2ccfb 134.5px,#97b8ff 135.5px,#97b8ff 190.5px,#90b2fe 191.5px,#7699f6 193.5px,#6f92f3 194.5px,#7295f4 202.5px,#84a7fc 204.5px)"></i><i style="background:linear-gradient(90deg,#f0f0f6 0.5px,#f0f0f6 5.5px,#86a9fc 6.5px,#84a7fc 41.5px,#80a3fa 59.5px,#81a4fb 63.5px,#b1cbfc 64.5px,#b1cbfc 134.5px,#96b7ff 135.5px,#96b7ff 190.5px,#88abfd 192.5px,#7295f4 194.5px,#7093f3 202.5px,#81a4fb 204.5px)"></i><i style="background:linear-gradient(90deg,#f0f0f6 0.5px,#f0f0f6 5.5px,#85a8fc 6.5px,#81a4fb 43.5px,#7da0f9 59.5px,#7ea1fa 63.5px,#afcafc 64.5px,#afcafc 134.5px,#94b6ff 135.5px,#93b5fe 191.5px,#7597f6 194.5px,#6f92f3 196.5px,#7093f3 202.5px,#80a3fa 204.5px)"></i><i style="background:linear-gradient(90deg,#f0f0f6 0.5px,#f0f0f6 5.5px,#7ea1fa 6.5px,#7b9ff9 42.5px,#779af7 60.5px,#799cf8 63.5px,#aac7fd 64.5px,#aac7fd 134.5px,#8db0fe 135.5px,#8db0fe 191.5px,#80a3fa 193.5px,#7093f3 195.5px,#7093f3 202.5px,#7da0f9 204.5px)"></i><i style="background:linear-gradient(90deg,#f0f0f6 0.5px,#f0f0f6 5.5px,#6b8df0 6.5px,#688aef 41.5px,#6485ec 61.5px,#6687ed 63.5px,#96b7ff 64.5px,#96b7ff 134.5px,#7a9df8 135.5px,#799cf8 192.5px,#7093f3 196.5px,#7295f4 203.5px,#779af7 204.5px)"></i><i style="background:linear-gradient(90deg,#f0f0f6 0.5px,#f0f0f6 5.5px,#6788ee 6.5px,#6485ec 41.5px,#6180e9 57.5px,#6282ea 63.5px,#92b4fe 64.5px,#92b4fe 134.5px,#7699f6 135.5px,#7396f5 194.5px,#7295f4 203.5px,#7699f6 204.5px)"></i><i style="background:linear-gradient(90deg,#f0f0f6 0.5px,#f0f0f6 5.5px,#779af7 6.5px,#7396f5 44.5px,#7093f3 62.5px,#7295f4 63.5px,#a2c1ff 64.5px,#a2c1ff 134.5px,#86a9fc 135.5px,#85a8fc 192.5px,#7295f4 196.5px,#7396f5 203.5px,#779af7 204.5px)"></i></div><div class="im" style="left:301px;top:272px;width:59px"><i style="background:linear-gradient(90deg,#d4ddec 0.5px,#dbdfe6 14.5px,#e9dbd2 25.5px,#ecd8cd 30.5px,#ebd9d0 35.5px,#dcdfe5 46.5px,#d4ddec 58.5px)"></i></div><div class="im" style="left:301px;top:272px;width:59px"><i style="background:linear-gradient(90deg,#d4ddec 0.5px,#dbdfe6 14.5px,#e9dbd2 25.5px,#ecd8cd 30.5px,#ebd9d0 35.5px,#dcdfe5 46.5px,#d4ddec 58.5px)"></i></div><div class="im" style="left:301px;top:273px;width:59px"><i style="background:linear-gradient(90deg,#e9eef5 0.5px,#efefef 18.5px,#f6ebe5 31.5px,#eaeef5 54.5px,#e9eef5 58.5px)"></i></div><div class="im" style="left:301px;top:288px;width:59px"><i style="background:linear-gradient(90deg,#cfdbed 0.5px,#d4dce9 3.5px,#ccdaf0 4.5px,#c6d7f3 6.5px,#b5cefb 8.5px,#b5cefb 9.5px,#a9c6fe 12.5px,#afcafd 14.5px,#b0cbfd 17.5px,#adc8fe 18.5px,#b8d0fa 20.5px,#b9d0fa 21.5px,#abc7fe 24.5px,#afcafd 25.5px,#abc7fe 26.5px,#aec9fd 27.5px,#a7c5fe 29.5px,#aec9fd 32.5px,#b7cffb 33.5px,#c0d4f7 35.5px,#abc7fe 39.5px,#adc8fe 40.5px,#b3cdfc 41.5px,#b0cbfd 42.5px,#b3cdfc 43.5px,#afcafd 44.5px,#b9d0fa 47.5px,#b7cffb 50.5px,#aac6fe 52.5px,#afcafd 58.5px)"></i></div><div class="im" style="left:301px;top:288px;width:59px"><i style="background:linear-gradient(90deg,#cfdbed 0.5px,#d4dce9 3.5px,#ccdaf0 4.5px,#c6d7f3 6.5px,#b5cefb 8.5px,#b5cefb 9.5px,#a9c6fe 12.5px,#afcafd 14.5px,#b0cbfd 17.5px,#adc8fe 18.5px,#b8d0fa 20.5px,#b9d0fa 21.5px,#abc7fe 24.5px,#afcafd 25.5px,#abc7fe 26.5px,#aec9fd 27.5px,#a7c5fe 29.5px,#aec9fd 32.5px,#b7cffb 33.5px,#c0d4f7 35.5px,#abc7fe 39.5px,#adc8fe 40.5px,#b3cdfc 41.5px,#b0cbfd 42.5px,#b3cdfc 43.5px,#afcafd 44.5px,#b9d0fa 47.5px,#b7cffb 50.5px,#aac6fe 52.5px,#afcafd 58.5px)"></i></div><div class="im" style="left:301px;top:289px;width:59px"><i style="background:linear-gradient(90deg,#ebf0f7 0.5px,#edf0f6 3.5px,#dee9fe 10.5px,#dae7ff 12.5px,#dee9fe 19.5px,#e1ebfd 21.5px,#dbe7fe 24.5px,#dce8fe 32.5px,#e4edfb 35.5px,#dce8fe 40.5px,#e0ebfd 50.5px,#dbe7ff 53.5px,#dde8fe 58.5px)"></i></div><div class="im" style="left:301px;top:304px;width:59px"><i style="background:linear-gradient(90deg,#c6d6f1 0.5px,#c9d7f0 2.5px,#c1d4f4 3.5px,#c0d4f5 5.5px,#bbd1f8 6.5px,#bcd2f7 7.5px,#b6cefa 8.5px,#b7cff9 9.5px,#aec9fc 11.5px,#b1cbfc 13.5px,#aec9fc 14.5px,#b9d0f9 18.5px,#a7c5fe 21.5px,#a9c6fd 22.5px,#b2ccfb 23.5px,#b3cdfb 24.5px,#adc9fd 25.5px,#aac7fd 27.5px,#b9d0f9 30.5px,#aec9fc 31.5px,#a5c3fe 35.5px,#a9c6fd 36.5px,#a1c0ff 37.5px,#a5c3fe 41.5px,#a1c0ff 42.5px,#a2c1ff 43.5px,#98b9ff 45.5px,#9bbcff 46.5px,#94b6ff 48.5px,#96b7ff 50.5px,#9bbcff 52.5px,#a7c5fe 54.5px,#abc8fd 55.5px,#aac7fd 56.5px,#b5cdfa 58.5px)"></i></div><div class="im" style="left:301px;top:304px;width:59px"><i style="background:linear-gradient(90deg,#c6d6f1 0.5px,#c9d7f0 2.5px,#c1d4f4 3.5px,#c0d4f5 5.5px,#bbd1f8 6.5px,#bcd2f7 7.5px,#b6cefa 8.5px,#b7cff9 9.5px,#aec9fc 11.5px,#b1cbfc 13.5px,#aec9fc 14.5px,#b9d0f9 18.5px,#a7c5fe 21.5px,#a9c6fd 22.5px,#b2ccfb 23.5px,#b3cdfb 24.5px,#adc9fd 25.5px,#aac7fd 27.5px,#b9d0f9 30.5px,#aec9fc 31.5px,#a5c3fe 35.5px,#a9c6fd 36.5px,#a1c0ff 37.5px,#a5c3fe 41.5px,#a1c0ff 42.5px,#a2c1ff 43.5px,#98b9ff 45.5px,#9bbcff 46.5px,#94b6ff 48.5px,#96b7ff 50.5px,#9bbcff 52.5px,#a7c5fe 54.5px,#abc8fd 55.5px,#aac7fd 56.5px,#b5cdfa 58.5px)"></i></div><div class="im" style="left:301px;top:305px;width:59px"><i style="background:linear-gradient(90deg,#ebf1fa 0.5px,#e3ecfe 14.5px,#e6eefd 18.5px,#e1ebfe 22.5px,#e4edfd 24.5px,#e1ebfe 27.5px,#e6eefd 30.5px,#dfeaff 35.5px,#dce8ff 44.5px,#dbe7ff 51.5px,#e5eefd 58.5px)"></i></div><div class="im" style="left:301px;top:320px;width:59px"><i style="background:linear-gradient(90deg,#bcd2f7 0.5px,#bad0f8 2.5px,#b5cdfa 3.5px,#b3cdfb 6.5px,#b9d0f9 7.5px,#bbd1f8 9.5px,#b5cdfa 14.5px,#b9d0f9 15.5px,#b3cdfb 16.5px,#b3cdfb 17.5px,#aac7fd 19.5px,#a9c6fd 20.5px,#b6cefa 22.5px,#adc9fd 26.5px,#b3cdfb 27.5px,#b1cbfc 30.5px,#abc8fd 31.5px,#aec9fc 32.5px,#a9c6fd 33.5px,#abc8fd 35.5px,#a6c4fe 36.5px,#aec9fc 40.5px,#adc9fd 41.5px,#b2ccfb 42.5px,#adc9fd 43.5px,#adc9fd 47.5px,#a3c2fe 49.5px,#a5c3fe 51.5px,#adc9fd 52.5px,#aac7fd 53.5px,#b2ccfb 55.5px,#adc9fd 57.5px,#b2ccfb 58.5px)"></i></div><div class="im" style="left:301px;top:320px;width:59px"><i style="background:linear-gradient(90deg,#bcd2f7 0.5px,#bad0f8 2.5px,#b5cdfa 3.5px,#b3cdfb 6.5px,#b9d0f9 7.5px,#bbd1f8 9.5px,#b5cdfa 14.5px,#b9d0f9 15.5px,#b3cdfb 16.5px,#b3cdfb 17.5px,#aac7fd 19.5px,#a9c6fd 20.5px,#b6cefa 22.5px,#adc9fd 26.5px,#b3cdfb 27.5px,#b1cbfc 30.5px,#abc8fd 31.5px,#aec9fc 32.5px,#a9c6fd 33.5px,#abc8fd 35.5px,#a6c4fe 36.5px,#aec9fc 40.5px,#adc9fd 41.5px,#b2ccfb 42.5px,#adc9fd 43.5px,#adc9fd 47.5px,#a3c2fe 49.5px,#a5c3fe 51.5px,#adc9fd 52.5px,#aac7fd 53.5px,#b2ccfb 55.5px,#adc9fd 57.5px,#b2ccfb 58.5px)"></i></div><div class="im" style="left:301px;top:321px;width:59px"><i style="background:linear-gradient(90deg,#ebf2fd 0.5px,#eaf1fd 8.5px,#e7effe 18.5px,#e8f0fe 21.5px,#e7effe 39.5px,#e4edff 51.5px,#e8f0fe 58.5px)"></i></div><div class="im" style="left:301px;top:336px;width:59px"><i style="background:linear-gradient(90deg,#d1dae9 0.5px,#cedaeb 2.5px,#cedaeb 6.5px,#c5d6f2 7.5px,#cad8ef 10.5px,#c6d6f1 11.5px,#cad8ef 12.5px,#c0d4f5 15.5px,#c4d5f3 16.5px,#bed2f6 17.5px,#bfd3f6 19.5px,#b7cff9 21.5px,#bbd1f8 23.5px,#b3cdfb 25.5px,#b6cefa 26.5px,#aec9fc 28.5px,#b6cefa 29.5px,#adc9fd 30.5px,#aac7fd 33.5px,#adc9fd 34.5px,#9fbfff 38.5px,#a2c1ff 39.5px,#9ebeff 40.5px,#adc9fd 43.5px,#afcafc 48.5px,#b1cbfc 49.5px,#abc8fd 50.5px,#aac7fd 53.5px,#b3cdfb 55.5px,#b6cefa 58.5px)"></i></div><div class="im" style="left:301px;top:337px;width:59px"><i style="background:linear-gradient(90deg,#f4f6fa 0.5px,#e9f0ff 37.5px,#edf3fe 58.5px)"></i></div><div class="im" style="left:301px;top:351px;width:59px"><i style="background:linear-gradient(90deg,#fbfcfd 0.5px,#f8fbff 20.5px,#f8faff 58.5px)"></i></div><div class="im" style="left:301px;top:352px;width:59px"><i style="background:linear-gradient(90deg,#d1dae9 0.5px,#d1dae9 2.5px,#c5d6f2 3.5px,#c5d6f2 5.5px,#b3cdfb 8.5px,#a1c0ff 10.5px,#9bbcff 11.5px,#9dbdff 12.5px,#96b7ff 13.5px,#9abbff 15.5px,#96b7ff 16.5px,#a6c4fe 19.5px,#aec9fc 26.5px,#aac7fd 27.5px,#aec9fc 28.5px,#a9c6fd 30.5px,#abc8fd 34.5px,#a6c4fe 35.5px,#adc9fd 36.5px,#a6c4fe 37.5px,#abc8fd 39.5px,#9ebeff 43.5px,#a1c0ff 44.5px,#9abbff 45.5px,#a5c3fe 46.5px,#a1c0ff 47.5px,#a6c4fe 50.5px,#a7c5fe 54.5px,#a1c0ff 55.5px,#9fbfff 58.5px)"></i></div><div class="im" style="left:301px;top:353px;width:59px"><i style="background:linear-gradient(90deg,#f6f8fb 0.5px,#ebf2ff 16.5px,#f0f5ff 29.5px,#eef4ff 48.5px,#edf3ff 58.5px)"></i></div><div class="im" style="left:301px;top:367px;width:59px"><i style="background:linear-gradient(90deg,#f8fafd 0.5px,#f3f7ff 44.5px,#f3f7ff 58.5px)"></i></div><div class="im" style="left:301px;top:368px;width:59px"><i style="background:linear-gradient(90deg,#c7d7f0 0.5px,#b9d0f9 3.5px,#b5cdfa 5.5px,#bad0f8 6.5px,#b3cdfb 7.5px,#afcafc 10.5px,#b2ccfb 11.5px,#a9c6fd 15.5px,#b2ccfb 21.5px,#aac7fd 23.5px,#b3cdfb 24.5px,#a9c6fd 27.5px,#a7c5fe 29.5px,#a2c1ff 30.5px,#a6c4fe 32.5px,#9fbfff 33.5px,#a2c1ff 34.5px,#9ebeff 35.5px,#a5c3fe 38.5px,#9dbdff 43.5px,#a9c6fd 45.5px,#a5c3fe 46.5px,#b3cdfb 50.5px,#b6cefa 51.5px,#adc9fd 54.5px,#b3cdfb 55.5px,#abc8fd 56.5px,#abc8fd 57.5px,#a6c4fe 58.5px)"></i></div><div class="im" style="left:301px;top:369px;width:59px"><i style="background:linear-gradient(90deg,#f8fafd 0.5px,#f3f7ff 44.5px,#f3f7ff 58.5px)"></i></div><div class="im" style="left:301px;top:383px;width:59px"><i style="background:linear-gradient(90deg,#f5f8fc 0.5px,#f2f6fe 8.5px,#eff4ff 28.5px,#f0f5fe 46.5px,#edf3ff 52.5px,#f1f6fe 58.5px)"></i></div><div class="im" style="left:301px;top:384px;width:59px"><i style="background:linear-gradient(90deg,#cad8ef 0.5px,#c6d6f1 1.5px,#cedaeb 2.5px,#cfdaea 3.5px,#bcd2f7 6.5px,#bcd2f7 7.5px,#b2ccfb 9.5px,#b5cdfa 10.5px,#a7c5fe 12.5px,#aec9fc 16.5px,#abc8fd 17.5px,#adc9fd 20.5px,#a6c4fe 23.5px,#a7c5fe 25.5px,#a5c3fe 26.5px,#abc8fd 30.5px,#aac7fd 31.5px,#b2ccfb 35.5px,#aac7fd 37.5px,#b6cefa 39.5px,#bad0f8 43.5px,#b5cdfa 44.5px,#b1cbfc 46.5px,#a5c3fe 47.5px,#9dbdff 49.5px,#a2c1ff 50.5px,#9fbfff 52.5px,#adc9fd 57.5px,#b3cdfb 58.5px)"></i></div><div class="im" style="left:301px;top:385px;width:59px"><i style="background:#f9fbff"></i></div><div class="im" style="left:301px;top:399px;width:59px"><i style="background:linear-gradient(90deg,#f3f6fa 0.5px,#f1f5fc 9.5px,#ebf2fe 12.5px,#edf3fe 22.5px,#e9f0ff 39.5px,#e9f1ff 42.5px,#ecf2fe 55.5px,#eef4fd 58.5px)"></i></div><div class="im" style="left:301px;top:400px;width:59px"><i style="background:linear-gradient(90deg,#cedaeb 0.5px,#c7d7f0 5.5px,#c9d7f0 6.5px,#cfdaea 7.5px,#c4d5f3 9.5px,#b7cff9 10.5px,#b5cdfa 11.5px,#adc9fd 12.5px,#b3cdfb 13.5px,#aac7fd 16.5px,#bed2f6 21.5px,#abc8fd 24.5px,#afcafc 26.5px,#abc8fd 29.5px,#a6c4fe 30.5px,#a6c4fe 32.5px,#aac7fd 33.5px,#a3c2fe 35.5px,#a5c3fe 36.5px,#a1c0ff 38.5px,#adc9fd 41.5px,#a1c0ff 43.5px,#a9c6fd 46.5px,#a7c5fe 47.5px,#aec9fc 48.5px,#a6c4fe 49.5px,#a6c4fe 51.5px,#abc8fd 52.5px,#abc8fd 53.5px,#b2ccfb 54.5px,#b1cbfc 55.5px,#b9d0f9 56.5px,#b9d0f9 58.5px)"></i></div><div class="im" style="left:301px;top:415px;width:59px"><i style="background:linear-gradient(90deg,#edf2fc 0.5px,#e7effe 10.5px,#eaf1fd 19.5px,#e5eeff 36.5px,#e9f1fd 46.5px,#e5edff 58.5px)"></i></div><div class="im" style="left:301px;top:416px;width:59px"><i style="background:linear-gradient(90deg,#c1d4f4 0.5px,#b9d0f9 3.5px,#bad0f8 4.5px,#aec9fc 6.5px,#aec9fc 11.5px,#b2ccfb 12.5px,#b2ccfb 14.5px,#b9d0f9 15.5px,#b6cefa 18.5px,#b7cff9 19.5px,#b1cbfc 20.5px,#b2ccfb 23.5px,#adc9fd 24.5px,#b3cdfb 26.5px,#aec9fc 28.5px,#b1cbfc 29.5px,#a6c4fe 31.5px,#a9c6fd 34.5px,#a3c2fe 35.5px,#abc8fd 37.5px,#aec9fc 39.5px,#b5cdfa 41.5px,#bbd1f8 44.5px,#afcafc 49.5px,#b1cbfc 50.5px,#a9c6fd 52.5px,#a2c1ff 56.5px,#9fbfff 57.5px,#a6c4fe 58.5px)"></i></div><div class="im" style="left:301px;top:416px;width:59px"><i style="background:linear-gradient(90deg,#c1d4f4 0.5px,#b9d0f9 3.5px,#bad0f8 4.5px,#aec9fc 6.5px,#aec9fc 11.5px,#b2ccfb 12.5px,#b2ccfb 14.5px,#b9d0f9 15.5px,#b6cefa 18.5px,#b7cff9 19.5px,#b1cbfc 20.5px,#b2ccfb 23.5px,#adc9fd 24.5px,#b3cdfb 26.5px,#aec9fc 28.5px,#b1cbfc 29.5px,#a6c4fe 31.5px,#a9c6fd 34.5px,#a3c2fe 35.5px,#abc8fd 37.5px,#aec9fc 39.5px,#b5cdfa 41.5px,#bbd1f8 44.5px,#afcafc 49.5px,#b1cbfc 50.5px,#a9c6fd 52.5px,#a2c1ff 56.5px,#9fbfff 57.5px,#a6c4fe 58.5px)"></i></div><div class="im" style="left:301px;top:431px;width:59px"><i style="background:linear-gradient(90deg,#ebf1fa 0.5px,#e3ecfe 8.5px,#e1ebfe 10.5px,#dee9ff 14.5px,#e8f0fc 22.5px,#e3ecfe 27.5px,#e1ebfe 31.5px,#e3edfe 38.5px,#e0ebff 45.5px,#e5eefd 50.5px,#e5eefd 56.5px,#dfeaff 58.5px)"></i></div><div class="im" style="left:301px;top:432px;width:59px"><i style="background:linear-gradient(90deg,#c7d7f0 0.5px,#bbd1f8 3.5px,#bed2f6 5.5px,#b7cff9 7.5px,#a6c4fe 9.5px,#aac7fd 11.5px,#a6c4fe 12.5px,#9dbdff 13.5px,#a5c3fe 15.5px,#b1cbfc 20.5px,#bfd3f6 22.5px,#b5cdfa 23.5px,#aec9fc 27.5px,#b1cbfc 28.5px,#a7c5fe 30.5px,#b1cbfc 32.5px,#b1cbfc 34.5px,#b5cdfa 35.5px,#afcafc 37.5px,#b1cbfc 38.5px,#a7c5fe 40.5px,#a7c5fe 45.5px,#aac7fd 47.5px,#b5cdfa 48.5px,#b9d0f9 49.5px,#b5cdfa 50.5px,#b6cefa 56.5px,#a5c3fe 58.5px)"></i></div><div class="im" style="left:301px;top:432px;width:59px"><i style="background:linear-gradient(90deg,#c7d7f0 0.5px,#bbd1f8 3.5px,#bed2f6 5.5px,#b7cff9 7.5px,#a6c4fe 9.5px,#aac7fd 11.5px,#a6c4fe 12.5px,#9dbdff 13.5px,#a5c3fe 15.5px,#b1cbfc 20.5px,#bfd3f6 22.5px,#b5cdfa 23.5px,#aec9fc 27.5px,#b1cbfc 28.5px,#a7c5fe 30.5px,#b1cbfc 32.5px,#b1cbfc 34.5px,#b5cdfa 35.5px,#afcafc 37.5px,#b1cbfc 38.5px,#a7c5fe 40.5px,#a7c5fe 45.5px,#aac7fd 47.5px,#b5cdfa 48.5px,#b9d0f9 49.5px,#b5cdfa 50.5px,#b6cefa 56.5px,#a5c3fe 58.5px)"></i></div><div class="im" style="left:301px;top:447px;width:59px"><i style="background:linear-gradient(90deg,#e6eefb 0.5px,#e5edfb 5.5px,#dfeafe 8.5px,#dee9fe 10.5px,#d7e4ff 16.5px,#dce8fe 19.5px,#e2ecfc 27.5px,#dee9fe 29.5px,#dce8fe 35.5px,#dde8fe 38.5px,#dbe7fe 40.5px,#d7e4ff 44.5px,#dee9fe 48.5px,#dfeafe 53.5px,#dce8fe 57.5px,#dce8fe 58.5px)"></i></div><div class="im" style="left:301px;top:448px;width:59px"><i style="background:linear-gradient(90deg,#c4d6f5 0.5px,#c6d7f3 2.5px,#c2d5f6 5.5px,#b9d0fa 6.5px,#b9d0fa 7.5px,#b3cdfc 8.5px,#b7cffb 9.5px,#abc7fe 11.5px,#abc7fe 13.5px,#a5c3ff 14.5px,#a9c6fe 15.5px,#a2c1ff 16.5px,#a7c5fe 17.5px,#a3c2ff 18.5px,#b2ccfd 20.5px,#b3cdfc 22.5px,#b8d0fa 23.5px,#b5cefb 24.5px,#bcd2f9 25.5px,#bcd2f9 27.5px,#b0cbfd 29.5px,#b5cefb 30.5px,#aac6fe 36.5px,#b0cbfd 37.5px,#afcafd 38.5px,#a7c5fe 39.5px,#abc7fe 41.5px,#a9c6fe 43.5px,#a2c1ff 44.5px,#aac6fe 45.5px,#a6c4ff 46.5px,#b2ccfd 48.5px,#aec9fd 49.5px,#afcafd 52.5px,#b4cdfc 53.5px,#adc8fe 54.5px,#afcafd 55.5px,#abc7fe 56.5px,#adc8fe 58.5px)"></i></div><div class="im" style="left:301px;top:448px;width:59px"><i style="background:linear-gradient(90deg,#c4d6f5 0.5px,#c6d7f3 2.5px,#c2d5f6 5.5px,#b9d0fa 6.5px,#b9d0fa 7.5px,#b3cdfc 8.5px,#b7cffb 9.5px,#abc7fe 11.5px,#abc7fe 13.5px,#a5c3ff 14.5px,#a9c6fe 15.5px,#a2c1ff 16.5px,#a7c5fe 17.5px,#a3c2ff 18.5px,#b2ccfd 20.5px,#b3cdfc 22.5px,#b8d0fa 23.5px,#b5cefb 24.5px,#bcd2f9 25.5px,#bcd2f9 27.5px,#b0cbfd 29.5px,#b5cefb 30.5px,#aac6fe 36.5px,#b0cbfd 37.5px,#afcafd 38.5px,#a7c5fe 39.5px,#abc7fe 41.5px,#a9c6fe 43.5px,#a2c1ff 44.5px,#aac6fe 45.5px,#a6c4ff 46.5px,#b2ccfd 48.5px,#aec9fd 49.5px,#afcafd 52.5px,#b4cdfc 53.5px,#adc8fe 54.5px,#afcafd 55.5px,#abc7fe 56.5px,#adc8fe 58.5px)"></i></div><div class="im" style="left:301px;top:463px;width:59px"><i style="background:linear-gradient(90deg,#e6edf8 0.5px,#e9eef5 2.5px,#e6edf8 5.5px,#e1ebfb 6.5px,#dfe9fc 9.5px,#d8e5fe 11.5px,#dee9fc 19.5px,#d3e2ff 27.5px,#d7e4fe 29.5px,#d5e3ff 31.5px,#dae6fe 32.5px,#d7e5fe 38.5px,#d8e5fe 40.5px,#d3e2ff 42.5px,#dae7fe 53.5px,#d6e4ff 56.5px,#d2e0ff 57.5px,#d3e2ff 58.5px)"></i></div><div class="im" style="left:301px;top:464px;width:59px"><i style="background:linear-gradient(90deg,#cfdcf0 0.5px,#d6deea 1.5px,#cfdcf0 5.5px,#c5d7f7 6.5px,#c5d7f7 7.5px,#c0d4f9 8.5px,#c1d5f9 9.5px,#b5cefd 10.5px,#b5cefd 13.5px,#bcd2fb 15.5px,#c1d5f9 18.5px,#bad1fb 22.5px,#b2ccfd 23.5px,#afcafe 26.5px,#aac6ff 27.5px,#b1cbfe 28.5px,#aec9fe 31.5px,#b6cffd 32.5px,#aec9fe 37.5px,#b2ccfd 40.5px,#aac6ff 41.5px,#a9c5ff 43.5px,#b1cbfe 45.5px,#afcafe 47.5px,#b4cdfd 48.5px,#b2ccfd 49.5px,#b7cffc 51.5px,#b5cefd 55.5px,#a6c3ff 57.5px,#aac6ff 58.5px)"></i></div><div class="im" style="left:301px;top:464px;width:59px"><i style="background:linear-gradient(90deg,#cfdcf0 0.5px,#d6deea 1.5px,#cfdcf0 5.5px,#c5d7f7 6.5px,#c5d7f7 7.5px,#c0d4f9 8.5px,#c1d5f9 9.5px,#b5cefd 10.5px,#b5cefd 13.5px,#bcd2fb 15.5px,#c1d5f9 18.5px,#bad1fb 22.5px,#b2ccfd 23.5px,#afcafe 26.5px,#aac6ff 27.5px,#b1cbfe 28.5px,#aec9fe 31.5px,#b6cffd 32.5px,#aec9fe 37.5px,#b2ccfd 40.5px,#aac6ff 41.5px,#a9c5ff 43.5px,#b1cbfe 45.5px,#afcafe 47.5px,#b4cdfd 48.5px,#b2ccfd 49.5px,#b7cffc 51.5px,#b5cefd 55.5px,#a6c3ff 57.5px,#aac6ff 58.5px)"></i></div><div class="im" style="left:301px;top:479px;width:59px"><i style="background:linear-gradient(90deg,#e4ebf6 0.5px,#dfe9fa 3.5px,#e2eaf8 5.5px,#d5e3fe 8.5px,#d5e3fe 16.5px,#dbe7fc 18.5px,#d7e5fd 23.5px,#d7e4fd 26.5px,#d0dfff 27.5px,#d2e1fe 34.5px,#d0dfff 35.5px,#d5e3fe 37.5px,#d0dfff 40.5px,#d7e4fd 49.5px,#d3e2fe 54.5px,#d4e2fe 58.5px)"></i></div><div class="im" style="left:301px;top:480px;width:59px"><i style="background:linear-gradient(90deg,#d3def1 0.5px,#d2def1 1.5px,#ccdbf5 2.5px,#cbdbf6 3.5px,#d0ddf3 4.5px,#cadaf7 6.5px,#b9d1fd 8.5px,#bbd2fd 12.5px,#b9d1fd 16.5px,#c2d6fa 17.5px,#c2d6fa 22.5px,#bbd2fd 24.5px,#bdd3fc 26.5px,#b1cbff 27.5px,#b1cbff 29.5px,#b6cffe 34.5px,#b1cbff 35.5px,#b8d0fd 36.5px,#b9d1fd 37.5px,#b0caff 39.5px,#b4cdfe 42.5px,#bdd3fc 48.5px,#b7cffd 52.5px,#b7cffd 54.5px,#b5cefe 56.5px,#b9d1fd 57.5px,#b8d0fd 58.5px)"></i></div><div class="im" style="left:301px;top:480px;width:59px"><i style="background:linear-gradient(90deg,#d3def1 0.5px,#d2def1 1.5px,#ccdbf5 2.5px,#cbdbf6 3.5px,#d0ddf3 4.5px,#cadaf7 6.5px,#b9d1fd 8.5px,#bbd2fd 12.5px,#b9d1fd 16.5px,#c2d6fa 17.5px,#c2d6fa 22.5px,#bbd2fd 24.5px,#bdd3fc 26.5px,#b1cbff 27.5px,#b1cbff 29.5px,#b6cffe 34.5px,#b1cbff 35.5px,#b8d0fd 36.5px,#b9d1fd 37.5px,#b0caff 39.5px,#b4cdfe 42.5px,#bdd3fc 48.5px,#b7cffd 52.5px,#b7cffd 54.5px,#b5cefe 56.5px,#b9d1fd 57.5px,#b8d0fd 58.5px)"></i></div><div class="im" style="left:360px;top:277px;width:71px"><i style="background:linear-gradient(90deg,#e4ecf9 0.5px,#e3ebfa 29.5px,#cfdeff 34.5px,#b5c4f4 40.5px,#a6b0e5 54.5px,#abb6ea 70.5px)"></i></div><div class="im" style="left:360px;top:278px;width:71px"><i style="background:linear-gradient(90deg,#cbdaf3 0.5px,#cadaf4 28.5px,#bcd2fb 31.5px,#a1bfff 34.5px,#85a4f8 37.5px,#6f8bea 40.5px,#5366cd 53.5px,#5366cd 62.5px,#5b70d6 70.5px)"></i></div><div class="im" style="left:360px;top:278px;width:71px"><i style="background:linear-gradient(90deg,#cbdaf3 0.5px,#cadaf4 28.5px,#bcd2fb 31.5px,#a1bfff 34.5px,#85a4f8 37.5px,#6f8bea 40.5px,#5366cd 53.5px,#5366cd 62.5px,#5b70d6 70.5px)"></i></div><div class="im" style="left:360px;top:293px;width:71px"><i style="background:linear-gradient(90deg,#e3ebfa 0.5px,#e1ebfb 34.5px,#d5e3ff 38.5px,#bacaf8 44.5px,#b2bff1 48.5px,#a6b0e5 60.5px,#a8b2e7 70.5px)"></i></div><div class="im" style="left:360px;top:294px;width:71px"><i style="background:linear-gradient(90deg,#c7d9f5 0.5px,#c5d7f7 34.5px,#b6cffd 37.5px,#92b2fc 41.5px,#7290ed 45.5px,#6a86e6 47.5px,#5467cf 58.5px,#5264cc 66.5px,#5569d0 70.5px)"></i></div><div class="im" style="left:360px;top:294px;width:71px"><i style="background:linear-gradient(90deg,#c7d9f5 0.5px,#c5d7f7 34.5px,#b6cffd 37.5px,#92b2fc 41.5px,#7290ed 45.5px,#6a86e6 47.5px,#5467cf 58.5px,#5264cc 66.5px,#5569d0 70.5px)"></i></div><div class="im" style="left:360px;top:309px;width:71px"><i style="background:linear-gradient(90deg,#e1eafb 0.5px,#dfe9fc 41.5px,#cdddff 46.5px,#b5c3f4 52.5px,#a6b0e5 66.5px,#a6b0e5 70.5px)"></i></div><div class="im" style="left:360px;top:310px;width:71px"><i style="background:linear-gradient(90deg,#c4d7f7 0.5px,#c3d6f8 40.5px,#b6cffd 43.5px,#95b4fd 47.5px,#7491ee 51.5px,#6883e4 54.5px,#5467cf 64.5px,#5264cc 70.5px)"></i></div><div class="im" style="left:360px;top:310px;width:71px"><i style="background:linear-gradient(90deg,#c4d7f7 0.5px,#c3d6f8 40.5px,#b6cffd 43.5px,#95b4fd 47.5px,#7491ee 51.5px,#6883e4 54.5px,#5467cf 64.5px,#5264cc 70.5px)"></i></div><div class="im" style="left:360px;top:325px;width:71px"><i style="background:linear-gradient(90deg,#dfe9fc 0.5px,#dde8fd 50.5px,#ccdcff 55.5px,#b2c0f2 62.5px,#a8b2e7 70.5px)"></i></div><div class="im" style="left:360px;top:326px;width:71px"><i style="background:linear-gradient(90deg,#c1d5f9 0.5px,#c0d4f9 49.5px,#b2ccfd 52.5px,#93b3fd 56.5px,#6e8ae9 61.5px,#5569d0 70.5px)"></i></div><div class="im" style="left:360px;top:326px;width:71px"><i style="background:linear-gradient(90deg,#c1d5f9 0.5px,#c0d4f9 49.5px,#b2ccfd 52.5px,#93b3fd 56.5px,#6e8ae9 61.5px,#5569d0 70.5px)"></i></div><div class="im" style="left:360px;top:341px;width:71px"><i style="background:linear-gradient(90deg,#dde8fd 0.5px,#dae7fe 61.5px,#c4d4fd 67.5px,#b8c7f6 70.5px)"></i></div><div class="im" style="left:360px;top:342px;width:71px"><i style="background:linear-gradient(90deg,#bcd2fb 0.5px,#bbd2fb 60.5px,#a4c1ff 64.5px,#83a3f7 68.5px,#7491ee 70.5px)"></i></div><div class="im" style="left:360px;top:342px;width:71px"><i style="background:linear-gradient(90deg,#bcd2fb 0.5px,#bbd2fb 60.5px,#a4c1ff 64.5px,#83a3f7 68.5px,#7491ee 70.5px)"></i></div><div class="im" style="left:360px;top:357px;width:71px"><i style="background:#dbe7fd"></i></div><div class="im" style="left:360px;top:358px;width:71px"><i style="background:#b8d0fc"></i></div><div class="im" style="left:360px;top:358px;width:71px"><i style="background:#b8d0fc"></i></div><div class="im" style="left:360px;top:373px;width:71px"><i style="background:#d9e6fe"></i></div><div class="im" style="left:360px;top:374px;width:71px"><i style="background:#b5cefd"></i></div><div class="im" style="left:360px;top:374px;width:71px"><i style="background:#b5cefd"></i></div><div class="im" style="left:360px;top:389px;width:71px"><i style="background:#d9e6fe"></i></div><div class="im" style="left:360px;top:390px;width:71px"><i style="background:#b5cefd"></i></div><div class="im" style="left:360px;top:390px;width:71px"><i style="background:#b5cefd"></i></div><div class="im" style="left:360px;top:405px;width:71px"><i style="background:#d9e6fe"></i></div><div class="im" style="left:360px;top:406px;width:71px"><i style="background:#b5cefd"></i></div><div class="im" style="left:360px;top:406px;width:71px"><i style="background:#b5cefd"></i></div><div class="im" style="left:360px;top:421px;width:71px"><i style="background:#d9e6fe"></i></div><div class="im" style="left:360px;top:422px;width:71px"><i style="background:#b5cefd"></i></div><div class="im" style="left:360px;top:422px;width:71px"><i style="background:#b5cefd"></i></div><div class="im" style="left:360px;top:437px;width:71px"><i style="background:#d9e6fe"></i></div><div class="im" style="left:360px;top:438px;width:71px"><i style="background:#b5cefd"></i></div><div class="im" style="left:360px;top:438px;width:71px"><i style="background:#b5cefd"></i></div><div class="im" style="left:360px;top:453px;width:71px"><i style="background:#d9e6fe"></i></div><div class="im" style="left:360px;top:454px;width:71px"><i style="background:#b5cefd"></i></div><div class="im" style="left:360px;top:454px;width:71px"><i style="background:#b5cefd"></i></div><div class="im" style="left:360px;top:469px;width:71px"><i style="background:#d9e6fe"></i></div><div class="im" style="left:360px;top:470px;width:71px"><i style="background:#b5cefd"></i></div><div class="im" style="left:360px;top:470px;width:71px"><i style="background:#b5cefd"></i></div><div class="im" style="left:431px;top:283px;width:67px"><i style="background:linear-gradient(90deg,#6e80da 0.5px,#788fe6 9.5px,#8da8f5 11.5px,#afc9ff 13.5px,#cfdef6 15.5px,#e3e4e5 17.5px,#e6e3e1 19.5px,#e6e3e1 66.5px)"></i></div><div class="im" style="left:431px;top:283px;width:67px"><i style="background:linear-gradient(90deg,#6e80da 0.5px,#788fe6 9.5px,#8da8f5 11.5px,#afc9ff 13.5px,#cfdef6 15.5px,#e3e4e5 17.5px,#e6e3e1 19.5px,#e6e3e1 66.5px)"></i></div><div class="im" style="left:431px;top:284px;width:67px"><i style="background:linear-gradient(90deg,#96a4e4 0.5px,#9eaeed 9.5px,#adc0f8 11.5px,#c5d8ff 13.5px,#dce7f9 15.5px,#eaebec 17.5px,#edebe9 22.5px,#edebe9 66.5px)"></i></div><div class="im" style="left:431px;top:299px;width:67px"><i style="background:linear-gradient(90deg,#697ad5 0.5px,#768de4 14.5px,#89a3f3 16.5px,#a9c4ff 18.5px,#cbdcf8 20.5px,#e1e3e7 22.5px,#e6e3e1 24.5px,#e6e3e1 66.5px)"></i></div><div class="im" style="left:431px;top:299px;width:67px"><i style="background:linear-gradient(90deg,#697ad5 0.5px,#768de4 14.5px,#89a3f3 16.5px,#a9c4ff 18.5px,#cbdcf8 20.5px,#e1e3e7 22.5px,#e6e3e1 24.5px,#e6e3e1 66.5px)"></i></div><div class="im" style="left:431px;top:300px;width:67px"><i style="background:linear-gradient(90deg,#939fe0 0.5px,#9caceb 14.5px,#aabdf6 16.5px,#c1d5ff 18.5px,#dae5fa 20.5px,#e9ebee 22.5px,#edebe9 26.5px,#edebe9 66.5px)"></i></div><div class="im" style="left:431px;top:315px;width:67px"><i style="background:linear-gradient(90deg,#6777d2 0.5px,#6c7ed8 9.5px,#768de4 19.5px,#89a3f3 21.5px,#a8c3fe 23.5px,#c9dbf9 25.5px,#dfe3ea 27.5px,#e3e4e4 29.5px,#e3e4e4 66.5px)"></i></div><div class="im" style="left:431px;top:315px;width:67px"><i style="background:linear-gradient(90deg,#6777d2 0.5px,#6c7ed8 9.5px,#768de4 19.5px,#89a3f3 21.5px,#a8c3fe 23.5px,#c9dbf9 25.5px,#dfe3ea 27.5px,#e3e4e4 29.5px,#e3e4e4 66.5px)"></i></div><div class="im" style="left:431px;top:316px;width:67px"><i style="background:linear-gradient(90deg,#919ddf 0.5px,#97a6e6 13.5px,#9caceb 19.5px,#aabdf6 21.5px,#c0d4ff 23.5px,#d8e5fb 25.5px,#e8ebf0 27.5px,#ebebec 32.5px,#ebebec 66.5px)"></i></div><div class="im" style="left:431px;top:331px;width:67px"><i style="background:linear-gradient(90deg,#6e80da 0.5px,#6777d2 6.5px,#6c7ed8 15.5px,#758be3 23.5px,#86a0f1 25.5px,#a3befe 27.5px,#c3d7fc 29.5px,#d9e2ef 31.5px,#dfe3e9 33.5px,#dfe3e9 66.5px)"></i></div><div class="im" style="left:431px;top:331px;width:67px"><i style="background:linear-gradient(90deg,#6e80da 0.5px,#6777d2 6.5px,#6c7ed8 15.5px,#758be3 23.5px,#86a0f1 25.5px,#a3befe 27.5px,#c3d7fc 29.5px,#d9e2ef 31.5px,#dfe3e9 33.5px,#dfe3e9 66.5px)"></i></div><div class="im" style="left:431px;top:332px;width:67px"><i style="background:linear-gradient(90deg,#96a4e4 0.5px,#919ddf 7.5px,#99a8e8 20.5px,#9cabeb 23.5px,#a7baf5 25.5px,#bcd0fe 27.5px,#d4e2fc 29.5px,#e4eaf3 31.5px,#e8ebef 34.5px,#e8ebef 66.5px)"></i></div><div class="im" style="left:431px;top:347px;width:67px"><i style="background:linear-gradient(90deg,#a2bdfd 0.5px,#7d96ea 4.5px,#748ae2 6.5px,#6878d3 11.5px,#697ad5 18.5px,#758be3 26.5px,#87a1f1 28.5px,#a4bffe 30.5px,#c2d6fc 32.5px,#d6e0f2 34.5px,#dae2ee 36.5px,#dae2ee 66.5px)"></i></div><div class="im" style="left:431px;top:347px;width:67px"><i style="background:linear-gradient(90deg,#a2bdfd 0.5px,#7d96ea 4.5px,#748ae2 6.5px,#6878d3 11.5px,#697ad5 18.5px,#758be3 26.5px,#87a1f1 28.5px,#a4bffe 30.5px,#c2d6fc 32.5px,#d6e0f2 34.5px,#dae2ee 36.5px,#dae2ee 66.5px)"></i></div><div class="im" style="left:431px;top:348px;width:67px"><i style="background:linear-gradient(90deg,#bcd0fe 0.5px,#a1b3f0 4.5px,#93a0e1 10.5px,#929edf 17.5px,#9cabeb 26.5px,#a8bbf5 28.5px,#bdd1fe 30.5px,#d3e2fd 32.5px,#e1e9f5 34.5px,#e4eaf3 38.5px,#e4eaf3 66.5px)"></i></div><div class="im" style="left:431px;top:363px;width:67px"><i style="background:linear-gradient(90deg,#d6e0f2 0.5px,#d2dff4 4.5px,#b8cffe 8.5px,#9ab6fb 11.5px,#748ae2 15.5px,#6878d3 19.5px,#697ad5 24.5px,#7389e1 29.5px,#7990e7 30.5px,#9fbbfd 33.5px,#bdd3fd 35.5px,#d1def5 37.5px,#d6e0f2 40.5px,#d6e0f2 66.5px)"></i></div><div class="im" style="left:431px;top:363px;width:67px"><i style="background:linear-gradient(90deg,#d6e0f2 0.5px,#d2dff4 4.5px,#b8cffe 8.5px,#9ab6fb 11.5px,#748ae2 15.5px,#6878d3 19.5px,#697ad5 24.5px,#7389e1 29.5px,#7990e7 30.5px,#9fbbfd 33.5px,#bdd3fd 35.5px,#d1def5 37.5px,#d6e0f2 40.5px,#d6e0f2 66.5px)"></i></div><div class="im" style="left:431px;top:364px;width:67px"><i style="background:linear-gradient(90deg,#e1e9f5 0.5px,#dfe8f7 4.5px,#cbddff 8.5px,#afc3f9 12.5px,#9baaea 15.5px,#929edf 19.5px,#94a1e2 25.5px,#9aa9e9 29.5px,#a7b9f4 31.5px,#c5d8ff 34.5px,#dee8f8 37.5px,#e1e9f5 44.5px,#e1e9f5 66.5px)"></i></div><div class="im" style="left:431px;top:379px;width:67px"><i style="background:linear-gradient(90deg,#d1def5 0.5px,#ceddf7 13.5px,#b8cffe 17.5px,#9db9fc 20.5px,#7c94e9 23.5px,#6e80da 25.5px,#6a7bd6 27.5px,#6f82db 31.5px,#758be3 33.5px,#89a3f3 35.5px,#a4bffe 37.5px,#c7dafa 40.5px,#d1def5 42.5px,#d1def5 66.5px)"></i></div><div class="im" style="left:431px;top:379px;width:67px"><i style="background:linear-gradient(90deg,#d1def5 0.5px,#ceddf7 13.5px,#b8cffe 17.5px,#9db9fc 20.5px,#7c94e9 23.5px,#6e80da 25.5px,#6a7bd6 27.5px,#6f82db 31.5px,#758be3 33.5px,#89a3f3 35.5px,#a4bffe 37.5px,#c7dafa 40.5px,#d1def5 42.5px,#d1def5 66.5px)"></i></div><div class="im" style="left:431px;top:380px;width:67px"><i style="background:linear-gradient(90deg,#dee8f8 0.5px,#dce7f9 13.5px,#c6d8ff 18.5px,#b1c5fa 21.5px,#9aa9e9 24.5px,#94a1e2 26.5px,#97a5e5 31.5px,#9cabeb 33.5px,#b3c7fb 36.5px,#cfdffe 39.5px,#dbe6f9 41.5px,#dee8f8 50.5px,#dee8f8 66.5px)"></i></div><div class="im" style="left:431px;top:395px;width:67px"><i style="background:linear-gradient(90deg,#cbdcf8 0.5px,#cbdcf8 19.5px,#bbd2fe 23.5px,#a6c1fe 26.5px,#86a0f1 29.5px,#7389e1 31.5px,#6f82db 32.5px,#7286df 36.5px,#748ae2 37.5px,#90acf7 40.5px,#b4cdff 43.5px,#c6d9fa 45.5px,#cbdcf8 48.5px,#cbdcf8 66.5px)"></i></div><div class="im" style="left:431px;top:395px;width:67px"><i style="background:linear-gradient(90deg,#cbdcf8 0.5px,#cbdcf8 19.5px,#bbd2fe 23.5px,#a6c1fe 26.5px,#86a0f1 29.5px,#7389e1 31.5px,#6f82db 32.5px,#7286df 36.5px,#748ae2 37.5px,#90acf7 40.5px,#b4cdff 43.5px,#c6d9fa 45.5px,#cbdcf8 48.5px,#cbdcf8 66.5px)"></i></div><div class="im" style="left:431px;top:396px;width:67px"><i style="background:linear-gradient(90deg,#dae5fa 0.5px,#d7e4fb 20.5px,#c4d7ff 25.5px,#b0c4fa 28.5px,#9aa9e9 31.5px,#97a5e5 33.5px,#9baaea 37.5px,#afc3f9 40.5px,#c9dbff 43.5px,#d9e5fa 46.5px,#dae5fa 66.5px)"></i></div><div class="im" style="left:431px;top:411px;width:67px"><i style="background:linear-gradient(90deg,#c9dbf9 0.5px,#c7dafa 27.5px,#b6cfff 31.5px,#a2bdfd 34.5px,#829bee 37.5px,#7990e7 38.5px,#748ae2 40.5px,#7a92e8 43.5px,#96b2f9 46.5px,#b4cdff 49.5px,#c4d8fb 51.5px,#c9dbf9 54.5px,#c9dbf9 66.5px)"></i></div><div class="im" style="left:431px;top:411px;width:67px"><i style="background:linear-gradient(90deg,#c9dbf9 0.5px,#c7dafa 27.5px,#b6cfff 31.5px,#a2bdfd 34.5px,#829bee 37.5px,#7990e7 38.5px,#748ae2 40.5px,#7a92e8 43.5px,#96b2f9 46.5px,#b4cdff 49.5px,#c4d8fb 51.5px,#c9dbf9 54.5px,#c9dbf9 66.5px)"></i></div><div class="im" style="left:431px;top:412px;width:67px"><i style="background:linear-gradient(90deg,#d8e5fb 0.5px,#d7e4fb 27.5px,#c2d5ff 33.5px,#acc0f8 36.5px,#9eafed 38.5px,#9baaea 40.5px,#9fb0ee 43.5px,#bbcffe 47.5px,#d5e3fc 51.5px,#d8e5fb 57.5px,#d8e5fb 66.5px)"></i></div><div class="im" style="left:431px;top:427px;width:67px"><i style="background:linear-gradient(90deg,#c9dbf9 0.5px,#c8dafa 33.5px,#bcd2fe 37.5px,#acc6ff 40.5px,#98b4fa 42.5px,#839cee 44.5px,#7c94e9 45.5px,#7e97eb 48.5px,#8ca7f5 50.5px,#aac5ff 53.5px,#c3d7fc 56.5px,#c9dbf9 59.5px,#c9dbf9 66.5px)"></i></div><div class="im" style="left:431px;top:427px;width:67px"><i style="background:linear-gradient(90deg,#c9dbf9 0.5px,#c8dafa 33.5px,#bcd2fe 37.5px,#acc6ff 40.5px,#98b4fa 42.5px,#839cee 44.5px,#7c94e9 45.5px,#7e97eb 48.5px,#8ca7f5 50.5px,#aac5ff 53.5px,#c3d7fc 56.5px,#c9dbf9 59.5px,#c9dbf9 66.5px)"></i></div><div class="im" style="left:431px;top:428px;width:67px"><i style="background:linear-gradient(90deg,#d8e5fb 0.5px,#d6e4fc 34.5px,#c3d6ff 40.5px,#acc0f8 43.5px,#a1b2ef 45.5px,#a2b4f1 48.5px,#b4c8fb 51.5px,#cedffe 55.5px,#d8e5fb 58.5px,#d8e5fb 66.5px)"></i></div><div class="im" style="left:431px;top:443px;width:67px"><i style="background:linear-gradient(90deg,#c9dbf9 0.5px,#c7dafa 40.5px,#b8cffe 45.5px,#aac5ff 47.5px,#8aa5f3 50.5px,#849def 51.5px,#859ff0 53.5px,#93aff9 55.5px,#b0caff 58.5px,#c4d8fb 61.5px,#c9dbf9 64.5px,#c9dbf9 66.5px)"></i></div><div class="im" style="left:431px;top:443px;width:67px"><i style="background:linear-gradient(90deg,#c9dbf9 0.5px,#c7dafa 40.5px,#b8cffe 45.5px,#aac5ff 47.5px,#8aa5f3 50.5px,#849def 51.5px,#859ff0 53.5px,#93aff9 55.5px,#b0caff 58.5px,#c4d8fb 61.5px,#c9dbf9 64.5px,#c9dbf9 66.5px)"></i></div><div class="im" style="left:431px;top:444px;width:67px"><i style="background:linear-gradient(90deg,#d8e5fb 0.5px,#d7e4fb 40.5px,#c7daff 46.5px,#b1c5fa 49.5px,#a6b8f4 51.5px,#a7b9f4 53.5px,#c6d8ff 58.5px,#d7e4fb 62.5px,#d8e5fb 66.5px)"></i></div><div class="im" style="left:431px;top:459px;width:67px"><i style="background:linear-gradient(90deg,#c9dbf9 0.5px,#c8dafa 46.5px,#b6cfff 52.5px,#a4bffe 54.5px,#8da8f5 56.5px,#89a3f3 58.5px,#99b5fb 60.5px,#b4cdff 63.5px,#c6d9fa 66.5px)"></i></div><div class="im" style="left:431px;top:459px;width:67px"><i style="background:linear-gradient(90deg,#c9dbf9 0.5px,#c8dafa 46.5px,#b6cfff 52.5px,#a4bffe 54.5px,#8da8f5 56.5px,#89a3f3 58.5px,#99b5fb 60.5px,#b4cdff 63.5px,#c6d9fa 66.5px)"></i></div><div class="im" style="left:431px;top:460px;width:67px"><i style="background:linear-gradient(90deg,#d8e5fb 0.5px,#d6e4fc 47.5px,#cbdcff 52.5px,#b4c8fb 55.5px,#aabdf6 57.5px,#aabdf6 58.5px,#c4d7ff 62.5px,#d6e4fc 66.5px)"></i></div><div class="im" style="left:431px;top:475px;width:67px"><i style="background:linear-gradient(90deg,#c9dbf9 0.5px,#c7dafa 53.5px,#bad1fe 58.5px,#b3ccff 59.5px,#99b5fb 61.5px,#93aff9 62.5px,#97b3fa 63.5px,#b4cdff 66.5px)"></i></div><div class="im" style="left:431px;top:475px;width:67px"><i style="background:linear-gradient(90deg,#c9dbf9 0.5px,#c7dafa 53.5px,#bad1fe 58.5px,#b3ccff 59.5px,#99b5fb 61.5px,#93aff9 62.5px,#97b3fa 63.5px,#b4cdff 66.5px)"></i></div><div class="im" style="left:431px;top:476px;width:67px"><i style="background:linear-gradient(90deg,#d8e5fb 0.5px,#d7e4fb 53.5px,#c8daff 59.5px,#b5c9fc 61.5px,#b1c5fa 62.5px,#bbcffe 64.5px,#c9dbff 66.5px)"></i></div><svg width="550" height="509" viewBox="0 0 550 509"><defs><linearGradient id="cbg" x1="0" y1="1" x2="0" y2="0"><stop offset="0.0000" stop-color="#3b4cc0"/><stop offset="0.0714" stop-color="#465ecf"/><stop offset="0.1429" stop-color="#5470de"/><stop offset="0.2143" stop-color="#6282ea"/><stop offset="0.2857" stop-color="#6f92f3"/><stop offset="0.3571" stop-color="#7ea1fa"/><stop offset="0.4286" stop-color="#8db0fe"/><stop offset="0.5000" stop-color="#9bbcff"/><stop offset="0.5714" stop-color="#aac7fd"/><stop offset="0.6429" stop-color="#b9d0f9"/><stop offset="0.7143" stop-color="#c5d6f2"/><stop offset="0.7857" stop-color="#d2dbe8"/><stop offset="0.8571" stop-color="#dddcdc"/><stop offset="0.9286" stop-color="#e7d7ce"/><stop offset="1.0000" stop-color="#efcebd"/></linearGradient><g id="mk"><circle cx="154.6" cy="78.3" r="1.25" fill="#000000"/><circle cx="159.4" cy="90.1" r="1.0" fill="none" stroke="#000000" stroke-width="0.8"/><circle cx="165.8" cy="105.9" r="1.0" fill="none" stroke="#000000" stroke-width="0.8"/><circle cx="160.50" cy="99.10" r="1.0" fill="none" stroke="#000000" stroke-width="0.85"/><circle cx="161.80" cy="96.30" r="1.0" fill="none" stroke="#000000" stroke-width="0.85"/><circle cx="163.60" cy="97.90" r="1.0" fill="none" stroke="#000000" stroke-width="0.85"/><circle cx="163.30" cy="100.10" r="1.0" fill="none" stroke="#000000" stroke-width="0.85"/><circle cx="164.90" cy="96.60" r="1.0" fill="none" stroke="#000000" stroke-width="0.85"/><circle cx="160.00" cy="97.10" r="1.0" fill="none" stroke="#000000" stroke-width="0.85"/><circle cx="162.6" cy="97.9" r="1.1" fill="#000000"/><circle cx="168.60" cy="95.00" r="1.0" fill="none" stroke="#000000" stroke-width="0.85"/><circle cx="169.80" cy="92.10" r="1.0" fill="none" stroke="#000000" stroke-width="0.85"/><circle cx="173.30" cy="90.80" r="1.0" fill="none" stroke="#000000" stroke-width="0.85"/><circle cx="174.30" cy="93.70" r="1.0" fill="none" stroke="#000000" stroke-width="0.85"/><circle cx="170.80" cy="95.60" r="1.0" fill="none" stroke="#000000" stroke-width="0.85"/><circle cx="172.10" cy="93.30" r="1.0" fill="none" stroke="#000000" stroke-width="0.85"/><circle cx="146.50" cy="104.10" r="1.0" fill="none" stroke="#000000" stroke-width="0.85"/><circle cx="148.50" cy="102.90" r="1.0" fill="none" stroke="#000000" stroke-width="0.85"/><circle cx="150.10" cy="100.70" r="1.0" fill="none" stroke="#000000" stroke-width="0.85"/><circle cx="151.40" cy="102.60" r="1.0" fill="none" stroke="#000000" stroke-width="0.85"/><circle cx="153.50" cy="99.10" r="1.0" fill="none" stroke="#000000" stroke-width="0.85"/><circle cx="155.30" cy="102.90" r="1.0" fill="none" stroke="#000000" stroke-width="0.85"/><circle cx="151.70" cy="105.30" r="1.0" fill="none" stroke="#000000" stroke-width="0.85"/><circle cx="148.30" cy="105.10" r="1.0" fill="none" stroke="#000000" stroke-width="0.85"/><circle cx="152.70" cy="100.90" r="1.0" fill="none" stroke="#000000" stroke-width="0.85"/><g transform="translate(185,90.2) rotate(55)"><rect x="-10.45" y="-4.65" width="9.40" height="10.15" rx="1.1" fill="#000000" opacity="0.9"/><rect x="-1.25" y="-6.15" width="11.70" height="10.15" rx="1.1" fill="#000000" opacity="0.9"/><circle cx="-9.20" cy="-3.40" r="0.6" fill="#fff" opacity="0.8"/><circle cx="-9.20" cy="-0.85" r="0.6" fill="#fff" opacity="0.8"/><circle cx="-9.20" cy="1.70" r="0.6" fill="#fff" opacity="0.8"/><circle cx="-9.20" cy="4.25" r="0.6" fill="#fff" opacity="0.8"/><circle cx="-6.90" cy="-3.40" r="0.6" fill="#fff" opacity="0.8"/><circle cx="-6.90" cy="-0.85" r="0.6" fill="#fff" opacity="0.8"/><circle cx="-6.90" cy="1.70" r="0.6" fill="#fff" opacity="0.8"/><circle cx="-6.90" cy="4.25" r="0.6" fill="#fff" opacity="0.8"/><circle cx="-4.60" cy="-3.40" r="0.6" fill="#fff" opacity="0.8"/><circle cx="-4.60" cy="-0.85" r="0.6" fill="#fff" opacity="0.8"/><circle cx="-4.60" cy="1.70" r="0.6" fill="#fff" opacity="0.8"/><circle cx="-4.60" cy="4.25" r="0.6" fill="#fff" opacity="0.8"/><circle cx="-2.30" cy="-3.40" r="0.6" fill="#fff" opacity="0.8"/><circle cx="-2.30" cy="-0.85" r="0.6" fill="#fff" opacity="0.8"/><circle cx="-2.30" cy="1.70" r="0.6" fill="#fff" opacity="0.8"/><circle cx="-2.30" cy="4.25" r="0.6" fill="#fff" opacity="0.8"/><circle cx="0.00" cy="-4.90" r="0.6" fill="#fff" opacity="0.8"/><circle cx="0.00" cy="-2.35" r="0.6" fill="#fff" opacity="0.8"/><circle cx="0.00" cy="0.20" r="0.6" fill="#fff" opacity="0.8"/><circle cx="0.00" cy="2.75" r="0.6" fill="#fff" opacity="0.8"/><circle cx="2.30" cy="-4.90" r="0.6" fill="#fff" opacity="0.8"/><circle cx="2.30" cy="-2.35" r="0.6" fill="#fff" opacity="0.8"/><circle cx="2.30" cy="0.20" r="0.6" fill="#fff" opacity="0.8"/><circle cx="2.30" cy="2.75" r="0.6" fill="#fff" opacity="0.8"/><circle cx="4.60" cy="-4.90" r="0.6" fill="#fff" opacity="0.8"/><circle cx="4.60" cy="-2.35" r="0.6" fill="#fff" opacity="0.8"/><circle cx="4.60" cy="0.20" r="0.6" fill="#fff" opacity="0.8"/><circle cx="4.60" cy="2.75" r="0.6" fill="#fff" opacity="0.8"/><circle cx="6.90" cy="-4.90" r="0.6" fill="#fff" opacity="0.8"/><circle cx="6.90" cy="-2.35" r="0.6" fill="#fff" opacity="0.8"/><circle cx="6.90" cy="0.20" r="0.6" fill="#fff" opacity="0.8"/><circle cx="6.90" cy="2.75" r="0.6" fill="#fff" opacity="0.8"/><circle cx="9.20" cy="-4.90" r="0.6" fill="#fff" opacity="0.8"/><circle cx="9.20" cy="-2.35" r="0.6" fill="#fff" opacity="0.8"/><circle cx="9.20" cy="0.20" r="0.6" fill="#fff" opacity="0.8"/><circle cx="9.20" cy="2.75" r="0.6" fill="#fff" opacity="0.8"/></g></g><clipPath id="ca"><rect x="0" y="0" width="204.10" height="214.10"/></clipPath><clipPath id="cb"><rect x="0" y="0" width="204.70" height="214.10"/></clipPath><clipPath id="cc"><rect x="0" y="0" width="204.10" height="214.20"/></clipPath><clipPath id="cd"><rect x="0" y="0" width="204.70" height="214.20"/></clipPath><filter id="sL" x="0" y="0" width="100%" height="100%" color-interpolation-filters="sRGB"><feTurbulence type="fractalNoise" baseFrequency="0.5" numOctaves="2" seed="11"/><feColorMatrix type="matrix" values="0 0 0 0 0.910 0 0 0 0 0.918 0 0 0 0 0.973 3 0 0 0 -1.5"/></filter><filter id="sD" x="0" y="0" width="100%" height="100%" color-interpolation-filters="sRGB"><feTurbulence type="fractalNoise" baseFrequency="0.5" numOctaves="2" seed="11"/><feColorMatrix type="matrix" values="0 0 0 0 0.243 0 0 0 0 0.322 0 0 0 0 0.784 -2.8 0 0 0 1.4"/></filter><filter id="fL" x="0" y="0" width="100%" height="100%" color-interpolation-filters="sRGB"><feTurbulence type="fractalNoise" baseFrequency="0.9" numOctaves="1" seed="21"/><feColorMatrix type="matrix" values="0 0 0 0 0.843 0 0 0 0 0.871 0 0 0 0 0.961 2.2 0 0 0 -1.1"/></filter><filter id="fD" x="0" y="0" width="100%" height="100%" color-interpolation-filters="sRGB"><feTurbulence type="fractalNoise" baseFrequency="0.9" numOctaves="1" seed="21"/><feColorMatrix type="matrix" values="0 0 0 0 0.353 0 0 0 0 0.451 0 0 0 0 0.882 -2.2 0 0 0 1.1"/></filter><filter id="pk" x="0" y="0" width="100%" height="100%" color-interpolation-filters="sRGB"><feTurbulence type="fractalNoise" baseFrequency="0.6" numOctaves="1" seed="31"/><feColorMatrix type="matrix" values="0 0 0 0 0.871 0 0 0 0 0.753 0 0 0 0 0.765 0 0 6 0 -3.4"/></filter><filter id="mb3" x="-20%" y="-20%" width="140%" height="140%"><feGaussianBlur stdDeviation="3"/></filter><mask id="mbS" maskUnits="userSpaceOnUse" x="-10" y="-10" width="230" height="240"><g filter="url(#mb3)"><rect x="6" y="0" width="36" height="214" fill="#fff" opacity="0.9"/><rect x="42" y="0" width="16" height="214" fill="#fff" opacity="0.45"/><rect x="58" y="0" width="76" height="40" fill="#fff" opacity="0.75"/><rect x="134" y="0" width="72" height="214" fill="#fff" opacity="0.25"/><rect x="64" y="40" width="70" height="174" fill="#fff" opacity="0.2"/><polygon points="96.9,-2.4 103.9,17.4 111.6,37.2 122.5,57.1 135.5,76.9 148.5,96.7 158.8,116.5 167.4,136.3 175.9,156.1 183.8,176.0 191.6,195.8 198.5,215.6 201.5,215.6 197.4,195.8 192.1,176.0 186.1,156.1 179.2,136.3 172.7,116.5 167.7,96.7 163.8,76.9 160.0,57.1 154.5,37.2 147.9,17.4 141.0,-2.4" fill="#000" opacity="0.9"/></g></mask><mask id="mbP" maskUnits="userSpaceOnUse" x="-10" y="-10" width="230" height="240"><g filter="url(#mb3)"><rect x="140" y="0" width="66" height="45" fill="#fff" opacity="0.8"/><rect x="6" y="0" width="90" height="60" fill="#fff" opacity="0.5"/><rect x="64" y="40" width="70" height="174" fill="#fff" opacity="0.35"/><polygon points="96.9,-2.4 103.9,17.4 111.6,37.2 122.5,57.1 135.5,76.9 148.5,96.7 158.8,116.5 167.4,136.3 175.9,156.1 183.8,176.0 191.6,195.8 198.5,215.6 201.5,215.6 197.4,195.8 192.1,176.0 186.1,156.1 179.2,136.3 172.7,116.5 167.7,96.7 163.8,76.9 160.0,57.1 154.5,37.2 147.9,17.4 141.0,-2.4" fill="#000" opacity="1"/></g></mask><mask id="mbF" maskUnits="userSpaceOnUse" x="-10" y="-10" width="230" height="240"><g filter="url(#mb3)"><rect x="6" y="0" width="200" height="214" fill="#fff" opacity="1.0"/><polygon points="96.9,-2.4 103.9,17.4 111.6,37.2 122.5,57.1 135.5,76.9 148.5,96.7 158.8,116.5 167.4,136.3 175.9,156.1 183.8,176.0 191.6,195.8 198.5,215.6 201.5,215.6 197.4,195.8 192.1,176.0 186.1,156.1 179.2,136.3 172.7,116.5 167.7,96.7 163.8,76.9 160.0,57.1 154.5,37.2 147.9,17.4 141.0,-2.4" fill="#000" opacity="0.7"/></g></mask><mask id="mcS" maskUnits="userSpaceOnUse" x="-10" y="-10" width="230" height="240"><g filter="url(#mb3)"><rect x="5" y="0" width="28" height="214" fill="#fff" opacity="0.8"/><rect x="33" y="0" width="30" height="150" fill="#fff" opacity="0.6"/><rect x="33" y="150" width="30" height="64" fill="#fff" opacity="0.2"/><rect x="63" y="0" width="71" height="214" fill="#fff" opacity="0.1"/><rect x="63" y="0" width="50" height="70" fill="#fff" opacity="0.6"/><rect x="134" y="0" width="72" height="214" fill="#fff" opacity="0.12"/><polygon points="96.9,-2.4 103.9,17.4 111.6,37.2 122.5,57.1 135.5,76.9 148.5,96.7 158.8,116.5 167.4,136.3 175.9,156.1 183.8,176.0 191.6,195.8 198.5,215.6 201.5,215.6 197.4,195.8 192.1,176.0 186.1,156.1 179.2,136.3 172.7,116.5 167.7,96.7 163.8,76.9 160.0,57.1 154.5,37.2 147.9,17.4 141.0,-2.4" fill="#000" opacity="1"/></g></mask><mask id="mcP" maskUnits="userSpaceOnUse" x="-10" y="-10" width="230" height="240"><g filter="url(#mb3)"><rect x="5" y="0" width="58" height="50" fill="#fff" opacity="0.8"/><rect x="5" y="50" width="40" height="110" fill="#fff" opacity="1.0"/><rect x="5" y="160" width="30" height="54" fill="#fff" opacity="0.6"/><rect x="63" y="0" width="45" height="70" fill="#fff" opacity="1.0"/><rect x="63" y="70" width="25" height="25" fill="#fff" opacity="0.6"/><rect x="140" y="0" width="60" height="30" fill="#fff" opacity="0.6"/><polygon points="96.9,-2.4 103.9,17.4 111.6,37.2 122.5,57.1 135.5,76.9 148.5,96.7 158.8,116.5 167.4,136.3 175.9,156.1 183.8,176.0 191.6,195.8 198.5,215.6 201.5,215.6 197.4,195.8 192.1,176.0 186.1,156.1 179.2,136.3 172.7,116.5 167.7,96.7 163.8,76.9 160.0,57.1 154.5,37.2 147.9,17.4 141.0,-2.4" fill="#000" opacity="1"/></g></mask><mask id="mcF" maskUnits="userSpaceOnUse" x="-10" y="-10" width="230" height="240"><g filter="url(#mb3)"><rect x="5" y="0" width="200" height="120" fill="#fff" opacity="1.0"/><rect x="5" y="120" width="200" height="94" fill="#fff" opacity="0.7"/><polygon points="96.9,-2.4 103.9,17.4 111.6,37.2 122.5,57.1 135.5,76.9 148.5,96.7 158.8,116.5 167.4,136.3 175.9,156.1 183.8,176.0 191.6,195.8 198.5,215.6 201.5,215.6 197.4,195.8 192.1,176.0 186.1,156.1 179.2,136.3 172.7,116.5 167.7,96.7 163.8,76.9 160.0,57.1 154.5,37.2 147.9,17.4 141.0,-2.4" fill="#000" opacity="0.55"/></g></mask></defs><g transform="translate(25.5,17.4)"><g clip-path="url(#ca)"><use href="#mk"/></g></g><g transform="translate(295.8,17.4)"><g clip-path="url(#cb)"><g mask="url(#mbF)"><rect width="204.7" height="214.1" filter="url(#fL)"/><rect width="204.7" height="214.1" filter="url(#fD)"/></g><g mask="url(#mbP)"><rect width="204.7" height="214.1" filter="url(#pk)"/></g><g mask="url(#mbS)"><rect width="204.7" height="214.1" filter="url(#sL)"/><rect width="204.7" height="214.1" filter="url(#sD)"/></g><polyline points="24.3,60.9 26.3,57.4 29.0,53.7" fill="none" stroke="#f6f7fc" stroke-width="1.55" stroke-linecap="round" stroke-linejoin="round" opacity="0.77"/><polyline points="17.6,50.3 19.3,47.9 21.5,45.4" fill="none" stroke="#f6f7fc" stroke-width="1.29" stroke-linecap="round" stroke-linejoin="round" opacity="0.94"/><polyline points="41.7,46.3 44.3,43.9 45.4,43.2" fill="none" stroke="#f6f7fc" stroke-width="1.72" stroke-linecap="round" stroke-linejoin="round" opacity="0.57"/><polyline points="24.8,32.0 27.1,28.9 29.0,26.2" fill="none" stroke="#f6f7fc" stroke-width="1.55" stroke-linecap="round" stroke-linejoin="round" opacity="0.61"/><polyline points="36.4,43.2 38.5,41.6 40.5,40.5" fill="none" stroke="#f6f7fc" stroke-width="1.27" stroke-linecap="round" stroke-linejoin="round" opacity="0.66"/><polyline points="4.1,42.2 7.4,40.1 9.9,37.4" fill="none" stroke="#f6f7fc" stroke-width="1.28" stroke-linecap="round" stroke-linejoin="round" opacity="0.91"/><polyline points="21.1,39.2 23.0,36.4 25.2,33.5" fill="none" stroke="#f6f7fc" stroke-width="1.01" stroke-linecap="round" stroke-linejoin="round" opacity="0.88"/><polyline points="7.9,52.6 9.7,50.1 11.0,47.6" fill="none" stroke="#f6f7fc" stroke-width="1.22" stroke-linecap="round" stroke-linejoin="round" opacity="0.59"/><polyline points="28.0,27.2 31.0,24.9 34.3,22.6" fill="none" stroke="#f6f7fc" stroke-width="1.00" stroke-linecap="round" stroke-linejoin="round" opacity="0.95"/><polyline points="14.8,20.2 16.3,17.6 17.4,15.6" fill="none" stroke="#f6f7fc" stroke-width="1.26" stroke-linecap="round" stroke-linejoin="round" opacity="0.78"/><polyline points="37.8,46.4 38.5,44.6 40.7,41.9" fill="none" stroke="#f6f7fc" stroke-width="1.38" stroke-linecap="round" stroke-linejoin="round" opacity="0.94"/><polyline points="33.5,49.9 36.4,47.7 38.8,46.5" fill="none" stroke="#f6f7fc" stroke-width="0.93" stroke-linecap="round" stroke-linejoin="round" opacity="0.75"/><polyline points="34.3,21.4 37.1,19.6 39.1,17.5" fill="none" stroke="#f6f7fc" stroke-width="1.19" stroke-linecap="round" stroke-linejoin="round" opacity="0.64"/><polyline points="36.2,27.0 38.7,25.3 42.3,23.6" fill="none" stroke="#f6f7fc" stroke-width="1.79" stroke-linecap="round" stroke-linejoin="round" opacity="0.85"/><polyline points="18.7,41.8 20.1,39.9 22.4,36.9" fill="none" stroke="#f6f7fc" stroke-width="1.24" stroke-linecap="round" stroke-linejoin="round" opacity="0.63"/><polyline points="38.6,7.8 41.0,3.7 44.3,-0.1" fill="none" stroke="#f6f7fc" stroke-width="1.56" stroke-linecap="round" stroke-linejoin="round" opacity="0.56"/><polyline points="21.8,26.2 24.0,24.4 25.2,23.2" fill="none" stroke="#f6f7fc" stroke-width="1.53" stroke-linecap="round" stroke-linejoin="round" opacity="0.79"/><polyline points="17.2,49.0 17.8,47.8 19.0,45.8" fill="none" stroke="#f6f7fc" stroke-width="0.99" stroke-linecap="round" stroke-linejoin="round" opacity="0.82"/><polyline points="26.7,13.2 28.9,11.9 30.7,10.6" fill="none" stroke="#f6f7fc" stroke-width="0.97" stroke-linecap="round" stroke-linejoin="round" opacity="0.63"/><polyline points="23.8,30.8 26.7,28.9 31.2,25.9" fill="none" stroke="#f6f7fc" stroke-width="1.16" stroke-linecap="round" stroke-linejoin="round" opacity="0.59"/><polyline points="27.5,20.6 29.6,17.3 31.7,15.6" fill="none" stroke="#f6f7fc" stroke-width="1.49" stroke-linecap="round" stroke-linejoin="round" opacity="0.61"/><polyline points="20.1,6.0 21.7,4.3 22.9,1.7" fill="none" stroke="#f6f7fc" stroke-width="0.86" stroke-linecap="round" stroke-linejoin="round" opacity="0.59"/><polyline points="42.1,48.0 43.3,45.7 45.2,43.3" fill="none" stroke="#f6f7fc" stroke-width="0.92" stroke-linecap="round" stroke-linejoin="round" opacity="0.60"/><polyline points="22.3,10.9 24.5,8.2 27.5,5.6" fill="none" stroke="#f6f7fc" stroke-width="0.96" stroke-linecap="round" stroke-linejoin="round" opacity="0.56"/><polyline points="6.5,60.9 9.8,58.0 12.9,54.9" fill="none" stroke="#f6f7fc" stroke-width="1.36" stroke-linecap="round" stroke-linejoin="round" opacity="0.75"/><polyline points="20.3,37.2 23.2,35.7 26.3,34.2" fill="none" stroke="#f6f7fc" stroke-width="1.20" stroke-linecap="round" stroke-linejoin="round" opacity="0.93"/><polyline points="30.4,38.1 31.2,36.3 32.2,35.0" fill="none" stroke="#f6f7fc" stroke-width="1.44" stroke-linecap="round" stroke-linejoin="round" opacity="0.57"/><polyline points="7.2,10.2 9.4,7.9 12.1,4.9" fill="none" stroke="#f6f7fc" stroke-width="1.61" stroke-linecap="round" stroke-linejoin="round" opacity="0.88"/><polyline points="11.4,40.9 13.4,38.9 14.8,36.4" fill="none" stroke="#f6f7fc" stroke-width="1.08" stroke-linecap="round" stroke-linejoin="round" opacity="0.92"/><polyline points="24.7,22.3 26.9,20.5 28.7,17.6" fill="none" stroke="#f6f7fc" stroke-width="1.63" stroke-linecap="round" stroke-linejoin="round" opacity="0.88"/><polyline points="26.2,156.9 28.2,153.5 30.2,148.7" fill="none" stroke="#f6f7fc" stroke-width="1.34" stroke-linecap="round" stroke-linejoin="round" opacity="0.72"/><polyline points="4.9,194.9 9.1,191.1 12.2,186.3" fill="none" stroke="#f6f7fc" stroke-width="1.19" stroke-linecap="round" stroke-linejoin="round" opacity="0.80"/><polyline points="9.3,87.3 12.2,82.3 14.9,78.5" fill="none" stroke="#f6f7fc" stroke-width="1.07" stroke-linecap="round" stroke-linejoin="round" opacity="0.66"/><polyline points="26.3,193.4 28.3,190.0 30.7,188.0" fill="none" stroke="#f6f7fc" stroke-width="1.77" stroke-linecap="round" stroke-linejoin="round" opacity="0.62"/><polyline points="18.7,78.2 20.3,74.7 21.6,72.1" fill="none" stroke="#f6f7fc" stroke-width="1.22" stroke-linecap="round" stroke-linejoin="round" opacity="0.83"/><polyline points="11.5,138.0 13.5,134.1 15.6,130.3" fill="none" stroke="#f6f7fc" stroke-width="1.44" stroke-linecap="round" stroke-linejoin="round" opacity="0.77"/><polyline points="25.2,98.2 27.1,94.7 28.1,90.5" fill="none" stroke="#f6f7fc" stroke-width="1.22" stroke-linecap="round" stroke-linejoin="round" opacity="0.92"/><polyline points="23.9,103.3 26.9,98.4 29.4,91.9" fill="none" stroke="#f6f7fc" stroke-width="0.80" stroke-linecap="round" stroke-linejoin="round" opacity="0.61"/><polyline points="20.4,125.4 23.9,119.3 26.8,113.9" fill="none" stroke="#f6f7fc" stroke-width="1.61" stroke-linecap="round" stroke-linejoin="round" opacity="0.66"/><polyline points="17.1,174.6 21.0,169.8 25.2,166.0" fill="none" stroke="#f6f7fc" stroke-width="1.06" stroke-linecap="round" stroke-linejoin="round" opacity="0.56"/><polyline points="12.2,170.7 13.8,167.6 14.4,165.1" fill="none" stroke="#f6f7fc" stroke-width="1.58" stroke-linecap="round" stroke-linejoin="round" opacity="0.92"/><polyline points="23.7,90.8 27.2,86.2 30.4,83.0" fill="none" stroke="#f6f7fc" stroke-width="1.55" stroke-linecap="round" stroke-linejoin="round" opacity="0.69"/><polyline points="5.2,121.3 8.3,116.4 10.2,111.4" fill="none" stroke="#f6f7fc" stroke-width="1.28" stroke-linecap="round" stroke-linejoin="round" opacity="0.74"/><polyline points="24.8,90.9 27.3,87.5 28.7,83.8" fill="none" stroke="#f6f7fc" stroke-width="1.41" stroke-linecap="round" stroke-linejoin="round" opacity="0.84"/><polyline points="4.3,115.2 8.9,111.0 13.6,105.8" fill="none" stroke="#f6f7fc" stroke-width="1.48" stroke-linecap="round" stroke-linejoin="round" opacity="0.84"/><polyline points="17.6,171.7 19.8,168.9 21.8,165.3" fill="none" stroke="#f6f7fc" stroke-width="1.44" stroke-linecap="round" stroke-linejoin="round" opacity="0.69"/><polyline points="10.4,95.0 11.4,92.0 12.2,89.4" fill="none" stroke="#f6f7fc" stroke-width="1.34" stroke-linecap="round" stroke-linejoin="round" opacity="0.75"/><polyline points="8.3,127.3 11.6,124.4 13.0,121.4" fill="none" stroke="#f6f7fc" stroke-width="1.17" stroke-linecap="round" stroke-linejoin="round" opacity="0.90"/><polyline points="23.7,152.8 28.1,149.2 31.6,145.4" fill="none" stroke="#f6f7fc" stroke-width="0.98" stroke-linecap="round" stroke-linejoin="round" opacity="0.88"/><polyline points="12.4,158.6 14.0,156.1 15.3,152.1" fill="none" stroke="#f6f7fc" stroke-width="0.96" stroke-linecap="round" stroke-linejoin="round" opacity="0.69"/><polyline points="5.9,156.0 8.1,151.3 11.0,147.1" fill="none" stroke="#f6f7fc" stroke-width="0.84" stroke-linecap="round" stroke-linejoin="round" opacity="0.59"/><polyline points="16.8,179.2 18.9,176.9 20.1,175.1" fill="none" stroke="#f6f7fc" stroke-width="1.64" stroke-linecap="round" stroke-linejoin="round" opacity="0.64"/><polyline points="18.1,140.3 21.3,136.9 22.8,132.0" fill="none" stroke="#f6f7fc" stroke-width="1.80" stroke-linecap="round" stroke-linejoin="round" opacity="0.74"/><polyline points="11.5,145.3 13.2,142.6 14.8,139.9" fill="none" stroke="#f6f7fc" stroke-width="0.91" stroke-linecap="round" stroke-linejoin="round" opacity="0.72"/><polyline points="22.2,103.4 25.2,99.0 28.7,95.2" fill="none" stroke="#f6f7fc" stroke-width="1.58" stroke-linecap="round" stroke-linejoin="round" opacity="0.65"/><polyline points="10.6,192.9 12.8,188.9 14.9,187.1" fill="none" stroke="#f6f7fc" stroke-width="1.44" stroke-linecap="round" stroke-linejoin="round" opacity="0.72"/><polyline points="23.8,177.8 27.4,174.3 30.5,171.0" fill="none" stroke="#f6f7fc" stroke-width="1.09" stroke-linecap="round" stroke-linejoin="round" opacity="0.64"/><polyline points="23.0,160.2 24.4,158.4 25.6,155.5" fill="none" stroke="#f6f7fc" stroke-width="0.88" stroke-linecap="round" stroke-linejoin="round" opacity="0.68"/><polyline points="21.8,76.3 23.1,74.2 24.0,70.7" fill="none" stroke="#f6f7fc" stroke-width="1.17" stroke-linecap="round" stroke-linejoin="round" opacity="0.67"/><polyline points="13.8,96.2 15.9,91.6 17.6,85.3" fill="none" stroke="#f6f7fc" stroke-width="1.55" stroke-linecap="round" stroke-linejoin="round" opacity="0.58"/><polyline points="7.9,166.2 9.7,163.5 11.0,161.0" fill="none" stroke="#f6f7fc" stroke-width="0.91" stroke-linecap="round" stroke-linejoin="round" opacity="0.77"/><polyline points="19.1,147.5 20.8,142.3 23.0,138.2" fill="none" stroke="#f6f7fc" stroke-width="1.77" stroke-linecap="round" stroke-linejoin="round" opacity="0.83"/><polyline points="22.8,109.3 27.1,104.4 30.7,98.5" fill="none" stroke="#f6f7fc" stroke-width="1.20" stroke-linecap="round" stroke-linejoin="round" opacity="0.73"/><polyline points="25.5,84.8 27.7,79.0 30.8,72.9" fill="none" stroke="#f6f7fc" stroke-width="0.82" stroke-linecap="round" stroke-linejoin="round" opacity="0.55"/><polyline points="11.8,189.2 13.2,186.7 16.8,183.0" fill="none" stroke="#f6f7fc" stroke-width="1.26" stroke-linecap="round" stroke-linejoin="round" opacity="0.66"/><polyline points="26.6,123.3 29.7,119.5 31.2,115.6" fill="none" stroke="#f6f7fc" stroke-width="1.64" stroke-linecap="round" stroke-linejoin="round" opacity="0.94"/><polyline points="23.5,75.4 26.6,71.8 28.4,66.7" fill="none" stroke="#f6f7fc" stroke-width="1.54" stroke-linecap="round" stroke-linejoin="round" opacity="0.94"/><polyline points="4.2,127.4 6.3,124.5 7.1,122.0" fill="none" stroke="#f6f7fc" stroke-width="1.02" stroke-linecap="round" stroke-linejoin="round" opacity="0.83"/><polyline points="7.6,155.9 9.1,153.9 10.6,152.1" fill="none" stroke="#f6f7fc" stroke-width="1.72" stroke-linecap="round" stroke-linejoin="round" opacity="0.72"/><polyline points="5.9,95.1 6.8,92.7 7.6,90.4" fill="none" stroke="#f6f7fc" stroke-width="1.66" stroke-linecap="round" stroke-linejoin="round" opacity="0.70"/><polyline points="21.6,179.6 22.6,177.0 24.3,173.8" fill="none" stroke="#f6f7fc" stroke-width="0.85" stroke-linecap="round" stroke-linejoin="round" opacity="0.65"/><polyline points="9.3,115.5 11.5,111.6 12.8,107.2" fill="none" stroke="#f6f7fc" stroke-width="1.57" stroke-linecap="round" stroke-linejoin="round" opacity="0.65"/><polyline points="11.6,145.0 13.8,142.6 16.8,140.0" fill="none" stroke="#f6f7fc" stroke-width="1.46" stroke-linecap="round" stroke-linejoin="round" opacity="0.60"/><polyline points="4.9,196.0 9.1,192.0 12.9,187.2" fill="none" stroke="#f6f7fc" stroke-width="1.48" stroke-linecap="round" stroke-linejoin="round" opacity="0.68"/><polyline points="25.6,123.8 27.1,121.2 27.4,119.3" fill="none" stroke="#f6f7fc" stroke-width="1.32" stroke-linecap="round" stroke-linejoin="round" opacity="0.92"/><polyline points="85.9,6.1 88.2,4.4 89.7,2.9" fill="none" stroke="#f6f7fc" stroke-width="0.85" stroke-linecap="round" stroke-linejoin="round" opacity="0.64"/><polyline points="88.0,26.7 89.9,25.3 92.6,22.5" fill="none" stroke="#f6f7fc" stroke-width="1.69" stroke-linecap="round" stroke-linejoin="round" opacity="0.95"/><polyline points="94.3,29.5 97.5,26.5 100.4,23.8" fill="none" stroke="#f6f7fc" stroke-width="1.40" stroke-linecap="round" stroke-linejoin="round" opacity="0.59"/><polyline points="58.2,39.8 60.5,37.9 62.8,36.0" fill="none" stroke="#f6f7fc" stroke-width="1.44" stroke-linecap="round" stroke-linejoin="round" opacity="0.76"/><polyline points="72.7,11.2 76.3,8.8 79.2,6.3" fill="none" stroke="#f6f7fc" stroke-width="1.72" stroke-linecap="round" stroke-linejoin="round" opacity="0.65"/><polyline points="54.8,41.2 57.5,40.1 60.1,38.2" fill="none" stroke="#f6f7fc" stroke-width="1.24" stroke-linecap="round" stroke-linejoin="round" opacity="0.58"/><polyline points="63.0,36.5 65.1,34.5 67.4,32.3" fill="none" stroke="#f6f7fc" stroke-width="1.38" stroke-linecap="round" stroke-linejoin="round" opacity="0.70"/><polyline points="53.9,7.9 56.9,4.3 60.5,2.3" fill="none" stroke="#f6f7fc" stroke-width="1.35" stroke-linecap="round" stroke-linejoin="round" opacity="0.74"/><polyline points="68.7,30.3 70.9,27.2 73.3,24.5" fill="none" stroke="#f6f7fc" stroke-width="0.85" stroke-linecap="round" stroke-linejoin="round" opacity="0.80"/><polyline points="77.2,41.8 79.9,40.0 82.3,37.4" fill="none" stroke="#f6f7fc" stroke-width="1.65" stroke-linecap="round" stroke-linejoin="round" opacity="0.69"/><polyline points="55.8,38.2 57.7,35.2 60.5,32.5" fill="none" stroke="#f6f7fc" stroke-width="1.26" stroke-linecap="round" stroke-linejoin="round" opacity="0.77"/><polyline points="59.5,41.9 62.3,39.3 66.0,36.8" fill="none" stroke="#f6f7fc" stroke-width="1.62" stroke-linecap="round" stroke-linejoin="round" opacity="0.73"/><polyline points="88.9,31.2 90.1,29.0 92.4,27.6" fill="none" stroke="#f6f7fc" stroke-width="1.41" stroke-linecap="round" stroke-linejoin="round" opacity="0.65"/><polyline points="49.5,3.6 51.3,0.9 52.9,-0.9" fill="none" stroke="#f6f7fc" stroke-width="1.46" stroke-linecap="round" stroke-linejoin="round" opacity="0.57"/><polyline points="68.0,8.9 71.8,6.9 75.2,5.9" fill="none" stroke="#f6f7fc" stroke-width="1.55" stroke-linecap="round" stroke-linejoin="round" opacity="0.93"/><polyline points="55.3,24.4 57.1,22.8 60.2,20.7" fill="none" stroke="#f6f7fc" stroke-width="1.51" stroke-linecap="round" stroke-linejoin="round" opacity="0.95"/><polyline points="55.4,25.7 57.4,24.6 58.9,23.0" fill="none" stroke="#f6f7fc" stroke-width="1.73" stroke-linecap="round" stroke-linejoin="round" opacity="0.87"/><polyline points="65.9,33.0 68.7,30.6 71.7,27.9" fill="none" stroke="#f6f7fc" stroke-width="1.00" stroke-linecap="round" stroke-linejoin="round" opacity="0.66"/><polyline points="91.2,39.9 93.3,37.2 95.9,35.7" fill="none" stroke="#f6f7fc" stroke-width="1.01" stroke-linecap="round" stroke-linejoin="round" opacity="0.87"/><polyline points="68.7,37.1 70.4,35.6 72.8,34.3" fill="none" stroke="#f6f7fc" stroke-width="1.30" stroke-linecap="round" stroke-linejoin="round" opacity="0.92"/><polyline points="53.7,7.2 56.3,5.7 58.8,3.7" fill="none" stroke="#f6f7fc" stroke-width="0.82" stroke-linecap="round" stroke-linejoin="round" opacity="0.93"/><polyline points="78.1,21.1 80.3,19.6 82.0,18.0" fill="none" stroke="#f6f7fc" stroke-width="1.31" stroke-linecap="round" stroke-linejoin="round" opacity="0.78"/><polyline points="73.8,37.9 77.7,35.2 82.0,32.7" fill="none" stroke="#f6f7fc" stroke-width="1.42" stroke-linecap="round" stroke-linejoin="round" opacity="0.63"/><polyline points="62.3,24.6 64.6,23.4 66.5,20.8" fill="none" stroke="#f6f7fc" stroke-width="1.65" stroke-linecap="round" stroke-linejoin="round" opacity="0.79"/><polyline points="97.2,18.8 99.1,18.3 99.5,16.3" fill="none" stroke="#f6f7fc" stroke-width="1.28" stroke-linecap="round" stroke-linejoin="round" opacity="0.85"/><polyline points="53.0,6.6 56.2,3.6 59.3,1.1" fill="none" stroke="#f6f7fc" stroke-width="1.00" stroke-linecap="round" stroke-linejoin="round" opacity="0.74"/><polyline points="60.1,40.1 63.3,37.2 67.4,35.0" fill="none" stroke="#f6f7fc" stroke-width="1.75" stroke-linecap="round" stroke-linejoin="round" opacity="0.61"/><polyline points="72.6,28.6 75.3,27.5 79.0,25.2" fill="none" stroke="#f6f7fc" stroke-width="1.32" stroke-linecap="round" stroke-linejoin="round" opacity="0.56"/><polyline points="50.6,2.3 53.5,1.3 56.7,0.4" fill="none" stroke="#f6f7fc" stroke-width="1.67" stroke-linecap="round" stroke-linejoin="round" opacity="0.59"/><polyline points="68.2,5.7 70.5,3.1 73.3,2.0" fill="none" stroke="#f6f7fc" stroke-width="1.07" stroke-linecap="round" stroke-linejoin="round" opacity="0.70"/><polyline points="43.9,7.7 46.2,5.8 49.0,3.6" fill="none" stroke="#f6f7fc" stroke-width="0.96" stroke-linecap="round" stroke-linejoin="round" opacity="0.59"/><polyline points="61.1,15.9 64.0,14.4 67.8,12.2" fill="none" stroke="#f6f7fc" stroke-width="1.10" stroke-linecap="round" stroke-linejoin="round" opacity="0.56"/><polyline points="93.7,33.7 96.4,30.2 100.5,27.6" fill="none" stroke="#f6f7fc" stroke-width="0.95" stroke-linecap="round" stroke-linejoin="round" opacity="0.59"/><polyline points="61.3,11.8 64.9,8.8 67.0,5.8" fill="none" stroke="#f6f7fc" stroke-width="1.16" stroke-linecap="round" stroke-linejoin="round" opacity="0.75"/><polyline points="60.3,9.5 62.9,6.9 65.4,4.9" fill="none" stroke="#f6f7fc" stroke-width="1.35" stroke-linecap="round" stroke-linejoin="round" opacity="0.71"/><polyline points="125.6,18.1 126.8,16.2 127.0,13.3" fill="none" stroke="#f6f7fc" stroke-width="0.89" stroke-linecap="round" stroke-linejoin="round" opacity="0.58"/><polyline points="123.6,42.2 124.6,38.8 127.6,35.5" fill="none" stroke="#f6f7fc" stroke-width="0.96" stroke-linecap="round" stroke-linejoin="round" opacity="0.91"/><polyline points="136.6,47.1 136.2,43.7 137.6,41.1" fill="none" stroke="#f6f7fc" stroke-width="1.19" stroke-linecap="round" stroke-linejoin="round" opacity="0.65"/><polyline points="125.3,36.3 126.4,34.9 127.3,32.7" fill="none" stroke="#f6f7fc" stroke-width="1.20" stroke-linecap="round" stroke-linejoin="round" opacity="0.76"/><polyline points="114.1,47.5 114.1,45.3 114.7,43.0" fill="none" stroke="#f6f7fc" stroke-width="1.36" stroke-linecap="round" stroke-linejoin="round" opacity="0.78"/><polyline points="100.2,50.5 100.3,47.3 102.4,44.8" fill="none" stroke="#f6f7fc" stroke-width="1.75" stroke-linecap="round" stroke-linejoin="round" opacity="0.90"/><polyline points="113.0,28.1 114.2,23.0 115.6,19.2" fill="none" stroke="#f6f7fc" stroke-width="1.25" stroke-linecap="round" stroke-linejoin="round" opacity="0.69"/><polyline points="137.4,11.4 138.5,8.5 139.9,7.4" fill="none" stroke="#f6f7fc" stroke-width="0.87" stroke-linecap="round" stroke-linejoin="round" opacity="0.81"/><polyline points="104.2,17.5 105.8,16.9 106.8,13.3" fill="none" stroke="#f6f7fc" stroke-width="1.28" stroke-linecap="round" stroke-linejoin="round" opacity="0.65"/><polyline points="130.5,19.5 130.8,17.2 130.4,14.9" fill="none" stroke="#f6f7fc" stroke-width="1.16" stroke-linecap="round" stroke-linejoin="round" opacity="0.90"/><use href="#mk"/></g></g><g transform="translate(25.5,270.4)"><g clip-path="url(#cc)"><g mask="url(#mcF)"><rect width="204.1" height="214.2" filter="url(#fL)"/><rect width="204.1" height="214.2" filter="url(#fD)"/></g><g mask="url(#mcS)"><rect width="204.1" height="214.2" filter="url(#sL)"/><rect width="204.1" height="214.2" filter="url(#sD)"/></g><g mask="url(#mcP)"><rect width="204.1" height="214.2" filter="url(#pk)"/></g><use href="#mk"/></g></g><g transform="translate(295.8,270.4)"><g clip-path="url(#cd)"><use href="#mk"/></g></g><rect x="25.5" y="17.4" width="204.10" height="214.10" fill="none" stroke="#404040" stroke-width="1"/><rect x="25.5" y="270.4" width="204.10" height="214.20" fill="none" stroke="#404040" stroke-width="1"/><rect x="295.8" y="17.4" width="204.70" height="214.10" fill="none" stroke="#404040" stroke-width="1"/><rect x="295.8" y="270.4" width="204.70" height="214.20" fill="none" stroke="#404040" stroke-width="1"/><rect x="243.0" y="17.4" width="10.80" height="214.10" fill="url(#cbg)"/><rect x="243.0" y="17.4" width="10.80" height="214.10" fill="none" stroke="#404040" stroke-width="1"/><line x1="253.8" x2="256.6" y1="17.40" y2="17.40" stroke="#404040" stroke-width="0.8"/><text x="259.0" y="20.15" font-size="7.6" font-family="Liberation Sans" fill="#262626" stroke="#262626" stroke-width="0.22" textLength="8.9" lengthAdjust="spacingAndGlyphs">10</text><line x1="253.8" x2="256.6" y1="47.99" y2="47.99" stroke="#404040" stroke-width="0.8"/><text x="259.0" y="50.74" font-size="7.6" font-family="Liberation Sans" fill="#262626" stroke="#262626" stroke-width="0.22" textLength="4.45" lengthAdjust="spacingAndGlyphs">0</text><line x1="253.8" x2="256.6" y1="78.57" y2="78.57" stroke="#404040" stroke-width="0.8"/><text x="259.0" y="81.32" font-size="7.6" font-family="Liberation Sans" fill="#262626" stroke="#262626" stroke-width="0.22" textLength="14.8" lengthAdjust="spacingAndGlyphs">−10</text><line x1="253.8" x2="256.6" y1="109.16" y2="109.16" stroke="#404040" stroke-width="0.8"/><text x="259.0" y="111.91" font-size="7.6" font-family="Liberation Sans" fill="#262626" stroke="#262626" stroke-width="0.22" textLength="14.8" lengthAdjust="spacingAndGlyphs">−20</text><line x1="253.8" x2="256.6" y1="139.74" y2="139.74" stroke="#404040" stroke-width="0.8"/><text x="259.0" y="142.49" font-size="7.6" font-family="Liberation Sans" fill="#262626" stroke="#262626" stroke-width="0.22" textLength="14.8" lengthAdjust="spacingAndGlyphs">−30</text><line x1="253.8" x2="256.6" y1="170.33" y2="170.33" stroke="#404040" stroke-width="0.8"/><text x="259.0" y="173.08" font-size="7.6" font-family="Liberation Sans" fill="#262626" stroke="#262626" stroke-width="0.22" textLength="14.8" lengthAdjust="spacingAndGlyphs">−40</text><line x1="253.8" x2="256.6" y1="200.91" y2="200.91" stroke="#404040" stroke-width="0.8"/><text x="259.0" y="203.66" font-size="7.6" font-family="Liberation Sans" fill="#262626" stroke="#262626" stroke-width="0.22" textLength="14.8" lengthAdjust="spacingAndGlyphs">−50</text><line x1="253.8" x2="256.6" y1="231.50" y2="231.50" stroke="#404040" stroke-width="0.8"/><text x="259.0" y="234.25" font-size="7.6" font-family="Liberation Sans" fill="#262626" stroke="#262626" stroke-width="0.22" textLength="14.8" lengthAdjust="spacingAndGlyphs">−60</text><rect x="243.0" y="270.4" width="10.80" height="214.20" fill="url(#cbg)"/><rect x="243.0" y="270.4" width="10.80" height="214.20" fill="none" stroke="#404040" stroke-width="1"/><line x1="253.8" x2="256.6" y1="270.40" y2="270.40" stroke="#404040" stroke-width="0.8"/><text x="259.0" y="273.15" font-size="7.6" font-family="Liberation Sans" fill="#262626" stroke="#262626" stroke-width="0.22" textLength="8.9" lengthAdjust="spacingAndGlyphs">10</text><line x1="253.8" x2="256.6" y1="301.00" y2="301.00" stroke="#404040" stroke-width="0.8"/><text x="259.0" y="303.75" font-size="7.6" font-family="Liberation Sans" fill="#262626" stroke="#262626" stroke-width="0.22" textLength="4.45" lengthAdjust="spacingAndGlyphs">0</text><line x1="253.8" x2="256.6" y1="331.60" y2="331.60" stroke="#404040" stroke-width="0.8"/><text x="259.0" y="334.35" font-size="7.6" font-family="Liberation Sans" fill="#262626" stroke="#262626" stroke-width="0.22" textLength="14.8" lengthAdjust="spacingAndGlyphs">−10</text><line x1="253.8" x2="256.6" y1="362.20" y2="362.20" stroke="#404040" stroke-width="0.8"/><text x="259.0" y="364.95" font-size="7.6" font-family="Liberation Sans" fill="#262626" stroke="#262626" stroke-width="0.22" textLength="14.8" lengthAdjust="spacingAndGlyphs">−20</text><line x1="253.8" x2="256.6" y1="392.80" y2="392.80" stroke="#404040" stroke-width="0.8"/><text x="259.0" y="395.55" font-size="7.6" font-family="Liberation Sans" fill="#262626" stroke="#262626" stroke-width="0.22" textLength="14.8" lengthAdjust="spacingAndGlyphs">−30</text><line x1="253.8" x2="256.6" y1="423.40" y2="423.40" stroke="#404040" stroke-width="0.8"/><text x="259.0" y="426.15" font-size="7.6" font-family="Liberation Sans" fill="#262626" stroke="#262626" stroke-width="0.22" textLength="14.8" lengthAdjust="spacingAndGlyphs">−40</text><line x1="253.8" x2="256.6" y1="454.00" y2="454.00" stroke="#404040" stroke-width="0.8"/><text x="259.0" y="456.75" font-size="7.6" font-family="Liberation Sans" fill="#262626" stroke="#262626" stroke-width="0.22" textLength="14.8" lengthAdjust="spacingAndGlyphs">−50</text><line x1="253.8" x2="256.6" y1="484.60" y2="484.60" stroke="#404040" stroke-width="0.8"/><text x="259.0" y="487.35" font-size="7.6" font-family="Liberation Sans" fill="#262626" stroke="#262626" stroke-width="0.22" textLength="14.8" lengthAdjust="spacingAndGlyphs">−60</text><rect x="513.4" y="17.4" width="10.80" height="214.10" fill="url(#cbg)"/><rect x="513.4" y="17.4" width="10.80" height="214.10" fill="none" stroke="#404040" stroke-width="1"/><line x1="524.2" x2="527.0" y1="17.40" y2="17.40" stroke="#404040" stroke-width="0.8"/><text x="529.4000000000001" y="20.15" font-size="7.6" font-family="Liberation Sans" fill="#262626" stroke="#262626" stroke-width="0.22" textLength="8.9" lengthAdjust="spacingAndGlyphs">10</text><line x1="524.2" x2="527.0" y1="47.99" y2="47.99" stroke="#404040" stroke-width="0.8"/><text x="529.4000000000001" y="50.74" font-size="7.6" font-family="Liberation Sans" fill="#262626" stroke="#262626" stroke-width="0.22" textLength="4.45" lengthAdjust="spacingAndGlyphs">0</text><line x1="524.2" x2="527.0" y1="78.57" y2="78.57" stroke="#404040" stroke-width="0.8"/><text x="529.4000000000001" y="81.32" font-size="7.6" font-family="Liberation Sans" fill="#262626" stroke="#262626" stroke-width="0.22" textLength="14.8" lengthAdjust="spacingAndGlyphs">−10</text><line x1="524.2" x2="527.0" y1="109.16" y2="109.16" stroke="#404040" stroke-width="0.8"/><text x="529.4000000000001" y="111.91" font-size="7.6" font-family="Liberation Sans" fill="#262626" stroke="#262626" stroke-width="0.22" textLength="14.8" lengthAdjust="spacingAndGlyphs">−20</text><line x1="524.2" x2="527.0" y1="139.74" y2="139.74" stroke="#404040" stroke-width="0.8"/><text x="529.4000000000001" y="142.49" font-size="7.6" font-family="Liberation Sans" fill="#262626" stroke="#262626" stroke-width="0.22" textLength="14.8" lengthAdjust="spacingAndGlyphs">−30</text><line x1="524.2" x2="527.0" y1="170.33" y2="170.33" stroke="#404040" stroke-width="0.8"/><text x="529.4000000000001" y="173.08" font-size="7.6" font-family="Liberation Sans" fill="#262626" stroke="#262626" stroke-width="0.22" textLength="14.8" lengthAdjust="spacingAndGlyphs">−40</text><line x1="524.2" x2="527.0" y1="200.91" y2="200.91" stroke="#404040" stroke-width="0.8"/><text x="529.4000000000001" y="203.66" font-size="7.6" font-family="Liberation Sans" fill="#262626" stroke="#262626" stroke-width="0.22" textLength="14.8" lengthAdjust="spacingAndGlyphs">−50</text><line x1="524.2" x2="527.0" y1="231.50" y2="231.50" stroke="#404040" stroke-width="0.8"/><text x="529.4000000000001" y="234.25" font-size="7.6" font-family="Liberation Sans" fill="#262626" stroke="#262626" stroke-width="0.22" textLength="14.8" lengthAdjust="spacingAndGlyphs">−60</text><rect x="513.4" y="270.4" width="10.80" height="214.20" fill="url(#cbg)"/><rect x="513.4" y="270.4" width="10.80" height="214.20" fill="none" stroke="#404040" stroke-width="1"/><line x1="524.2" x2="527.0" y1="270.40" y2="270.40" stroke="#404040" stroke-width="0.8"/><text x="529.4000000000001" y="273.15" font-size="7.6" font-family="Liberation Sans" fill="#262626" stroke="#262626" stroke-width="0.22" textLength="8.9" lengthAdjust="spacingAndGlyphs">10</text><line x1="524.2" x2="527.0" y1="301.00" y2="301.00" stroke="#404040" stroke-width="0.8"/><text x="529.4000000000001" y="303.75" font-size="7.6" font-family="Liberation Sans" fill="#262626" stroke="#262626" stroke-width="0.22" textLength="4.45" lengthAdjust="spacingAndGlyphs">0</text><line x1="524.2" x2="527.0" y1="331.60" y2="331.60" stroke="#404040" stroke-width="0.8"/><text x="529.4000000000001" y="334.35" font-size="7.6" font-family="Liberation Sans" fill="#262626" stroke="#262626" stroke-width="0.22" textLength="14.8" lengthAdjust="spacingAndGlyphs">−10</text><line x1="524.2" x2="527.0" y1="362.20" y2="362.20" stroke="#404040" stroke-width="0.8"/><text x="529.4000000000001" y="364.95" font-size="7.6" font-family="Liberation Sans" fill="#262626" stroke="#262626" stroke-width="0.22" textLength="14.8" lengthAdjust="spacingAndGlyphs">−20</text><line x1="524.2" x2="527.0" y1="392.80" y2="392.80" stroke="#404040" stroke-width="0.8"/><text x="529.4000000000001" y="395.55" font-size="7.6" font-family="Liberation Sans" fill="#262626" stroke="#262626" stroke-width="0.22" textLength="14.8" lengthAdjust="spacingAndGlyphs">−30</text><line x1="524.2" x2="527.0" y1="423.40" y2="423.40" stroke="#404040" stroke-width="0.8"/><text x="529.4000000000001" y="426.15" font-size="7.6" font-family="Liberation Sans" fill="#262626" stroke="#262626" stroke-width="0.22" textLength="14.8" lengthAdjust="spacingAndGlyphs">−40</text><line x1="524.2" x2="527.0" y1="454.00" y2="454.00" stroke="#404040" stroke-width="0.8"/><text x="529.4000000000001" y="456.75" font-size="7.6" font-family="Liberation Sans" fill="#262626" stroke="#262626" stroke-width="0.22" textLength="14.8" lengthAdjust="spacingAndGlyphs">−50</text><line x1="524.2" x2="527.0" y1="484.60" y2="484.60" stroke="#404040" stroke-width="0.8"/><text x="529.4000000000001" y="487.35" font-size="7.6" font-family="Liberation Sans" fill="#262626" stroke="#262626" stroke-width="0.22" textLength="14.8" lengthAdjust="spacingAndGlyphs">−60</text><line x1="25.50" x2="25.50" y1="231.5" y2="234.10" stroke="#404040" stroke-width="0.8"/><line x1="90.40" x2="90.40" y1="231.5" y2="234.10" stroke="#404040" stroke-width="0.8"/><line x1="160.20" x2="160.20" y1="231.5" y2="234.10" stroke="#404040" stroke-width="0.8"/><text x="54.70" y="239.90" font-size="7.2" font-family="Liberation Sans" fill="#262626" stroke="#262626" stroke-width="0.22" text-anchor="middle" textLength="13.4" lengthAdjust="spacingAndGlyphs">IW1</text><text x="125.30" y="239.90" font-size="7.2" font-family="Liberation Sans" fill="#262626" stroke="#262626" stroke-width="0.22" text-anchor="middle" textLength="13.4" lengthAdjust="spacingAndGlyphs">IW2</text><text x="195.30" y="239.90" font-size="7.2" font-family="Liberation Sans" fill="#262626" stroke="#262626" stroke-width="0.22" text-anchor="middle" textLength="13.4" lengthAdjust="spacingAndGlyphs">IW3</text><text x="127.55" y="251.60" font-size="10" font-family="Liberation Sans" fill="#262626" stroke="#262626" stroke-width="0.22" text-anchor="middle" textLength="29.8" lengthAdjust="spacingAndGlyphs">Range</text><text transform="translate(21.20,124.45) rotate(-90)" x="0" y="0" font-size="10" font-family="Liberation Sans" fill="#262626" stroke="#262626" stroke-width="0.22" text-anchor="middle" textLength="38.6" lengthAdjust="spacingAndGlyphs">Azimuth</text><line x1="25.50" x2="25.50" y1="484.6" y2="487.20" stroke="#404040" stroke-width="0.8"/><line x1="90.40" x2="90.40" y1="484.6" y2="487.20" stroke="#404040" stroke-width="0.8"/><line x1="160.20" x2="160.20" y1="484.6" y2="487.20" stroke="#404040" stroke-width="0.8"/><text x="54.70" y="493.00" font-size="7.2" font-family="Liberation Sans" fill="#262626" stroke="#262626" stroke-width="0.22" text-anchor="middle" textLength="13.4" lengthAdjust="spacingAndGlyphs">IW1</text><text x="125.30" y="493.00" font-size="7.2" font-family="Liberation Sans" fill="#262626" stroke="#262626" stroke-width="0.22" text-anchor="middle" textLength="13.4" lengthAdjust="spacingAndGlyphs">IW2</text><text x="195.30" y="493.00" font-size="7.2" font-family="Liberation Sans" fill="#262626" stroke="#262626" stroke-width="0.22" text-anchor="middle" textLength="13.4" lengthAdjust="spacingAndGlyphs">IW3</text><text x="127.55" y="504.70" font-size="10" font-family="Liberation Sans" fill="#262626" stroke="#262626" stroke-width="0.22" text-anchor="middle" textLength="29.8" lengthAdjust="spacingAndGlyphs">Range</text><text transform="translate(21.20,377.50) rotate(-90)" x="0" y="0" font-size="10" font-family="Liberation Sans" fill="#262626" stroke="#262626" stroke-width="0.22" text-anchor="middle" textLength="38.6" lengthAdjust="spacingAndGlyphs">Azimuth</text><line x1="295.80" x2="295.80" y1="231.5" y2="234.10" stroke="#404040" stroke-width="0.8"/><line x1="360.70" x2="360.70" y1="231.5" y2="234.10" stroke="#404040" stroke-width="0.8"/><line x1="430.50" x2="430.50" y1="231.5" y2="234.10" stroke="#404040" stroke-width="0.8"/><text x="325.00" y="239.90" font-size="7.2" font-family="Liberation Sans" fill="#262626" stroke="#262626" stroke-width="0.22" text-anchor="middle" textLength="13.4" lengthAdjust="spacingAndGlyphs">IW1</text><text x="395.60" y="239.90" font-size="7.2" font-family="Liberation Sans" fill="#262626" stroke="#262626" stroke-width="0.22" text-anchor="middle" textLength="13.4" lengthAdjust="spacingAndGlyphs">IW2</text><text x="465.60" y="239.90" font-size="7.2" font-family="Liberation Sans" fill="#262626" stroke="#262626" stroke-width="0.22" text-anchor="middle" textLength="13.4" lengthAdjust="spacingAndGlyphs">IW3</text><text x="398.15" y="251.60" font-size="10" font-family="Liberation Sans" fill="#262626" stroke="#262626" stroke-width="0.22" text-anchor="middle" textLength="29.8" lengthAdjust="spacingAndGlyphs">Range</text><text transform="translate(291.50,124.45) rotate(-90)" x="0" y="0" font-size="10" font-family="Liberation Sans" fill="#262626" stroke="#262626" stroke-width="0.22" text-anchor="middle" textLength="38.6" lengthAdjust="spacingAndGlyphs">Azimuth</text><line x1="295.80" x2="295.80" y1="484.6" y2="487.20" stroke="#404040" stroke-width="0.8"/><line x1="360.70" x2="360.70" y1="484.6" y2="487.20" stroke="#404040" stroke-width="0.8"/><line x1="430.50" x2="430.50" y1="484.6" y2="487.20" stroke="#404040" stroke-width="0.8"/><text x="325.00" y="493.00" font-size="7.2" font-family="Liberation Sans" fill="#262626" stroke="#262626" stroke-width="0.22" text-anchor="middle" textLength="13.4" lengthAdjust="spacingAndGlyphs">IW1</text><text x="395.60" y="493.00" font-size="7.2" font-family="Liberation Sans" fill="#262626" stroke="#262626" stroke-width="0.22" text-anchor="middle" textLength="13.4" lengthAdjust="spacingAndGlyphs">IW2</text><text x="465.60" y="493.00" font-size="7.2" font-family="Liberation Sans" fill="#262626" stroke="#262626" stroke-width="0.22" text-anchor="middle" textLength="13.4" lengthAdjust="spacingAndGlyphs">IW3</text><text x="398.15" y="504.70" font-size="10" font-family="Liberation Sans" fill="#262626" stroke="#262626" stroke-width="0.22" text-anchor="middle" textLength="29.8" lengthAdjust="spacingAndGlyphs">Range</text><text transform="translate(291.50,377.50) rotate(-90)" x="0" y="0" font-size="10" font-family="Liberation Sans" fill="#262626" stroke="#262626" stroke-width="0.22" text-anchor="middle" textLength="38.6" lengthAdjust="spacingAndGlyphs">Azimuth</text><text x="26.70" y="13.3" font-size="10" font-family="Liberation Sans" fill="#262626" stroke="#262626" stroke-width="0.22" textLength="201.5" lengthAdjust="spacingAndGlyphs">Azimuth velocity from PROMICE map [m/y]</text><text x="296.50" y="13.3" font-size="10" font-family="Liberation Sans" fill="#262626" stroke="#262626" stroke-width="0.22" textLength="202.9" lengthAdjust="spacingAndGlyphs">Azimuth velocity from offset tracking [m/y]</text><text x="127.55" y="266.3" font-size="10" font-family="Liberation Sans" fill="#262626" stroke="#262626" stroke-width="0.22" text-anchor="middle" textLength="152.1" lengthAdjust="spacingAndGlyphs">Azimuth velocity from MAI [m/y]</text><text x="398.15" y="266.3" font-size="10" font-family="Liberation Sans" fill="#262626" stroke="#262626" stroke-width="0.22" text-anchor="middle" textLength="169.5" lengthAdjust="spacingAndGlyphs">Azimuth velocity from BO-MAI [m/y]</text><text x="6.1" y="18.8" font-size="12.2" font-family="Liberation Serif" font-weight="bold" fill="#111"><tspan font-weight="normal">(</tspan>a<tspan font-weight="normal">)</tspan></text><text x="274.1" y="18.8" font-size="12.2" font-family="Liberation Serif" font-weight="bold" fill="#111"><tspan font-weight="normal">(</tspan>b<tspan font-weight="normal">)</tspan></text><text x="6.8" y="279.6" font-size="12.2" font-family="Liberation Serif" font-weight="bold" fill="#111"><tspan font-weight="normal">(</tspan>c<tspan font-weight="normal">)</tspan></text><text x="274.0" y="279.6" font-size="12.2" font-family="Liberation Serif" font-weight="bold" fill="#111"><tspan font-weight="normal">(</tspan>d<tspan font-weight="normal">)</tspan></text></svg></body></html>
